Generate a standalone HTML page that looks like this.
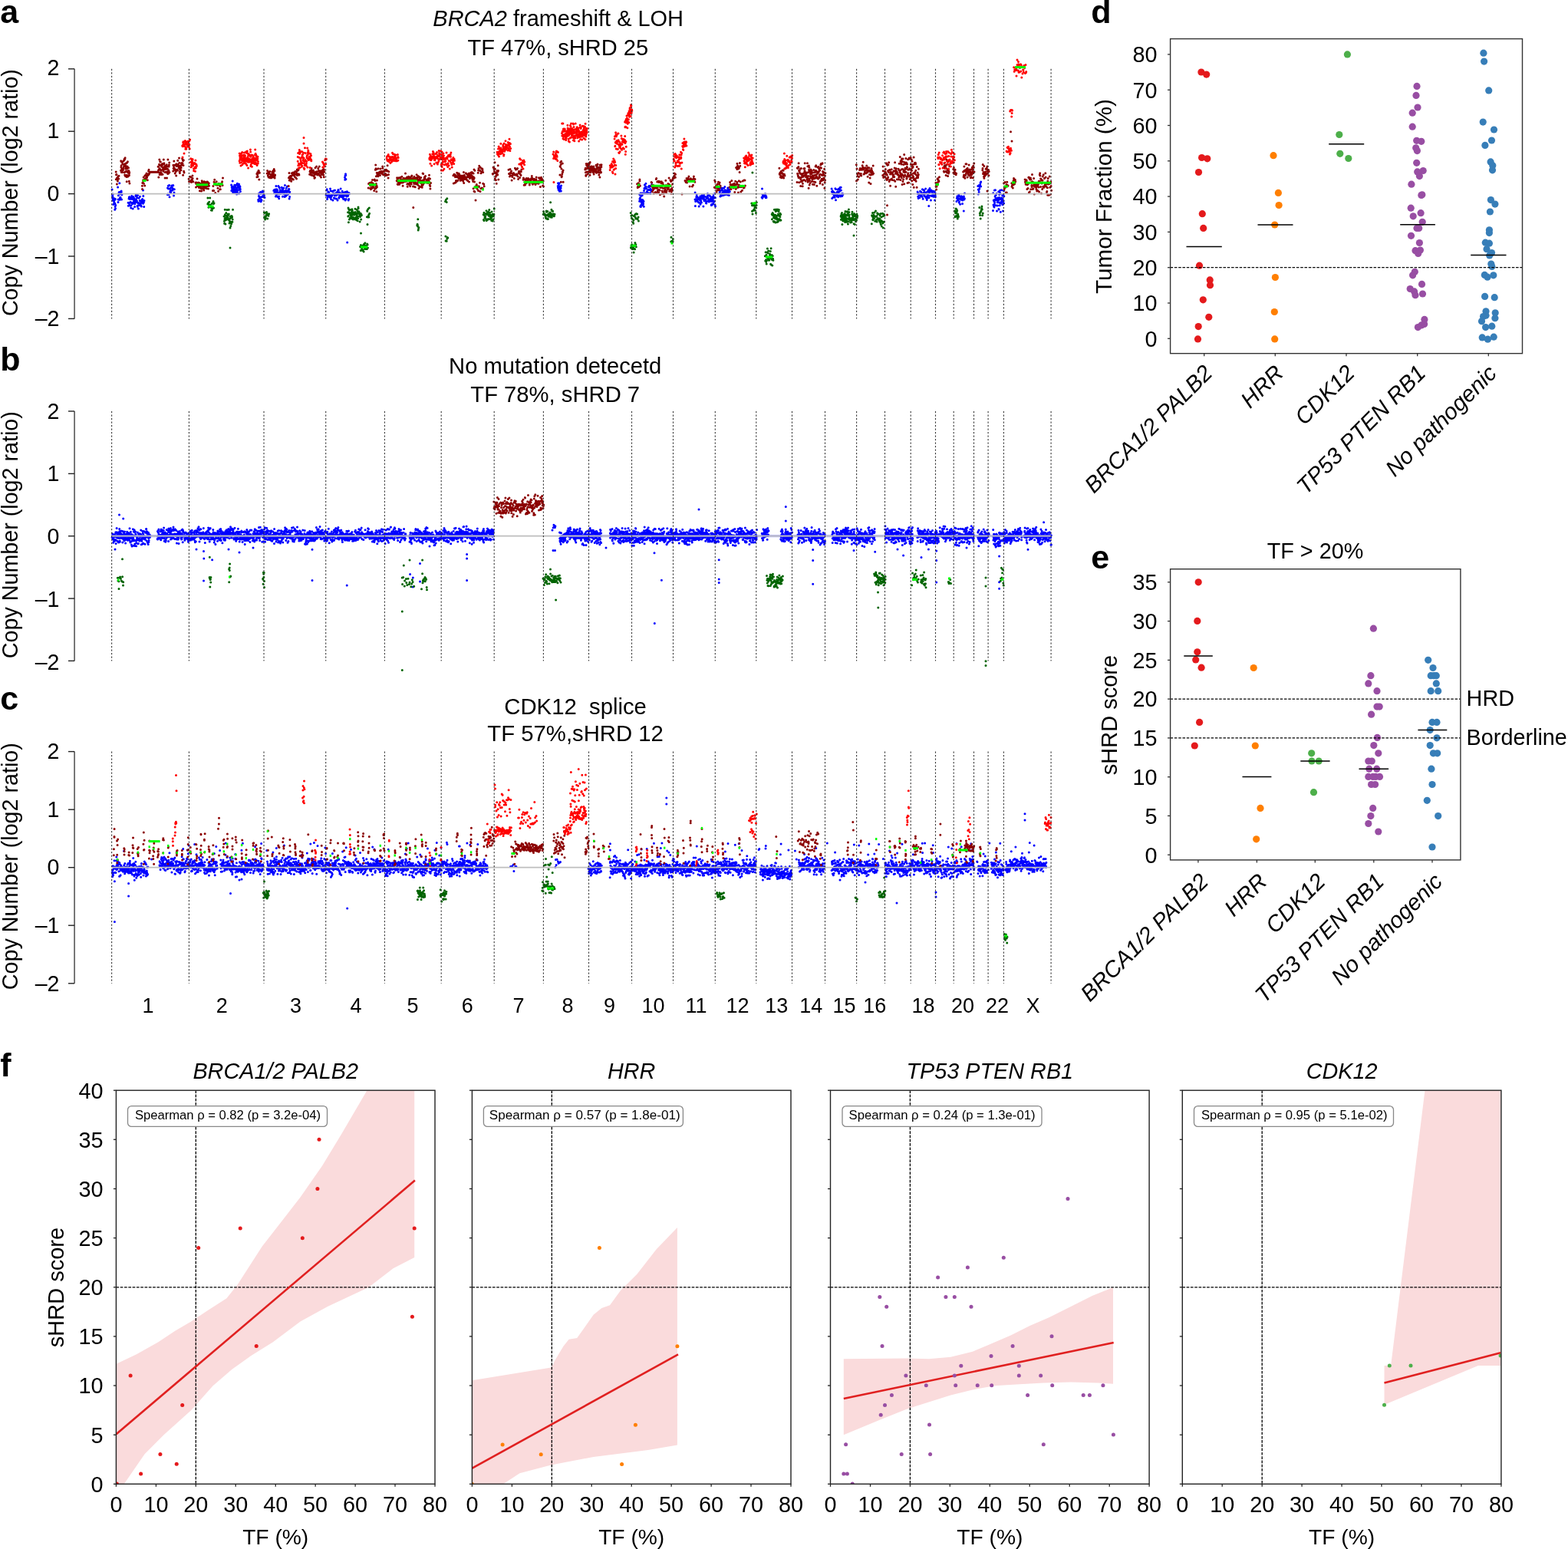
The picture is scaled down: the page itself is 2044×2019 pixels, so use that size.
<!DOCTYPE html>
<html><head><meta charset="utf-8"><title>Figure</title>
<style>html,body{margin:0;padding:0;background:#fff;overflow:hidden;}svg{display:block;}text{font-family:'Liberation Sans', Arial, Helvetica, sans-serif;}</style>
</head><body>
<svg width="2044" height="2019" viewBox="0 0 2044 2019">
<line x1="97.1" y1="89.8" x2="97.1" y2="415.4" stroke="#6a6a6a" stroke-width="1.8"/>
<line x1="89" y1="89.8" x2="97.1" y2="89.8" stroke="#222" stroke-width="1.4"/>
<text x="77.5" y="98.1" font-size="28.6" text-anchor="end">2</text>
<line x1="89" y1="171.2" x2="97.1" y2="171.2" stroke="#222" stroke-width="1.4"/>
<text x="77.5" y="179.9" font-size="28.6" text-anchor="end">1</text>
<line x1="89" y1="252.6" x2="97.1" y2="252.6" stroke="#222" stroke-width="1.4"/>
<text x="77.5" y="261.7" font-size="28.6" text-anchor="end">0</text>
<line x1="89" y1="334" x2="97.1" y2="334" stroke="#222" stroke-width="1.4"/>
<text x="77.5" y="343.5" font-size="28.6" text-anchor="end">–1</text>
<line x1="89" y1="415.4" x2="97.1" y2="415.4" stroke="#222" stroke-width="1.4"/>
<text x="77.5" y="425.3" font-size="28.6" text-anchor="end">–2</text>
<text x="0" y="0" font-size="29.5" text-anchor="middle" textLength="322" lengthAdjust="spacingAndGlyphs" transform="translate(22.6 251.1) rotate(-90)">Copy Number (log2 ratio)</text>
<text x="727.7" y="34.4" font-size="28.8" text-anchor="middle" textLength="326.7" lengthAdjust="spacingAndGlyphs"><tspan font-style="italic">BRCA2</tspan> frameshift &amp; LOH</text>
<text x="727.3" y="71.8" font-size="28.8" text-anchor="middle" textLength="235.7" lengthAdjust="spacingAndGlyphs">TF 47%, sHRD 25</text>
<text x="0.3" y="30.3" font-size="43" font-weight="bold">a</text>
<line x1="97.1" y1="536" x2="97.1" y2="861.4" stroke="#6a6a6a" stroke-width="1.8"/>
<line x1="89" y1="536" x2="97.1" y2="536" stroke="#222" stroke-width="1.4"/>
<text x="77.5" y="545.6" font-size="28.6" text-anchor="end">2</text>
<line x1="89" y1="617.4" x2="97.1" y2="617.4" stroke="#222" stroke-width="1.4"/>
<text x="77.5" y="627.4" font-size="28.6" text-anchor="end">1</text>
<line x1="89" y1="698.7" x2="97.1" y2="698.7" stroke="#222" stroke-width="1.4"/>
<text x="77.5" y="709.1" font-size="28.6" text-anchor="end">0</text>
<line x1="89" y1="780.1" x2="97.1" y2="780.1" stroke="#222" stroke-width="1.4"/>
<text x="77.5" y="790.9" font-size="28.6" text-anchor="end">–1</text>
<line x1="89" y1="861.4" x2="97.1" y2="861.4" stroke="#222" stroke-width="1.4"/>
<text x="77.5" y="872.6" font-size="28.6" text-anchor="end">–2</text>
<text x="0" y="0" font-size="29.5" text-anchor="middle" textLength="322" lengthAdjust="spacingAndGlyphs" transform="translate(22.6 697.2) rotate(-90)">Copy Number (log2 ratio)</text>
<text x="723.7" y="487.3" font-size="28.8" text-anchor="middle" textLength="277.2" lengthAdjust="spacingAndGlyphs">No mutation detecetd</text>
<text x="723.7" y="523.9" font-size="28.8" text-anchor="middle" textLength="220.8" lengthAdjust="spacingAndGlyphs">TF 78%, sHRD 7</text>
<text x="0.3" y="483" font-size="43" font-weight="bold">b</text>
<line x1="97.1" y1="979.6" x2="97.1" y2="1281.8" stroke="#6a6a6a" stroke-width="1.8"/>
<line x1="89" y1="979.6" x2="97.1" y2="979.6" stroke="#222" stroke-width="1.4"/>
<text x="77.5" y="988.8" font-size="28.6" text-anchor="end">2</text>
<line x1="89" y1="1055.2" x2="97.1" y2="1055.2" stroke="#222" stroke-width="1.4"/>
<text x="77.5" y="1064.5" font-size="28.6" text-anchor="end">1</text>
<line x1="89" y1="1130.7" x2="97.1" y2="1130.7" stroke="#222" stroke-width="1.4"/>
<text x="77.5" y="1140.2" font-size="28.6" text-anchor="end">0</text>
<line x1="89" y1="1206.2" x2="97.1" y2="1206.2" stroke="#222" stroke-width="1.4"/>
<text x="77.5" y="1215.9" font-size="28.6" text-anchor="end">–1</text>
<line x1="89" y1="1281.8" x2="97.1" y2="1281.8" stroke="#222" stroke-width="1.4"/>
<text x="77.5" y="1291.6" font-size="28.6" text-anchor="end">–2</text>
<text x="0" y="0" font-size="29.5" text-anchor="middle" textLength="322" lengthAdjust="spacingAndGlyphs" transform="translate(22.6 1129.2) rotate(-90)">Copy Number (log2 ratio)</text>
<text x="750.1" y="930.8" font-size="28.8" text-anchor="middle" textLength="185.6" lengthAdjust="spacingAndGlyphs">CDK12&#160;&#160;splice</text>
<text x="750.1" y="966" font-size="28.8" text-anchor="middle" textLength="229.6" lengthAdjust="spacingAndGlyphs">TF 57%,sHRD 12</text>
<text x="0.3" y="925.3" font-size="43" font-weight="bold">c</text>
<path d="M146.1 246.9h0M146.3 253h0M146.5 254.8h0M146.7 256.2h0M146.9 258.7h0M147 256.6h0M147.2 261.3h0M147.4 253h0M147.7 266.4h0M147.8 259h0M148 266.1h0M148.1 261.6h0M148.3 261.7h0M148.6 263.3h0M148.8 265.6h0M149 258.8h0M149.2 261.1h0M149.3 259.8h0M149.7 273.2h0M149.8 264.9h0M149.9 265.8h0M150.1 269.3h0M150.4 259.6h0M150.5 271.8h0M150.8 267.6h0M150.8 267.5h0M153.6 244.1h0M154 263.5h0M154.1 259.9h0M154.4 254.7h0M154.8 252.2h0M154.9 260.2h0M155.2 250.4h0M155.6 252.4h0M155.8 238.8h0M156.1 260.2h0M156.4 258h0M156.6 251.7h0M157 257.2h0M157.1 250.1h0M157.6 259.3h0M157.9 253.3h0M158.1 249.1h0M158.2 250.5h0M158.5 260.1h0M158.9 253.8h0M167.1 264.2h0M167.3 268.3h0M167.7 264.6h0M168 259h0M168.3 257.1h0M168.5 264.4h0M168.7 267.3h0M168.9 256.8h0M169.2 264.1h0M169.5 259.5h0M169.8 268h0M170.1 263.2h0M170.4 259h0M170.7 270.9h0M171 267.8h0M171.1 257.7h0M171.6 264.6h0M171.7 255.6h0M172.1 259.6h0M172.4 257.4h0M172.4 264.3h0M172.8 265.4h0M173.1 257.8h0M173.2 272h0M173.7 256.5h0M173.9 263.9h0M174.2 259.6h0M174.5 262h0M174.7 264.3h0M175 263.5h0M175.1 258.5h0M175.6 269.5h0M175.7 265.8h0M176 263.5h0M176.2 260.9h0M176.6 261.7h0M176.9 255.5h0M177.2 253.9h0M177.3 263.5h0M177.6 259.8h0M178 262.5h0M178.2 255.4h0M178.5 261.9h0M178.7 257.4h0M179.1 268.2h0M179.2 269.2h0M179.5 254.6h0M179.8 264.5h0M180.1 267.7h0M180.4 272.1h0M180.6 264.8h0M180.8 264.6h0M181.1 258.2h0M181.5 267.5h0M181.6 265h0M182.1 265.8h0M182.2 261.5h0M182.4 256.3h0M182.9 265.9h0M183 261.9h0M183.3 265.4h0M183.7 267.7h0M183.7 268h0M184 263.9h0M184.3 269h0M184.6 261.6h0M185 261.7h0M185.1 260h0M185.4 262.8h0M185.7 259.5h0M186 264.5h0M186.3 264.4h0M186.6 265.3h0M186.8 255.4h0M187.1 261.6h0M187.4 263.7h0M187.7 269.5h0M188 261.6h0M218.4 253.8h0M218.5 244.9h0M218.8 253h0M219.3 242.2h0M219.6 246.1h0M220 253.6h0M220.4 242.1h0M220.6 241.5h0M221 256.7h0M221.6 245.8h0M221.7 250.2h0M222.2 248.3h0M222.6 251.4h0M222.8 250.3h0M223.1 244.5h0M223.7 242h0M224 244h0M224.3 247.4h0M224.8 247.9h0M225 245.5h0M225.6 241.6h0M225.8 241.7h0M226.2 246.6h0M226.5 255h0M227 250.9h0M227.3 246.7h0M301.6 241.1h0M301.8 248.4h0M302.1 242.4h0M302.2 244.4h0M302.6 248.3h0M302.7 246.9h0M303 248.9h0M303.2 235.9h0M303.5 250.5h0M303.8 247.2h0M303.8 250.1h0M304.2 243.7h0M304.3 248.7h0M304.6 245.7h0M305 250.4h0M305.2 245.5h0M305.3 250.1h0M305.7 241.2h0M305.9 251.8h0M306.1 249.8h0M306.2 246.5h0M306.4 248.9h0M306.8 243.4h0M307 250.1h0M307.1 247.5h0M307.3 249.5h0M307.6 250.8h0M307.9 241.1h0M308 248.5h0M308.4 245.5h0M308.6 253.1h0M308.7 247h0M309.1 249.4h0M309.3 239.3h0M309.5 251.8h0M309.7 244.3h0M309.9 248.5h0M310.1 242.1h0M310.5 241.8h0M310.8 244h0M311 252.3h0M311.1 243.6h0M311.5 239.9h0M311.7 246.6h0M311.8 252.2h0M312.1 244.8h0M312.3 247h0M312.5 242.4h0M312.7 246.1h0M313 243.4h0M313.3 246.4h0M313.4 249.4h0M336.6 260.5h0M336.9 262.3h0M337.2 252.5h0M337.4 255.4h0M337.8 256.3h0M338 252h0M338.2 258.5h0M338.5 257.6h0M338.8 261.7h0M339 261.8h0M339.3 258h0M339.6 250.2h0M339.7 252.4h0M340.1 262.8h0M340.3 256.7h0M340.7 260.6h0M341 256.8h0M341 261.1h0M341.3 256.7h0M341.8 252.1h0M342 250.3h0M342.3 248.9h0M342.4 256.2h0M342.8 256.4h0M343.1 254.4h0M343.3 250.1h0M343.5 255.4h0M343.7 256.1h0M344.1 255.9h0M344.4 254.4h0M344.7 257.2h0M345 257.6h0M356.8 248.5h0M357.2 247.7h0M357.3 248.5h0M357.6 251.6h0M358 252.1h0M358.2 251.2h0M358.5 249.8h0M358.8 247h0M359.1 250.3h0M359.3 248h0M359.4 256.1h0M359.9 242.6h0M360 247.1h0M360.4 253.9h0M360.6 250.8h0M360.9 246.7h0M361.1 248.1h0M361.4 249.1h0M361.8 248.1h0M362 256.6h0M362.3 252.6h0M362.6 250.9h0M362.9 242.5h0M363 251.9h0M363.5 255.9h0M363.7 258.7h0M363.9 244h0M364.3 244.9h0M364.5 252.3h0M364.8 250.2h0M365.1 249.5h0M365.3 247.8h0M365.4 252.6h0M366 252.1h0M366.2 250.7h0M366.4 249h0M366.6 249.9h0M367.1 251.9h0M367.2 244.2h0M367.6 250.4h0M367.9 245.7h0M368.1 248.1h0M368.3 248h0M368.5 256.2h0M368.8 245.9h0M369.1 251.9h0M369.4 248.8h0M369.8 250.4h0M369.8 245.1h0M370.2 249.1h0M370.4 253.1h0M370.7 252.2h0M371 250.8h0M371.3 256.5h0M371.4 241.4h0M371.7 255.7h0M372.2 253.7h0M372.4 249.1h0M372.6 248.3h0M373 255.2h0M373.2 245.2h0M373.6 250.1h0M373.6 252.5h0M374 251.7h0M374.4 243h0M374.6 253.5h0M374.8 249.3h0M375.3 248.5h0M375.5 248.4h0M375.8 253.1h0M376 249.2h0M376.3 248.9h0M376.4 246.4h0M376.9 246.5h0M377.1 259.1h0M377.4 251.3h0M377.6 256.5h0M377.8 250.2h0M425 254.1h0M425.3 252.5h0M425.6 254.4h0M426 248.1h0M426.2 246.8h0M426.6 259.4h0M426.9 257.2h0M427.4 254.8h0M427.8 251.4h0M428 250h0M428.5 256h0M428.7 251.1h0M429.1 254.3h0M429.3 252.7h0M429.6 255.9h0M430.1 257.2h0M430.5 245.9h0M430.7 255.6h0M431.1 248.7h0M431.5 256.9h0M431.6 259.8h0M431.9 254.7h0M432.4 253.6h0M432.6 255.3h0M433.2 249.3h0M433.5 253.2h0M433.8 253h0M433.9 261.1h0M434.3 253.2h0M434.6 252h0M435.2 248.4h0M435.4 258h0M435.6 258h0M436.2 254.7h0M436.5 247.9h0M436.8 258.7h0M437.1 252.3h0M437.4 253.5h0M437.6 254.6h0M438.2 254.7h0M438.5 259.1h0M438.8 250.9h0M439 253.7h0M439.3 250.8h0M439.9 249.7h0M440 261h0M440.4 250.6h0M440.9 247.4h0M441.2 247.8h0M441.4 253.2h0M441.8 258.2h0M442 256.8h0M442.4 250.7h0M442.9 254h0M443.2 256.3h0M443.4 253.4h0M443.6 255.2h0M444.1 245.9h0M444.5 252.6h0M444.8 251.9h0M445.1 255.4h0M445.6 256.7h0M445.9 256.6h0M446.2 249.3h0M446.6 252.3h0M447 254h0M447.3 258.4h0M447.5 256.2h0M447.7 259.6h0M448.1 251.3h0M448.6 253.1h0M448.9 251.5h0M449.2 259.4h0M449.6 250.4h0M449.7 255h0M450.2 261.1h0M450.4 251.9h0M450.7 253.3h0M451.2 259.4h0M451.4 249.9h0M452 256.1h0M452.2 250.9h0M452.6 249.7h0M452.7 253.5h0M453.1 252.2h0M453.5 255.4h0M453.9 254.1h0M454.2 260.9h0M454.7 259.4h0M454.9 251.4h0M455.4 252.4h0M449.5 231.2h0M449.8 234.3h0M450 229h0M450.2 233.9h0M450.3 233.4h0M450.5 226.7h0M450.7 228.4h0M450.9 233.5h0M727.2 242.4h0M727.4 244.8h0M727.5 238.7h0M727.9 243.2h0M728 247.2h0M728.3 245.5h0M728.5 240.4h0M728.7 247.7h0M729.1 238.8h0M729.3 249.3h0M729.5 247.4h0M729.7 247.3h0M729.8 243.3h0M730.2 247h0M730.4 246.3h0M730.7 244.4h0M730.9 245.6h0M731.1 245h0M731.3 248.9h0M731.6 242.1h0M833.5 253.1h0M833.6 262.3h0M833.9 259.2h0M834.1 254.1h0M834.4 262.3h0M834.6 257.5h0M834.8 269.2h0M835.1 268.1h0M835.4 262.7h0M835.4 269.6h0M835.8 260.3h0M836 266.9h0M836.2 255.2h0M836.5 265h0M836.6 263h0M836.9 265.1h0M837.2 254.5h0M837.5 261.8h0M837.6 260.5h0M837.8 267.1h0M838.1 267.7h0M838.4 263.4h0M838.6 265.8h0M838.7 261.8h0M839 262.4h0M839.3 269.2h0M839.5 248.6h0M839.9 245.6h0M840.4 240.9h0M840.7 245.7h0M841.4 243.4h0M841.7 243h0M841.9 239.2h0M842.3 243.7h0M842.8 246h0M843.4 249.5h0M843.7 250.6h0M844.2 251.1h0M844.3 251.7h0M845.1 247.6h0M845.3 243.4h0M845.7 246.9h0M846.3 242.2h0M846.5 243.6h0M847.1 247.5h0M847.3 242.8h0M847.7 252h0M848 246.3h0M848.6 242.7h0M848.9 249.1h0M849.6 240.4h0M849.7 247.7h0M906 260.1h0M906.1 251.1h0M906.4 268.4h0M906.7 262.4h0M906.9 259.7h0M907.3 260.6h0M907.4 261.3h0M907.8 256.9h0M908 256h0M908.2 253.5h0M908.4 257.3h0M908.7 256.5h0M909.1 256.5h0M909.2 260.4h0M909.6 260h0M909.8 263.1h0M910.1 259.5h0M910.3 259.2h0M910.6 258.6h0M910.9 263.9h0M911.1 269.1h0M911.3 259h0M911.7 257.9h0M912 258.4h0M912 258.3h0M912.5 261h0M912.8 256.1h0M913 266.2h0M913 264.7h0M913.4 259.8h0M913.7 261.9h0M913.8 262h0M914.3 258.4h0M914.4 263.9h0M914.7 256.2h0M915 254.5h0M915.2 257.2h0M915.6 255.6h0M915.9 255.5h0M916 258.9h0M916.2 256.4h0M916.6 258.2h0M916.9 269.1h0M917.1 258.3h0M917.4 255.6h0M917.7 253.5h0M917.9 260.4h0M918 261.7h0M918.4 259.8h0M918.6 261.1h0M918.8 256.3h0M919.1 260.8h0M919.4 261.9h0M919.7 261.1h0M919.9 260.7h0M920.2 261.9h0M920.4 264.8h0M920.8 264.9h0M920.8 257.2h0M921.2 258.5h0M921.3 262.5h0M921.8 257h0M921.9 256.1h0M922.4 252.6h0M922.4 256.8h0M922.9 258h0M922.9 253.9h0M923.2 262h0M923.6 259.5h0M923.7 260.1h0M924.2 262.9h0M924.2 254.3h0M924.4 261.7h0M924.8 262.5h0M925 260.6h0M925.5 255.6h0M925.5 260.4h0M925.8 261h0M926.2 262.3h0M926.3 259.2h0M926.7 260.2h0M926.8 257.9h0M927.3 267.5h0M927.4 266.6h0M927.7 262.5h0M927.8 257h0M928.2 267.1h0M928.3 262h0M928.6 258.7h0M929 265.9h0M929.1 258.4h0M929.3 260.4h0M929.8 265.3h0M929.9 255.8h0M930.1 253.3h0M930.6 257.3h0M930.8 262.9h0M931 257.9h0M931.3 257.9h0M931.4 262.4h0M931.8 252.2h0M932.1 267.2h0M932.4 257.8h0M932.5 269.1h0M937.6 248h0M937.7 245.6h0M938.2 251.8h0M938.3 250.2h0M938.5 248.9h0M938.9 255.9h0M939.3 253.4h0M939.4 248.6h0M939.8 245.1h0M940 245.1h0M940.2 255.3h0M940.6 247.7h0M940.9 252.7h0M941.1 252.1h0M941.5 254.7h0M941.6 245.2h0M941.9 248.2h0M942.1 248.4h0M942.5 251.5h0M942.6 250.2h0M943 249h0M943.1 254.4h0M943.5 245.2h0M943.7 250.6h0M944.2 252.3h0M944.4 250.5h0M944.6 250.1h0M944.8 243.6h0M945.2 247.8h0M945.3 253.8h0M945.7 249.2h0M945.8 250.2h0M946.2 252.3h0M946.5 249.9h0M946.6 252.8h0M946.9 253.2h0M947.3 248h0M947.5 250.6h0M947.9 249.9h0M948 249h0M948.4 253.9h0M948.7 245h0M948.8 247.7h0M949.1 249.4h0M949.4 254h0M949.6 250.9h0M949.9 250.9h0M950.3 254.6h0M950.5 248.9h0M950.9 247.1h0M951.2 250.1h0M951.3 249.6h0M993.1 257.2h0M993.5 246.1h0M993.8 258.2h0M994.1 253.4h0M994.3 255.8h0M994.6 253.8h0M995.2 256.3h0M995.4 254.4h0M995.6 253.4h0M996 254.5h0M996.2 253.6h0M996.7 255.6h0M996.8 253.1h0M997.3 253.7h0M997.5 255.9h0M997.8 252.7h0M998.3 257.8h0M998.5 255.5h0M998.8 256h0M999 257.6h0M1084.1 245.9h0M1084.4 249.9h0M1084.7 258.5h0M1085.3 252.4h0M1085.3 248.7h0M1085.9 257.3h0M1086.1 252.7h0M1086.4 250.3h0M1086.9 250.6h0M1087.2 254.5h0M1087.5 251.8h0M1087.7 255.9h0M1088.2 257.3h0M1088.6 251.8h0M1088.6 253.2h0M1088.9 245.7h0M1089.5 260.8h0M1089.6 246.6h0M1089.9 254.4h0M1090.2 252.3h0M1090.5 254.5h0M1091.2 255.9h0M1091.3 250.2h0M1091.7 253.3h0M1092.1 247.1h0M1092.5 250h0M1092.8 256.7h0M1092.9 256.2h0M1093.3 250.7h0M1093.5 245.9h0M1093.8 254.9h0M1094.4 246.5h0M1094.7 254.4h0M1094.9 248.9h0M1095.3 244.2h0M1095.5 247.9h0M1095.9 255.9h0M1096.2 244.2h0M1096.4 248h0M1096.8 254.7h0M1097.1 254.8h0M1097.7 252.3h0M1097.9 255.6h0M1098.1 253.8h0M1098.6 252.5h0M1098.8 253.4h0M1196.1 249.9h0M1196.3 252.5h0M1196.7 256.3h0M1197 251.9h0M1197.2 258.5h0M1197.7 252.6h0M1198.1 252.4h0M1198.3 253h0M1198.4 254.2h0M1199 257.6h0M1199.2 254.3h0M1199.5 249.3h0M1199.8 254.2h0M1200.2 255.2h0M1200.4 254.6h0M1200.7 250.3h0M1201.1 250.7h0M1201.2 253.6h0M1201.7 252.7h0M1201.8 252.1h0M1202.3 256.6h0M1202.4 246.8h0M1202.8 252.6h0M1203.2 259.3h0M1203.3 253h0M1203.7 247.4h0M1204.2 251.2h0M1204.4 253.9h0M1204.7 248.3h0M1205 253.7h0M1205.1 250.9h0M1205.5 256h0M1205.9 252.3h0M1206.1 251.1h0M1206.6 246.1h0M1206.8 251.2h0M1207.1 251.8h0M1207.3 257.9h0M1207.7 258h0M1207.9 255.9h0M1208.3 260.4h0M1208.7 249.9h0M1208.9 255.6h0M1209 257.7h0M1209.4 253.6h0M1209.9 253.4h0M1210.1 247.8h0M1210.3 248.5h0M1210.6 250.4h0M1211 257.8h0M1211.3 255.2h0M1211.5 251.4h0M1211.8 246.9h0M1212 245.5h0M1212.4 248.6h0M1212.9 248.7h0M1212.9 249.6h0M1213.4 261.1h0M1213.8 255.3h0M1214.1 248h0M1214.2 249.6h0M1214.8 250.2h0M1214.8 255.4h0M1215.1 255.1h0M1215.5 252h0M1215.9 252.5h0M1216.2 249.2h0M1216.5 254h0M1216.7 256.3h0M1217.1 252.2h0M1217.3 252.6h0M1217.6 256.2h0M1217.9 249.4h0M1218.3 250.4h0M1218.6 261.1h0M1219 251.6h0M1219.2 254.2h0M1219.4 256.6h0M1246.9 262.5h0M1247.3 258.2h0M1247.8 256.1h0M1248 258.6h0M1248.5 260.7h0M1248.5 256h0M1249.2 258.5h0M1249.4 260.5h0M1249.8 254.1h0M1250.2 264.1h0M1250.5 262.9h0M1250.6 255.4h0M1251.2 258.8h0M1251.6 266.2h0M1251.8 258.6h0M1252.2 257.8h0M1252.5 260.3h0M1252.7 258.3h0M1253.2 255.7h0M1253.7 256.2h0M1253.7 260.3h0M1254.1 257.6h0M1254.6 265.4h0M1254.8 261.1h0M1255.3 256.5h0M1255.7 257.2h0M1256.1 259.4h0M1256.2 257.3h0M1256.4 255.9h0M1257 260h0M1257.4 258.8h0M1257.5 252h0M1274.8 242.5h0M1275.2 252.9h0M1275.3 247.1h0M1275.8 247.7h0M1276.2 250.3h0M1276.3 241.6h0M1276.8 246h0M1277.1 243.3h0M1277.4 241.8h0M1277.7 241.1h0M1278 238.5h0M1278.6 243.1h0M1278.7 237h0M1294.5 274.5h0M1294.7 251.7h0M1295 266.9h0M1295.3 261h0M1295.6 269h0M1295.7 262.2h0M1296 270.1h0M1296.1 266.4h0M1296.4 248.1h0M1296.7 264.2h0M1296.9 260.1h0M1297.1 256.3h0M1297.3 261.2h0M1297.5 247.8h0M1297.7 254.8h0M1298 259.6h0M1298.1 254.4h0M1298.4 267.7h0M1298.6 258.4h0M1298.8 259.4h0M1299.1 252.2h0M1299.3 260.1h0M1299.5 275h0M1299.7 258.5h0M1300 260.9h0M1300.3 263.7h0M1300.4 268h0M1300.5 259.3h0M1300.8 260.5h0M1301.1 257.8h0M1301.2 261.5h0M1301.6 261.2h0M1301.7 249.7h0M1301.9 272.6h0M1302.1 273.1h0M1302.4 259.8h0M1302.6 253.4h0M1302.9 264.2h0M1303 257.5h0M1303.2 267.7h0M1303.4 251.1h0M1303.8 248.1h0M1303.9 252.5h0M1304.3 276.2h0M1304.4 264.9h0M1304.7 263.6h0M1304.8 260h0M1305.1 258.9h0M1305.3 264.5h0M1305.5 264.1h0M1305.7 247.8h0M1305.9 258.3h0M1306.1 257.7h0M1306.3 261.2h0M1306.7 254.4h0M1306.9 266.7h0M1307 259.5h0M1307.2 263h0M1307.6 274.9h0M1307.8 253.5h0M1308 254.5h0M1308.2 261.8h0M1308.5 248.7h0M1308.6 265.1h0M1308.8 255.8h0M452.7 315.9h0M1210.8 268.4h0M1256.3 275h0M186.5 248h0" stroke="#0000ff" stroke-width="3.0" stroke-linecap="round" fill="none"/>
<path d="M270.8 266h0M270.9 257.9h0M271.2 264.7h0M271.6 265.9h0M271.9 270.3h0M272.5 268.6h0M272.7 263.3h0M273.1 268h0M273.5 267.3h0M273.7 257.9h0M274.2 267.1h0M274.4 267.9h0M274.9 270.2h0M275.2 269.5h0M275.4 274.1h0M275.7 270.8h0M276.3 274.2h0M276.3 265.3h0M276.9 265.1h0M276.9 272h0M277.4 270.9h0M277.9 271.3h0M278 262.4h0M278.5 271h0M278.6 265.4h0M279 264.8h0M292 282.1h0M292.4 288.3h0M292.6 291.3h0M292.9 285.6h0M293.2 273.3h0M293.3 279.7h0M293.6 284.3h0M293.9 292.1h0M294.2 285.8h0M294.4 286.7h0M294.5 281.2h0M294.8 277.4h0M295.1 284.2h0M295.3 284.7h0M295.7 281.7h0M295.9 273.5h0M296.1 281.1h0M296.3 283.3h0M296.6 285.7h0M296.9 279.2h0M297.1 283.2h0M297.3 285.6h0M297.6 280.6h0M297.8 279.8h0M298.2 273.2h0M298.3 279h0M298.6 287.1h0M299 290.9h0M299.2 285.9h0M299.5 288.2h0M299.7 289.4h0M299.8 284.8h0M300 296.9h0M300.3 282.1h0M300.5 290.2h0M300.8 294.5h0M301.2 283.7h0M301.3 283.8h0M301.6 291.8h0M301.9 289.3h0M302.1 281.6h0M302.5 282.7h0M302.6 282.9h0M302.9 289.3h0M303.2 286h0M303.5 273.2h0M344.3 277.1h0M344.6 282.7h0M344.7 283.4h0M345 277.5h0M345.6 286.1h0M345.7 282.3h0M346.3 283.8h0M346.5 282h0M347 280.3h0M347 276.7h0M347.5 276.4h0M347.7 279.4h0M348 278.2h0M348.4 279.3h0M348.7 285h0M349.1 280.3h0M349.3 279.2h0M349.8 279.4h0M350 281.3h0M350.6 278.8h0M453.5 276.8h0M453.8 282h0M454 271.1h0M454.2 281.5h0M454.4 289.7h0M454.7 272.8h0M454.9 276.6h0M455.1 273.6h0M455.4 286.1h0M455.6 278h0M455.8 278.2h0M456.1 277.4h0M456.3 284h0M456.6 279.5h0M456.7 273.5h0M456.9 283.8h0M457.3 280.8h0M457.6 284.4h0M457.6 281.3h0M457.9 279.2h0M458.2 282.3h0M458.4 276.3h0M458.7 280.5h0M458.9 272.7h0M459 278.4h0M459.3 274.6h0M459.7 285h0M459.7 285.8h0M460.1 283.4h0M460.3 278.9h0M460.5 277.3h0M460.7 280.1h0M461 278.1h0M461.2 276.9h0M461.4 283.7h0M461.6 284.7h0M461.9 285.7h0M462.2 279.7h0M462.3 280.1h0M462.5 278.3h0M462.8 277h0M463 272.3h0M463.2 276.6h0M463.4 284.2h0M463.7 278.6h0M463.9 277.9h0M464.3 283h0M464.3 278.6h0M464.6 286.7h0M464.9 284h0M465.1 273.2h0M465.2 280.5h0M465.7 281.9h0M465.9 277.7h0M466.1 275.3h0M466.2 287.7h0M466.5 278.1h0M466.8 284.4h0M467 270h0M467.1 271.8h0M467.4 278.2h0M467.8 278.3h0M467.9 275.7h0M468.2 281.7h0M468.5 278.8h0M468.6 277.6h0M468.9 281.9h0M469.1 288.9h0M469.2 277.9h0M469.6 282.4h0M469.7 279.5h0M470.1 278.5h0M470.2 278.3h0M470.4 279h0M470.7 285.9h0M471 279.4h0M471.1 280.7h0M471.4 280.5h0M469.6 321.4h0M470.2 326.5h0M470.4 319.5h0M470.9 322.5h0M471.2 320.5h0M471.6 323.8h0M471.9 324.6h0M472.4 322.3h0M472.7 326.5h0M473.2 325.9h0M473.6 319.6h0M474.1 328h0M474.4 319.5h0M474.7 318h0M475.1 319.2h0M475.5 324.3h0M475.9 316.7h0M476.5 320.9h0M476.6 324.6h0M476.9 322.4h0M477.6 320.2h0M477.7 320.3h0M478.4 324.4h0M478.7 318h0M479.1 319h0M479.4 322.9h0M478.4 282.8h0M478.7 274.6h0M478.8 275.2h0M479.4 283.1h0M479.8 272.4h0M480.2 281.5h0M480.8 283.1h0M480.8 280.1h0M481.3 271.1h0M481.6 278.2h0M543.8 293.7h0M544.1 292.3h0M544.4 293.6h0M544.5 294.9h0M544.8 285.8h0M545.2 300.1h0M545.6 298h0M545.9 296.4h0M580.5 262.6h0M581.3 260.5h0M582.2 263.4h0M582.8 258.8h0M580.9 308h0M581.1 314h0M582.2 314.2h0M582.8 311.2h0M583.2 309.5h0M583.8 309.9h0M630.2 279.7h0M630.4 286.5h0M630.9 277.2h0M631 287.6h0M631.3 280.3h0M631.7 281.2h0M631.9 284h0M632.3 282.1h0M632.7 284h0M632.8 282.1h0M633.2 278.5h0M633.7 286h0M634 274.7h0M634.2 287.6h0M634.5 279.6h0M634.7 277.9h0M635 285.9h0M635.4 286.6h0M635.6 276.7h0M635.9 278.9h0M636.4 285.5h0M636.7 276h0M637 281.3h0M637.3 276.8h0M637.5 280h0M637.8 273.5h0M638.3 285.4h0M638.4 277.3h0M638.8 279.6h0M639 282.5h0M639.3 280.2h0M639.7 282.8h0M639.9 284.8h0M640.3 285h0M640.7 287.6h0M641 276h0M641.2 282.7h0M641.6 280.8h0M642 279.2h0M642.2 288h0M642.5 281h0M642.9 281h0M643.1 286.1h0M643.5 281.5h0M643.9 279.2h0M644.2 271.9h0M708.2 279.3h0M708.6 275.8h0M708.7 279.7h0M709.1 278.2h0M709.5 278.7h0M709.7 279.6h0M710.1 279h0M710.4 279.8h0M710.7 280.8h0M711.2 283h0M711.6 284.5h0M711.8 280.4h0M712.2 275h0M712.4 276.3h0M712.6 284.6h0M713 280.4h0M713.5 285.4h0M713.8 275.6h0M713.9 280.8h0M714.4 285.4h0M714.7 278.9h0M715 279.1h0M715.2 282.2h0M715.8 280h0M716 280.9h0M716.4 279.7h0M716.8 279.2h0M716.9 277.1h0M717.2 280.8h0M717.5 281.8h0M717.8 283h0M718.3 279.7h0M718.7 278.7h0M718.9 273.2h0M719.3 283.2h0M719.6 280.9h0M719.8 275.2h0M720.1 280.3h0M720.6 275.2h0M720.8 280.9h0M721.3 278.8h0M721.6 280.1h0M721.8 279.9h0M722.3 281.8h0M722.5 281.6h0M723 279.3h0M822.2 277.6h0M822.9 281.2h0M823.4 284.3h0M823.8 280.5h0M824.5 285.6h0M825.2 289.7h0M825.7 291.2h0M825.9 287.1h0M826.3 281.6h0M826.9 281.8h0M827.7 279.7h0M828.2 283h0M828.7 285h0M829.3 278.5h0M829.9 279.1h0M830.1 284.9h0M830.6 278.9h0M831.2 285.6h0M832.1 283h0M832.4 288h0M822.4 322.5h0M822.6 323.2h0M822.9 320h0M823.4 322.6h0M823.6 318.7h0M824.2 319.7h0M824.2 320.6h0M824.7 319.8h0M825 324.6h0M825.6 319.9h0M825.7 321.9h0M826.1 329.1h0M826.4 320.8h0M826.9 324.3h0M827.2 319.7h0M827.6 324.8h0M827.9 316.4h0M828.4 320.5h0M828.8 318.7h0M829.3 321.7h0M874.7 314.9h0M875 309.2h0M875.6 314.2h0M876.3 315.3h0M877.1 314.5h0M877.3 311.4h0M979.8 264.9h0M980.5 275.3h0M980.5 267.8h0M981 279.1h0M981.4 274.8h0M981.6 267h0M982.1 267.3h0M982.5 266.7h0M982.7 267.7h0M982.9 272.9h0M983.4 265.2h0M983.8 268.3h0M983.9 270.8h0M984.2 274.3h0M984.7 264.5h0M985.1 267.9h0M985.4 277.6h0M985.7 270.9h0M986.1 267.4h0M986.3 263.8h0M997.3 333.8h0M997.7 340h0M998.1 328.8h0M998.4 338.7h0M998.7 341.2h0M999 332.2h0M999.2 343.9h0M999.5 339.6h0M999.7 334.7h0M1000.3 328.8h0M1000.4 324h0M1000.8 337h0M1001.1 329.7h0M1001.4 336.9h0M1001.7 327.1h0M1001.9 337.1h0M1002.2 336h0M1002.4 339.2h0M1002.9 338.7h0M1003 335.6h0M1003.5 332.8h0M1003.6 331h0M1004 334.8h0M1004.3 327.4h0M1004.6 344.2h0M1005 336.7h0M1005.1 323.8h0M1005.6 345.2h0M1005.9 336.7h0M1006.2 332.4h0M1006.5 338.6h0M1006.8 346.1h0M1007.1 336.9h0M1007.2 333.6h0M1007.6 337.3h0M1007.9 339.3h0M1006.2 279.3h0M1006.4 285.7h0M1006.8 280.2h0M1006.8 280.1h0M1007.1 277.6h0M1007.4 278.5h0M1007.8 278.5h0M1008 279.5h0M1008.2 288.4h0M1008.5 283.5h0M1008.8 289.3h0M1008.9 281.9h0M1009.4 273.3h0M1009.6 288.8h0M1009.7 284.3h0M1010.1 283.4h0M1010.3 280.2h0M1010.6 280.3h0M1010.7 284.9h0M1011 289.9h0M1011.2 275.6h0M1011.7 272.9h0M1012 282.9h0M1012 282.5h0M1012.4 274.8h0M1012.5 281.3h0M1012.9 289.6h0M1013.1 286.2h0M1013.4 284.8h0M1013.8 272.9h0M1014 281.1h0M1014.2 289h0M1014.5 279.1h0M1014.7 280.3h0M1015.1 275.8h0M1015.4 273.5h0M1015.6 287h0M1015.8 286.3h0M1016.1 285.5h0M1016.2 281.4h0M1016.7 287h0M1016.9 282.4h0M1017.1 278.3h0M1017.4 287.2h0M1017.7 279.6h0M1017.9 286.9h0M1096.1 282.1h0M1096.3 281.1h0M1096.4 286.2h0M1096.7 283h0M1097 278.8h0M1097.2 280.3h0M1097.3 286.2h0M1097.5 277.6h0M1097.8 283.9h0M1097.9 292.4h0M1098.2 284.8h0M1098.4 285.6h0M1098.5 280.5h0M1098.9 281.3h0M1098.9 287.9h0M1099.3 280.2h0M1099.4 284.1h0M1099.7 286.1h0M1099.8 280.7h0M1100 280.6h0M1100.4 286.6h0M1100.4 279.4h0M1100.7 287.2h0M1100.9 282.2h0M1101 278.4h0M1101.4 284.8h0M1101.6 289.6h0M1101.7 283.3h0M1101.9 275.4h0M1102.2 286.4h0M1102.5 287.1h0M1102.6 286.2h0M1102.8 279.9h0M1103 281.2h0M1103.2 276.1h0M1103.5 284.5h0M1103.7 289.2h0M1103.9 285.4h0M1103.9 288h0M1104.3 281h0M1104.5 280.3h0M1104.6 275.8h0M1104.9 280.3h0M1105.2 280h0M1105.3 278.4h0M1105.4 292h0M1105.8 284.9h0M1106 285.3h0M1106.1 288.7h0M1106.3 285.6h0M1106.4 273.1h0M1106.8 281.3h0M1106.9 276.4h0M1107.1 282.9h0M1107.3 280h0M1107.6 284.7h0M1107.7 286h0M1107.9 286.6h0M1108.2 285.7h0M1108.3 285h0M1108.5 287h0M1108.8 289.9h0M1109 285h0M1109.2 287.4h0M1109.6 288h0M1109.7 285.5h0M1109.8 284.5h0M1110.2 289.5h0M1110.3 286.7h0M1110.6 278.9h0M1110.7 285.1h0M1111 276.2h0M1111.1 283.7h0M1111.4 280.2h0M1111.5 281h0M1111.7 284.2h0M1111.9 282.3h0M1112.2 281.4h0M1112.4 281.7h0M1112.5 282.3h0M1112.7 286.8h0M1113.1 291.8h0M1113.3 286.6h0M1113.5 278.4h0M1113.6 280h0M1113.9 281.7h0M1114.1 285.4h0M1114.3 292.5h0M1114.5 281.6h0M1114.6 280.6h0M1115 282.1h0M1115.1 280.2h0M1115.4 285.7h0M1115.5 288.8h0M1115.7 286.1h0M1115.8 284.9h0M1116.1 280.6h0M1116.3 283h0M1116.5 287h0M1116.9 279.1h0M1117 280.5h0M1117.3 283.9h0M1117.5 282.5h0M1117.7 281.3h0M1136.3 291.7h0M1136.6 280.7h0M1137 282h0M1137.5 277.5h0M1137.7 286.2h0M1137.9 286.7h0M1138.4 283.9h0M1138.9 280.3h0M1139 282.7h0M1139.5 284.9h0M1139.9 277h0M1140.4 282.1h0M1140.7 288.2h0M1141.1 282.2h0M1141.5 275h0M1141.6 282.4h0M1142.2 282h0M1142.6 286.2h0M1142.8 281.8h0M1143.1 288.9h0M1143.6 277.7h0M1144 284.5h0M1144.2 279.2h0M1144.9 285.9h0M1145.1 278.9h0M1145.3 285.2h0M1145.9 286.7h0M1146.3 284.7h0M1146.5 288.5h0M1146.8 285.2h0M1147.2 281h0M1147.6 290.3h0M1147.9 278.6h0M1148.2 292.4h0M1148.8 287.5h0M1149 282.9h0M1149.3 295.1h0M1149.9 288.6h0M1150.2 278.2h0M1150.7 291h0M1151 281.8h0M1151.4 297.1h0M1151.8 278.9h0M1152.1 289.3h0M1152.4 289.3h0M1152.9 281.1h0M1244.7 275.1h0M1245.1 282.8h0M1245.2 282h0M1245.5 277.6h0M1246 271.9h0M1246.4 278h0M1246.6 281.4h0M1246.9 272.7h0M1247.2 276.1h0M1247.7 274.4h0M1248 282.9h0M1248.3 284.9h0M1248.6 279.1h0M1248.8 280.2h0M1249.2 281.7h0M1249.5 282.6h0M1276.8 270.5h0M1277.3 277.9h0M1277.6 280.4h0M1278.1 276.6h0M1278.2 285.1h0M1278.6 275.8h0M1278.9 275.6h0M1279.3 273.6h0M1279.7 271.4h0M1279.9 268.9h0M1280.3 273.1h0M1280.6 280.8h0M1281.2 277.9h0M300 323h0M479 292.6h0M470.5 304h0M717.6 263.7h0M980.9 224.9h0M1113 307h0" stroke="#006400" stroke-width="3.0" stroke-linecap="round" fill="none"/>
<path d="M151.2 223.9h0M151.3 233.8h0M151.5 227.8h0M151.8 227.6h0M152 227.5h0M152.4 239.9h0M152.5 232h0M152.8 233.6h0M153.2 234h0M153.4 236h0M153.5 231.8h0M153.9 230.1h0M154 229.9h0M154.3 233.2h0M154.7 233h0M155 229.2h0M157.5 222.3h0M157.7 209.7h0M157.9 217.8h0M158.1 215.8h0M158.3 224.4h0M158.4 210.9h0M158.7 219.2h0M158.8 220.1h0M159 223.1h0M159.2 220.8h0M159.4 223.8h0M159.6 224.4h0M159.8 213.6h0M159.9 210.7h0M160 221h0M160.3 220.3h0M160.5 221.5h0M160.6 219.8h0M160.8 219.5h0M161 214.3h0M161.1 209.4h0M161.4 217.4h0M161.5 217.2h0M161.7 209h0M161.8 215h0M162.1 207.3h0M162.2 224.8h0M162.4 207.8h0M162.6 214.6h0M162.7 227.9h0M162.8 207.4h0M163.1 205.7h0M163.3 213.3h0M163.4 229.5h0M163.6 223.8h0M163.8 219.9h0M163.9 216h0M164.1 217.8h0M164.3 213h0M164.6 223.1h0M164.6 228.9h0M164.9 223.6h0M165 230.6h0M165.2 236.8h0M165.4 228.3h0M165.6 219.7h0M165.7 212.1h0M166 229.3h0M166.1 217.1h0M166.2 230.3h0M166.4 210.8h0M166.7 224.7h0M166.8 229.9h0M166.9 222.8h0M167.1 223.9h0M167.3 229.6h0M167.5 218.8h0M167.7 225.4h0M167.9 222.6h0M167.9 226.1h0M168.3 236.2h0M168.4 228.4h0M168.5 226h0M168.7 224.4h0M168.9 239h0M185.4 242.2h0M185.5 246.6h0M185.8 238.6h0M186.2 237.6h0M186.6 234.8h0M187.2 230.9h0M187.4 239.2h0M187.8 235.2h0M188.2 234.3h0M188.7 241.9h0M188.9 228.9h0M189.4 233.1h0M189.9 228h0M190.1 233.4h0M190.4 232.1h0M191 225.9h0M191.2 229.6h0M191.6 231.3h0M192.3 234.8h0M192.7 228.8h0M193.1 227.8h0M193.3 227.1h0M193.6 223.1h0M194 221.2h0M194.2 227.3h0M194.9 225.4h0M206.1 217.2h0M206.4 217.1h0M206.5 221.9h0M206.8 231.1h0M207.1 221.1h0M207.3 224.8h0M207.5 214.3h0M207.8 207.9h0M208 219.6h0M208.1 227.4h0M208.5 215.4h0M208.7 210.7h0M209 226.3h0M209.2 221h0M209.3 211.1h0M209.6 224.4h0M209.8 222.1h0M209.9 215.4h0M210.3 225.9h0M210.4 227.4h0M210.7 217.3h0M211 214.1h0M211.2 217.2h0M211.5 214.9h0M211.7 213.6h0M212 227.2h0M212.2 221h0M212.3 218.6h0M212.5 221h0M212.8 223.3h0M213.1 222.3h0M213.3 207.9h0M213.5 219.3h0M213.8 213.8h0M213.9 212.7h0M214.2 220.1h0M214.5 218.4h0M214.6 216.8h0M214.9 220.6h0M215.1 231.9h0M215.3 224.6h0M215.6 215.9h0M215.8 217.1h0M216.1 216h0M216.3 218.4h0M216.5 223.9h0M216.6 220.3h0M216.9 220.2h0M217.3 214.8h0M217.5 232.1h0M217.8 224.9h0M217.8 224.6h0M218.1 216.9h0M218.5 220.3h0M218.7 226.4h0M218.9 207.9h0M219.1 222.9h0M219.3 225.5h0M219.5 224.9h0M219.7 226.1h0M219.9 222.1h0M220.2 217.1h0M220.4 214.9h0M220.7 212h0M220.9 224.4h0M225.7 222.9h0M225.9 215.3h0M226.1 219.5h0M226.4 216.5h0M226.8 210h0M227 218.8h0M227.4 221.2h0M227.6 219.7h0M227.8 215.2h0M228.2 226h0M228.4 221.1h0M228.8 221.9h0M228.9 224.1h0M229.3 223.6h0M229.7 228.9h0M229.8 213.7h0M230.2 216.4h0M230.4 222.3h0M230.8 221.1h0M230.9 215.5h0M231.2 214.5h0M231.5 222h0M231.7 209.3h0M232.1 214.3h0M232.4 215h0M232.7 216.7h0M233 217.8h0M233.2 219.1h0M233.5 205.9h0M233.8 212.3h0M234.1 224.1h0M234.4 220.6h0M234.4 225.5h0M235 222.2h0M235 216h0M235.5 215.8h0M235.7 218.1h0M236 221.7h0M236.2 218.5h0M236.5 212.7h0M236.9 215.1h0M237.1 212.6h0M237.4 215h0M237.6 206.7h0M238 212.8h0M238.3 209h0M238.6 228.2h0M238.8 209.4h0M239 215.6h0M239.3 208.8h0M239.6 223.3h0M240 224.9h0M246.1 233.2h0M246.5 236.6h0M247 236.5h0M247.8 230.2h0M248.1 235.9h0M248.7 235.5h0M248.9 230.9h0M249.4 237.5h0M250 234.3h0M250.6 235.3h0M250.9 229h0M251.1 232.4h0M251.8 236.8h0M255 238h0M255.5 243.9h0M255.8 239.4h0M256 239.7h0M256.3 237.9h0M256.5 240h0M256.7 238.6h0M257 232.9h0M257.4 242.2h0M257.7 239h0M257.9 241.5h0M258 242.4h0M258.4 240h0M258.8 238h0M258.9 239.2h0M259.3 241.4h0M259.4 244.6h0M259.8 238.5h0M260 240.3h0M260.4 248.7h0M260.6 239.6h0M260.9 239.9h0M261 243.1h0M261.4 239.4h0M261.7 242.7h0M261.8 245.1h0M262 245.4h0M262.6 249.1h0M262.8 239.1h0M263.1 245.9h0M263.2 235.7h0M263.4 237.5h0M263.7 239.1h0M264 241.4h0M264.4 243h0M264.5 244.8h0M264.9 238.5h0M265 245.4h0M265.5 246.5h0M265.7 248h0M266 236.8h0M266.3 243.6h0M266.6 241h0M266.9 236.9h0M267.1 243.2h0M267.3 238.1h0M267.6 244.6h0M267.9 238.6h0M268.1 243.6h0M268.3 239.2h0M268.7 245.6h0M269 237.6h0M269.3 239.4h0M269.4 245.4h0M269.7 237.1h0M270 242.4h0M270.2 239.5h0M270.5 237h0M270.8 239h0M271 242.6h0M271.5 246.1h0M271.8 239.9h0M271.9 241.8h0M272.3 238.7h0M272.5 242.3h0M277.4 248.5h0M277.9 242.6h0M278.7 248.5h0M279 237.2h0M279.7 234.2h0M280 238.8h0M280.7 251.5h0M281.1 240.8h0M281.9 240.5h0M282.2 236.7h0M282.5 241h0M283.3 241.3h0M283.9 245.3h0M284 240.4h0M284.6 249.2h0M285.2 239.3h0M286 241.2h0M286.6 246.8h0M287 243h0M287.3 246.7h0M287.7 239.8h0M288.4 239.5h0M289 238.7h0M289.6 236.8h0M290.1 241.5h0M290.5 231.9h0M334.8 226.4h0M334.9 230.8h0M335.7 227.8h0M335.8 224.5h0M336.2 230.3h0M336.6 225.2h0M337 222.2h0M337.4 223h0M337.8 234.1h0M338.4 225.3h0M348.1 225.9h0M348.5 225.9h0M348.6 222.6h0M348.9 226.3h0M349.3 229.1h0M349.5 229.5h0M349.8 224.7h0M350.1 231h0M350.4 226.8h0M350.5 225.5h0M351 226.6h0M351.1 231.2h0M351.4 223.8h0M351.8 223.6h0M352 231.8h0M352.2 231.4h0M352.5 229.4h0M352.8 230.8h0M353.1 227.2h0M353.4 228.1h0M353.5 231.6h0M354 228h0M354.1 231.7h0M354.5 230.8h0M354.7 224.2h0M354.9 229.2h0M355.2 227.1h0M355.5 227.1h0M355.8 222.8h0M356.2 228.7h0M356.4 227.8h0M356.6 225.5h0M356.9 231h0M357.2 220.6h0M357.6 222.3h0M357.9 222.8h0M358.1 232h0M358.3 229.3h0M358.6 228h0M376.2 242.6h0M376.4 231.8h0M377 225.6h0M377.2 235h0M377.6 230.1h0M377.9 232.8h0M378.4 233.6h0M378.8 232.3h0M379.1 229.2h0M379.3 230.5h0M379.7 236.3h0M380.3 228.9h0M380.4 225.8h0M381 232.9h0M381.1 233.6h0M381.4 226.4h0M381.9 224.9h0M382.4 233.9h0M382.6 227.6h0M383.1 224.9h0M383.2 228.7h0M383.7 225.9h0M384 226.9h0M384.4 230.4h0M384.8 223.6h0M385.2 227.2h0M385.6 223.8h0M385.9 231.9h0M386.4 223.9h0M386.5 233h0M386.9 226.1h0M387.2 220.9h0M387.5 228.4h0M388.1 222.3h0M388.4 221.8h0M388.9 221.8h0M389.2 220.5h0M389.4 226.8h0M389.9 228.1h0M403.6 227.2h0M404 223.7h0M404.3 227.3h0M404.5 222.3h0M405 224.6h0M405.1 225.3h0M405.4 228h0M405.8 222.1h0M406.1 219.5h0M406.2 225.2h0M406.6 222.4h0M406.9 228.4h0M407.2 224.8h0M407.7 228.5h0M407.7 224.8h0M408.2 225.6h0M408.5 221.9h0M408.7 223.9h0M409.1 229.6h0M409.3 225.2h0M409.6 224.5h0M409.9 232.2h0M410.1 228.1h0M410.5 231.5h0M411 218.8h0M411.1 226.8h0M411.5 224.2h0M411.9 225.7h0M412.1 226.8h0M412.5 223.7h0M412.6 216.9h0M412.9 227h0M413.4 226.9h0M413.4 226.3h0M413.7 228h0M414.1 225.7h0M414.5 226.6h0M414.8 219.6h0M415.1 222.5h0M415.5 227.2h0M415.5 226.2h0M415.9 225.5h0M416.3 217h0M416.4 222.8h0M416.8 229h0M417.2 228.8h0M417.5 224.3h0M417.9 222.8h0M418.2 225.5h0M418.5 230.9h0M418.6 225.9h0M418.8 226.1h0M419.3 226.9h0M419.5 227.5h0M419.9 225.3h0M420.1 222.7h0M420.4 221.8h0M420.6 224.7h0M421 226h0M421.4 222.3h0M421.7 227.9h0M421.9 220.5h0M422.3 230.7h0M422.5 221.2h0M422.8 224h0M480.2 244.9h0M480.6 239.4h0M480.9 238.9h0M481.3 239.8h0M481.8 239.7h0M482 238.5h0M482.4 238.3h0M482.8 245.4h0M482.9 242.1h0M483.4 246.7h0M483.7 241.3h0M484.4 237.4h0M484.6 245.5h0M484.8 244.4h0M485.4 239.9h0M485.5 234.4h0M485.9 241.6h0M486.3 238.9h0M486.6 243.3h0M487.3 244.8h0M487.4 240.6h0M487.7 248.4h0M488.3 234.1h0M488.4 234.9h0M489 235.5h0M489.2 246h0M489.8 242.8h0M490.2 245.3h0M490.3 239.4h0M490.8 249.7h0M491 242.1h0M491.4 243.7h0M489.3 221.2h0M489.7 214.9h0M490 219.8h0M490.4 229.7h0M490.6 220.7h0M491.2 225.2h0M491.4 235.1h0M491.9 227.2h0M492.3 228.5h0M492.9 229.7h0M493 219.8h0M493.6 225h0M493.9 225.2h0M494.4 227.8h0M494.5 225.8h0M494.9 224.1h0M495.4 228.4h0M495.9 219.9h0M496.3 224.8h0M496.8 223.6h0M496.9 225.6h0M497.2 226h0M498 223.6h0M498 226.3h0M498.7 217.1h0M498.8 219.2h0M499.2 224.3h0M499.6 227.8h0M500 223.3h0M500.4 222.9h0M500.9 223.2h0M501.4 226.8h0M501.7 221.2h0M501.9 228.2h0M502.5 226.4h0M502.7 228.7h0M503.4 221.3h0M503.7 222.7h0M504.2 227.9h0M504.5 228.2h0M504.8 222.4h0M505.1 215.7h0M505.5 223.1h0M506.1 232.1h0M506.5 227.5h0M506.8 223.7h0M517.2 235.4h0M517.4 236.1h0M517.6 231.8h0M518 232.9h0M518.2 240.1h0M518.6 240.4h0M519 237h0M519.1 232.5h0M519.4 237.5h0M519.8 231.8h0M520 232h0M520.3 239h0M520.7 240.3h0M520.7 237.3h0M521.2 237.5h0M521.4 238h0M521.8 236.4h0M522 231.2h0M522.3 238.3h0M522.4 234h0M523 233.7h0M523.1 236.3h0M523.6 236h0M523.8 234.4h0M523.9 230.3h0M524.2 238h0M524.7 234.7h0M525 238.1h0M525.1 242.2h0M525.4 237.5h0M525.9 236.8h0M525.9 233.1h0M526.3 232.3h0M526.7 236.7h0M526.8 234.9h0M527.3 234.7h0M527.6 233.1h0M527.8 233.4h0M528.1 236.4h0M528.3 234.8h0M528.5 225.9h0M529 232.9h0M529.1 232.4h0M529.4 234.8h0M529.8 236.2h0M530 232h0M530.4 235.3h0M530.5 231.1h0M530.8 240h0M531.2 243.2h0M531.5 233.2h0M531.7 239.2h0M532.2 234.2h0M532.4 234.6h0M532.6 230.3h0M532.9 231.1h0M533.3 240.4h0M533.5 235.1h0M533.7 232.4h0M534.1 238.2h0M534.3 230.9h0M534.7 242.8h0M535 238.4h0M535.2 232.4h0M535.4 235.2h0M535.9 237.9h0M536.2 234.6h0M536.2 240.1h0M536.5 230h0M536.8 228.9h0M537.1 236.2h0M537.6 232.9h0M537.7 233.1h0M538 236.5h0M538.3 234.7h0M538.5 243h0M539 237.3h0M539.1 232.3h0M539.4 242.9h0M539.8 239.6h0M539.9 230.3h0M540.3 237.7h0M540.5 232.4h0M541.1 238h0M541.2 243.8h0M541.5 231.9h0M541.7 236.7h0M542.1 234.2h0M542.2 239.8h0M542.5 238.5h0M543.1 227.7h0M543.3 231.6h0M543.6 233h0M543.9 232.1h0M544.1 239h0M544.3 240.5h0M544.7 234.5h0M545 229.5h0M545.3 236.9h0M545.4 234.3h0M545.7 241.9h0M546 245.4h0M546.4 230.5h0M546.6 237.2h0M547 231.8h0M547.3 243.4h0M547.4 234.1h0M547.9 235.4h0M548 235.2h0M548.4 243.5h0M548.7 231.4h0M548.9 238.8h0M549.2 235.7h0M549.4 242.6h0M549.7 237.8h0M550.1 241.1h0M550.2 244.3h0M550.6 235.3h0M550.9 241.5h0M551.1 225.9h0M551.6 240.3h0M551.7 226.6h0M552 237.6h0M552.5 238.7h0M552.8 233.7h0M552.9 236.4h0M553.2 231.8h0M553.6 230.4h0M553.8 231.2h0M554.1 237.3h0M554.4 233.3h0M554.6 229.6h0M555 236.8h0M555.2 237.1h0M555.5 237.8h0M555.8 236.4h0M556.2 236.6h0M556.3 235.1h0M556.6 235.1h0M557 238.2h0M557.4 234h0M557.4 237.9h0M557.7 236.3h0M558.2 232.8h0M558.5 238.5h0M558.6 237.4h0M559.1 235.7h0M559.3 232.3h0M559.5 228.3h0M559.8 237.4h0M560.2 241.2h0M560.5 233.1h0M560.8 242.5h0M560.9 246.1h0M561.4 238.7h0M561.5 238.6h0M590.9 228.7h0M591.1 228.7h0M591.3 239.1h0M591.6 228.5h0M591.9 227.3h0M592.3 227.3h0M592.7 227.8h0M593.1 238.3h0M593.4 229.5h0M593.5 230.8h0M593.9 228.5h0M594.1 237.8h0M594.4 235.6h0M594.9 229.8h0M595.2 230h0M595.3 235.5h0M595.7 225.2h0M596 236.1h0M596.2 231.1h0M596.7 235.3h0M596.9 227.3h0M597.4 228.9h0M597.7 226.6h0M598 225.9h0M598.2 232.5h0M598.5 232.8h0M599 227.6h0M599.1 230.1h0M599.6 230.2h0M599.9 235.2h0M600 229.4h0M600.3 235.2h0M600.8 231.7h0M601.2 229.2h0M601.3 232.8h0M601.6 234.5h0M602 230.8h0M602.3 233.3h0M602.7 229h0M602.9 230.8h0M603.3 230.6h0M603.7 235.9h0M603.8 231.9h0M604.2 233.2h0M604.4 224.5h0M604.7 238.6h0M605.2 228.2h0M605.4 233.6h0M605.9 231.2h0M605.9 229.7h0M606.5 231.1h0M606.6 233.2h0M606.9 231.8h0M607.3 225.7h0M607.5 226.1h0M607.9 234h0M608.3 231.5h0M608.5 231.3h0M608.8 227.3h0M609.3 235h0M609.5 230.1h0M609.9 235.8h0M610 228h0M610.3 226.8h0M610.7 230.4h0M610.9 228.6h0M611.2 226.1h0M611.5 237.1h0M612.1 226.9h0M612.3 232.4h0M612.7 229.8h0M613.1 230.1h0M613.1 230.4h0M613.4 231.8h0M613.8 224.9h0M614 228.7h0M614.4 228.3h0M614.8 225.6h0M615.2 224.4h0M615.3 229.3h0M615.7 232.1h0M615.9 234h0M616.4 225.6h0M616.7 236.4h0M617.1 226.1h0M617.4 230.8h0M617.5 233.6h0M618 220.9h0M618.2 231.9h0M618.5 237h0M618.9 222.2h0M623.2 225.2h0M623.6 221.9h0M623.9 219.6h0M624.7 216.2h0M625 222h0M625.8 222.5h0M626.1 218.1h0M627 225.8h0M627.7 219.8h0M627.8 223.9h0M628.8 220.1h0M629 221.7h0M629.7 224.4h0M617.1 245.7h0M618 249.3h0M618.9 250h0M619.8 243h0M620.1 244.3h0M621.3 240.6h0M621.9 242.4h0M622.2 246.2h0M623.5 248.6h0M624.3 242.7h0M624.4 243.5h0M625.5 238.2h0M626 249.4h0M626.7 245.8h0M627.9 245.1h0M628.7 245.4h0M629.2 245.5h0M629.7 239.2h0M630.8 239.9h0M631.2 242.7h0M642.2 226.6h0M642.4 227h0M642.8 226.6h0M643.1 218h0M643.4 218.8h0M643.8 219.1h0M644 220.7h0M644.4 223.5h0M644.7 225h0M645 211.8h0M645.2 233.1h0M645.4 220.2h0M645.7 225.6h0M646.3 230.3h0M646.4 234.7h0M646.8 228.7h0M647.2 225.9h0M647.2 239.3h0M647.7 224.1h0M648 222.4h0M648.3 226.9h0M648.6 228.1h0M648.9 223.8h0M649.2 215.7h0M649.6 222.4h0M649.8 234h0M663 221.3h0M663.5 226.5h0M664.2 225.9h0M664.4 230h0M665 220.6h0M665.4 228.5h0M666 224.2h0M666.3 225.4h0M666.6 223.1h0M667.1 235.1h0M667.7 229.1h0M667.8 230.6h0M668.3 226.6h0M669.1 226.6h0M669.5 225.6h0M669.9 226.5h0M670.3 232.5h0M670.4 227.9h0M670.9 227.2h0M671.4 219.3h0M671.9 227.7h0M672.4 220.9h0M672.7 228.3h0M673.3 227.1h0M673.7 220.5h0M674.1 227.4h0M674.6 219.6h0M675 230h0M675.6 233.4h0M676 225.3h0M676.4 223.2h0M676.6 225h0M677.2 226.1h0M677.6 231.5h0M678.1 223.4h0M678.4 227.3h0M679 228.6h0M679.3 223.7h0M679.8 220.9h0M682.1 234.3h0M682.4 231.9h0M682.9 233.7h0M683.2 241.2h0M683.6 233.8h0M684 237.3h0M684.3 238.6h0M684.6 241.1h0M684.8 234.5h0M685.4 233.7h0M685.7 236.5h0M686 238.7h0M686.2 232.5h0M686.6 232.8h0M687 236.7h0M687.2 236h0M687.5 237.8h0M688 235.7h0M688.5 232.4h0M688.7 234.4h0M689.2 233.6h0M689.3 237.5h0M689.9 233.8h0M690.1 238.5h0M690.3 241.1h0M690.7 233.7h0M691.1 238.2h0M691.3 234.7h0M691.9 236.9h0M692.1 235.1h0M692.6 232.4h0M693 234.1h0M693.3 229.5h0M693.7 232h0M693.7 238.5h0M694.2 233.7h0M694.4 240.3h0M695 239.3h0M695.2 237.7h0M695.7 234.7h0M696 234.5h0M696.2 233.3h0M696.8 233.6h0M696.9 235.6h0M697.4 239h0M697.6 236.2h0M698 240.4h0M698.5 238.8h0M698.7 237.5h0M699 234.1h0M699.2 231.1h0M699.5 237.3h0M699.9 238.7h0M700.3 236.6h0M700.7 236.5h0M701.2 236.8h0M701.5 237.3h0M701.6 238.6h0M702 239.2h0M702.5 231.7h0M702.7 235.8h0M703 237.5h0M703.6 232.8h0M703.7 232h0M704 237.8h0M704.4 243.6h0M705 232.7h0M705.2 235.5h0M705.5 231.3h0M705.8 233.6h0M706.3 233h0M706.4 235.5h0M707 237.7h0M707.2 234.6h0M707.6 242h0M707.9 235.8h0M708.1 236.1h0M708.5 243h0M729.9 227.9h0M730.1 216.7h0M730.5 217.6h0M730.6 211.5h0M731.1 214.6h0M731.3 237.2h0M731.7 210.2h0M731.9 220h0M732.1 230.8h0M732.4 229.5h0M732.8 226.7h0M733.2 224h0M733.3 212.9h0M733.6 224.2h0M734.1 222.1h0M734.2 237.2h0M762.8 221h0M763.2 219.2h0M763.4 224.8h0M763.8 228.2h0M763.8 229.2h0M764.2 213.5h0M764.6 219.9h0M764.7 215.4h0M765 224.1h0M765.4 214h0M765.5 214.8h0M765.8 218.1h0M766 227h0M766.5 216.2h0M766.7 213.5h0M766.9 224h0M767.3 219.7h0M767.6 216.3h0M767.8 223.2h0M768 219.1h0M768.3 213.6h0M768.8 221.1h0M769 228.2h0M769.2 211.4h0M769.5 224.8h0M769.7 223.4h0M769.9 224.5h0M770.2 218.5h0M770.4 217.1h0M771 220.1h0M771.1 218.7h0M771.3 222.1h0M771.7 217.1h0M771.9 217.7h0M772.2 222.2h0M772.4 220.2h0M772.8 219.4h0M773 224.6h0M773.3 221.1h0M773.6 219h0M773.9 217.1h0M774.1 226.9h0M774.4 224.1h0M774.7 223.3h0M775 219.8h0M775.3 221.3h0M775.6 220.6h0M775.8 224h0M776 222.4h0M776.4 222h0M776.7 221.8h0M777 215.2h0M777.3 220.5h0M777.6 225.3h0M777.8 217.1h0M778 216.2h0M778.2 219.5h0M778.6 223.8h0M778.9 214.4h0M779 214h0M779.3 224.4h0M779.8 223.5h0M779.9 221.9h0M780.2 218.3h0M780.6 219.1h0M780.8 227.9h0M781.1 225.1h0M781.4 221.8h0M781.5 218h0M781.9 231.1h0M782.2 214.9h0M782.4 221.6h0M782.6 220.2h0M783 224.1h0M783.1 224.9h0M783.6 224.5h0M783.9 217.5h0M784 214.7h0M830.6 239.8h0M831.2 244.4h0M831.5 242.9h0M832.1 238.7h0M832.5 243.6h0M832.7 243.7h0M833.3 240.1h0M833.9 234.1h0M833.9 236h0M834.4 242.3h0M849.1 237.6h0M849.2 242.1h0M849.7 238h0M849.8 241.5h0M850.2 243.3h0M850.4 249.7h0M850.7 243.2h0M851.2 244.9h0M851.3 247.8h0M851.7 241.4h0M852.1 241.8h0M852.3 252.2h0M852.8 245.7h0M853.1 244.5h0M853.4 243.4h0M853.6 251.5h0M853.9 243h0M854.3 250.5h0M854.6 243.7h0M854.9 250.9h0M855.3 233.5h0M855.6 245.3h0M855.7 232.4h0M856.1 251.8h0M856.4 245.2h0M856.7 236.9h0M857.1 243.6h0M857.2 249.1h0M857.7 247.9h0M858.1 236.3h0M858.3 247.6h0M858.7 246.9h0M858.7 250.8h0M859.1 237.5h0M859.4 243.1h0M859.7 236.4h0M860.1 247.9h0M860.4 253.7h0M860.6 243.4h0M861.2 244.5h0M861.5 243.9h0M861.8 243.6h0M861.9 238.8h0M862.3 236.7h0M862.5 244.2h0M862.8 252.6h0M863.2 248.9h0M863.4 241.8h0M863.9 238.5h0M864.1 251.6h0M864.6 245.5h0M864.8 241.1h0M865.1 252.4h0M865.3 252.1h0M865.7 256h0M866.1 248.8h0M866.4 249.3h0M866.6 249.7h0M866.9 244.6h0M867.3 247h0M867.6 243.8h0M867.8 235.3h0M868.2 241.5h0M868.5 251.3h0M868.9 242.7h0M869 249h0M869.3 244.2h0M869.7 244.9h0M870 245.2h0M870.5 242.9h0M870.5 246.4h0M870.9 239.6h0M871.3 243.4h0M871.5 244.8h0M871.9 240.8h0M872.1 231.9h0M872.6 240.5h0M872.7 249.3h0M873.1 247.5h0M873.4 241.9h0M873.9 234.8h0M874.1 246.9h0M874.3 242.6h0M874.6 236.5h0M875.1 252.6h0M875.4 249.6h0M875.7 235.3h0M875.8 245.4h0M876.3 247.6h0M876.6 240h0M876.9 234.9h0M877.1 233.1h0M877.5 231.5h0M878.3 232.3h0M878.9 229.2h0M879.3 226h0M879.9 230.8h0M880.4 231.3h0M880.5 227.3h0M893 235.4h0M893.6 236.3h0M894.1 237.6h0M895 232.4h0M895.5 238.1h0M895.7 234h0M896.3 235h0M897.1 232.3h0M897.4 233.8h0M897.9 230h0M898.5 235.1h0M899.1 243.1h0M899.6 233.7h0M900.1 235.7h0M900.3 232.8h0M901.2 234.3h0M901.6 235.3h0M901.8 233.9h0M902.4 242.9h0M903.2 234.3h0M903.5 241.2h0M904.1 232.7h0M904.4 229.9h0M905.2 236.3h0M905.8 237.3h0M906 233.5h0M931.3 244.2h0M931.7 234.9h0M932.3 236.8h0M932.6 245.1h0M933.1 243.3h0M933.5 242.1h0M934.1 250.2h0M934.5 244.8h0M934.6 248.1h0M935.1 239.9h0M935.7 243h0M935.8 244.9h0M936.4 237.3h0M936.6 247.6h0M937.4 247.4h0M937.5 240h0M938.1 237.9h0M938.2 243.4h0M938.9 244.2h0M939.1 242.3h0M950.9 244h0M951.6 237.4h0M951.8 243.7h0M952.1 240.4h0M952.5 246.3h0M953 246.4h0M953.3 243.5h0M953.8 235.4h0M954.4 241.5h0M954.8 240.2h0M955.2 244h0M955.3 242.1h0M955.9 243.9h0M956.3 245h0M956.8 242h0M957.1 239.3h0M957.6 241.9h0M957.8 250.6h0M958.2 240.3h0M958.7 236.2h0M959.2 246.2h0M959.4 240.9h0M959.9 245.3h0M960.3 239.9h0M960.7 240.1h0M960.9 237.6h0M961.5 243.7h0M962 244.2h0M962.4 250.9h0M962.7 244h0M962.9 240.9h0M963.3 235.7h0M963.8 241.4h0M964.4 243.5h0M964.5 242.1h0M965.3 236.9h0M965.6 243h0M965.8 250h0M966.4 243.7h0M966.6 242.7h0M967.3 242.5h0M967.5 248.3h0M967.8 242.3h0M968.2 236h0M968.7 242.4h0M969.1 243.4h0M969.4 245h0M969.8 234.9h0M970.2 244.5h0M970.6 242.5h0M971 234.9h0M971.4 241.9h0M959.6 218.6h0M960.2 218.1h0M960.8 220.6h0M961 213.3h0M961.6 216h0M962.1 219.7h0M962.4 217.7h0M962.5 220h0M963 219.8h0M963.4 218.7h0M964.1 224.4h0M964.4 212.4h0M964.8 216.2h0M1015.9 219.2h0M1016.3 226.2h0M1016.3 227.2h0M1016.9 225.3h0M1017.4 231.1h0M1017.8 229.2h0M1018 223.6h0M1018.4 226.1h0M1018.8 231.7h0M1019.3 225.2h0M1019.8 230.1h0M1020.1 221.9h0M1020.5 226.4h0M1021.1 228.2h0M1021.1 222.2h0M1021.6 232h0M1022.3 229h0M1022.5 227.3h0M1023 229h0M1023.4 219.8h0M1039 237.4h0M1039.3 219.1h0M1039.6 226.3h0M1039.9 227.2h0M1040 219.6h0M1040.3 228.9h0M1040.5 229.7h0M1040.9 217.4h0M1041 231.5h0M1041.1 212.8h0M1041.5 222.6h0M1041.7 237.7h0M1042.1 223.1h0M1042.3 222.2h0M1042.4 225h0M1042.6 231.2h0M1043 226.1h0M1043.1 220h0M1043.3 232.6h0M1043.7 242.4h0M1043.8 233.8h0M1044.2 236.8h0M1044.4 219.4h0M1044.5 226.7h0M1044.9 228h0M1045.1 230.9h0M1045.2 236.4h0M1045.6 228.2h0M1045.8 226.7h0M1046.1 235.7h0M1046.2 242.8h0M1046.4 239.2h0M1046.6 234.9h0M1047 226.3h0M1047.3 230.2h0M1047.4 229.4h0M1047.6 229.5h0M1047.9 219.7h0M1048 229.2h0M1048.3 234.6h0M1048.7 224.2h0M1048.9 219.4h0M1049 222.5h0M1049.2 212.8h0M1049.7 227.3h0M1049.7 225.1h0M1050 224.7h0M1050.2 235.9h0M1050.5 228.8h0M1050.6 230.7h0M1051.1 226.6h0M1051.2 229.2h0M1051.4 231.1h0M1051.8 224.9h0M1052 233.8h0M1052.1 229.8h0M1052.5 212.8h0M1052.5 231.4h0M1052.9 216.8h0M1053.1 237.3h0M1053.4 235.6h0M1053.6 229.5h0M1053.8 224.6h0M1054.1 245.2h0M1054.4 216h0M1054.5 221.4h0M1054.8 233h0M1054.9 218.2h0M1055.2 241.1h0M1055.6 235.6h0M1055.8 223.7h0M1056.1 238.4h0M1056.3 229.6h0M1056.4 226.4h0M1056.8 232.1h0M1056.9 221.1h0M1057.2 223.8h0M1057.4 221.7h0M1057.6 226.6h0M1058 224h0M1058 222.5h0M1058.4 236.6h0M1058.5 231.2h0M1058.8 229.9h0M1059 233.9h0M1059.2 228.9h0M1059.4 240.2h0M1059.8 224.9h0M1060.1 231.6h0M1060.2 228.8h0M1060.4 229.2h0M1060.8 221.5h0M1061 229.3h0M1061.1 237.1h0M1061.4 240.4h0M1061.6 232.8h0M1061.9 224.6h0M1062.2 232.4h0M1062.5 224.4h0M1062.5 228.1h0M1062.9 237.4h0M1063.1 217h0M1063.3 231.5h0M1063.5 222.3h0M1063.7 215.8h0M1064 223.5h0M1064.3 230h0M1064.6 230.4h0M1064.8 242.2h0M1065 226.9h0M1065.2 231.8h0M1065.5 225h0M1065.8 232.7h0M1065.8 217.9h0M1066.2 224.3h0M1066.3 223.8h0M1066.7 225.3h0M1066.9 232.9h0M1067 217.5h0M1067.3 224.1h0M1067.7 220.3h0M1067.8 231.6h0M1067.9 230h0M1068.3 228.1h0M1068.6 230.7h0M1068.7 222h0M1069 238.9h0M1069.2 236.5h0M1069.6 227.2h0M1069.7 218.4h0M1069.8 215h0M1070.2 213.5h0M1070.5 219.1h0M1070.6 234.8h0M1070.8 235.8h0M1071.1 233.3h0M1071.3 227.9h0M1071.7 213.6h0M1071.8 228.6h0M1072.1 212.8h0M1072.4 240.6h0M1072.5 223.5h0M1072.8 234.8h0M1073.1 227.5h0M1073.3 225.3h0M1073.6 224.3h0M1073.7 232h0M1074 232.5h0M1074.2 232.3h0M1074.5 228.6h0M1074.6 220.2h0M1074.9 245.2h0M1075.2 237.8h0M1075.5 229.1h0M1075.6 234.7h0M1075.9 225.5h0M1116.3 214.7h0M1116.5 235.7h0M1117 220.1h0M1117.6 226.8h0M1118 229.5h0M1118.3 234.1h0M1118.9 225.5h0M1119.5 230.6h0M1119.6 226h0M1120.4 226.3h0M1120.6 221.4h0M1121.2 219.5h0M1121.5 219.8h0M1121.8 228.6h0M1122.4 226.5h0M1122.7 229.1h0M1123.1 221.3h0M1123.8 219.4h0M1124.2 215.7h0M1124.8 218.1h0M1125.2 211.2h0M1125.4 220.9h0M1126 226.9h0M1126.3 218.9h0M1126.7 226.5h0M1127.3 224.1h0M1127.6 219h0M1128.2 219h0M1128.8 219.2h0M1129.2 225.7h0M1129.7 216.1h0M1130 220.5h0M1130.3 224.5h0M1130.8 224.5h0M1131.1 230.3h0M1131.5 218.4h0M1132.3 222.6h0M1132.7 238.1h0M1132.9 218.8h0M1133.5 227.5h0M1133.8 223.8h0M1134.1 231.9h0M1135 239.4h0M1135.1 228.1h0M1135.8 225.1h0M1136 219.4h0M1136.5 222.4h0M1137.1 227.2h0M1137.4 224.1h0M1138 227.1h0M1138.2 216h0M1138.6 226.1h0M1150.7 228.5h0M1151.1 217.1h0M1151.3 222.8h0M1151.6 231.2h0M1151.9 230.9h0M1152.2 231.2h0M1152.6 227h0M1152.7 230.5h0M1153.3 225.8h0M1153.4 226h0M1153.8 230.5h0M1153.9 223.7h0M1154.3 220.4h0M1154.7 227.3h0M1155.1 225.5h0M1155.4 232.8h0M1155.5 212.8h0M1155.8 213.7h0M1156.2 234.6h0M1156.4 228.1h0M1156.8 215.2h0M1157.1 233.1h0M1157.5 222.7h0M1157.7 231h0M1157.9 214.7h0M1158.2 222.4h0M1158.5 224.6h0M1158.7 211.8h0M1159.2 236.6h0M1159.4 221.4h0M1159.6 234.8h0M1160 221.4h0M1160.5 227h0M1160.6 242.3h0M1161.1 234h0M1161.3 224.3h0M1161.5 225.2h0M1161.9 224.8h0M1162.2 220.8h0M1162.4 232.9h0M1162.8 226.3h0M1163.2 234.4h0M1163.4 225.8h0M1163.8 224.5h0M1163.9 228.3h0M1164.3 230.5h0M1164.7 228h0M1165 230.8h0M1165.2 222.7h0M1165.6 235.1h0M1165.8 230.4h0M1166.2 219.1h0M1166.6 211.8h0M1166.8 236.3h0M1166.9 223.3h0M1167.3 226.2h0M1167.7 243.3h0M1167.8 222h0M1168.3 219.8h0M1168.4 225.1h0M1168.8 226.3h0M1169.1 223.6h0M1169.4 233.7h0M1169.6 225.3h0M1170.1 227.5h0M1170.2 227.4h0M1170.7 228.1h0M1171.1 227.8h0M1171.2 220.2h0M1171.6 233.8h0M1171.8 231.1h0M1172 221.7h0M1172.3 229.7h0M1172.8 224.6h0M1173.1 229.4h0M1173.3 222.4h0M1173.7 225.4h0M1174 234.4h0M1174.3 228.1h0M1174.5 229.8h0M1175 214.1h0M1175.2 220.8h0M1175.3 231.6h0M1175.7 227.1h0M1176.1 240.6h0M1176.4 228.6h0M1176.7 220.6h0M1176.9 236.5h0M1177.4 228.8h0M1177.6 233.7h0M1177.8 224h0M1178.1 222.5h0M1178.4 230.6h0M1178.7 239.7h0M1179 224.4h0M1179.3 221.7h0M1179.7 228.1h0M1179.9 219.3h0M1180.2 219.7h0M1180.5 219.6h0M1181 224.2h0M1181.3 220h0M1181.6 230h0M1181.8 233h0M1182 232.7h0M1182.4 229.9h0M1182.6 218.2h0M1183 238.6h0M1183.4 229.2h0M1183.5 227.5h0M1183.8 225.8h0M1184.3 230.1h0M1184.6 238h0M1184.9 220.8h0M1185.1 230h0M1185.3 229.9h0M1185.8 219.7h0M1186 228.5h0M1186.2 233.4h0M1186.7 221.1h0M1187 228h0M1187.2 224.9h0M1187.4 231.9h0M1187.7 220.7h0M1188.1 227.5h0M1188.5 222.3h0M1188.7 235.8h0M1189.1 214.6h0M1189.3 218.8h0M1189.5 231.4h0M1189.8 240.6h0M1190.2 229.5h0M1190.6 225.9h0M1190.8 230.9h0M1191.2 244.2h0M1191.3 234h0M1191.6 234.6h0M1192.2 225.1h0M1192.2 233.4h0M1192.6 224.6h0M1193 226.6h0M1193.2 234.8h0M1193.6 213.7h0M1193.8 222.3h0M1194.1 236.2h0M1194.4 228.1h0M1194.6 232h0M1195.1 244.2h0M1195.3 217.5h0M1195.6 230.8h0M1196 229.7h0M1196.2 224.9h0M1196.6 231.4h0M1196.8 229.5h0M1197.3 227.6h0M1197.4 220.2h0M1172.2 213.2h0M1173.3 204.4h0M1174 210.2h0M1174.5 212.4h0M1175 208.7h0M1175.6 206.9h0M1176.7 210.7h0M1177 206.9h0M1177.7 214.5h0M1178.7 201.6h0M1179.1 211.4h0M1180.1 213.7h0M1180.9 206.4h0M1181.6 212.1h0M1182.2 217.6h0M1182.5 214h0M1183.6 207.7h0M1183.9 221.2h0M1184.6 207.3h0M1185.1 206h0M1186 206.4h0M1187.1 205.4h0M1187.3 214.2h0M1188.3 208.1h0M1189.1 210.3h0M1189.4 216.5h0M1190.2 217.4h0M1191.1 205h0M1191.7 214h0M1192.5 212.3h0M1193 213.2h0M1193.4 212.3h0M1219.9 238.2h0M1220.1 242.9h0M1220.3 242h0M1220.6 247.1h0M1220.9 243.3h0M1221.4 241.4h0M1221.8 241h0M1222.1 233.4h0M1222.2 232.8h0M1222.6 237.5h0M1222.9 234.2h0M1223.2 234.9h0M1223.7 235.5h0M1223.9 236.4h0M1224.3 230.9h0M1224.5 230.8h0M1230.1 218h0M1230.3 223.3h0M1230.7 224.3h0M1231 212.4h0M1231.3 215.7h0M1231.7 219.6h0M1232.1 217h0M1232.4 223.6h0M1232.7 218.3h0M1233.1 215.5h0M1233.1 228.4h0M1233.4 219.4h0M1233.7 223.5h0M1234 208.2h0M1234.5 224.9h0M1234.9 213.9h0M1235.2 221h0M1235.5 222h0M1235.6 229.4h0M1236 210.7h0M1236.4 221.6h0M1236.5 226.1h0M1237 223.5h0M1237.1 224.3h0M1237.7 216.4h0M1237.8 216.8h0M1242.7 220.5h0M1242.9 225.3h0M1243.4 218.4h0M1243.8 226.4h0M1244.2 222.6h0M1244.6 224.4h0M1245.1 221.3h0M1245.6 225.5h0M1246.2 227.8h0M1246.6 225.9h0M1255.6 223.9h0M1256.1 230.7h0M1256.3 229.2h0M1256.6 228.1h0M1256.6 222.8h0M1256.9 216.9h0M1257.1 223.3h0M1257.5 229.4h0M1257.6 229.2h0M1257.9 232.3h0M1258.3 221.7h0M1258.5 228.4h0M1258.7 228.2h0M1259 213.7h0M1259.3 226.4h0M1259.5 222.9h0M1259.6 225.4h0M1259.9 213.8h0M1260.2 220.3h0M1260.4 220.5h0M1260.7 221.2h0M1261.1 231.1h0M1261.2 219.3h0M1261.5 223.5h0M1261.7 222.5h0M1262.1 225.8h0M1262.2 227.7h0M1262.4 222.2h0M1262.7 223.6h0M1263.1 215h0M1263.3 221.8h0M1263.5 221.2h0M1263.7 228.9h0M1264 221h0M1264.2 221.5h0M1264.7 224.7h0M1264.7 223.7h0M1265 226.7h0M1265.3 231.8h0M1265.6 228.1h0M1265.9 220.9h0M1266 231.3h0M1266.3 228.3h0M1266.6 224.7h0M1266.9 225h0M1267.1 226.7h0M1267.3 218.2h0M1267.5 219.3h0M1267.9 224.1h0M1268 221.2h0M1268.3 231.7h0M1268.6 216.6h0M1268.8 216.2h0M1268.9 225.3h0M1269.4 218.2h0M1269.7 224.3h0M1269.7 212.9h0M1270 224h0M1280.8 221.7h0M1281 219.4h0M1281.2 214.6h0M1281.5 226.4h0M1282 224.6h0M1282.5 230.2h0M1282.8 216.5h0M1282.9 232.2h0M1283.3 227.8h0M1283.7 229.4h0M1284.1 225.3h0M1284.5 223.9h0M1284.8 227.9h0M1285.1 220.3h0M1285.4 226.2h0M1285.7 219.9h0M1286.2 219.1h0M1286.3 227h0M1286.9 217h0M1287 223h0M1287.4 221h0M1287.7 225.7h0M1288.1 221.7h0M1288.6 221.4h0M1288.9 228.8h0M1289.2 223.4h0M1308.6 238.8h0M1309 247.3h0M1309.4 245.5h0M1310.1 237.5h0M1310.3 244.4h0M1311.1 243.6h0M1311.2 251.1h0M1311.9 240.5h0M1312.3 250.9h0M1312.8 237.3h0M1313.1 241.3h0M1313.6 242.4h0M1314 241.9h0M1318.8 238.7h0M1319 243.3h0M1319.5 241.4h0M1319.9 241.1h0M1320.3 245.1h0M1320.4 239h0M1320.7 241.1h0M1321.1 235.6h0M1321.5 232.5h0M1321.8 240.2h0M1321.9 233.4h0M1322.3 238.1h0M1322.6 239.7h0M1323.1 237.8h0M1323.3 234.2h0M1323.7 236.5h0M1336.1 234h0M1336.5 237.1h0M1336.9 238.4h0M1337.2 240.3h0M1337.8 235h0M1338 234.8h0M1338.2 235h0M1338.6 237.4h0M1338.9 246.5h0M1339.2 240.8h0M1339.7 240h0M1340 245.6h0M1340.4 239.6h0M1340.8 231.3h0M1341.2 230.9h0M1341.4 251h0M1341.7 232.2h0M1342.3 250.1h0M1342.7 233.9h0M1342.9 233h0M1343.4 231.9h0M1343.7 246.8h0M1343.9 234h0M1344.5 237.6h0M1344.8 241.5h0M1345 243.5h0M1345.5 227.6h0M1345.8 236.7h0M1346.1 246.5h0M1346.6 237.4h0M1346.9 246.1h0M1347 241.8h0M1347.6 232.4h0M1348 240.5h0M1348.3 252.9h0M1348.6 243.3h0M1348.8 242.6h0M1349.2 241h0M1349.5 241.2h0M1349.9 240.6h0M1350.3 242.7h0M1350.6 244.5h0M1351 246.8h0M1351.5 241.1h0M1351.7 248.9h0M1352.1 239.9h0M1352.7 242.7h0M1352.8 248.5h0M1353.1 240.1h0M1353.4 240.6h0M1353.9 244.1h0M1354.2 236.2h0M1354.6 250h0M1355.1 236.2h0M1355.3 227.8h0M1355.7 225.8h0M1355.9 229.1h0M1356.5 243.5h0M1356.6 233h0M1357.3 233.5h0M1357.5 252.3h0M1357.7 235h0M1358.1 238.9h0M1358.7 246.5h0M1359 235.3h0M1359.3 230h0M1359.7 243.3h0M1360.1 244.2h0M1360.2 227.8h0M1360.7 243h0M1360.9 244.3h0M1361.5 232.4h0M1361.9 242.2h0M1362.2 241.1h0M1362.3 238.8h0M1362.8 225.8h0M1363.1 230.9h0M1363.4 240.1h0M1364 243.2h0M1364.2 240h0M1364.5 250.4h0M1364.8 249.6h0M1365.4 244.7h0M1365.7 254.2h0M1365.8 236h0M1366.2 232.6h0M1366.7 239.9h0M1367 238.4h0M1367.4 254.2h0M1367.8 239.4h0M1368.2 230h0M1368.6 238.3h0M1368.8 244.3h0M1369.3 238.5h0M1369.4 253.3h0M1369.8 237.1h0M1370.1 242.5h0M1370.6 248.3h0M538.8 270.4h0M620 261h0M1156.5 267.7h0M1156.5 280h0M1287 249h0M1317.5 171.7h0M1319 184h0M889 253h0" stroke="#8b0000" stroke-width="3.0" stroke-linecap="round" fill="none"/>
<path d="M237.7 190h0M238 190.8h0M238.2 190.1h0M238.5 188.8h0M238.7 185.8h0M238.9 184.7h0M239.2 185.1h0M239.6 190h0M239.7 190.5h0M240 190.2h0M240.3 188.2h0M240.5 184.9h0M240.8 188.6h0M241.2 190.9h0M241.3 183.6h0M241.6 187.3h0M241.8 194.2h0M242.1 184.6h0M242.4 192.4h0M242.6 188.1h0M242.8 194.2h0M243.1 187.2h0M243.4 186.5h0M243.8 188.8h0M244 189h0M244.2 189.5h0M244.4 190.4h0M244.7 184.3h0M244.9 190.5h0M245.2 191.3h0M245.6 184.6h0M245.9 188.6h0M246 187.3h0M246.3 188.6h0M246.4 191.6h0M246.9 183.6h0M246.9 188.4h0M247.2 193.9h0M247.6 181.9h0M248.4 211.5h0M248.8 206.7h0M248.9 217.7h0M249.3 217.7h0M249.4 215.1h0M249.7 207.8h0M250 210.5h0M250.2 210.3h0M250.4 213.1h0M250.7 210.7h0M251 207.5h0M251.1 207.9h0M251.6 216h0M251.8 212.5h0M251.9 212.4h0M252.3 213.9h0M252.5 219.8h0M252.6 222.4h0M252.9 213.7h0M253.3 213.3h0M253.5 219.3h0M253.7 212.5h0M254 219.5h0M254.2 218h0M254.5 223.3h0M254.9 209.1h0M255 213.4h0M255.3 219.1h0M255.4 218.4h0M255.8 216.6h0M256 214.6h0M256.4 216.2h0M312.1 209.7h0M312.2 199.9h0M312.5 202.9h0M312.7 212.2h0M312.8 207.8h0M313 205.5h0M313.2 208h0M313.4 202.4h0M313.6 207.9h0M313.7 200.6h0M314 216.1h0M314.1 205.3h0M314.3 204.1h0M314.6 211.8h0M314.7 205.6h0M315 208h0M315.1 199.6h0M315.3 203.3h0M315.5 209.1h0M315.7 198.5h0M315.8 214.8h0M316 202.5h0M316.2 206.8h0M316.5 209h0M316.6 209.8h0M316.8 207h0M317 207.2h0M317.2 207.4h0M317.4 213.1h0M317.6 202.2h0M317.8 202.2h0M318 204.6h0M318.2 211.2h0M318.3 205.3h0M318.5 199h0M318.8 208.4h0M318.9 204.2h0M319.1 202.3h0M319.2 205h0M319.5 203.2h0M319.6 206.2h0M319.8 209.8h0M319.9 212.7h0M320.1 209.2h0M320.4 208h0M320.5 198.3h0M320.8 209.7h0M320.9 214.1h0M321.1 199.1h0M321.3 197.6h0M321.5 206.6h0M321.7 206.9h0M321.9 215.4h0M322.1 207.6h0M322.3 196.9h0M322.5 199.7h0M322.7 211h0M322.9 207.9h0M323 204.4h0M323.2 207.4h0M323.3 210.3h0M323.6 219.1h0M323.7 201.9h0M324 200.5h0M324.1 210.6h0M324.4 208.7h0M324.6 206.9h0M324.6 211.2h0M325 208.1h0M325.2 210.4h0M325.2 210.2h0M325.5 201.9h0M325.6 207.5h0M325.9 209.3h0M326 203.3h0M326.3 208.4h0M326.4 194.9h0M326.6 197.9h0M326.7 204.3h0M326.9 216.6h0M327.1 214.7h0M327.4 210.4h0M327.5 210.2h0M327.7 211.6h0M327.9 212.8h0M328.1 202h0M328.3 207.6h0M328.4 217.3h0M328.6 211.4h0M328.8 209.5h0M329.1 212.5h0M329.2 211.1h0M329.4 202.5h0M329.7 205.6h0M329.8 208.1h0M330 204h0M330.3 204h0M330.4 212.7h0M330.6 206.8h0M330.8 207.6h0M330.9 208.1h0M331.1 211.4h0M331.4 209.3h0M331.5 206.2h0M331.6 206.9h0M332 213.4h0M332.1 207.4h0M332.3 206.5h0M332.5 201.7h0M332.7 208.7h0M332.7 194.9h0M333.1 200.3h0M333.2 211.8h0M333.5 213.8h0M333.5 208h0M333.7 201.7h0M334 212.7h0M334.1 203.8h0M334.3 203.2h0M334.6 206h0M334.7 209.1h0M334.9 209.1h0M335.1 215.5h0M335.3 208.1h0M335.4 209.2h0M335.6 206.3h0M335.8 207.3h0M336 204.2h0M336.3 212.9h0M336.4 210.4h0M388.2 210.2h0M388.2 204.5h0M388.6 199.4h0M388.8 215.8h0M389.1 219.3h0M389.3 215.8h0M389.4 213.2h0M389.7 198.8h0M389.9 205.2h0M390.3 195.5h0M390.5 200.5h0M390.7 197.1h0M390.9 218.4h0M391.1 213.2h0M391.3 199.3h0M391.5 214.6h0M391.8 208h0M392 206.9h0M392.3 210.3h0M392.4 205.9h0M392.7 211.8h0M393 213.5h0M393.3 217.3h0M393.4 197.4h0M393.7 204.3h0M393.9 216.3h0M394.1 201.8h0M394.2 212.4h0M394.6 204.7h0M394.7 201.3h0M395.1 208.7h0M395.4 199h0M395.5 206.7h0M395.7 209.8h0M396.1 206.1h0M396.2 218.9h0M396.3 212.8h0M396.7 220.5h0M396.8 219.6h0M397.2 215.5h0M397.2 210.4h0M397.5 192.8h0M397.9 199.4h0M398.1 208.6h0M398.2 199.7h0M398.5 210h0M398.7 213.9h0M399 210.1h0M399.2 216.1h0M399.4 213.3h0M399.7 210.4h0M400 203.9h0M400.1 205.8h0M400.3 202.7h0M400.7 193.1h0M400.9 217.9h0M401.1 201.5h0M401.2 198.8h0M401.5 207.5h0M401.8 196.1h0M401.9 197.6h0M402.2 208.5h0M402.3 206.6h0M402.7 208.3h0M402.8 206.6h0M403.2 204.2h0M403.4 200.1h0M403.6 207.1h0M403.7 206.8h0M404.1 218.5h0M404.2 205.2h0M404.5 206.4h0M404.8 207.9h0M404.9 200.5h0M405.2 203.1h0M405.5 202.7h0M405.7 208.3h0M405.8 209.8h0M420.4 210.9h0M420.8 218.1h0M421.3 212.2h0M421.8 213.6h0M421.9 212.7h0M422.3 215h0M422.9 214.7h0M423.2 217.1h0M423.6 208.8h0M424.3 207h0M424.7 213.7h0M425.1 208h0M425.4 207.2h0M504.1 206.2h0M504.4 204.3h0M504.6 208.2h0M504.9 203.5h0M505.3 209.7h0M505.6 203.2h0M505.9 208.7h0M506.2 201.6h0M506.2 202.3h0M506.5 208.6h0M507 210.6h0M507.2 207.9h0M507.5 204.2h0M507.8 204.6h0M508.2 208.7h0M508.4 205.8h0M508.8 208.5h0M508.9 212.4h0M509.3 205.9h0M509.5 206.1h0M509.8 204.7h0M510.4 208.5h0M510.5 211.1h0M510.7 208.2h0M511.1 204.8h0M511.5 199.2h0M511.7 204.5h0M511.9 209.2h0M512.4 200.8h0M512.5 207.2h0M513 208.3h0M513.2 205.5h0M513.4 209.5h0M513.7 206.8h0M514.2 201.3h0M514.5 203.7h0M514.5 206.8h0M515 206.6h0M515.4 204.2h0M515.7 201.9h0M515.8 209.8h0M516 209.3h0M516.4 208.1h0M516.6 206.4h0M517.1 209.3h0M517.5 209.5h0M517.6 209.8h0M518 209.6h0M518.4 201.6h0M518.7 204.4h0M518.9 208.9h0M519.2 205.5h0M559.8 206.2h0M560 207.7h0M560.4 201.3h0M560.7 204.6h0M560.9 213.2h0M561.2 206.8h0M561.5 203.2h0M561.7 208.7h0M562 205.3h0M562.2 208.3h0M562.6 215.9h0M562.9 207.2h0M563.2 204.9h0M563.3 205.8h0M563.8 200.7h0M564 204h0M564.4 197.4h0M564.7 205.8h0M565 204.9h0M565.1 198.8h0M565.4 200.8h0M565.8 203.2h0M566.1 213.7h0M566.3 208.6h0M566.5 207.3h0M566.8 205.2h0M567 208.8h0M567.4 205.1h0M567.5 206.1h0M568 200.4h0M568.1 206.4h0M568.4 205.6h0M568.8 212.1h0M569 200.2h0M569.2 204h0M569.5 198.4h0M570 204.8h0M570.1 205.8h0M570.4 214h0M570.8 212.1h0M570.9 202.4h0M571.3 207.3h0M571.4 203.5h0M571.8 210.3h0M572.1 196.5h0M572.5 199.5h0M572.8 207.7h0M572.9 202.9h0M573.2 201.9h0M573.4 200.8h0M573.9 205.6h0M573.9 206.9h0M574.2 204.9h0M574.5 196.8h0M574.8 206.4h0M575.3 214.5h0M575.4 216.1h0M575.8 213.6h0M576.1 198.1h0M576.3 207.4h0M576.5 205.2h0M576.9 211.9h0M577.1 204.3h0M577.5 203.9h0M577.6 207.8h0M575.3 222.1h0M575.7 215.6h0M576 201.4h0M576.2 217.6h0M576.6 213.9h0M577 211.8h0M577.3 210.5h0M577.5 222.1h0M577.9 200h0M578.3 205.9h0M578.5 203h0M578.9 220.3h0M579.3 214.7h0M579.7 206.5h0M579.9 210.8h0M580.3 207.6h0M580.4 209.2h0M580.9 210.1h0M581.2 213.8h0M581.6 206.1h0M582 199h0M582.1 214.9h0M582.7 204.7h0M583 207.1h0M583.1 213.8h0M583.7 217.5h0M584.1 212.7h0M584.4 202.5h0M584.8 204.1h0M585.1 215.8h0M585.2 209.6h0M585.7 203.2h0M586 202h0M586.3 219.9h0M586.7 210.3h0M587.2 201.4h0M587.4 204.3h0M587.9 199.1h0M588 212.6h0M588.2 207.7h0M588.9 214.4h0M589 208.7h0M589.2 218h0M589.7 207.8h0M590.1 211.7h0M590.4 211.5h0M590.9 205.4h0M591 206.3h0M591.3 209.3h0M591.7 213.5h0M592.1 207.3h0M592.4 209.3h0M648.1 198.3h0M648.4 200.7h0M648.7 198.6h0M649 198.9h0M649.2 201.9h0M649.5 193.9h0M649.7 201.8h0M650.1 191.1h0M650.4 199.9h0M650.5 204.1h0M650.8 197.6h0M651.1 197.2h0M651.5 193.5h0M651.6 200.2h0M652.1 195.1h0M652.2 192.9h0M652.5 200.8h0M652.8 187.3h0M653.1 193.1h0M653.2 197.8h0M653.5 196.9h0M654 196.5h0M654.1 197.6h0M654.4 196.9h0M654.6 195.6h0M654.8 199.8h0M655.3 197.2h0M655.7 190.5h0M655.8 188.7h0M656.2 193.9h0M656.3 192.4h0M656.6 202.9h0M656.9 201.4h0M657.1 186.9h0M657.4 195.1h0M657.7 197.3h0M657.9 196.2h0M658.3 193h0M658.6 191.1h0M658.8 194h0M659 183.7h0M659.5 188.5h0M659.6 195h0M659.8 192.1h0M660.1 191.6h0M660.3 190.3h0M660.7 192.1h0M661.1 190.3h0M661.3 193.3h0M661.7 188.9h0M661.8 188.9h0M662.2 196.1h0M662.3 185.4h0M662.7 193.6h0M662.9 193h0M663.1 188.2h0M663.6 189.9h0M663.7 195.4h0M664 181.3h0M664.4 186.4h0M664.5 191h0M664.9 196.4h0M665.1 187.2h0M665.4 187.5h0M665.7 193.5h0M676.8 214.1h0M677.2 214.1h0M677.6 206.7h0M677.8 207.2h0M678.1 213.7h0M678.7 208.1h0M678.9 214.2h0M679.3 214.8h0M679.7 212.2h0M680.2 217h0M680.6 217.8h0M680.9 211.9h0M681.3 212.7h0M681.4 209.5h0M682 219.9h0M682.4 213.1h0M682.7 210.1h0M682.9 209h0M683.6 214.8h0M683.7 211h0M721 200.9h0M721.6 206.4h0M721.7 197.9h0M722.3 205.4h0M722.4 203.2h0M723 205.3h0M723.3 203.5h0M723.6 202.8h0M724 204.6h0M724.3 207.3h0M724.4 200.2h0M724.9 198.6h0M725.3 197h0M725.5 207.4h0M725.8 202.4h0M726.2 204.3h0M726.7 197.9h0M726.8 209.5h0M727.1 198.1h0M727.4 198.6h0M732.5 173.8h0M732.7 160.9h0M732.8 177h0M733 172.3h0M733.2 172.1h0M733.3 172.1h0M733.4 171.1h0M733.6 176h0M733.9 160.9h0M734 180.7h0M734.2 178h0M734.4 168.5h0M734.5 167.9h0M734.6 177.9h0M734.8 175.8h0M735.1 181.5h0M735.1 175.7h0M735.3 176.3h0M735.5 171.3h0M735.7 169h0M735.8 175.9h0M736.1 168h0M736.3 178.2h0M736.3 168.6h0M736.6 175.3h0M736.7 174.9h0M736.8 178.5h0M737.1 175.6h0M737.2 174.2h0M737.4 174.6h0M737.5 179.8h0M737.8 182.6h0M737.9 176.3h0M738 171.1h0M738.2 180.2h0M738.5 174h0M738.5 178.3h0M738.7 176.3h0M738.9 172.2h0M739.1 171.1h0M739.2 170.7h0M739.4 173.1h0M739.6 174.2h0M739.8 176.6h0M739.9 163.3h0M740.1 167.1h0M740.3 168.7h0M740.4 173.4h0M740.5 176.9h0M740.7 171h0M741 171.9h0M741.2 181.3h0M741.3 183.9h0M741.4 169.3h0M741.6 176.3h0M741.7 173h0M742 174h0M742.1 174.4h0M742.4 184.9h0M742.5 174.6h0M742.7 168.3h0M742.9 167.8h0M743 179.9h0M743.1 170.7h0M743.4 174.3h0M743.4 163.4h0M743.7 173.1h0M743.9 171.8h0M744 165h0M744.2 179.2h0M744.4 169.5h0M744.5 160.9h0M744.6 170.3h0M744.8 168.4h0M745 173h0M745.2 176.6h0M745.4 173h0M745.5 170.5h0M745.6 167.6h0M745.9 175.3h0M746 172.6h0M746.2 168.2h0M746.4 168.9h0M746.6 176.9h0M746.8 168.9h0M746.9 179.3h0M747 160.9h0M747.2 174.1h0M747.4 182.7h0M747.5 162h0M747.8 174h0M747.9 182.4h0M748 165.6h0M748.3 171.1h0M748.4 180h0M748.5 169h0M748.8 183.8h0M749 179.2h0M749.1 177.1h0M749.3 172.3h0M749.3 168.8h0M749.5 172.6h0M749.7 179.9h0M749.9 179.9h0M750.1 177.2h0M750.2 160.9h0M750.4 171.7h0M750.6 173.4h0M750.8 171.9h0M751 172.6h0M751.1 168.2h0M751.3 175h0M751.5 173.8h0M751.7 175h0M751.8 175.7h0M752 165.9h0M752 170h0M752.2 165.7h0M752.4 168.7h0M752.6 170.8h0M752.8 178h0M752.9 179.8h0M753.2 176.4h0M753.3 175.4h0M753.5 171.7h0M753.6 177.1h0M753.8 167.2h0M754 175.8h0M754.1 172.2h0M754.2 169.5h0M754.5 171.6h0M754.6 184h0M754.8 173.5h0M755 171.2h0M755.2 172.8h0M755.4 178.4h0M755.4 177.9h0M755.7 176.6h0M755.8 175.4h0M756 166.1h0M756.1 163.1h0M756.3 175.2h0M756.5 181.4h0M756.6 175h0M756.9 178.2h0M757 175.3h0M757.2 167.5h0M757.3 165.9h0M757.5 177.6h0M757.7 172.9h0M757.8 177.4h0M758 171.7h0M758.2 172.3h0M758.3 177.2h0M758.6 182.1h0M758.8 175.3h0M758.9 175.5h0M759.1 178h0M759.3 164.3h0M759.3 177.7h0M759.5 173.8h0M759.6 171.4h0M760 175.2h0M760 171.6h0M760.3 176h0M760.3 169.5h0M760.5 174.4h0M760.8 171.1h0M760.9 164.6h0M761.2 180.3h0M761.2 171.4h0M761.3 167.1h0M761.7 171.3h0M761.8 174.6h0M762 169.4h0M762.1 176.5h0M762.3 173.9h0M762.5 172.5h0M762.5 165.2h0M762.9 170.3h0M763 181.7h0M763.1 161.3h0M763.3 171.1h0M763.4 175h0M763.6 170.4h0M763.8 178.1h0M763.9 174.6h0M764.2 175.5h0M764.2 167.5h0M764.4 173.6h0M764.6 168.6h0M764.8 170.6h0M765 171.7h0M765.2 172.8h0M765.4 167.6h0M795.2 221.4h0M795.3 215.7h0M795.7 218.5h0M796.1 218.3h0M796.3 217.4h0M796.8 216.3h0M797.1 217.5h0M797.2 213.5h0M797.7 218h0M798 215.3h0M798.4 224.1h0M798.5 210.4h0M798.9 225.4h0M799.3 210.6h0M799.5 216.9h0M799.7 207h0M800.1 221.2h0M800.2 212.1h0M800.7 220.7h0M801 209h0M801.4 215.1h0M801.7 211.2h0M802 227.1h0M802.2 215.5h0M802.6 219.6h0M802.8 215.4h0M801.1 181h0M801.4 177.8h0M801.8 190.8h0M801.9 190.3h0M802.3 185.6h0M802.6 172.8h0M802.7 186.3h0M803 175.6h0M803.3 194h0M803.4 177.7h0M803.7 184h0M804 176.1h0M804.4 187.2h0M804.5 183.3h0M804.9 184.4h0M805.3 184.5h0M805.3 194.4h0M805.6 174.1h0M806 174h0M806.2 182.8h0M806.5 188.3h0M806.7 198.9h0M807.1 199.6h0M807.2 189.8h0M807.6 192.2h0M807.8 185.3h0M808.1 197.8h0M808.3 191.7h0M808.7 190.6h0M808.8 187.8h0M809.2 188.3h0M809.4 187.2h0M809.7 193.9h0M809.9 177h0M810.3 180.4h0M810.5 195.2h0M810.6 180.7h0M811 188.2h0M811.3 184.7h0M811.6 181.2h0M811.9 185.3h0M812 183.3h0M812.3 192.8h0M812.7 185.2h0M813 185.1h0M813.2 181.4h0M813.4 193.9h0M813.7 184.9h0M814 184.4h0M814.2 184.2h0M814.5 182.5h0M814.7 177.4h0M815 186.4h0M815.3 201.2h0M815.6 197.5h0M815.9 184.6h0M816.1 191.2h0M816.3 191.2h0M814.6 159h0M814.9 165.7h0M815 165.2h0M815.3 165.8h0M815.5 157.2h0M815.7 165.2h0M815.9 159.8h0M816.1 159.8h0M816.3 155.2h0M816.6 156.5h0M816.9 158.4h0M817 151.1h0M817.1 157.7h0M817.4 153.9h0M817.6 155.7h0M817.9 166.7h0M818.2 161.2h0M818.2 156h0M818.5 150.2h0M818.8 148h0M818.9 147.4h0M819.2 159.1h0M819.3 155.7h0M819.5 150.1h0M819.8 159.8h0M820.1 144.8h0M820.2 145.5h0M820.4 149.3h0M820.6 152.2h0M821 142.1h0M821.1 140.7h0M821.3 145.2h0M821.6 147.9h0M821.8 142.9h0M822 139.7h0M822.1 151.6h0M822.4 136.7h0M822.7 143.2h0M822.9 137.7h0M823.1 143.1h0M823.3 147.1h0M823.4 145.1h0M823.7 143h0M823.8 144.3h0M878.2 207.2h0M878.4 208.3h0M878.6 209.9h0M878.8 201.2h0M879 209.4h0M879.3 210.1h0M879.5 204.2h0M879.7 217.9h0M880 204h0M880.2 200.6h0M880.6 216.1h0M880.9 212.9h0M880.9 201.7h0M881.3 212.3h0M881.4 215.5h0M881.6 205.8h0M882 204.6h0M882.1 205.2h0M882.3 203.1h0M882.6 204.7h0M883 216.5h0M883.2 209.8h0M883.4 211.1h0M883.6 210.4h0M883.7 216.5h0M884.1 211.1h0M884.3 211.4h0M884.6 216h0M884.8 204.8h0M885.2 207.9h0M885.3 211.4h0M885.6 207h0M885.8 201.8h0M886 216.2h0M886.3 205.2h0M886.5 213.2h0M886.8 205.1h0M887 212.4h0M887.2 206.6h0M887.5 198.3h0M887.8 204.9h0M887.8 206.2h0M888.1 201.8h0M888.3 220.1h0M888.7 199.5h0M888.9 212h0M889.7 190.5h0M889.9 186.6h0M890.3 191.4h0M890.4 194.8h0M890.8 195.4h0M891 185.8h0M891.4 190h0M891.5 188.7h0M891.9 180.9h0M892.3 190.7h0M892.4 185h0M892.8 188.1h0M893 190h0M893.3 188.5h0M893.6 188.1h0M893.7 186.8h0M894 188.7h0M894.3 184.8h0M894.7 185.3h0M894.9 189.9h0M969.7 206.1h0M970 209.7h0M970.4 210.3h0M970.5 212.7h0M970.8 207.5h0M971 213.1h0M971.3 217.8h0M971.5 211.8h0M971.8 204.1h0M971.8 213.1h0M972.1 206.7h0M972.4 205.8h0M972.7 202.9h0M972.9 206.6h0M973 213.3h0M973.2 208.6h0M973.5 206.4h0M973.8 210.5h0M973.9 214h0M974.2 207.1h0M974.5 205.3h0M974.8 206.6h0M974.9 215.6h0M975.2 205.5h0M975.3 205.5h0M975.7 198.9h0M975.8 208.9h0M976.1 209.3h0M976.4 206.5h0M976.6 203h0M976.9 201.5h0M976.9 206.7h0M977.3 207.9h0M977.5 207.8h0M977.8 215.1h0M978 212.7h0M978.3 215.1h0M978.4 207.7h0M978.7 203.4h0M978.9 211.2h0M979.2 204.5h0M979.4 207.6h0M979.6 213.2h0M979.9 202.1h0M980 211.2h0M980.2 209h0M980.5 213.4h0M980.8 211.3h0M981 211.9h0M981.2 206h0M981.4 212.9h0M981.6 213.2h0M1020.9 211.4h0M1021.3 209.9h0M1021.5 212.9h0M1022 210.4h0M1022.4 199.9h0M1022.6 220.1h0M1022.7 207.6h0M1023.1 208.2h0M1023.5 211.1h0M1023.6 214h0M1024 209.3h0M1024.3 212h0M1024.7 219h0M1024.9 215.1h0M1025.3 217.4h0M1025.6 213.1h0M1025.8 203.3h0M1026.4 217h0M1026.6 208.5h0M1027 209.2h0M1027.3 210.2h0M1027.4 218.4h0M1027.8 208.7h0M1028.1 215.5h0M1028.5 210h0M1028.7 210.8h0M1029.2 205h0M1029.5 211.7h0M1029.6 211.7h0M1030.1 214.2h0M1030.4 204.2h0M1030.6 211.5h0M1031.1 204.9h0M1031.2 203.9h0M1031.6 208.7h0M1032 204.7h0M1032.1 210.8h0M1032.5 206.2h0M1032.7 202.5h0M1222.8 204.9h0M1222.9 206.6h0M1223.2 201.6h0M1223.7 214.6h0M1223.9 214.7h0M1224.2 199.1h0M1224.7 205h0M1225.1 219.7h0M1225.5 211.2h0M1225.8 212.1h0M1226 207.2h0M1226.5 206.2h0M1226.6 213.1h0M1227.1 212h0M1227.5 211.7h0M1227.7 208.1h0M1228 214.3h0M1228.5 208.8h0M1228.6 202.8h0M1229.1 218.9h0M1229.6 207.8h0M1229.8 198.9h0M1230.1 205.8h0M1230.5 198h0M1230.7 199.1h0M1231 205.2h0M1231.4 207.7h0M1231.8 212h0M1232.3 200.5h0M1232.6 219.7h0M1232.8 205.8h0M1233.1 203.7h0M1233.5 197.4h0M1233.9 200h0M1234 198h0M1234.6 210.3h0M1235 203.9h0M1235.1 213.8h0M1235.6 197.5h0M1235.7 209.6h0M1236.1 214.3h0M1236.5 220.1h0M1236.8 203.6h0M1237.1 208.4h0M1237.4 199.1h0M1238.1 208.1h0M1238.4 209.4h0M1238.7 213.5h0M1239.1 211.8h0M1239.4 216.9h0M1239.7 200.6h0M1239.9 204h0M1240.4 195.3h0M1240.6 212.5h0M1241.1 198.2h0M1241.4 209.8h0M1241.6 204.2h0M1242 212h0M1242.4 207.1h0M1242.8 199.6h0M1242.8 207.4h0M1243.3 211.8h0M1243.7 204.8h0M1244.1 200.7h0M1244.4 208.8h0M1312.1 196.9h0M1312.4 197.8h0M1313.1 192.2h0M1313.7 198.1h0M1313.9 192.9h0M1314.5 191.3h0M1314.7 197.8h0M1315.1 193.9h0M1315.5 195.9h0M1315.9 194h0M1316.4 200.9h0M1316.6 196.5h0M1317.1 199.6h0M1317.5 193.3h0M1318 195.6h0M1318.4 196.3h0M1316.7 145.1h0M1317.2 143.9h0M1317.5 143.6h0M1318.1 143.6h0M1318.7 152.1h0M1319.1 147.6h0M1319.3 143.6h0M1319.6 144h0M1321.6 87.8h0M1322.2 93.3h0M1322.7 90.7h0M1323.2 91.7h0M1324.1 88h0M1324.7 91h0M1324.8 90.3h0M1325.7 91.6h0M1326 84.5h0M1326.7 87h0M1327.3 92.1h0M1327.7 83.8h0M1328 94.2h0M1328.4 85.2h0M1329.1 94.1h0M1329.5 88.6h0M1330.5 83.8h0M1330.7 93h0M1331.1 84.6h0M1331.8 101h0M1332.4 87h0M1333 87.4h0M1333.6 91.1h0M1334 91.3h0M1334.2 94.1h0M1334.9 85.5h0M1335.3 85.7h0M1335.7 88.4h0M1336.5 95.5h0M1337 84.4h0M1337.7 93.5h0M240 200h0M238 205h0M396 179.5h0M396 187h0M721.9 237.4h0M1326 78h0M1327.5 80.5h0M1333 96h0M1337.5 94.5h0M1325 99h0" stroke="#ff0000" stroke-width="3.0" stroke-linecap="round" fill="none"/>
<line x1="185.8" y1="235.4" x2="190.5" y2="235.4" stroke="#00ff00" stroke-width="3.0"/>
<line x1="194" y1="224.3" x2="207" y2="224.3" stroke="#8b0000" stroke-width="3.0"/>
<line x1="255.7" y1="240.8" x2="271.2" y2="240.8" stroke="#00ff00" stroke-width="3.0"/>
<line x1="271.2" y1="269" x2="278.6" y2="269" stroke="#00ff00" stroke-width="3.0"/>
<line x1="278" y1="240" x2="290.7" y2="240" stroke="#00ff00" stroke-width="3.0"/>
<line x1="470" y1="322" x2="479" y2="322" stroke="#00ff00" stroke-width="3.0"/>
<line x1="481" y1="240.8" x2="490.4" y2="240.8" stroke="#00ff00" stroke-width="3.0"/>
<line x1="518" y1="235.6" x2="543.5" y2="235.6" stroke="#00ff00" stroke-width="3.0"/>
<line x1="545" y1="237.8" x2="561" y2="237.8" stroke="#00ff00" stroke-width="3.0"/>
<line x1="617.5" y1="244" x2="623.6" y2="244" stroke="#00ff00" stroke-width="3.0"/>
<line x1="628" y1="247" x2="631" y2="247" stroke="#00ff00" stroke-width="3.0"/>
<line x1="682.6" y1="237.4" x2="708.4" y2="237.4" stroke="#00ff00" stroke-width="3.0"/>
<line x1="822" y1="320.3" x2="829" y2="320.3" stroke="#00ff00" stroke-width="3.0"/>
<line x1="831" y1="241" x2="834" y2="241" stroke="#00ff00" stroke-width="3.0"/>
<line x1="834" y1="252" x2="849" y2="252" stroke="#0000ff" stroke-width="3.0"/>
<line x1="848.8" y1="242.2" x2="875" y2="242.2" stroke="#00ff00" stroke-width="3.0"/>
<line x1="874.5" y1="317" x2="877.5" y2="317" stroke="#00ff00" stroke-width="3.0"/>
<line x1="896.3" y1="236.4" x2="905.8" y2="236.4" stroke="#00ff00" stroke-width="3.0"/>
<line x1="932.7" y1="243.4" x2="938.7" y2="243.4" stroke="#00ff00" stroke-width="3.0"/>
<line x1="951.5" y1="244" x2="961" y2="244" stroke="#00ff00" stroke-width="3.0"/>
<line x1="963.6" y1="242.4" x2="971" y2="242.4" stroke="#00ff00" stroke-width="3.0"/>
<line x1="980.5" y1="265" x2="985.8" y2="265" stroke="#00ff00" stroke-width="3.0"/>
<line x1="998" y1="335" x2="1007" y2="335" stroke="#00ff00" stroke-width="3.0"/>
<line x1="1126.4" y1="222" x2="1137.4" y2="222" stroke="#8b0000" stroke-width="3.0"/>
<line x1="1219.6" y1="240.5" x2="1224" y2="240.5" stroke="#00ff00" stroke-width="3.0"/>
<line x1="1308.4" y1="243" x2="1314" y2="243" stroke="#00ff00" stroke-width="3.0"/>
<line x1="1323" y1="87.6" x2="1337" y2="87.6" stroke="#00ff00" stroke-width="3.0"/>
<line x1="1319" y1="237.9" x2="1323.5" y2="237.9" stroke="#00ff00" stroke-width="3.0"/>
<line x1="1337" y1="238.3" x2="1370" y2="238.3" stroke="#00ff00" stroke-width="3.0"/>
<path d="M146.1 700.6h0M146.2 700h0M146.5 695.7h0M146.8 698.2h0M146.9 700.4h0M147.1 703h0M147.3 698.3h0M147.6 696.4h0M147.7 707.3h0M147.9 699.6h0M148.2 702.5h0M148.5 705.8h0M148.5 697.6h0M148.8 703.7h0M149 704.9h0M149.3 697.1h0M149.4 698.9h0M149.7 697.8h0M149.9 703.3h0M150.1 699.5h0M150.3 699.6h0M150.5 704.5h0M150.7 694.9h0M150.8 693.7h0M151.1 708.4h0M151.4 699.1h0M151.6 704.4h0M151.8 698.6h0M151.9 699.1h0M152.1 688.6h0M152.3 693.8h0M152.7 701.2h0M152.9 697.3h0M153 699.7h0M153.2 700.5h0M153.5 695.7h0M153.6 705.5h0M153.7 697h0M154 694.3h0M154.2 706.8h0M154.3 699.7h0M154.7 707h0M154.9 696.6h0M155.2 701.5h0M155.3 698.5h0M155.4 694h0M155.7 689.4h0M155.8 692.7h0M156.2 704.9h0M156.3 706.2h0M156.6 697.8h0M156.6 692.6h0M157 696.9h0M157.2 701.2h0M157.3 694.9h0M157.6 700.9h0M157.7 699.5h0M157.9 700.1h0M158.2 692h0M158.4 697.8h0M158.5 700.8h0M158.8 696.5h0M159.1 699.7h0M159.2 701.5h0M159.5 697h0M159.7 698.1h0M159.8 707.1h0M160.1 692.4h0M160.3 699.7h0M160.5 693h0M160.8 703.1h0M160.9 693.3h0M161 699.4h0M161.3 698.2h0M161.6 703.1h0M161.7 695.4h0M162 704.7h0M162.2 701.5h0M162.3 701.6h0M162.5 693h0M162.8 704.1h0M162.9 698.6h0M163.2 696.5h0M163.3 700.1h0M163.6 707.9h0M163.8 701.3h0M164 698.2h0M164.3 703.1h0M164.4 703.3h0M164.6 699.1h0M164.9 703.2h0M165 696h0M165.3 698h0M165.6 693.3h0M165.7 694h0M165.8 702.1h0M166 697.9h0M166.4 704.2h0M166.5 702.7h0M166.6 697.5h0M167 700.2h0M167.2 694.5h0M167.3 702.4h0M167.6 702.8h0M167.8 698.8h0M167.9 700.8h0M168.2 698.6h0M168.4 696.1h0M168.5 698.4h0M168.8 704.1h0M169 688.8h0M169.2 698.3h0M169.5 701.3h0M169.7 705.7h0M169.9 706.9h0M170.1 694.1h0M170.2 693.7h0M170.4 693.2h0M170.7 697.3h0M170.8 701.6h0M171.1 705.8h0M171.4 710h0M171.6 696.4h0M171.8 700h0M172 698.2h0M172.2 700.8h0M172.4 701.8h0M172.5 703.9h0M172.7 701.2h0M172.9 702h0M173.3 704.8h0M173.3 689.7h0M173.7 701.8h0M173.7 697.7h0M173.9 699.3h0M174.3 711.2h0M174.3 693h0M174.5 698.6h0M174.8 704.8h0M175.1 690.7h0M175.2 704h0M175.5 711h0M175.8 708.9h0M175.8 694.1h0M176.1 711.4h0M176.3 697.7h0M176.6 698.5h0M176.6 692.9h0M176.8 697.3h0M177.1 696.6h0M177.4 705.1h0M177.6 711.8h0M177.7 707.8h0M178 703.7h0M178.2 703.4h0M178.4 703h0M178.5 700.7h0M178.7 699.4h0M179 702.9h0M179.2 703.3h0M179.4 693.9h0M179.6 701.4h0M179.8 708.7h0M180.1 704h0M180.3 703.7h0M180.4 708.5h0M180.7 696.1h0M180.8 698.2h0M181.1 704h0M181.3 702h0M181.4 702.2h0M181.7 702.3h0M181.9 705.1h0M182.1 695.4h0M182.3 697.5h0M182.6 697.1h0M182.8 699.4h0M183 703.3h0M183.1 704h0M183.4 703.2h0M183.6 696.6h0M183.7 690.9h0M184.1 702.6h0M184.2 709.7h0M184.4 698h0M184.7 699.1h0M184.8 705.2h0M185 703.4h0M185.3 709.3h0M185.5 701.6h0M185.7 692.2h0M186 700.9h0M186.2 695.1h0M186.3 700.5h0M186.6 707.9h0M186.7 695.9h0M187 698.1h0M187.1 708.4h0M187.3 698.2h0M187.6 692.6h0M187.9 700.4h0M187.9 702.5h0M188.2 698.8h0M188.4 699.2h0M188.5 700.3h0M188.7 701.6h0M189 709.2h0M189.2 700.8h0M189.4 703.3h0M189.6 694.3h0M190 700.3h0M190 700.5h0M190.3 699.4h0M190.5 689.4h0M190.6 692.7h0M190.8 689.5h0M191.2 705.1h0M191.3 699h0M191.5 695.2h0M191.7 692.7h0M191.9 694.5h0M192.2 699.7h0M192.4 707.2h0M192.6 695.4h0M192.7 697.9h0M193 695.9h0M193.2 709.5h0M193.5 694.2h0M193.7 701.6h0M193.9 706.5h0M194.1 704.4h0M194.2 697.4h0M194.5 700.3h0M194.6 696.5h0M194.9 700.7h0M195 700.7h0M195.3 697.3h0M195.4 699.9h0M195.6 698.9h0M195.8 698.3h0M205.1 702.5h0M205.4 692.5h0M205.5 702.9h0M205.7 699.3h0M205.9 702.4h0M206.2 698.5h0M206.3 694.2h0M206.6 691.1h0M206.9 690h0M206.9 699.3h0M207.1 696.7h0M207.4 698h0M207.5 701.5h0M207.8 696.7h0M208.1 702.1h0M208.1 699.1h0M208.4 698.5h0M208.7 698.8h0M209 692.7h0M209 699.3h0M209.3 697.4h0M209.5 692.1h0M209.7 703.8h0M209.9 697.8h0M210.1 689.9h0M210.3 698.6h0M210.6 700.1h0M210.8 701.1h0M210.8 692h0M211.1 701.2h0M211.4 696h0M211.6 691.1h0M211.8 694.3h0M212 700.2h0M212.2 695.4h0M212.5 696h0M212.5 698.6h0M212.7 697.2h0M212.9 701.3h0M213.3 691.6h0M213.5 694.4h0M213.6 687.9h0M213.9 701.8h0M214.1 695.2h0M214.2 705.3h0M214.4 695.8h0M214.6 696.7h0M215 695.8h0M215.2 698.8h0M215.2 699.3h0M215.5 693.9h0M215.8 698.3h0M215.8 706.3h0M216 703.2h0M216.3 704.8h0M216.5 696.5h0M216.8 697.8h0M216.9 701.3h0M217.2 690.6h0M217.4 700.5h0M217.7 695.6h0M217.8 699.1h0M218.1 697.9h0M218.3 698.9h0M218.5 697h0M218.7 698.9h0M218.9 699.7h0M219.1 692.1h0M219.3 699.2h0M219.5 693.4h0M219.6 705.4h0M219.8 689h0M220 699h0M220.4 697.3h0M220.5 691.5h0M220.8 697.3h0M220.8 690.6h0M221.1 694h0M221.4 699.7h0M221.5 699.4h0M221.8 694.4h0M222 696.2h0M222.1 688.7h0M222.4 688.6h0M222.5 703h0M222.7 696h0M222.9 696h0M223.2 691.7h0M223.3 692.7h0M223.5 700.6h0M223.8 696.3h0M224 691h0M224.2 702.1h0M224.4 696.6h0M224.7 691h0M225 698.9h0M225 697.2h0M225.2 699.3h0M225.5 696.8h0M225.8 701h0M225.8 689.7h0M226 687.1h0M226.2 690.5h0M226.5 691.6h0M226.8 701.7h0M227 696.9h0M227.2 696.1h0M227.4 696.5h0M227.6 698.1h0M227.9 702.4h0M227.9 697.9h0M228.2 689.8h0M228.5 698.2h0M228.5 695.9h0M228.7 696.5h0M229.1 690.8h0M229.3 702.5h0M229.5 696.2h0M229.6 698.8h0M229.8 691.4h0M230 698.1h0M230.4 708h0M230.4 699h0M230.6 703h0M230.9 697h0M231.2 700h0M231.4 699h0M231.4 695.4h0M231.8 697.5h0M232 694.8h0M232.1 693.1h0M232.3 703h0M232.6 700.9h0M232.7 696.7h0M233 708.4h0M233.3 698.6h0M233.3 696.6h0M233.7 698.1h0M233.8 696h0M234.1 695.3h0M234.2 692.5h0M234.5 695.4h0M234.7 695h0M234.9 697.6h0M235 698.6h0M235.4 694.8h0M235.4 698.3h0M235.6 695.1h0M235.9 701.4h0M236 699.3h0M236.2 702.2h0M236.5 703h0M236.8 691.1h0M236.9 702.8h0M237.2 695.4h0M237.3 700.2h0M237.5 698.9h0M237.8 690.1h0M238 697.4h0M238.2 706.7h0M238.4 698.9h0M238.5 691.2h0M238.7 692.8h0M239.1 698.1h0M239.2 698.1h0M239.4 693.7h0M239.6 699h0M239.9 698.7h0M240 697.6h0M240.2 694.5h0M240.5 697.8h0M240.7 702.1h0M240.8 704.2h0M241.1 699.3h0M241.2 694.8h0M241.5 702.4h0M241.6 702.1h0M241.9 700.9h0M242.1 694h0M242.4 701.2h0M242.5 701h0M242.8 698.2h0M242.9 699.7h0M243.1 702.1h0M243.5 701.9h0M243.6 695.4h0M243.8 696.6h0M244.1 700.1h0M244.2 701.2h0M244.4 698.6h0M244.6 702h0M244.9 695.6h0M245 703.5h0M245.2 701.7h0M245.4 706.2h0M245.6 702.7h0M245.8 702.7h0M246.1 694.7h0M246.3 702.3h0M246.6 701.3h0M246.8 704.3h0M246.8 697.8h0M247.1 703.5h0M247.4 702.8h0M247.5 702.3h0M247.8 696.9h0M248 692.4h0M248.2 703.2h0M248.5 697.1h0M248.5 692h0M248.7 704.1h0M249 698.5h0M249.1 694h0M249.4 701.6h0M249.6 695.4h0M249.8 699.5h0M250.1 698.1h0M250.2 691.3h0M250.5 700.2h0M250.7 700.3h0M251 701.2h0M251.1 698.1h0M251.3 703.2h0M251.6 699.1h0M251.8 694.1h0M252 698.1h0M252.1 701.2h0M252.3 697.8h0M252.5 694.3h0M252.8 698.3h0M253 700h0M253.1 702.7h0M253.3 694.8h0M253.7 697.1h0M253.9 701.3h0M253.9 691.9h0M254.2 705.3h0M254.4 706.8h0M254.7 700.3h0M254.9 698.5h0M255 698.1h0M255.3 705.7h0M255.6 699.7h0M255.7 691.6h0M255.9 699.8h0M256 694.2h0M256.4 696.8h0M256.5 699.2h0M256.7 691.8h0M256.9 698.8h0M257.1 692.4h0M257.3 698.9h0M257.5 697.5h0M257.9 688.7h0M257.9 697.4h0M258.1 697.3h0M258.5 690h0M258.6 697.5h0M258.8 693.9h0M259 686.7h0M259.3 698.7h0M259.5 699.2h0M259.6 694.6h0M260 691h0M260 705.9h0M260.2 690.2h0M260.4 689.8h0M260.6 699h0M260.9 696.8h0M261 701.2h0M261.2 700.8h0M261.6 702.5h0M261.8 689.8h0M262 699.3h0M262 694.5h0M262.3 701h0M262.5 697.2h0M262.8 695.8h0M263 698.3h0M263.2 696.6h0M263.4 696.8h0M263.7 699.3h0M263.9 701.1h0M264.1 697.2h0M264.2 699.2h0M264.5 697.6h0M264.6 695.3h0M264.8 693.8h0M265 698h0M265.3 688.6h0M265.4 695.1h0M265.8 695.3h0M266 699.3h0M266 698.9h0M266.3 702.2h0M266.6 702.7h0M266.6 698.6h0M266.8 698.1h0M267.1 699.5h0M267.3 707.4h0M267.5 697.3h0M267.7 695.3h0M268 699.1h0M268.2 694.1h0M268.3 694.3h0M268.5 699.6h0M268.8 700.9h0M268.9 694.5h0M269.3 698.7h0M269.5 695.8h0M269.7 697.8h0M269.9 692.4h0M270.1 699.9h0M270.2 692.5h0M270.4 702.5h0M270.7 698.8h0M271 700.3h0M271.2 691.2h0M271.3 700.8h0M271.6 688.1h0M271.8 693.6h0M272 697.6h0M272.2 700.1h0M272.3 696.7h0M272.5 703h0M272.9 694.7h0M273 689.9h0M273.2 705.9h0M273.5 698.5h0M273.6 696.5h0M273.8 695.7h0M274 699.3h0M274.2 688.6h0M274.5 697.5h0M274.7 696.7h0M274.8 703.1h0M275 699.9h0M275.4 700.3h0M275.4 702.2h0M275.7 696.3h0M276 699.4h0M276.2 701.5h0M276.3 702.5h0M276.5 696.2h0M276.8 701.6h0M277 698.1h0M277.2 699.2h0M277.4 697h0M277.6 700.3h0M277.8 690.5h0M278 693.8h0M278.2 702.6h0M278.4 701.5h0M278.6 697.8h0M278.9 697.4h0M279.1 695.4h0M279.2 707h0M279.4 703.8h0M279.7 704.3h0M279.8 697h0M280 694.7h0M280.3 695.5h0M280.4 694.5h0M280.7 695.4h0M280.9 709.6h0M281.2 701.7h0M281.3 695h0M281.5 699.8h0M281.9 701.8h0M282 698.4h0M282.3 697.7h0M282.4 697.4h0M282.7 697.3h0M282.7 695.6h0M283.1 701.6h0M283.2 694.8h0M283.5 697.5h0M283.5 705.3h0M283.8 691.9h0M284 693.1h0M284.3 697.8h0M284.5 696.7h0M284.8 700.7h0M284.8 698.3h0M285 692.9h0M285.2 701.6h0M285.5 702.4h0M285.6 695.9h0M286 697.2h0M286.2 698.3h0M286.3 704h0M286.5 690.2h0M286.8 690.1h0M287.1 692h0M287.1 692.9h0M287.3 702.2h0M287.7 703.2h0M287.7 689.5h0M288 700.3h0M288.2 704.6h0M288.3 695h0M288.6 692h0M288.9 697h0M289.1 698.1h0M289.3 695.8h0M289.5 698.2h0M289.6 694.9h0M289.9 707.7h0M290.1 697.7h0M290.3 695.3h0M290.6 699.5h0M290.7 698.3h0M290.8 693.7h0M291.1 697.3h0M291.3 702.2h0M291.5 698.9h0M291.7 697.2h0M292 696.2h0M292.2 704.1h0M292.4 696.9h0M292.6 694.7h0M292.9 702.3h0M293 701.4h0M293.3 698.9h0M293.4 704.2h0M293.7 703.6h0M293.9 692.4h0M294 699.8h0M294.2 693.8h0M294.4 699.5h0M294.8 696.1h0M294.9 698.2h0M295.2 691.3h0M295.2 690.7h0M295.5 696.7h0M295.8 700.4h0M295.9 700.1h0M296.2 697.7h0M296.4 694.3h0M296.5 700.4h0M296.8 692.6h0M296.9 693h0M297.3 698.7h0M297.3 696.5h0M297.7 689.6h0M297.9 695.2h0M298.1 695.5h0M298.3 693.9h0M298.3 692.6h0M298.7 698.4h0M298.8 694.5h0M299 701.7h0M299.4 689.8h0M299.5 690.8h0M299.7 692.7h0M299.9 697.1h0M300.2 693.8h0M300.3 697.3h0M300.5 686.8h0M300.6 695.8h0M301 694.9h0M301.1 690.4h0M301.4 699.2h0M301.6 688.9h0M301.8 700.9h0M302 695.2h0M302.3 695.3h0M302.4 688.9h0M302.7 694.6h0M302.8 690.7h0M303 695.5h0M303.1 697.8h0M303.4 694h0M303.5 696.5h0M303.9 691.9h0M304.1 693.7h0M304.2 689.9h0M304.4 696.8h0M304.6 701.5h0M305 695.1h0M305 703h0M305.3 697.1h0M305.4 696.8h0M305.7 698h0M305.9 695.7h0M306 688.3h0M306.3 696.2h0M306.6 696.7h0M306.7 699.2h0M307 694.6h0M307.1 702.7h0M307.4 701.8h0M307.7 705.2h0M307.9 698.2h0M308.1 701h0M308.3 693.4h0M308.5 703.2h0M308.7 698.5h0M308.8 697.7h0M309 702.8h0M309.2 693h0M309.5 700.1h0M309.7 695.3h0M309.8 698.1h0M310.2 698.9h0M310.4 689.2h0M310.5 702.4h0M310.8 696.3h0M311 695.2h0M311.2 698.8h0M311.3 695.5h0M311.6 693.2h0M311.8 697.9h0M312 698.3h0M312.2 706h0M312.5 693.4h0M312.6 701.6h0M312.7 697.8h0M313 702.9h0M313.2 697.2h0M313.3 699.1h0M313.6 696.9h0M313.8 697.3h0M314 696.6h0M314.4 698.7h0M314.4 699.1h0M314.8 692h0M314.9 693.4h0M315.1 699.9h0M315.4 703.1h0M315.5 701.3h0M315.8 693.5h0M316 700.4h0M316.1 706.5h0M316.3 698.5h0M316.6 699.2h0M316.9 701.7h0M317.1 699.5h0M317.3 702.1h0M317.4 693.4h0M317.6 700.6h0M317.8 702.8h0M318 698.5h0M318.3 696.9h0M318.5 693.3h0M318.7 704.4h0M318.8 692.8h0M319 703.3h0M319.2 709.6h0M319.6 699.9h0M319.7 702.9h0M319.8 701.4h0M320.1 694.1h0M320.3 693.7h0M320.6 693.2h0M320.8 704.6h0M321 704h0M321.2 699.6h0M321.3 702h0M321.7 696.2h0M321.8 690.4h0M321.9 694.2h0M322.2 697.7h0M322.5 700.2h0M322.7 704.3h0M322.8 693.8h0M323 703.1h0M323.3 693h0M323.5 694.2h0M323.6 704.5h0M323.8 697.9h0M324.1 701.1h0M324.2 697.9h0M324.5 696.6h0M324.6 693.1h0M325 702.4h0M325.2 697.1h0M325.3 696.6h0M325.6 702.1h0M325.8 702.1h0M325.9 706.4h0M326.2 691h0M326.4 696.4h0M326.7 699.9h0M326.9 697.4h0M327 701h0M327.1 698.4h0M327.3 697.6h0M327.6 698.7h0M327.8 691.1h0M328.1 699.1h0M328.3 700.9h0M328.6 698.9h0M328.6 701h0M328.9 699.4h0M329.1 699.8h0M329.3 704.7h0M329.5 700.9h0M329.8 702.2h0M330 695.4h0M330.2 698.1h0M330.4 697.1h0M330.5 702.4h0M330.7 700.8h0M331 692.8h0M331.1 703.7h0M331.4 697.6h0M331.7 692.8h0M331.7 705.9h0M332 696.6h0M332.2 689.8h0M332.4 695.1h0M332.7 694.7h0M332.9 695.4h0M333 698.8h0M333.3 697.7h0M333.4 704.1h0M333.7 691h0M333.8 697.4h0M334 698.5h0M334.2 701.5h0M334.6 703.9h0M334.8 695.7h0M334.8 695.4h0M335.1 696.4h0M335.3 701.2h0M335.5 693.2h0M335.8 694.7h0M336.1 692h0M336.3 699.1h0M336.5 696.7h0M336.7 697.9h0M336.9 697.2h0M337 699.2h0M337.2 696.2h0M337.4 687.5h0M337.6 699.4h0M337.8 701.5h0M338 692h0M338.3 701.4h0M338.6 704.5h0M338.7 695.7h0M339 699.2h0M339.2 694.4h0M339.3 687.3h0M339.4 697.5h0M339.7 691.6h0M340 691.6h0M340.2 696.1h0M340.3 696.4h0M340.5 695.2h0M340.7 693.6h0M341 693.1h0M341.1 697.9h0M341.4 690.6h0M341.6 691.1h0M341.7 706.3h0M342.1 694.6h0M342.3 699.2h0M342.4 699.7h0M342.6 699.2h0M342.8 693.1h0M343 700.4h0M343.2 705.9h0M343.5 693h0M343.6 695.8h0M343.9 698h0M344 693.5h0M344.3 696.5h0M344.5 690.1h0M344.8 698.4h0M344.8 701.2h0M345.2 687.7h0M345.4 698.9h0M345.6 706.3h0M345.8 697.9h0M345.9 702.8h0M346.3 702h0M346.4 693.3h0M346.7 695.7h0M346.9 695.1h0M347 699.1h0M347.3 694.5h0M347.5 698.1h0M347.6 688.2h0M347.9 702.8h0M348.1 691.4h0M348.3 699.6h0M348.6 693.6h0M348.7 698.9h0M348.8 691h0M349 703.5h0M349.3 694.9h0M349.6 692.1h0M349.7 698.9h0M350 699.8h0M350.2 697.1h0M350.4 702.5h0M350.6 700.2h0M350.8 701.4h0M350.9 703.3h0M351.1 698.9h0M351.4 699.4h0M351.7 699.3h0M351.9 692.2h0M352.1 696.3h0M352.3 703.8h0M352.4 696.9h0M352.6 695h0M352.8 703.2h0M353.1 698.1h0M353.3 698.3h0M353.6 701.2h0M353.6 691.7h0M353.9 705h0M354.2 693h0M354.2 697.8h0M354.6 698h0M354.8 705.3h0M354.9 699h0M355.1 697.3h0M355.4 700.8h0M355.5 692.7h0M355.9 699h0M356.1 703.1h0M356.2 698.8h0M356.4 702h0M356.7 698.1h0M356.7 699.6h0M357.1 694.3h0M357.2 695.8h0M357.5 708.4h0M357.6 689.6h0M357.9 695.2h0M358 702.3h0M358.2 699.8h0M358.4 695.8h0M358.6 698.7h0M358.9 701.1h0M359.1 694.5h0M359.4 702.6h0M359.5 697.2h0M359.8 702.9h0M360 706.1h0M360.1 701.5h0M360.5 695.8h0M360.6 700.9h0M360.8 694.7h0M361 700.3h0M361.2 699.8h0M361.5 695.4h0M361.7 695.6h0M361.9 703.6h0M362 701.6h0M362.2 692h0M362.4 699.9h0M362.7 706.9h0M362.9 698.7h0M363.1 695.5h0M363.3 706.1h0M363.6 691.6h0M363.7 697.7h0M364 698.6h0M364.2 705.4h0M364.3 700.2h0M364.5 699.2h0M364.8 700.8h0M364.9 696.4h0M365.1 695.6h0M365.5 708h0M365.5 695h0M365.8 700.6h0M365.9 699h0M366.3 705.6h0M366.4 691.7h0M366.6 691.8h0M366.8 694.5h0M367 700.8h0M367.3 699.4h0M367.4 703.8h0M367.6 692.6h0M367.9 698.4h0M368.2 699h0M368.3 696.5h0M368.4 702.2h0M368.8 706.9h0M368.8 696.6h0M369.2 701.9h0M369.4 701h0M369.6 699.7h0M369.8 699.9h0M370 694.6h0M370.1 697.2h0M370.4 692.7h0M370.6 696h0M370.8 697.4h0M371 693.9h0M371.2 691.5h0M371.4 699.2h0M371.6 687.7h0M371.8 698h0M372 699.4h0M372.2 690.1h0M372.5 697.1h0M372.7 696.5h0M372.8 704.5h0M373.1 689.3h0M373.3 692.2h0M373.4 692.9h0M373.8 690h0M374 701.5h0M374.1 700.6h0M374.3 693.8h0M374.5 698.4h0M374.8 698.9h0M375 707.3h0M375.2 697.6h0M375.3 693.3h0M375.5 698h0M375.9 705.5h0M376.1 697.2h0M376.3 698.6h0M376.3 698.7h0M376.7 700.4h0M376.8 691.5h0M377 701.1h0M377.3 698.7h0M377.4 701.1h0M377.7 700.2h0M377.8 694.3h0M378 698.7h0M378.2 696h0M378.5 694.6h0M378.8 698.6h0M378.9 701.7h0M379.2 700.1h0M379.3 693.6h0M379.6 691.4h0M379.8 691.7h0M380 701.2h0M380.1 699.1h0M380.4 699.2h0M380.5 688h0M380.8 691.8h0M381.1 693.1h0M381.2 703.1h0M381.4 704h0M381.7 705.4h0M381.8 698.8h0M382.1 703.2h0M382.2 700.3h0M382.4 687.6h0M382.7 705h0M382.8 704.1h0M383.1 699.5h0M383.3 706h0M383.6 691.3h0M383.6 691.2h0M384 703.7h0M384.1 703.4h0M384.4 689.5h0M384.6 697.9h0M384.9 696.8h0M385 692.3h0M385.2 702h0M385.4 692.9h0M385.7 699h0M385.7 691.8h0M386.1 697.7h0M386.3 697.7h0M386.4 692h0M386.6 698.8h0M386.9 696.1h0M387 696.8h0M387.4 700h0M387.5 687h0M387.6 695.8h0M387.9 692.4h0M388.1 694.8h0M388.3 698.2h0M388.6 698.2h0M388.8 700.3h0M389 701.6h0M389.2 698.7h0M389.3 702h0M389.7 702.3h0M389.8 705.1h0M389.9 694.9h0M390.1 695.8h0M390.4 704h0M390.7 702h0M390.7 691.8h0M391 704.2h0M391.3 704.8h0M391.5 700.9h0M391.6 699.8h0M391.9 696h0M392 693h0M392.3 699h0M392.6 697.4h0M392.7 700.8h0M392.9 695.8h0M393 704.2h0M393.2 702.6h0M393.5 696.1h0M393.8 702h0M393.9 700.6h0M394.1 699.9h0M394.4 702.1h0M394.5 698.8h0M394.8 690.9h0M394.9 697.9h0M395.2 700.5h0M395.4 702.4h0M395.7 701h0M395.8 701h0M396 700.1h0M396.2 700.1h0M396.4 697.2h0M396.7 700.2h0M396.9 695.3h0M397.2 698.1h0M397.2 691.4h0M397.5 708.9h0M397.8 700.1h0M397.9 697.9h0M398.2 697.1h0M398.4 709.4h0M398.5 699.3h0M398.7 706.5h0M398.9 699.6h0M399.1 704.3h0M399.3 702.2h0M399.5 697.7h0M399.8 700.9h0M399.9 699.9h0M400.1 697.8h0M400.4 708.9h0M400.5 695.3h0M400.8 698.3h0M401 694h0M401.3 704.9h0M401.4 700.8h0M401.7 706.5h0M401.9 695.5h0M402 694.1h0M402.3 699.2h0M402.5 700.3h0M402.7 696.8h0M402.9 695.2h0M403.1 701.3h0M403.3 705.1h0M403.5 697.9h0M403.8 692.3h0M403.9 694.5h0M404.1 694.2h0M404.3 701.9h0M404.7 701.4h0M404.8 704.8h0M405.1 701.4h0M405.3 695.7h0M405.4 700h0M405.7 700.6h0M405.8 696.7h0M406.1 699h0M406.3 703.8h0M406.4 703.8h0M406.6 692.7h0M407 704.8h0M407 702h0M407.3 702.6h0M407.4 696.9h0M407.7 702.3h0M407.9 697.4h0M408 703.3h0M408.3 701.2h0M408.5 702.4h0M408.8 694.4h0M409 700.3h0M409.1 702.7h0M409.4 705.1h0M409.6 698.8h0M409.8 696.9h0M409.9 694.8h0M410.2 703.7h0M410.5 704.2h0M410.6 700h0M410.8 696.3h0M411.1 696h0M411.3 699.6h0M411.4 698.4h0M411.7 702.6h0M411.9 694h0M412.1 695.1h0M412.4 687.6h0M412.4 695.2h0M412.8 699.3h0M413 700.2h0M413.2 701.7h0M413.4 701.9h0M413.6 690.3h0M413.8 693.9h0M413.9 691.3h0M414.1 697.6h0M414.3 692.7h0M414.6 698.1h0M414.7 692.6h0M415 693h0M415.2 689.8h0M415.3 700h0M415.7 699.3h0M415.9 693.4h0M416.1 694.9h0M416.3 697.3h0M416.5 696.3h0M416.8 696.5h0M416.8 692.7h0M417 686.4h0M417.3 699.7h0M417.5 698.2h0M417.7 697.9h0M417.9 694.4h0M418.1 702.6h0M418.3 692h0M418.5 701.4h0M418.7 702.4h0M418.9 696.6h0M419.1 702.8h0M419.3 697.2h0M419.7 695.3h0M419.8 694.1h0M420 691.1h0M420.1 698.3h0M420.4 690.9h0M420.7 694.8h0M420.8 697.2h0M421 696h0M421.2 694.8h0M421.4 702h0M421.6 694.7h0M422 695.2h0M422.2 700.3h0M422.3 695.8h0M422.5 696.7h0M422.7 700.9h0M422.8 705h0M423.1 697.9h0M423.4 693h0M423.6 699.9h0M423.8 704.3h0M423.9 702.6h0M424.1 691.9h0M424.4 700.9h0M424.6 703.9h0M424.7 701.7h0M424.9 701.4h0M425.3 694h0M425.3 703h0M425.5 705.2h0M425.8 694.6h0M426.1 695.1h0M426.3 699.4h0M426.5 694.5h0M426.6 704.6h0M426.8 693.2h0M427 702.3h0M427.2 701.1h0M427.5 697h0M427.6 699.7h0M427.9 696.7h0M428.1 697.4h0M428.3 689.3h0M428.6 697.7h0M428.8 700.3h0M429 698.4h0M429.2 707.8h0M429.4 699.6h0M429.7 698.8h0M429.8 701h0M429.9 695.6h0M430.1 697h0M430.4 700.4h0M430.5 697.1h0M430.8 699.6h0M431.1 703.4h0M431.3 697h0M431.4 695.5h0M431.7 697.2h0M431.9 703.4h0M432.2 699.3h0M432.4 692.9h0M432.6 697h0M432.8 706h0M433 699.2h0M433.2 697.3h0M433.4 700.4h0M433.6 703.9h0M433.8 703.4h0M434 695.7h0M434.2 704.8h0M434.4 695.9h0M434.6 697.3h0M434.7 699.8h0M435 698.2h0M435.3 691.1h0M435.4 693.6h0M435.6 704.3h0M435.9 698.2h0M436.1 693.3h0M436.3 690.4h0M436.4 693.1h0M436.8 701.8h0M436.9 697.7h0M437.1 696.4h0M437.2 701.6h0M437.5 696.2h0M437.7 688.6h0M438 692h0M438.1 693.9h0M438.4 694.1h0M438.6 694.8h0M438.8 692.9h0M439 691.8h0M439.2 694.6h0M439.3 692.3h0M439.7 702.1h0M439.8 694h0M439.9 697.2h0M440.2 689.1h0M440.4 700.8h0M440.7 698h0M440.9 687.5h0M441.1 697.8h0M441.2 690.9h0M441.5 701.5h0M441.6 698.6h0M441.9 703h0M442 697.7h0M442.4 699.5h0M442.6 699.9h0M442.6 691.7h0M442.8 696.4h0M443.2 692.5h0M443.4 693.2h0M443.6 700.8h0M443.7 694.7h0M444 695.1h0M444.2 696.8h0M444.4 700h0M444.7 691h0M444.9 699.9h0M445 701.5h0M445.2 696.4h0M445.4 697h0M445.5 699.8h0M445.9 700.5h0M446 704.1h0M446.2 693.8h0M446.4 706.4h0M446.6 701.8h0M446.9 699.7h0M447.1 701.8h0M447.3 698.4h0M447.6 695.8h0M447.7 699.7h0M448 701.5h0M448.2 695.9h0M448.4 697.5h0M448.6 702.5h0M448.7 702.6h0M449 701h0M449.1 697.7h0M449.4 698.6h0M449.6 704h0M449.7 701.7h0M450 699h0M450.2 698.6h0M450.4 704h0M450.7 698.6h0M450.9 702.4h0M451 695.5h0M451.2 700.3h0M451.4 699.8h0M451.7 697.1h0M451.8 692.3h0M452 703.5h0M452.2 699.8h0M452.5 699h0M452.7 695.4h0M452.9 704.3h0M453.2 692.5h0M453.4 698.5h0M453.6 698.2h0M453.6 701.9h0M453.9 699.4h0M454.2 698.3h0M454.5 696.5h0M454.5 691.9h0M454.7 698h0M455 698.6h0M455.1 704.4h0M455.5 695.9h0M455.5 697.4h0M455.7 696.8h0M456 702.4h0M456.2 696.5h0M456.5 700.8h0M456.6 702.2h0M456.8 700.3h0M457.1 696.8h0M457.3 701h0M457.5 695.2h0M457.8 701.7h0M457.8 700.3h0M458.1 702.4h0M458.4 695.1h0M458.5 696.5h0M458.8 697.7h0M458.9 693.6h0M459.1 699.9h0M459.4 698h0M459.6 705.2h0M459.8 700h0M460 702.7h0M460.1 699h0M460.5 704.1h0M460.5 699.8h0M460.8 701.1h0M461.1 704.9h0M461.2 696.9h0M461.5 698.9h0M461.6 699.5h0M461.9 704.3h0M462.1 703.8h0M462.3 700h0M462.4 701h0M462.7 692.9h0M462.8 702.5h0M463.1 702.4h0M463.4 691.2h0M463.6 703.1h0M463.7 704.4h0M463.9 702.5h0M464.3 694.8h0M464.3 694.1h0M464.5 701.6h0M464.7 701.3h0M464.9 700.6h0M465.2 694.4h0M465.5 697.1h0M465.6 693.9h0M465.8 696.5h0M465.9 698.8h0M466.2 693.6h0M466.4 703.5h0M466.7 697.4h0M466.9 697.8h0M467 698h0M467.2 702.3h0M467.4 698.1h0M467.8 689.8h0M467.8 693.4h0M468.1 699.6h0M468.3 694.8h0M468.5 696.7h0M468.7 700.6h0M468.8 696.4h0M469.2 690.7h0M469.4 690.9h0M469.5 695.4h0M469.8 699.7h0M470 690.5h0M470.2 700.3h0M470.4 698.2h0M470.6 699.2h0M470.8 697.3h0M471 698.2h0M471.2 687.9h0M471.5 694h0M471.6 693.7h0M471.8 702.5h0M472 695.2h0M472.3 695.8h0M472.5 697.5h0M472.7 697.8h0M472.8 697h0M473 696.3h0M473.4 703.2h0M473.4 696h0M473.7 695.7h0M473.9 703.5h0M474.2 696.6h0M474.3 697.3h0M474.5 698.3h0M474.8 696.5h0M474.9 699.5h0M475.1 696.6h0M475.4 699h0M475.7 699.6h0M475.9 700.4h0M476.1 690.8h0M476.2 700h0M476.5 695.9h0M476.7 701.1h0M476.9 695.8h0M477.1 696h0M477.3 699.5h0M477.5 696.3h0M477.6 695.8h0M478 696.6h0M478.2 695.4h0M478.4 699.5h0M478.6 697.6h0M478.8 699.7h0M478.9 695.3h0M479.2 696.3h0M479.3 693.2h0M479.5 692.4h0M479.7 688.7h0M480 699.9h0M480.1 696.5h0M480.3 697.9h0M480.5 689.6h0M480.7 695.5h0M481 693.9h0M481.3 699.5h0M481.5 696.8h0M481.6 694.2h0M481.8 695.7h0M482 702.3h0M482.3 698h0M482.4 696.5h0M482.7 696h0M483 694h0M483 695.5h0M483.3 700h0M483.6 694.5h0M483.7 700.4h0M484 697.8h0M484.2 697.5h0M484.4 694.8h0M484.6 702.1h0M484.7 693h0M484.9 695.2h0M485.2 698.4h0M485.4 705.9h0M485.7 695.8h0M485.8 699.3h0M486.1 700h0M486.2 695.6h0M486.5 700.5h0M486.7 704.9h0M486.9 697.8h0M487 699.4h0M487.3 701.5h0M487.5 704.5h0M487.7 698.7h0M487.9 706.4h0M488.1 697.4h0M488.2 704.7h0M488.6 700.7h0M488.8 699.1h0M488.8 701.5h0M489.2 702.9h0M489.3 694.6h0M489.6 699.1h0M489.8 694.8h0M490.1 701.3h0M490.2 696.8h0M490.5 691.6h0M490.5 697.2h0M490.8 702h0M491 701h0M491.3 702.4h0M491.5 701.7h0M491.6 693.9h0M491.8 708.7h0M492 703.1h0M492.3 693.8h0M492.5 697.5h0M492.6 703.1h0M493 704.8h0M493.1 702.6h0M493.4 701.5h0M493.4 705.8h0M493.8 700.1h0M493.9 691.5h0M494.2 697.4h0M494.3 698.8h0M494.6 701.8h0M494.8 700.7h0M495.1 694.7h0M495.2 691.9h0M495.3 695.9h0M495.5 697.8h0M495.9 692.3h0M496.1 701.9h0M496.2 704.4h0M496.4 701h0M496.6 701.7h0M496.7 699.4h0M497 700.7h0M497.2 698.8h0M497.4 689.7h0M497.7 693.1h0M497.8 705.5h0M498.1 698.9h0M498.2 697.7h0M498.6 698.7h0M498.7 693.6h0M499 701h0M499.2 701.5h0M499.4 690.3h0M499.6 696.8h0M499.8 699.3h0M500 704.5h0M500.2 701.3h0M500.5 696.6h0M500.6 696.3h0M500.8 703.2h0M501 701.2h0M501.2 699.8h0M501.4 696.3h0M501.6 698.4h0M501.9 699.9h0M502.1 708.4h0M502.3 695.4h0M502.4 702.3h0M502.6 700.7h0M502.9 691.1h0M503.1 697.5h0M503.3 691h0M503.6 699.4h0M503.7 697.4h0M503.9 697.5h0M504.2 697.7h0M504.4 695.8h0M504.5 703.8h0M504.8 700.4h0M505 701.3h0M505.1 698.5h0M505.3 689.5h0M505.6 705h0M505.7 699.6h0M506.1 689.8h0M506.1 697.5h0M506.4 690.1h0M506.5 707.2h0M506.7 700.9h0M507 695.1h0M507.2 696.9h0M507.4 689.9h0M507.6 697.3h0M507.8 701.2h0M508.1 697h0M508.2 697.1h0M508.5 696.5h0M508.6 701.7h0M509 701.3h0M509.2 687.3h0M509.3 696.1h0M509.5 687.1h0M509.7 699.4h0M509.9 696.1h0M510.2 694.6h0M510.5 700h0M510.6 694.6h0M510.8 693h0M510.9 696.8h0M511.1 698.9h0M511.4 700.7h0M511.5 696.5h0M511.7 701.7h0M512 692.4h0M512.2 696.6h0M512.3 695.7h0M512.6 692.6h0M512.9 696.6h0M513.1 695.3h0M513.2 690.1h0M513.5 693h0M513.7 703.4h0M513.9 702h0M514.1 694.6h0M514.3 701.4h0M514.4 687.7h0M514.7 698.7h0M514.9 689.1h0M515.2 696.7h0M515.3 698.1h0M515.5 698.5h0M515.7 697.2h0M515.9 692.3h0M516.3 694.6h0M516.5 697.1h0M516.7 698.1h0M516.8 695.3h0M516.9 696.9h0M517.2 693.1h0M517.3 695.1h0M517.6 700.9h0M517.9 695.2h0M518 701.2h0M518.2 696.8h0M518.6 704.6h0M518.7 696.2h0M518.9 692.7h0M519.2 697.2h0M519.3 696.4h0M519.6 696.4h0M519.8 700.4h0M520 689.6h0M520.2 692.8h0M520.4 696.9h0M520.6 691h0M520.7 695.6h0M521 693.3h0M521.1 694.7h0M521.5 699.6h0M521.5 706.4h0M521.8 706.1h0M522 700h0M522.3 696.2h0M522.5 690.8h0M522.7 696.6h0M522.9 697.6h0M523 703.5h0M523.3 697.7h0M523.5 694.3h0M523.7 695.2h0M523.9 700.3h0M524.2 700.1h0M524.3 697.5h0M524.5 699.2h0M524.8 701h0M525 700.1h0M525 698.2h0M525.4 699.7h0M525.5 698.2h0M525.8 700.2h0M525.9 701.7h0M526.1 694.3h0M526.3 701.1h0M526.6 689.6h0M526.8 700h0M527.1 699.5h0M527.3 698.3h0M527.4 698.6h0M527.7 703.9h0M527.8 699.2h0M528 697.7h0M528.3 696.8h0M528.5 702h0M528.7 695.7h0M528.8 697.5h0M533.7 698.7h0M534 706.2h0M534.2 700.7h0M534.4 701.6h0M534.5 697.4h0M534.9 705.5h0M535 694.6h0M535.2 694.2h0M535.4 703.8h0M535.6 703.8h0M535.9 698h0M536.1 707.1h0M536.4 698.1h0M536.5 708.4h0M536.7 700.8h0M537 699.1h0M537 699.5h0M537.3 697.7h0M537.5 701.9h0M537.8 695.1h0M538 699.8h0M538.1 695.6h0M538.5 696.9h0M538.6 701.3h0M538.9 700.9h0M539.1 701.1h0M539.2 701.6h0M539.4 698.9h0M539.6 697h0M539.9 697.8h0M540 698.7h0M540.2 696.7h0M540.5 704.1h0M540.8 693.9h0M540.8 698.5h0M541.2 697h0M541.4 697.7h0M541.6 698.4h0M541.8 690.7h0M541.9 689.5h0M542.1 699.2h0M542.3 695.2h0M542.6 694.4h0M542.8 698h0M543 700.7h0M543.1 705.6h0M543.3 696h0M543.6 695.1h0M543.8 694.8h0M544 694.8h0M544.3 695.4h0M544.5 691.2h0M544.6 690.1h0M544.8 698.1h0M545.1 698.5h0M545.3 699.4h0M545.6 704.2h0M545.6 694.9h0M546 696.7h0M546 703.6h0M546.4 700.5h0M546.5 704.4h0M546.6 693.6h0M547 692h0M547.2 697.4h0M547.4 694h0M547.5 698.9h0M547.7 706.2h0M547.9 700.1h0M548.2 693.4h0M548.4 694.6h0M548.6 697h0M548.9 698.1h0M548.9 700.4h0M549.2 698.6h0M549.5 700.5h0M549.7 694.4h0M549.9 706.5h0M550.1 698.6h0M550.4 701.7h0M550.4 705.5h0M550.7 701.3h0M550.9 707.9h0M551.1 696h0M551.3 697.4h0M551.6 701.7h0M551.7 698.1h0M552 703.5h0M552.1 696.1h0M552.4 703.4h0M552.6 692.7h0M552.9 695.2h0M552.9 697.1h0M553.3 699.5h0M553.3 694.7h0M553.6 692.3h0M553.8 693.9h0M554.1 695.8h0M554.2 702.7h0M554.5 701.4h0M554.7 688.9h0M554.8 691.4h0M555.2 697.5h0M555.3 696.3h0M555.5 699h0M555.7 705.8h0M555.9 687.5h0M556.1 695.7h0M556.3 694h0M556.4 697.6h0M556.7 703.1h0M557 695.4h0M557.1 688.2h0M557.3 693.8h0M557.6 697.7h0M557.8 700.5h0M558 697h0M558.2 696.4h0M558.4 703.2h0M558.7 699.4h0M558.9 702.7h0M559 700.8h0M559.3 694.3h0M559.4 698.3h0M559.6 701.1h0M560 699.5h0M560.1 701.8h0M560.2 698.7h0M560.5 703.4h0M560.6 701.7h0M560.8 702.4h0M561.2 696.9h0M561.4 695.4h0M561.6 701.2h0M561.7 701.4h0M562 705.7h0M562.1 701.7h0M562.4 703.5h0M562.6 698.3h0M562.8 701.6h0M562.9 703.7h0M563.2 704h0M563.5 698.4h0M563.5 694.1h0M563.8 697.3h0M564 706h0M564.2 699.1h0M564.5 699.6h0M564.6 697.6h0M565 697.1h0M565.2 705.8h0M565.4 698.7h0M565.5 698.5h0M565.6 707h0M566 710.8h0M566.1 703.7h0M566.3 705.1h0M566.5 704.1h0M566.8 704.1h0M566.9 710.5h0M567.1 701.6h0M567.3 700.8h0M567.6 704.3h0M567.9 692h0M568 699.1h0M568.2 707.9h0M568.5 703.7h0M568.7 703.3h0M568.7 693.7h0M568.9 697.5h0M569.3 699.3h0M569.4 696.3h0M569.7 702.4h0M569.9 698.7h0M570 696.9h0M570.4 696h0M570.6 698.2h0M570.8 702.9h0M570.9 696.2h0M571.1 702.4h0M571.3 694.6h0M571.6 697.2h0M571.8 696.1h0M572 701.7h0M572.2 704.2h0M572.3 698.6h0M572.6 702.5h0M572.7 698.7h0M572.9 696.7h0M573.1 698.2h0M573.4 692.9h0M573.7 697.8h0M573.9 702.9h0M574 696.6h0M574.2 695.9h0M574.6 700.3h0M574.7 695.3h0M574.9 701.7h0M575 696.2h0M575.3 695.6h0M575.5 698h0M575.7 696.8h0M575.9 694.5h0M576.1 695.1h0M576.4 701.4h0M576.5 696.2h0M576.7 695.7h0M577 701.8h0M577.2 698.8h0M577.4 697.7h0M577.5 701.1h0M577.8 691.4h0M578.1 701.8h0M578.3 703.1h0M578.4 702.1h0M578.7 704.6h0M578.9 699h0M579 688.4h0M579.3 693.8h0M579.5 696.8h0M579.7 694.3h0M580 690.7h0M580.1 701.6h0M580.3 699.3h0M580.5 700.7h0M580.8 700.7h0M580.9 692.1h0M581.1 693h0M581.3 705.2h0M581.6 700.7h0M581.8 705.6h0M581.9 704.7h0M582.3 694h0M582.4 700h0M582.7 695.5h0M582.8 704.3h0M583 706h0M583.3 698.3h0M583.3 700.9h0M583.7 700.6h0M583.8 699.1h0M584.1 700.4h0M584.2 699.2h0M584.5 706.7h0M584.6 693.2h0M585 693.6h0M585.1 705.5h0M585.4 699.6h0M585.5 695.9h0M585.8 697.6h0M585.9 698.8h0M586.1 696.1h0M586.3 701.8h0M586.6 700.4h0M586.7 699.1h0M587 695.7h0M587.3 702.4h0M587.3 700.3h0M587.6 701.3h0M587.7 708.7h0M588.1 701.2h0M588.2 701.5h0M588.4 703.3h0M588.6 697.5h0M588.8 693.9h0M589.1 699h0M589.3 699.2h0M589.4 696.1h0M589.8 704.2h0M590 696.6h0M590 696.2h0M590.3 701.2h0M590.5 698.2h0M590.8 702h0M590.9 701.2h0M591.2 692.3h0M591.4 700.2h0M591.5 703.9h0M591.7 698.8h0M592 699.9h0M592.3 700.7h0M592.5 697.1h0M592.5 688.8h0M592.8 688.9h0M593.1 700.9h0M593.2 701.7h0M593.4 697.7h0M593.7 694.8h0M593.8 699.8h0M594.1 688.2h0M594.2 695.5h0M594.5 701.1h0M594.8 697.7h0M594.9 697.5h0M595.1 693.3h0M595.4 702.4h0M595.5 694.5h0M595.7 693.4h0M595.9 698h0M596.2 697.4h0M596.3 693.2h0M596.5 696.8h0M596.8 706.1h0M597 700.8h0M597.3 696.3h0M597.3 701.7h0M597.7 697.2h0M597.9 695.4h0M598.1 693.9h0M598.3 696.1h0M598.5 689.1h0M598.8 699.8h0M598.9 693.6h0M599.2 692.2h0M599.3 693.3h0M599.5 695.7h0M599.7 694.4h0M600 699.5h0M600.1 693.7h0M600.4 697.1h0M600.5 701.3h0M600.7 690.6h0M601 701h0M601.1 700.3h0M601.3 703.7h0M601.5 691.5h0M601.8 696.1h0M602.1 700.8h0M602.2 697.4h0M602.4 693.9h0M602.6 701.6h0M602.8 695.4h0M603.1 705.8h0M603.3 697.5h0M603.5 696.2h0M603.7 692.4h0M604 697.8h0M604 686.8h0M604.2 699h0M604.6 686.6h0M604.8 697.5h0M605 695.2h0M605.1 697.5h0M605.3 693.5h0M605.6 694h0M605.8 699.4h0M606 697.1h0M606.1 695.4h0M606.5 705.2h0M606.5 694.6h0M606.8 699.6h0M607 695.6h0M607.3 698.7h0M607.4 694.2h0M607.5 692.9h0M607.8 689.8h0M608.1 685.9h0M608.3 698.1h0M608.4 694.7h0M608.7 697.2h0M608.8 699.6h0M609.1 701.3h0M609.3 699.4h0M609.5 693.4h0M609.7 697.5h0M610 694.7h0M610 695.7h0M610.4 699.4h0M610.5 689.8h0M610.9 697h0M610.9 690.5h0M611.2 697.5h0M611.5 695.7h0M611.5 691.1h0M611.8 699.1h0M612 698.3h0M612.3 707.7h0M612.3 695.3h0M612.7 701.4h0M612.8 698h0M613 698.3h0M613.2 701.3h0M613.5 691h0M613.8 700h0M613.9 695.2h0M614 698.1h0M614.2 702.3h0M614.4 699.1h0M614.6 699.4h0M615 692.4h0M615.1 709.3h0M615.3 692h0M615.5 704h0M615.8 698.9h0M615.9 700.6h0M616.1 693.7h0M616.3 698.9h0M616.7 695.6h0M616.7 701.8h0M617 697.2h0M617.3 695.8h0M617.5 707.3h0M617.7 701.3h0M617.8 704h0M618 696.8h0M618.3 693.9h0M618.5 698.8h0M618.6 698.9h0M618.9 696.7h0M619.1 700h0M619.3 696.1h0M619.4 692.6h0M619.7 696.1h0M620 701.4h0M620.2 698.6h0M620.4 694.1h0M620.5 696h0M620.7 698.3h0M620.9 697.9h0M621.1 703.3h0M621.5 695.9h0M621.7 696.8h0M621.7 694h0M622.1 692.3h0M622.3 688.9h0M622.3 692.9h0M622.6 697.4h0M622.9 702h0M623.1 700h0M623.3 697.7h0M623.6 696.5h0M623.7 698.9h0M623.8 702.3h0M624 698.9h0M624.3 703h0M624.5 694.6h0M624.8 694.6h0M625 696.7h0M625.1 699.6h0M625.4 704.1h0M625.5 700.5h0M625.8 695.4h0M625.9 695.7h0M626.1 700.5h0M626.4 696.5h0M626.7 696.4h0M626.8 700.5h0M627.1 702.5h0M627.2 702.5h0M627.4 697.7h0M627.6 694.4h0M627.8 695.2h0M628.1 698.5h0M628.2 697.4h0M628.6 701.5h0M628.8 699.5h0M628.8 694.3h0M629.2 694.6h0M629.4 697.8h0M629.6 691.8h0M629.7 703.8h0M629.9 695.1h0M630 705.7h0M630.4 689.6h0M630.6 707.1h0M630.8 692.1h0M631.1 694.5h0M631.3 698.3h0M631.5 703h0M631.7 698h0M631.9 699.1h0M632 696h0M632.3 696h0M632.5 698h0M632.6 702.4h0M632.8 699h0M633.2 695.1h0M633.4 702.9h0M633.4 701.1h0M633.8 703.5h0M633.9 702.9h0M634.1 694.8h0M634.2 697.6h0M634.5 692.5h0M634.7 697.5h0M634.9 701.7h0M635.1 697.9h0M635.4 689h0M635.6 694.4h0M635.8 694.5h0M636.1 691.7h0M636.1 693.3h0M636.3 690.3h0M636.6 703.6h0M636.9 699h0M637 694.6h0M637.3 692.4h0M637.4 691.4h0M637.6 690.9h0M637.9 693.9h0M638 693.2h0M638.3 696.5h0M638.5 695.2h0M638.6 698.3h0M638.8 702.5h0M639.1 694h0M639.4 703.9h0M639.5 704.1h0M639.8 691.4h0M639.9 694.1h0M640.2 703.2h0M640.4 695.7h0M640.7 696.5h0M640.7 697.8h0M641 690.1h0M641.2 691.4h0M641.5 693.3h0M641.6 692.7h0M641.8 698.2h0M642 699.3h0M642.2 691.4h0M642.4 697.9h0M642.7 696h0M642.8 697.3h0M643 691h0M643.2 693.2h0M643.5 702.9h0M729.5 693.9h0M729.7 701.7h0M729.9 705h0M730 704.7h0M730.3 694.6h0M730.4 706.5h0M730.7 700.7h0M730.9 703.3h0M731.1 709.3h0M731.2 701.9h0M731.5 694.7h0M731.7 699.5h0M731.9 704.7h0M732.1 698.8h0M732.3 702.7h0M732.5 702.8h0M732.8 702.3h0M732.9 699.1h0M733.2 701.6h0M733.3 705.6h0M733.6 701.9h0M733.8 697.9h0M734.1 702.2h0M734.3 706.8h0M734.5 706.3h0M734.7 697h0M734.9 699.4h0M735.1 700.3h0M735.2 703.2h0M735.4 704.1h0M735.7 699.1h0M735.9 696.1h0M736.1 700.9h0M736.3 698h0M736.4 704.7h0M736.6 702h0M736.9 699.9h0M737.1 704.2h0M737.4 698.5h0M737.5 695.6h0M737.8 699.4h0M738 699h0M738.2 695.7h0M738.3 694.8h0M738.6 695.6h0M738.8 695.8h0M739.1 707.1h0M739.3 696.8h0M739.4 693.8h0M739.6 697.3h0M739.9 691.5h0M740.1 705.5h0M740.3 697.3h0M740.6 697.5h0M740.7 692.1h0M740.8 688.8h0M741.1 698.9h0M741.3 699.3h0M741.4 696h0M741.6 693.5h0M742 691.4h0M742.2 697.5h0M742.3 696.5h0M742.6 692.4h0M742.7 702.8h0M742.9 698.6h0M743.1 699.7h0M743.3 687.8h0M743.7 689.8h0M743.9 700.8h0M744 697.6h0M744.3 699h0M744.5 696.9h0M744.6 695.5h0M744.8 693.5h0M745 700.1h0M745.4 697.1h0M745.6 695.3h0M745.8 698h0M745.9 698.1h0M746.1 699.9h0M746.4 699.4h0M746.6 696.3h0M746.7 698.4h0M747 694.8h0M747.1 698.4h0M747.3 699.8h0M747.7 695.5h0M747.8 692.4h0M748.1 690.1h0M748.1 701.9h0M748.4 692.7h0M748.5 702.5h0M748.7 697.4h0M749 696.5h0M749.3 699.7h0M749.4 690.8h0M749.8 696.3h0M749.9 704.8h0M750 696.1h0M750.4 702.5h0M750.5 694h0M750.8 707.1h0M750.8 701.5h0M751.1 692.1h0M751.3 695.8h0M751.5 700.3h0M751.6 700.1h0M751.9 698.3h0M752.2 699.4h0M752.3 700.7h0M752.5 690.1h0M752.7 698.3h0M753 695.5h0M753.1 701.2h0M753.3 694.3h0M753.7 699.7h0M753.8 698.1h0M754.1 694.3h0M754.2 700.6h0M754.4 701.2h0M754.7 696.6h0M754.9 693.5h0M755.2 698.3h0M755.3 696.4h0M755.5 701.6h0M755.6 691.3h0M756 688.9h0M756.2 695.4h0M756.3 699.2h0M756.6 698.7h0M756.7 697.9h0M756.9 700.3h0M757.2 699.3h0M757.4 704.3h0M757.5 698.1h0M757.8 702.5h0M758 692.8h0M758.2 696.7h0M758.4 694.1h0M758.5 699.8h0M758.9 694.7h0M759.1 709.4h0M759.2 709.4h0M759.5 699.1h0M759.6 708.6h0M759.9 700h0M760.1 700.8h0M760.2 699.5h0M760.4 700.3h0M760.8 697.7h0M760.9 700.1h0M761.1 710.4h0M761.3 698h0M761.6 696.7h0M761.7 698.2h0M761.9 701.2h0M762.1 702.5h0M762.3 698h0M762.6 695.6h0M762.9 704.9h0M763 695.5h0M763.2 699.7h0M763.4 704.5h0M763.7 701.4h0M763.8 693.6h0M764 710.4h0M764.2 699.4h0M764.4 700.1h0M764.7 698.2h0M764.9 696.9h0M765 704.4h0M765.4 702.4h0M765.5 699h0M765.8 692h0M765.9 701.3h0M766.2 699.7h0M766.4 696.6h0M766.6 700.7h0M766.7 702.4h0M766.9 706.6h0M767.2 702.2h0M767.4 695.2h0M767.6 692.8h0M767.7 700.1h0M768.1 699.7h0M768.3 698.2h0M768.5 703.8h0M768.7 696.7h0M768.8 697.8h0M769 692.1h0M769.2 688.6h0M769.6 699.8h0M769.8 690.9h0M770 697.1h0M770 700.3h0M770.3 698.3h0M770.5 700.1h0M770.7 700h0M771 706.2h0M771.1 692.6h0M771.3 695.2h0M771.6 697h0M771.8 705.1h0M772.1 691.2h0M772.2 697.7h0M772.4 701.1h0M772.5 699.5h0M772.8 697.8h0M773 692.3h0M773.2 691.7h0M773.4 691.2h0M773.7 694.8h0M773.8 694.3h0M774 702.6h0M774.2 693.2h0M774.6 693.7h0M774.7 695.8h0M775 698.9h0M775.2 707.5h0M775.3 701.8h0M775.5 696.1h0M775.8 699.6h0M776 696.7h0M776.1 694.4h0M776.4 692.7h0M776.6 698.9h0M776.8 705.4h0M777.1 696.1h0M777.2 697.2h0M777.5 701h0M777.7 692.6h0M777.8 695h0M778.2 708.2h0M778.3 704.8h0M778.4 698.6h0M778.7 693.9h0M778.8 702.7h0M779.1 703.8h0M779.3 704.3h0M779.5 698.5h0M779.7 696.3h0M780 707.3h0M780.1 702.9h0M780.3 703.4h0M780.5 695.6h0M780.8 700.4h0M781 701.7h0M781.3 700.7h0M781.5 696.6h0M781.6 694.9h0M781.8 709.8h0M782 702.1h0M782.3 694.6h0M782.5 690.4h0M782.6 703.1h0M782.8 706.5h0M783 691.4h0M783.3 698.8h0M783.6 707.4h0M783.6 695h0M795.3 695h0M795.5 701h0M795.6 690.2h0M795.9 697.7h0M796.1 696.6h0M796.3 692.1h0M796.6 699.6h0M796.8 696h0M797 697.6h0M797.2 696.1h0M797.5 699.1h0M797.6 696.2h0M797.7 695.9h0M798 689.6h0M798.1 703.7h0M798.4 705.1h0M798.6 699.7h0M798.9 701.8h0M799.1 696.7h0M799.3 698.8h0M799.4 694.6h0M799.8 708.3h0M799.8 694.4h0M800.1 693.8h0M800.3 699.3h0M800.4 700.6h0M800.7 696.3h0M800.8 698.5h0M801.2 691.4h0M801.3 700h0M801.5 691.2h0M801.7 694.5h0M801.9 703h0M802.2 700.8h0M802.4 692h0M802.6 695.5h0M802.8 697.1h0M803.1 694h0M803.2 694.3h0M803.4 688.6h0M803.7 701.5h0M803.9 692.4h0M804.1 697h0M804.2 693.7h0M804.4 696.4h0M804.7 696.8h0M804.9 697.6h0M805 697.1h0M805.4 690.3h0M805.6 690.2h0M805.8 697.1h0M805.9 705.3h0M806.2 698.6h0M806.4 702.1h0M806.6 697h0M806.7 697.7h0M807 691.3h0M807.1 707.1h0M807.4 695h0M807.5 693h0M807.8 703.9h0M807.9 693.4h0M808.3 703.6h0M808.5 701.6h0M808.5 693.5h0M808.9 708.1h0M809 697.4h0M809.2 693h0M809.5 699.1h0M809.8 701.2h0M809.8 694.4h0M810.2 705.6h0M810.3 699.9h0M810.6 698.3h0M810.7 692.7h0M811 699.5h0M811.1 688.5h0M811.4 695.4h0M811.6 700.3h0M811.6 700.6h0M811.9 694.9h0M812.3 696.7h0M812.4 703.9h0M812.5 693.2h0M812.8 706.4h0M813 697.1h0M813.3 706.1h0M813.4 694.5h0M813.6 701.6h0M813.8 693.9h0M813.9 699.9h0M814.3 700.3h0M814.4 697.4h0M814.7 699.3h0M815 705h0M815.1 689.1h0M815.2 697h0M815.6 701h0M815.6 693.1h0M816 696.1h0M816.1 702.4h0M816.4 697.4h0M816.6 705.4h0M816.7 698.3h0M816.9 695.4h0M817.3 702.4h0M817.4 701.9h0M817.6 698.4h0M817.7 692.6h0M818 697.8h0M818.1 695.2h0M818.4 705.1h0M818.7 700.1h0M818.9 696.4h0M819 688.5h0M819.3 700.6h0M819.4 699.5h0M819.7 696.1h0M819.9 704.8h0M820.2 702.1h0M820.2 700.5h0M820.5 696.2h0M820.7 691.6h0M821 700.7h0M821.1 701.7h0M821.4 697h0M821.5 706.9h0M821.6 703.4h0M821.9 703.4h0M822.2 703.1h0M822.3 701.9h0M822.6 695h0M822.7 703.8h0M822.9 704.2h0M823.2 702.5h0M823.4 703.8h0M823.6 697.5h0M823.9 711.3h0M823.9 702.8h0M824.2 701.3h0M824.4 697.5h0M824.6 695.6h0M824.9 702.5h0M825 699.3h0M825.2 707.3h0M825.5 691.9h0M825.7 694.1h0M826 696.7h0M826.1 700.8h0M826.3 711.2h0M826.5 707.2h0M826.6 700.7h0M826.8 692.2h0M827.2 704.8h0M827.4 696.5h0M827.5 695.9h0M827.7 695h0M828 698.1h0M828.3 701.1h0M828.5 688.5h0M828.6 706.6h0M828.8 688.9h0M828.9 693.1h0M829.3 703.7h0M829.5 696.8h0M829.6 698h0M829.8 705.3h0M830 705.2h0M830.3 702.1h0M830.5 697.7h0M830.7 696.6h0M830.9 703.5h0M831.1 706.2h0M831.4 698.4h0M831.5 705.9h0M831.7 694.1h0M831.9 697.7h0M832.2 703.5h0M832.4 703.1h0M832.6 703.4h0M832.7 701.9h0M832.9 701.6h0M833.2 702.7h0M833.3 706.6h0M833.5 702.8h0M833.8 696.7h0M834.1 707.4h0M834.2 695.2h0M834.5 702.7h0M834.7 701.3h0M834.9 703.6h0M835.1 698.8h0M835.3 696.9h0M835.5 698.5h0M835.8 695.2h0M835.9 699.7h0M836.2 700.8h0M836.3 701.2h0M836.6 699.7h0M836.7 702.4h0M836.9 696.4h0M837.2 706.4h0M837.4 694h0M837.5 699.2h0M837.7 700.8h0M838 698.4h0M838.1 700.8h0M838.4 704.1h0M838.7 695h0M838.8 701h0M838.9 696h0M839.2 695.3h0M839.5 691.7h0M839.5 704h0M839.9 693.3h0M840.1 708.8h0M840.2 686.9h0M840.6 699.4h0M840.6 698.7h0M840.8 699.3h0M841 696.1h0M841.3 695.6h0M841.5 703h0M841.7 694.2h0M841.9 703.7h0M842.1 691.3h0M842.3 696.8h0M842.6 696.7h0M842.8 691.6h0M842.9 702.3h0M843.2 696.1h0M843.5 694.3h0M843.6 703.1h0M843.9 690.1h0M843.9 701.4h0M844.3 698.2h0M844.4 690.9h0M844.6 696.6h0M844.9 691.3h0M845.1 693h0M845.2 687.8h0M845.4 696.3h0M845.6 701h0M845.9 694.6h0M846.1 696.5h0M846.2 691.7h0M846.6 692.7h0M846.6 700.9h0M847 701.5h0M847.2 696.5h0M847.3 694.2h0M847.5 704.3h0M847.7 697.1h0M847.9 693.3h0M848.1 693.1h0M848.4 693.7h0M848.6 696.8h0M848.9 695.6h0M849 701.5h0M849.2 701.5h0M849.5 696.1h0M849.7 705h0M849.7 694.8h0M850 696.6h0M850.1 696.3h0M850.4 700h0M850.7 695.1h0M850.8 696.2h0M851 702.6h0M851.3 694.3h0M851.4 707.1h0M851.7 691.1h0M851.9 695.1h0M852 696.8h0M852.3 699.8h0M852.6 700h0M852.8 701.7h0M853 705.4h0M853.2 689.3h0M853.3 695.9h0M853.5 696.3h0M853.7 697.6h0M854 698.5h0M854.2 695.5h0M854.3 689.4h0M854.7 702.8h0M854.7 696.3h0M854.9 697.9h0M855.3 700.1h0M855.5 697.8h0M855.7 704.6h0M855.8 698.9h0M856 695.4h0M856.3 700.3h0M856.5 708.4h0M856.7 703.8h0M856.8 697.8h0M857.2 700.5h0M857.3 702h0M857.5 695.8h0M857.7 702h0M858 701.2h0M858.1 699.4h0M858.3 696.2h0M858.6 698.6h0M858.7 697h0M858.9 700.4h0M859.1 689.3h0M859.4 697.4h0M859.5 700.9h0M859.8 702h0M859.9 699.1h0M860.3 695.6h0M860.4 704.7h0M860.7 704.8h0M860.8 704.6h0M861 697h0M861.3 691.3h0M861.5 700h0M861.6 701.8h0M861.8 699.1h0M862.2 703.1h0M862.3 699.8h0M862.4 702.2h0M862.8 690.1h0M863 694.6h0M863.1 696.7h0M863.2 700.5h0M863.6 695.3h0M863.7 704.1h0M863.9 698.4h0M864.2 701.6h0M864.4 704.3h0M864.6 697.5h0M864.8 688.8h0M865 700.2h0M865.2 694.8h0M865.4 703.5h0M865.7 693.1h0M865.9 706.5h0M866 702.3h0M866.3 705.9h0M866.4 699.8h0M866.6 705.6h0M866.9 701.7h0M867.1 699.3h0M867.3 705.2h0M867.5 702.9h0M867.7 703.6h0M868 699h0M868.1 699.8h0M868.4 699.7h0M868.6 699.6h0M868.7 701.2h0M869 709.7h0M869.2 695.6h0M869.3 699.4h0M869.5 695.6h0M869.8 688.7h0M870 708.1h0M870.2 697.5h0M870.4 700.8h0M870.7 706.8h0M870.8 695.3h0M871 698.1h0M871.2 700.1h0M871.5 693.8h0M871.6 699.3h0M871.9 701.4h0M872.1 697.9h0M872.3 698.4h0M872.5 696.8h0M872.6 705.5h0M872.9 701.3h0M873.1 700.8h0M873.3 702.8h0M873.6 700.8h0M873.7 704.2h0M874 691.4h0M874.2 693.5h0M874.4 699.6h0M874.5 697.2h0M874.7 698.2h0M874.9 689.5h0M875.2 694.8h0M875.5 691.1h0M875.7 701.2h0M875.8 694h0M876 691.8h0M876.2 695.4h0M876.5 703.8h0M876.6 701.7h0M876.8 706.9h0M877.1 697.5h0M877.2 701.3h0M877.4 697.1h0M877.7 700.9h0M877.8 699.2h0M878.1 698.2h0M878.4 695.3h0M878.5 695.5h0M878.8 701.5h0M879 694.5h0M879.2 697.5h0M879.3 703.4h0M879.6 700.8h0M879.8 702h0M880 694.2h0M880.2 695.2h0M880.3 697.7h0M880.7 704.1h0M880.8 698.6h0M881.1 698.2h0M881.2 695.1h0M881.5 689.7h0M881.6 692.2h0M881.8 695.1h0M882.1 699.3h0M882.4 696.1h0M882.5 697.8h0M882.7 695.5h0M882.9 697.8h0M883.1 698.2h0M883.3 695.7h0M883.4 704h0M883.7 698.6h0M884 702.1h0M884.2 696.7h0M884.3 699.2h0M884.5 702.2h0M884.9 703.5h0M885 699.5h0M885.3 707.9h0M885.5 697.4h0M885.5 700.1h0M885.8 702.1h0M886.1 691.9h0M886.2 696h0M886.5 696.6h0M886.6 699.4h0M886.9 697.7h0M887.1 702.1h0M887.3 697.9h0M887.4 700.1h0M887.8 696.8h0M887.8 697.6h0M888 693.7h0M888.4 694.5h0M888.5 695.1h0M888.6 695.3h0M889 700.3h0M889.2 696.5h0M889.4 705.3h0M889.5 700h0M889.7 690.3h0M890 695h0M890.3 700.9h0M890.3 705.4h0M890.7 701.3h0M890.9 696.8h0M891 699.6h0M891.3 699h0M891.3 694.1h0M891.6 697.6h0M891.9 697.4h0M892 707.2h0M892.3 705.2h0M892.4 694.4h0M892.7 703.4h0M892.8 708.7h0M893 694.8h0M893.3 700.6h0M893.5 706.9h0M893.7 700.9h0M893.9 702.1h0M894.1 697h0M894.3 706.5h0M894.4 701.6h0M894.7 700.9h0M894.9 693.7h0M895.1 709.1h0M895.4 699h0M895.6 704.6h0M895.8 698.1h0M896.1 693.9h0M896.2 710h0M896.4 697.8h0M896.7 698.3h0M896.8 701.9h0M897 698.3h0M897.3 698.8h0M897.4 695.1h0M897.6 701.2h0M897.9 704.8h0M898 702.6h0M898.4 709.8h0M898.4 697.5h0M898.8 692.3h0M898.9 705.2h0M899.1 702h0M899.3 698.9h0M899.5 695.6h0M899.8 697.9h0M899.9 691.4h0M900.1 690.2h0M900.4 702.1h0M900.5 701.1h0M900.7 696.7h0M900.9 695.7h0M901.2 701.7h0M901.5 697.3h0M901.7 695.5h0M901.9 705.3h0M902 700.3h0M902.2 706.9h0M902.4 691.3h0M902.7 702.2h0M902.8 697.9h0M903 696h0M903.2 696h0M903.5 691.1h0M903.6 700.3h0M903.9 703h0M904.1 691.2h0M904.3 703.6h0M904.5 693.2h0M904.7 700.7h0M905 703.7h0M905.1 700.8h0M905.3 697.6h0M905.6 700.7h0M905.8 703.2h0M906 695.3h0M906.3 695.3h0M906.5 696.8h0M906.7 695.3h0M906.8 703.6h0M907.1 693.9h0M907.1 694.8h0M907.4 700.1h0M907.6 698.1h0M907.9 702.7h0M908.1 700.4h0M908.2 694.7h0M908.5 695.2h0M908.7 690.3h0M908.9 699.9h0M909 695.5h0M909.2 690.2h0M909.6 697.7h0M909.7 696.1h0M910 700.2h0M910.2 702.5h0M910.4 701.2h0M910.5 693.1h0M910.7 691.2h0M911 703.8h0M911.1 700.9h0M911.3 698.5h0M911.7 697.8h0M911.9 701.9h0M912 699.3h0M912.2 694.5h0M912.4 693.8h0M912.7 699.6h0M912.9 693.7h0M913 702.7h0M913.2 692.4h0M913.6 695.5h0M913.7 694.8h0M913.8 697.3h0M914.1 689.8h0M914.3 688.8h0M914.6 700.1h0M914.7 703h0M915 696.3h0M915.1 694.3h0M915.3 696.5h0M915.6 691.4h0M915.8 692.6h0M916 701.2h0M916.1 691.6h0M916.5 694.1h0M916.6 689.3h0M916.7 701.1h0M916.9 698.8h0M917.3 696.2h0M917.5 697.4h0M917.5 695.1h0M917.9 700.1h0M918 697.7h0M918.3 698.1h0M918.6 696.2h0M918.6 695.8h0M918.9 700.2h0M919.1 697h0M919.2 700.6h0M919.6 693.9h0M919.7 705.3h0M919.8 695.8h0M920.2 695.5h0M920.4 691.1h0M920.5 699.6h0M920.8 692.8h0M920.9 697.9h0M921.3 702.9h0M921.3 690.8h0M921.7 696.8h0M921.7 694.6h0M921.9 703.2h0M922.1 701.4h0M922.5 700.7h0M922.7 696.8h0M922.9 699.9h0M923 705.9h0M923.2 698.4h0M923.4 704.2h0M923.6 705.5h0M923.9 699.5h0M924 696.3h0M924.2 691.7h0M924.4 702.8h0M924.8 702.4h0M924.9 704h0M925.1 702.2h0M925.4 706h0M925.5 701h0M925.7 704.8h0M926 700.3h0M926.1 698.6h0M926.4 699.5h0M926.6 700.8h0M926.8 699h0M926.9 695h0M927.2 695.7h0M927.4 696.5h0M927.5 697.7h0M927.9 700.7h0M928.1 698.6h0M928.2 706h0M928.5 695.1h0M928.7 704.9h0M928.8 703.1h0M929.2 697h0M929.3 704.7h0M929.4 701.3h0M929.8 698.1h0M929.8 704h0M930.1 700.2h0M930.3 700.5h0M930.6 698h0M930.7 696.2h0M930.9 699.4h0M931.2 701.2h0M931.3 697.2h0M931.6 707.1h0M931.9 697.3h0M932 704.8h0M932.2 693.3h0M932.5 699.1h0M932.6 692.3h0M932.8 697.1h0M933.1 696.2h0M933.1 696.7h0M933.5 707h0M933.6 696.8h0M934 698.7h0M934 706h0M934.2 701.9h0M934.4 694.7h0M934.6 698.3h0M934.8 693.2h0M935.1 691.4h0M935.4 692h0M935.5 701.2h0M935.7 701.7h0M936 699.6h0M936.1 705.3h0M936.4 691.5h0M936.7 706.3h0M936.8 688.3h0M936.9 695.3h0M937.2 694.5h0M937.4 698.8h0M937.6 701.8h0M937.9 688h0M938 694.3h0M938.3 698.9h0M938.4 697.1h0M938.6 696.1h0M938.8 695h0M939.1 693.8h0M939.2 699h0M939.4 697.2h0M939.7 694.6h0M939.9 701.8h0M940.1 696.8h0M940.4 702.7h0M940.5 702.3h0M940.6 703h0M941 695.5h0M941.2 701.2h0M941.3 700.6h0M941.6 700.5h0M941.9 697.9h0M942 702h0M942.1 691.3h0M942.5 698.6h0M942.5 702.7h0M942.9 699.1h0M942.9 693.6h0M943.2 708.4h0M943.4 699.4h0M943.6 691.3h0M943.9 700.4h0M944.1 696.9h0M944.2 696.1h0M944.5 704.6h0M944.7 706.8h0M944.9 696.2h0M945.1 698h0M945.2 695.1h0M945.5 690h0M945.7 703.6h0M945.9 707.3h0M946.1 691h0M946.4 705.5h0M946.5 705.2h0M946.8 702.9h0M947 695.7h0M947.1 700.9h0M947.4 705.2h0M947.6 701h0M947.7 704.4h0M948 701h0M948.2 700.7h0M948.5 689.2h0M948.5 708.8h0M948.8 710.9h0M949 698.2h0M949.2 695.3h0M949.5 696h0M949.7 700.8h0M949.9 693.9h0M950 692.9h0M950.2 694h0M950.4 699.5h0M950.8 697.8h0M950.9 700h0M951.2 703.7h0M951.4 701.3h0M951.5 695.1h0M951.7 698.4h0M951.9 705.7h0M952.2 702h0M952.3 707.6h0M952.5 696.9h0M952.9 697.5h0M953 701.6h0M953.3 692h0M953.4 702.1h0M953.6 705.1h0M953.8 697.3h0M954.1 692.1h0M954.3 691.7h0M954.5 701.3h0M954.6 700h0M954.9 697.9h0M955.1 692h0M955.4 710.5h0M955.6 700.9h0M955.6 704.5h0M955.9 690.6h0M956.1 692h0M956.4 699.3h0M956.5 697.8h0M956.8 704.1h0M956.9 705.9h0M957 705.1h0M957.4 700h0M957.6 699.7h0M957.9 689.5h0M958 711.3h0M958.2 707h0M958.5 699.3h0M958.5 693.4h0M958.8 699.3h0M959.1 711h0M959.1 706.3h0M959.3 704.2h0M959.7 704.9h0M959.9 702.7h0M960 705.6h0M960.2 696.4h0M960.6 697.5h0M960.7 692.8h0M960.8 701.5h0M961 702.3h0M961.4 704.1h0M961.5 692.3h0M961.7 705.3h0M962 700.4h0M962.2 689.5h0M962.4 702.1h0M962.5 693.2h0M962.8 708h0M963 696.6h0M963.1 694.2h0M963.4 689.3h0M963.6 700.6h0M963.8 699.2h0M964 698.4h0M964.2 699.3h0M964.4 698.5h0M964.6 688.2h0M964.8 693.2h0M965 695.5h0M965.3 699h0M965.4 696h0M965.7 696.2h0M965.9 694.5h0M966.2 690.4h0M966.3 698.1h0M966.5 700h0M966.7 692h0M966.9 689h0M967.1 691.5h0M967.3 699.2h0M967.6 697.2h0M967.8 698.2h0M968.1 692.5h0M968.2 703.4h0M968.3 695.9h0M968.5 703h0M968.8 703.3h0M968.9 692.4h0M969.2 697.7h0M969.4 700h0M969.6 693.8h0M969.9 694.7h0M970.1 700.3h0M970.2 699.8h0M970.4 700.7h0M970.7 695.9h0M970.9 695.1h0M971.1 705.3h0M971.4 706.5h0M971.4 687.9h0M971.8 696.2h0M971.8 701.3h0M972.1 698.4h0M972.3 707.1h0M972.5 701.8h0M972.8 705.7h0M973 695.7h0M973.2 706.6h0M973.4 690.9h0M973.6 695.6h0M973.7 702h0M974.1 700.9h0M974.3 699h0M974.4 695.2h0M974.6 698.5h0M974.8 702h0M975 693.5h0M975.2 700.4h0M975.5 692.7h0M975.7 699.3h0M975.8 700.5h0M976.2 695.6h0M976.2 701.2h0M976.5 699.6h0M976.7 695.7h0M976.9 709.4h0M977.2 694.6h0M977.4 693.7h0M977.5 705.1h0M977.8 705h0M978 700.5h0M978.1 701.9h0M978.4 693.5h0M978.7 698.3h0M978.7 698.7h0M979 691.9h0M979.2 697.3h0M979.3 693.7h0M979.6 707h0M979.7 696.2h0M980.1 700h0M980.3 699.6h0M980.5 690.9h0M980.6 694.7h0M980.8 700.5h0M981 703.5h0M981.2 700.1h0M981.6 704.5h0M981.7 704.3h0M982 707.1h0M982.2 693.6h0M982.4 700.7h0M982.5 699.9h0M982.8 698.3h0M983 698.3h0M983.2 694.2h0M983.4 694h0M983.6 699.2h0M983.9 702.3h0M984 699.7h0M984.3 706.7h0M984.3 699.7h0M984.7 701.9h0M984.8 701.7h0M985 700h0M985.3 701.6h0M985.4 696.9h0M985.6 703.7h0M985.8 698.4h0M986.1 699.4h0M986.2 702.6h0M986.6 690.6h0M986.7 699h0M986.9 699.1h0M993.2 695.3h0M993.5 701.5h0M993.7 696.2h0M993.9 697.1h0M994.2 698h0M994.3 701.9h0M994.5 704.2h0M994.7 704h0M995 689.8h0M995.3 695.1h0M995.4 699.1h0M995.6 698.8h0M995.8 700.6h0M996 691.5h0M996.3 694h0M996.5 694.2h0M996.6 697.2h0M996.8 692.2h0M997.1 695.7h0M997.2 691.2h0M997.6 690.5h0M997.8 699.2h0M998 697.6h0M998.2 694.2h0M998.3 694.2h0M998.5 690.1h0M998.8 692.6h0M998.9 693.5h0M999.1 691.9h0M999.4 698.4h0M999.6 697.6h0M999.7 693.1h0M1000 696.8h0M1000.2 703.3h0M1000.4 693.5h0M1000.6 696.9h0M1000.8 688.5h0M1001 698.5h0M1001.2 691.5h0M1001.5 697h0M1001.6 691.4h0M1002 692h0M1017.8 702.7h0M1018.2 699.7h0M1018.2 692.5h0M1018.5 703.9h0M1018.6 697.6h0M1019 691.1h0M1019.1 696.4h0M1019.4 689.9h0M1019.6 705.3h0M1019.8 695.1h0M1020 696.4h0M1020.1 692.2h0M1020.4 695.8h0M1020.6 701.4h0M1020.8 701.3h0M1021.1 700.8h0M1021.2 703.9h0M1021.4 702h0M1021.7 698.7h0M1021.9 697.3h0M1022 698.8h0M1022.3 705.7h0M1022.6 698.9h0M1022.6 700.3h0M1023 701.5h0M1023.2 702.1h0M1023.2 705.6h0M1023.6 694.5h0M1023.8 700.7h0M1023.9 699.4h0M1024.2 689.9h0M1024.4 692.8h0M1024.6 696.2h0M1024.7 697.5h0M1025 699.6h0M1025.1 698.4h0M1025.5 703.3h0M1025.7 693.8h0M1025.9 699.7h0M1026 695.9h0M1026.1 701.8h0M1026.4 699.6h0M1026.7 695.1h0M1026.9 693.1h0M1027 698.2h0M1027.2 699.3h0M1027.5 694.8h0M1027.6 702.9h0M1027.8 696.3h0M1028.1 704.8h0M1028.2 701.7h0M1028.5 699.7h0M1028.8 699.8h0M1029 699.9h0M1029.2 702.9h0M1029.4 699.1h0M1029.6 695h0M1029.8 695.2h0M1030 699.4h0M1030.3 701h0M1030.4 697.3h0M1030.7 702.1h0M1030.8 706.8h0M1031.1 701.1h0M1031.2 688.6h0M1031.4 694.7h0M1031.6 698.7h0M1031.9 690.6h0M1032 701.3h0M1032.3 700.5h0M1032.6 693.9h0M1040 697.1h0M1040.2 698.1h0M1040.3 697.1h0M1040.4 702.7h0M1040.8 707.9h0M1040.9 691.2h0M1041.2 700.3h0M1041.4 694h0M1041.6 706.4h0M1041.7 698.3h0M1042.1 696.5h0M1042.1 698.6h0M1042.3 704.7h0M1042.6 700h0M1042.9 699.2h0M1043.1 700.4h0M1043.2 700.9h0M1043.5 696.9h0M1043.7 701.3h0M1043.9 698.3h0M1044.1 691.5h0M1044.3 698.2h0M1044.4 696.6h0M1044.7 700.3h0M1044.8 696h0M1045.1 698h0M1045.3 700.3h0M1045.5 707.2h0M1045.8 702h0M1045.9 699.3h0M1046.1 699.4h0M1046.3 700.7h0M1046.6 701.4h0M1046.8 698.5h0M1046.9 693.1h0M1047.2 701.5h0M1047.4 694.2h0M1047.6 698.3h0M1047.8 696.1h0M1048.1 703.8h0M1048.2 706h0M1048.5 695.1h0M1048.6 695.4h0M1048.8 688.1h0M1049.1 693.4h0M1049.2 697.2h0M1049.5 693.6h0M1049.7 699.8h0M1050 695.8h0M1050.2 698.5h0M1050.3 691.1h0M1050.4 700.1h0M1050.7 696.4h0M1051 704.5h0M1051.2 692.9h0M1051.3 691.2h0M1051.5 699.7h0M1051.7 689.2h0M1051.9 699.1h0M1052.3 693.9h0M1052.4 691.9h0M1052.6 693.8h0M1052.9 698.8h0M1053 700.1h0M1053.3 695.9h0M1053.5 692.1h0M1053.6 692.9h0M1053.8 699.9h0M1054.2 696.5h0M1054.3 700.5h0M1054.4 703.5h0M1054.6 697.9h0M1054.8 695.4h0M1055.1 702.5h0M1055.4 697.6h0M1055.4 698.1h0M1055.6 698.1h0M1055.8 704.9h0M1056.1 704.6h0M1056.2 702.7h0M1056.6 698.1h0M1056.8 697.1h0M1057 694.5h0M1057.2 704.1h0M1057.4 707.4h0M1057.7 705.3h0M1057.7 692.3h0M1057.9 699.9h0M1058.1 687.5h0M1058.5 697.2h0M1058.7 702.6h0M1058.9 696.3h0M1059.1 697.6h0M1059.3 696.9h0M1059.5 697.7h0M1059.6 698.1h0M1059.8 696.6h0M1060.1 700.8h0M1060.2 695.1h0M1060.5 696h0M1060.7 693.1h0M1061 696.4h0M1061.1 701.3h0M1061.3 700.3h0M1061.6 700.4h0M1061.7 698.3h0M1062.1 691.2h0M1062.3 697h0M1062.4 698.9h0M1062.6 703.5h0M1062.8 693.6h0M1063.1 702.4h0M1063.2 702h0M1063.4 700.4h0M1063.5 695.8h0M1063.8 701h0M1064 700.8h0M1064.3 695.2h0M1064.5 704.8h0M1064.6 696.7h0M1064.8 696.9h0M1065.1 694.2h0M1065.3 701.2h0M1065.6 701.5h0M1065.6 694.8h0M1065.9 700.4h0M1066.2 699.5h0M1066.4 694.5h0M1066.5 705.1h0M1066.7 700.7h0M1067 693.5h0M1067.1 707.3h0M1067.4 701.3h0M1067.6 700.4h0M1067.7 689.7h0M1067.9 695.8h0M1068.3 699.4h0M1068.5 692.1h0M1068.6 700.3h0M1068.9 698.7h0M1069.1 710h0M1069.2 701h0M1069.6 698.3h0M1069.7 700.5h0M1069.8 695.8h0M1070.2 701.9h0M1070.3 708.1h0M1070.6 698.1h0M1070.7 701.1h0M1070.9 708h0M1071.1 699.1h0M1071.3 701.2h0M1071.5 701.8h0M1071.8 703.1h0M1071.9 702.9h0M1072.2 705.9h0M1072.4 706h0M1072.6 697.2h0M1072.7 701.5h0M1073 704.5h0M1073.3 694.6h0M1073.5 697.7h0M1073.5 696.5h0M1073.9 699.8h0M1074.1 697.5h0M1074.3 707.2h0M1074.4 699.8h0M1074.6 709.5h0M1074.9 707.2h0M1075.2 707.7h0M1075.2 696.4h0M1075.5 705.3h0M1084.8 696.8h0M1085.2 707.4h0M1085.3 701.8h0M1085.5 694.2h0M1085.7 693h0M1086 701.3h0M1086.1 694.7h0M1086.3 701.2h0M1086.5 699.4h0M1086.9 703.8h0M1087.1 702.6h0M1087.3 695.1h0M1087.4 703.6h0M1087.7 699.6h0M1087.9 699.2h0M1088.1 703.2h0M1088.2 703.7h0M1088.4 699.4h0M1088.7 703.3h0M1088.9 700.3h0M1089 702.8h0M1089.2 707.4h0M1089.5 689.8h0M1089.7 701.3h0M1090 692.7h0M1090 703.4h0M1090.4 702.7h0M1090.6 695.4h0M1090.7 698.7h0M1091 688.4h0M1091.1 696.5h0M1091.3 708.1h0M1091.7 698.3h0M1091.8 700.3h0M1091.9 694.1h0M1092.2 704.2h0M1092.5 703.1h0M1092.7 693.6h0M1092.9 702h0M1093 699.4h0M1093.2 697.4h0M1093.5 704.8h0M1093.7 697.8h0M1093.9 700.4h0M1094.1 704.4h0M1094.2 703.1h0M1094.5 695.1h0M1094.7 696.6h0M1095 694.7h0M1095.1 694.9h0M1095.3 698.8h0M1095.6 708.8h0M1095.8 697.2h0M1096 697.3h0M1096.2 691.9h0M1096.3 705.3h0M1096.6 699.6h0M1096.8 695.1h0M1097 695.9h0M1097.2 702.4h0M1097.4 697.5h0M1097.7 696.9h0M1097.8 694.1h0M1098.1 700.5h0M1098.3 692.1h0M1098.4 700.4h0M1098.7 705.5h0M1098.8 692.8h0M1099.1 698.4h0M1099.2 690.4h0M1099.5 701.3h0M1099.7 690.9h0M1099.9 707.3h0M1100.2 692.4h0M1100.3 694.1h0M1100.6 705.9h0M1100.7 695.4h0M1101 700.6h0M1101.2 699.5h0M1101.4 690.3h0M1101.7 701.2h0M1101.8 697.7h0M1101.9 690.9h0M1102.2 695h0M1102.5 688h0M1102.7 693.4h0M1102.9 699.7h0M1103.1 690.9h0M1103.3 697.7h0M1103.5 697.2h0M1103.6 689.3h0M1104 698.6h0M1104.1 694.3h0M1104.4 692.9h0M1104.5 705.9h0M1104.7 693.4h0M1105 695.1h0M1105.1 691.6h0M1105.3 697.5h0M1105.5 688.1h0M1105.8 699.4h0M1106 695.3h0M1106.2 691.8h0M1106.5 697.6h0M1106.5 700.6h0M1106.9 697.1h0M1107.1 696.4h0M1107.3 695.1h0M1107.3 698h0M1107.7 695.6h0M1107.8 697.2h0M1108 699.5h0M1108.3 698.9h0M1108.4 701.6h0M1108.8 694.2h0M1108.8 695.2h0M1109.1 691.8h0M1109.3 697.1h0M1109.6 698.2h0M1109.7 693.5h0M1109.9 701.3h0M1110.2 697.9h0M1110.3 709.3h0M1110.6 704h0M1110.7 700.3h0M1111 698h0M1111.2 690.5h0M1111.3 690.3h0M1111.7 695.9h0M1111.9 696.9h0M1112 699.9h0M1112.2 698.6h0M1112.4 700.8h0M1112.6 701.7h0M1112.9 707.4h0M1113.2 695.4h0M1113.2 693.3h0M1113.5 701.2h0M1113.7 690h0M1113.8 707.6h0M1114.2 700h0M1114.2 699.5h0M1114.5 708.3h0M1114.7 697.4h0M1115 704h0M1115.1 700.1h0M1115.4 704.6h0M1115.6 703.1h0M1115.7 701.4h0M1116 699.5h0M1116.3 702.4h0M1116.3 702h0M1116.5 697.9h0M1116.8 709.9h0M1117 701.3h0M1117.2 688.7h0M1117.5 702.3h0M1117.6 703h0M1117.9 690.7h0M1118 700.1h0M1118.3 696.7h0M1118.5 692.5h0M1118.8 703.9h0M1118.8 700.8h0M1119 697.5h0M1119.3 708.3h0M1119.6 695.2h0M1119.6 699.9h0M1120 701.1h0M1120.1 701.9h0M1120.3 704.1h0M1120.6 705.7h0M1120.7 695h0M1121 693.1h0M1121.2 694.8h0M1121.5 706.3h0M1121.6 699.7h0M1121.7 695.8h0M1121.9 702h0M1122.3 699.7h0M1122.5 690.2h0M1122.6 701.8h0M1122.9 698.2h0M1123.1 702.8h0M1123.2 702.6h0M1123.5 694.8h0M1123.8 699.1h0M1123.8 698.9h0M1124 711.6h0M1124.3 697h0M1124.5 703.3h0M1124.7 700.8h0M1125.1 702h0M1125.2 705.4h0M1125.4 695.5h0M1125.6 702.8h0M1125.9 697h0M1126 697.9h0M1126.2 703.7h0M1126.3 698.2h0M1126.7 704.8h0M1126.8 712.5h0M1127.1 695.2h0M1127.2 698.7h0M1127.4 706.3h0M1127.7 693.6h0M1127.9 695.7h0M1128 692.8h0M1128.4 701h0M1128.6 704h0M1128.7 706.8h0M1129 703.6h0M1129.1 701.9h0M1129.3 707.2h0M1129.6 696.2h0M1129.7 695.8h0M1129.9 695h0M1130.1 696.4h0M1130.4 707.6h0M1130.6 699.2h0M1130.8 703.8h0M1131 704.4h0M1131.3 703.5h0M1131.5 700h0M1131.5 702.2h0M1131.8 688.2h0M1132 703.9h0M1132.3 703.5h0M1132.6 691h0M1132.6 697.6h0M1132.8 687.6h0M1133.2 697.4h0M1133.3 694h0M1133.5 692.5h0M1133.7 702.1h0M1133.8 696.6h0M1134.1 699.6h0M1134.4 705.7h0M1134.6 698.2h0M1134.7 697h0M1134.9 697.5h0M1135.1 698.4h0M1135.4 697.9h0M1135.6 695.2h0M1135.8 691.2h0M1136 695.7h0M1136.2 699.4h0M1136.4 708.7h0M1136.7 690.7h0M1136.8 698.9h0M1137 697.6h0M1137.2 694.5h0M1137.6 705.8h0M1137.7 700.7h0M1138 694.7h0M1138.1 692.2h0M1138.2 699.7h0M1138.5 702.2h0M1138.7 693h0M1138.9 699.7h0M1139.2 699.3h0M1139.4 701.9h0M1139.6 700.7h0M1139.8 694.6h0M1140 692.9h0M1140.1 689.4h0M1140.3 703.7h0M1153.7 690h0M1153.9 685.7h0M1154.1 702.1h0M1154.4 698.8h0M1154.6 697.6h0M1154.7 695.8h0M1155 700.4h0M1155.1 690.7h0M1155.4 693.3h0M1155.6 707.1h0M1155.8 697.2h0M1155.9 694.1h0M1156.1 698.2h0M1156.5 698.6h0M1156.6 695.9h0M1156.7 697.7h0M1157 689h0M1157.2 696.7h0M1157.5 701.4h0M1157.6 697.5h0M1157.9 694.8h0M1158.1 696h0M1158.3 702.1h0M1158.4 698.4h0M1158.8 691.5h0M1158.8 693.3h0M1159 703.2h0M1159.4 699.7h0M1159.6 692.7h0M1159.6 696.7h0M1160 692h0M1160.1 692.4h0M1160.4 703.6h0M1160.6 696.5h0M1160.8 698.9h0M1161 697.5h0M1161.2 697.1h0M1161.5 694.6h0M1161.5 699.1h0M1161.8 690.8h0M1162 697.3h0M1162.1 706.2h0M1162.5 690.8h0M1162.6 692h0M1162.9 701.9h0M1163 700.6h0M1163.2 703.5h0M1163.5 696.2h0M1163.6 694.6h0M1163.9 695.8h0M1164.2 696.9h0M1164.4 690.2h0M1164.6 703.6h0M1164.8 696.9h0M1164.9 707.8h0M1165.1 699.8h0M1165.3 699.4h0M1165.5 700.7h0M1165.8 694.9h0M1166 699.4h0M1166.3 707.8h0M1166.4 702.2h0M1166.5 690.5h0M1166.7 694.5h0M1167 695.2h0M1167.2 695.6h0M1167.5 705.8h0M1167.7 701.2h0M1167.8 694.9h0M1168.1 693.8h0M1168.2 706.7h0M1168.4 697.8h0M1168.8 692.7h0M1168.8 694.4h0M1169.2 698.4h0M1169.3 700.2h0M1169.6 699.8h0M1169.7 695.9h0M1169.9 702.3h0M1170.1 700.2h0M1170.4 699.7h0M1170.5 694h0M1170.8 703.2h0M1171.1 693.3h0M1171.2 695.3h0M1171.4 698.6h0M1171.6 697.7h0M1171.8 689.3h0M1171.9 705.4h0M1172.3 701.4h0M1172.4 698.8h0M1172.6 689.5h0M1172.9 699.2h0M1173 699.5h0M1173.3 701.4h0M1173.4 699.6h0M1173.7 694.8h0M1173.9 701.8h0M1174 695.7h0M1174.2 696.8h0M1174.5 695.8h0M1174.8 691.3h0M1175 700.6h0M1175.2 694.6h0M1175.4 702.3h0M1175.5 690.4h0M1175.8 703.9h0M1175.9 704.9h0M1176.2 704.3h0M1176.3 710.6h0M1176.7 705h0M1176.8 697.8h0M1176.9 700.7h0M1177.3 691.7h0M1177.4 702.4h0M1177.6 696.8h0M1177.9 691.1h0M1178.1 691.1h0M1178.3 701.4h0M1178.4 702.7h0M1178.7 705.1h0M1178.8 698.8h0M1179.1 698.2h0M1179.3 703.5h0M1179.4 708.7h0M1179.8 700.3h0M1180 702.7h0M1180.2 704.5h0M1180.2 699.4h0M1180.5 694.4h0M1180.7 695.5h0M1181 707.5h0M1181.2 696.2h0M1181.3 697.8h0M1181.5 692.8h0M1181.7 693.7h0M1181.9 695.5h0M1182.2 693.1h0M1182.4 694.6h0M1182.6 697.8h0M1182.9 699.7h0M1183.1 702.2h0M1183.3 696.4h0M1183.4 691.3h0M1183.6 691h0M1183.9 693.4h0M1184 702.4h0M1184.2 695.2h0M1184.5 693.2h0M1184.7 688.1h0M1184.9 695.9h0M1185.1 692.7h0M1185.4 687.5h0M1185.4 691.5h0M1185.7 705.4h0M1186 708.2h0M1186.1 706.2h0M1186.4 697h0M1186.6 701.7h0M1186.8 698.7h0M1187 709.3h0M1187.2 693.5h0M1187.4 693.3h0M1187.6 706.5h0M1187.8 701.9h0M1188 697.3h0M1188.2 695.9h0M1188.4 689.1h0M1188.6 691.9h0M1188.9 708h0M1189.1 701.3h0M1189.3 696.3h0M1189.5 687.4h0M1189.6 704.3h0M1189.8 701.8h0M1195.8 700.5h0M1196.2 705.5h0M1196.3 691.7h0M1196.5 700.2h0M1196.7 688.8h0M1196.9 700h0M1197.2 699.9h0M1197.3 694.5h0M1197.6 699.8h0M1197.9 695.7h0M1197.9 693.3h0M1198.2 695h0M1198.3 698.1h0M1198.6 691.7h0M1198.8 691.5h0M1199 695.4h0M1199.1 694h0M1199.3 698.4h0M1199.6 696.7h0M1200 692h0M1200 703.7h0M1200.2 706.6h0M1200.5 696.4h0M1200.7 699.9h0M1201 693h0M1201 696.6h0M1201.4 696.2h0M1201.5 699.7h0M1201.7 695.9h0M1201.9 692.4h0M1202.2 695.4h0M1202.4 697.2h0M1202.5 694.3h0M1202.8 706.1h0M1202.9 700.3h0M1203.2 701.2h0M1203.4 705.1h0M1203.5 695.9h0M1203.8 695.6h0M1204.1 694.9h0M1204.3 701h0M1204.4 692.3h0M1204.5 698.3h0M1204.8 696.5h0M1205.1 697.9h0M1205.3 690.5h0M1205.5 702.3h0M1205.7 702.4h0M1205.9 698.9h0M1206.1 692.1h0M1206.4 699.9h0M1206.5 701.6h0M1206.8 700.6h0M1207 695.6h0M1207.2 697.2h0M1207.5 701.1h0M1207.5 708h0M1207.7 709.6h0M1208 695.8h0M1208.1 702.8h0M1208.3 703.9h0M1208.6 696.1h0M1208.9 692.9h0M1209 703.6h0M1209.1 704.2h0M1209.4 697.3h0M1209.7 702.9h0M1209.9 695.4h0M1210 690.6h0M1210.3 705.9h0M1210.6 707.6h0M1210.6 701.2h0M1210.8 707.5h0M1211 699.7h0M1211.3 700.5h0M1211.6 702.5h0M1211.8 704.1h0M1211.9 700.7h0M1212.2 701.6h0M1212.3 692.9h0M1212.6 696h0M1212.9 700.1h0M1212.9 707.4h0M1213.1 696.5h0M1213.3 704.5h0M1213.6 693.5h0M1213.8 701.2h0M1214.1 698.2h0M1214.2 705h0M1214.4 698.5h0M1214.7 695.9h0M1214.8 699.5h0M1215 707h0M1215.3 696.7h0M1215.5 691.6h0M1215.6 696.3h0M1215.8 696h0M1216 700.8h0M1216.3 704.6h0M1216.6 698.3h0M1216.6 699h0M1216.8 697.5h0M1217.2 708h0M1217.4 697.2h0M1217.6 700.6h0M1217.8 697.3h0M1217.9 705.5h0M1218.2 702.2h0M1218.3 700.7h0M1218.6 696.2h0M1218.9 696.7h0M1218.9 707.7h0M1219.2 694.1h0M1219.5 700.9h0M1219.6 701.2h0M1219.9 692.6h0M1220.1 705.3h0M1220.4 696.5h0M1220.5 701.1h0M1220.6 691.9h0M1221 703.4h0M1221.2 704.7h0M1221.2 694.2h0M1221.5 699.4h0M1221.7 708.1h0M1222 702.1h0M1222.2 697h0M1222.4 697.4h0M1222.6 702.7h0M1222.7 697.3h0M1222.9 697.7h0M1223.2 701.7h0M1223.3 704.4h0M1223.6 706.3h0M1223.8 697.3h0M1224.1 698.2h0M1224.1 696.2h0M1224.3 697.8h0M1224.5 696h0M1224.9 696.6h0M1225.2 687.7h0M1225.3 692.5h0M1225.5 697.3h0M1225.6 698.5h0M1225.9 698.1h0M1226.2 693.2h0M1226.3 698.2h0M1226.4 696.3h0M1226.8 698.6h0M1226.9 698.8h0M1227.1 695.2h0M1227.3 698.7h0M1227.7 695.7h0M1227.8 699.5h0M1228 694.3h0M1228.2 695.4h0M1228.4 689.2h0M1228.5 694.1h0M1228.7 691.2h0M1229.1 700.7h0M1229.3 698.8h0M1229.5 695h0M1229.7 694.1h0M1229.8 695.5h0M1230.1 685.9h0M1230.2 697.6h0M1230.5 697.7h0M1230.6 701.9h0M1230.8 689.2h0M1231.1 699.7h0M1231.3 697.8h0M1231.5 697h0M1231.7 701.3h0M1231.9 686.2h0M1232.2 697.9h0M1232.4 705.7h0M1232.6 700.2h0M1232.8 700.1h0M1232.9 695.3h0M1233.3 703.4h0M1233.3 700.9h0M1233.6 694.7h0M1233.7 698.8h0M1233.9 695h0M1234.1 699.1h0M1234.5 689.7h0M1234.6 697.8h0M1234.8 700.7h0M1235.1 693.6h0M1235.2 695.5h0M1235.4 699.1h0M1235.7 701.3h0M1235.9 697.1h0M1236 695.2h0M1236.3 699.3h0M1236.5 693.9h0M1236.8 695.8h0M1236.9 695.6h0M1237.2 701h0M1237.3 698.6h0M1237.6 695.3h0M1237.8 700.8h0M1238 692.9h0M1238.3 704.2h0M1238.3 690.9h0M1238.6 696.8h0M1238.7 690.8h0M1239 702.1h0M1239.1 696.3h0M1239.4 693.8h0M1239.6 702.4h0M1239.8 697.2h0M1240 689.4h0M1240.2 702.6h0M1240.4 693.7h0M1240.8 699.2h0M1240.9 691h0M1241.1 692.8h0M1241.4 693.3h0M1241.6 694.5h0M1241.7 699.3h0M1242 694.5h0M1242.1 695.4h0M1242.3 695.6h0M1242.5 698.7h0M1242.7 703.6h0M1242.9 693.7h0M1243.3 698.8h0M1243.3 693.1h0M1243.5 696.9h0M1243.8 693.9h0M1244 701.5h0M1244.3 692.4h0M1244.5 692.8h0M1244.7 687.9h0M1244.9 709.9h0M1245 694.6h0M1245.3 697.7h0M1245.4 700.7h0M1245.6 710h0M1245.8 698.6h0M1246.2 688.8h0M1246.2 702.9h0M1246.4 707.2h0M1246.7 703.2h0M1247 694.8h0M1247.1 704.1h0M1247.3 710.8h0M1247.5 702.4h0M1247.7 698.5h0M1248 702h0M1248.2 710.5h0M1248.3 694.3h0M1248.5 702.6h0M1248.8 698h0M1249 698.9h0M1249.2 698.1h0M1249.3 689.5h0M1249.7 701.3h0M1249.8 702.1h0M1250.1 711.2h0M1250.2 696.5h0M1250.5 697.9h0M1250.6 707.7h0M1250.9 703.1h0M1251.1 695.3h0M1251.3 698.1h0M1251.6 700.6h0M1251.6 700.2h0M1251.9 698.8h0M1252.1 689.3h0M1252.3 699.6h0M1252.5 700.9h0M1252.7 700.5h0M1253 706.2h0M1253.2 699.5h0M1253.4 696.4h0M1253.5 705.5h0M1253.8 696.7h0M1254 699.9h0M1254.2 698h0M1254.5 689.5h0M1254.6 701.9h0M1254.8 701.4h0M1255 696.7h0M1255.2 706.9h0M1255.5 689.8h0M1255.7 690.1h0M1255.8 698.4h0M1256.1 700.6h0M1256.2 697.8h0M1256.4 699.1h0M1256.8 692.9h0M1257 706.5h0M1257.1 698.5h0M1257.4 690.8h0M1257.6 692.9h0M1257.7 698.5h0M1257.9 702.5h0M1258.1 696.5h0M1258.4 700.9h0M1258.5 703.1h0M1258.8 698.7h0M1258.9 688.4h0M1259.2 695.2h0M1259.4 696.5h0M1259.6 693.2h0M1259.8 689.1h0M1259.9 699.5h0M1260.2 691.6h0M1260.5 703.1h0M1260.6 707.2h0M1260.9 696.5h0M1261 687.7h0M1261.4 699.1h0M1261.5 701.5h0M1261.7 695.7h0M1261.9 696.4h0M1262.1 705.5h0M1262.4 698.3h0M1262.5 694.6h0M1262.8 700.3h0M1262.9 701.4h0M1263.1 697.3h0M1263.4 709.1h0M1263.6 693.3h0M1263.9 695.1h0M1263.9 697.1h0M1264.2 706.5h0M1264.3 696.3h0M1264.5 697.3h0M1264.9 690.1h0M1265 700.8h0M1265.2 695.3h0M1265.5 694h0M1265.6 699.6h0M1265.9 695.8h0M1266.1 696.9h0M1266.3 685.7h0M1266.5 699.9h0M1266.6 689.9h0M1266.9 700.3h0M1267.1 690.4h0M1267.3 697.1h0M1267.5 692.7h0M1267.7 701.6h0M1267.9 696.2h0M1268.2 688h0M1268.4 700h0M1268.7 700h0M1268.7 703.8h0M1268.9 705.6h0M1269.3 701.6h0M1269.3 697.5h0M1274.7 700.6h0M1274.8 693.9h0M1275.1 692.8h0M1275.3 701h0M1275.4 702.5h0M1275.6 701.4h0M1275.8 711.7h0M1276.1 691h0M1276.4 699.2h0M1276.5 704.8h0M1276.6 700.7h0M1276.9 704.3h0M1277.1 696.4h0M1277.3 704.6h0M1277.6 703h0M1277.7 705.9h0M1277.9 702.2h0M1278 701.4h0M1278.2 696.3h0M1278.6 694.8h0M1278.8 701.4h0M1278.9 698.7h0M1279.2 707.4h0M1279.5 698.6h0M1279.6 699h0M1279.9 693.1h0M1280 696.4h0M1280.1 706.3h0M1280.4 696.3h0M1280.5 699.5h0M1280.7 701.8h0M1281 702h0M1281.2 705.1h0M1281.5 697.3h0M1281.7 703.4h0M1281.9 700.6h0M1282.1 698h0M1282.2 690h0M1282.5 701.9h0M1282.7 705.4h0M1282.9 701.5h0M1283.1 702.1h0M1283.3 693.5h0M1283.5 699.2h0M1283.7 703h0M1283.8 692.7h0M1284.2 697.3h0M1284.3 698.2h0M1284.6 697.5h0M1284.7 695.5h0M1284.9 701.4h0M1285.2 703.2h0M1285.4 695.1h0M1285.6 705.8h0M1285.7 698.3h0M1286.1 697.9h0M1286.2 700.1h0M1286.4 700h0M1286.5 700.8h0M1286.8 695.8h0M1287 691h0M1287.2 698.3h0M1287.5 706.7h0M1287.6 696.5h0M1287.8 696.8h0M1288.1 697.8h0M1288.3 699.2h0M1288.4 695.9h0M1288.7 695.1h0M1288.9 704.4h0M1289 695.2h0M1289.2 696.7h0M1294.6 698.9h0M1294.7 690.6h0M1294.9 703.9h0M1295.1 703.8h0M1295.4 701.6h0M1295.5 696.3h0M1295.7 708.9h0M1296 697.3h0M1296.1 703.3h0M1296.3 696.4h0M1296.6 703h0M1296.8 700.4h0M1297 705.4h0M1297.3 710.8h0M1297.4 702.6h0M1297.7 708.9h0M1297.9 703.7h0M1298.1 712.9h0M1298.4 699h0M1298.4 699.5h0M1298.7 712h0M1298.9 695.9h0M1299.1 702h0M1299.4 700.9h0M1299.5 702.5h0M1299.8 708.3h0M1299.9 700.9h0M1300.1 697.6h0M1300.3 699.1h0M1300.5 700.2h0M1300.7 708.9h0M1301 698.7h0M1301.2 710.5h0M1301.3 706.2h0M1301.7 699.9h0M1301.8 711.7h0M1302 701.2h0M1302.3 700.5h0M1302.4 694.4h0M1302.7 702.9h0M1302.9 694.2h0M1303 711.3h0M1303.2 708h0M1303.4 706.5h0M1303.6 696.7h0M1303.9 711.2h0M1304 705.6h0M1304.3 697.6h0M1304.5 695.3h0M1304.7 695.7h0M1304.8 704.9h0M1305.2 695.3h0M1305.4 695.4h0M1305.6 698.4h0M1305.8 704.2h0M1306 696.7h0M1306.3 695.2h0M1306.3 697.9h0M1306.7 698.6h0M1306.8 696.5h0M1307 698.6h0M1307.3 696.1h0M1307.5 705h0M1307.6 704.3h0M1307.9 695.8h0M1308 704.9h0M1308.3 702.5h0M1308.5 698.2h0M1308.8 693.6h0M1309 697.6h0M1309.1 704.4h0M1309.3 707.9h0M1309.6 696.6h0M1309.8 702h0M1310 699.4h0M1310.3 702.3h0M1310.5 690.4h0M1310.5 705.8h0M1310.9 701.8h0M1311 694.9h0M1311.2 702.6h0M1311.5 700.7h0M1311.7 705.5h0M1311.8 704.6h0M1312.1 692.2h0M1312.3 694.4h0M1312.5 706.9h0M1312.6 702.2h0M1312.8 698.7h0M1313.2 699.2h0M1313.3 702.9h0M1313.5 701.5h0M1313.7 702.8h0M1313.8 700.5h0M1314.2 704.5h0M1314.4 701.7h0M1314.5 699.8h0M1314.8 696.5h0M1314.9 702.4h0M1315.1 698.3h0M1315.4 701.3h0M1315.6 704.3h0M1315.9 698.4h0M1316 703.9h0M1316.3 694.7h0M1316.5 701.8h0M1316.5 696.4h0M1316.9 697.8h0M1317.2 708.4h0M1317.4 699.1h0M1317.5 696h0M1317.8 706.5h0M1318 698.8h0M1318.1 706.4h0M1318.2 697.4h0M1318.6 703.6h0M1318.6 700.8h0M1319 704.1h0M1319.2 704.6h0M1319.3 699.8h0M1319.6 697.4h0M1319.7 700.2h0M1320.1 693.3h0M1320.2 698.5h0M1320.4 701.2h0M1320.6 695.8h0M1320.9 701.4h0M1321.1 701.1h0M1321.2 699.9h0M1321.4 697.9h0M1321.6 701.8h0M1321.9 699.4h0M1322.1 693.3h0M1322.3 699.7h0M1322.4 704h0M1322.6 693.7h0M1322.9 694.4h0M1323.1 693.7h0M1323.3 690.6h0M1323.5 694.5h0M1323.7 697h0M1324 694.9h0M1324.1 698.5h0M1324.5 696h0M1324.6 705.1h0M1324.8 693.3h0M1325.1 695.6h0M1325.2 694.3h0M1325.3 695.2h0M1325.7 698.4h0M1325.8 698.5h0M1326.1 700.5h0M1326.4 697.8h0M1326.5 698.9h0M1326.7 691.7h0M1326.9 694h0M1327.1 704.8h0M1327.3 689.5h0M1327.6 696h0M1327.7 698.2h0M1327.9 690h0M1328.2 695.4h0M1328.4 697.8h0M1328.6 702.4h0M1328.8 695.4h0M1328.9 694.3h0M1329.1 696.9h0M1329.3 696.4h0M1329.7 688.3h0M1329.8 697.6h0M1330.1 691.6h0M1330.2 696.8h0M1330.5 694.8h0M1330.6 696.9h0M1330.9 694.1h0M1331 695.7h0M1331.3 695.3h0M1331.6 693.6h0M1331.6 703.8h0M1331.8 700.2h0M1335.1 699.4h0M1335.3 697.9h0M1335.6 693.2h0M1335.8 692.2h0M1336 697.9h0M1336.1 688h0M1336.4 700.5h0M1336.6 699.9h0M1336.8 699.4h0M1336.9 695.5h0M1337.3 697.2h0M1337.5 699.8h0M1337.6 700.5h0M1337.9 699.6h0M1338.1 704h0M1338.3 700.7h0M1338.5 707h0M1338.6 694.6h0M1338.8 689.1h0M1339 707.9h0M1339.2 696.3h0M1339.5 693h0M1339.8 692.6h0M1339.9 688.5h0M1340 699.6h0M1340.3 698.5h0M1340.5 694.9h0M1340.8 699h0M1341 696.3h0M1341.2 699.4h0M1341.2 692.3h0M1341.6 695.1h0M1341.7 698.4h0M1341.9 691.9h0M1342.2 703.6h0M1342.4 699h0M1342.5 692.8h0M1342.8 690.6h0M1343 696.3h0M1343.3 701h0M1343.4 692.9h0M1343.7 696.4h0M1343.8 698.2h0M1344 696.9h0M1344.3 697.4h0M1344.5 702.5h0M1344.8 697.2h0M1344.8 698h0M1345.1 697.4h0M1345.4 698.4h0M1345.4 701.6h0M1345.8 692.6h0M1345.9 693.5h0M1346.2 697.3h0M1346.3 699.7h0M1346.6 689.1h0M1346.7 693.4h0M1347 695h0M1347.2 695.6h0M1347.4 699.7h0M1347.6 696h0M1347.9 691.5h0M1348.1 693.3h0M1348.1 699.8h0M1348.4 698h0M1348.6 703.8h0M1348.8 691.1h0M1349.1 698.4h0M1349.3 696h0M1349.6 691.1h0M1349.6 688.9h0M1350 698.6h0M1350 697.7h0M1350.2 691.4h0M1350.5 693.4h0M1350.8 687.3h0M1350.9 700.5h0M1351.1 695h0M1351.4 696.3h0M1351.6 701.2h0M1351.8 698.1h0M1351.9 697.5h0M1352.2 700.5h0M1352.5 698.3h0M1352.5 697.9h0M1352.8 694.9h0M1353 706.6h0M1353.2 703.5h0M1353.3 703.9h0M1353.7 699.2h0M1353.9 700.7h0M1354 704.6h0M1354.4 705.4h0M1354.5 697.5h0M1354.6 701.8h0M1354.8 699.7h0M1355.1 708.6h0M1355.2 705h0M1355.5 709.4h0M1355.7 700.1h0M1356 699h0M1356.1 698.7h0M1356.4 703.1h0M1356.6 698.7h0M1356.8 700.4h0M1356.9 690.1h0M1357.1 695.4h0M1357.4 709h0M1357.6 694.8h0M1357.7 697.4h0M1358 699.7h0M1358.1 692.2h0M1358.4 699h0M1358.6 707.3h0M1358.9 694.9h0M1359.1 697.7h0M1359.3 703.5h0M1359.5 697.2h0M1359.7 702.7h0M1359.8 702.8h0M1360 699.6h0M1360.3 694.8h0M1360.4 701.1h0M1360.7 694.1h0M1360.9 700.6h0M1361 697.8h0M1361.4 701.6h0M1361.5 694.2h0M1361.8 699.4h0M1362 705.7h0M1362.2 694.9h0M1362.4 701.6h0M1362.7 700.6h0M1362.7 702.9h0M1363 694.5h0M1363.3 698.3h0M1363.5 690.6h0M1363.6 695.6h0M1363.9 702.5h0M1364.1 702.2h0M1364.2 700.8h0M1364.4 696h0M1364.6 698.9h0M1364.9 704h0M1365 698.1h0M1365.2 698.9h0M1365.5 703.8h0M1365.6 704.1h0M1366 697.7h0M1366.1 705.2h0M1366.3 694.6h0M1366.5 704.3h0M1366.7 702.9h0M1367 697.6h0M1367.1 698.1h0M1367.3 699.8h0M1367.6 700.5h0M1367.8 700.9h0M1368.1 697.6h0M1368.2 693.7h0M1368.4 700.8h0M1368.5 700.9h0M1368.8 694.4h0M1369 704.7h0M1369.2 700h0M1369.5 699.9h0M1369.6 697.7h0M1369.8 700.4h0M1370 710.2h0M1370.3 697.7h0M1370.4 710.1h0M720 691h0M721.2 687.8h0M721.9 684.3h0M722.6 686.8h0M723.5 687.6h0M723.9 685.8h0M155.5 671h0M160.7 676h0M265.5 718.6h0M265.8 728h0M276.6 729.7h0M265.5 757h0M298 716h0M312 720h0M407 756.6h0M407 716.3h0M452.2 763h0M534.6 748.5h0M538.3 753h0M538.3 765h0M547.5 734.5h0M547.5 758h0M608.6 722.6h0M608.6 728h0M608.6 756.5h0M853 720.7h0M862.4 756.3h0M853.3 812.4h0M911 663.9h0M937.2 729.7h0M937.2 754.9h0M937.2 759.6h0M1024.3 660.4h0M1024.3 679h0M1059.7 716.5h0M1059.7 730.4h0M1059.7 761.2h0M1113 717.6h0M1140.7 719.3h0M1177.6 723.9h0M1201 726.4h0M1210.4 716h0M1220.7 718h0M1220.7 730.4h0M1220.7 759h0M1302.6 725h0M1302.6 758.7h0M1302.6 767.3h0M1360.6 680.8h0M1340 716.3h0M721 717.4h0M723.5 717.4h0M150 716h0M172 712h0M256 716h0M330 714h0M560 712h0M790 714h0M1170 716h0M1260 714h0" stroke="#0000ff" stroke-width="3.0" stroke-linecap="round" fill="none"/>
<path d="M708 754h0M708.7 754.7h0M709.3 762.5h0M709.5 756h0M710.1 754.7h0M710.5 759.5h0M710.8 751.9h0M711.3 752h0M711.7 748.8h0M712.1 757.2h0M712.6 758.3h0M713.3 761h0M713.7 753.4h0M714 751.1h0M714.5 754.7h0M715.1 755h0M715.5 752.3h0M715.9 753.8h0M716 760.7h0M716.6 754.3h0M717.1 756.4h0M717.6 747.9h0M718 754.9h0M718.4 757.1h0M719 751.1h0M719.3 755.9h0M719.7 758.8h0M720.2 750.2h0M720.6 757.2h0M721.1 756.5h0M721.6 753.3h0M721.9 758.6h0M722.3 754.9h0M723 751.3h0M723.2 756.4h0M723.9 758.4h0M724 753.5h0M724.4 751.2h0M725.2 756.7h0M725.4 757.8h0M726 754.1h0M726.4 755.1h0M726.9 759.7h0M727.4 750.8h0M727.5 754.5h0M728.2 755.1h0M728.7 753.5h0M728.9 755.6h0M729.4 749.9h0M729.8 757h0M730.4 753.7h0M731 759.1h0M153.3 753.2h0M153.9 757h0M154.9 757.7h0M155.5 752.9h0M156.6 751.9h0M157.4 754.3h0M158.3 756.9h0M159.3 758.1h0M159.6 751.8h0M160.7 758.7h0M273.1 752.5h0M273.4 753.8h0M273.6 753.1h0M273.8 765.1h0M274.1 755.5h0M274.4 755.3h0M274.7 759h0M274.9 752.6h0M298.6 741.8h0M298.7 758.8h0M299.2 739.9h0M299.3 743.5h0M299.6 734.9h0M300 752.1h0M300.2 751.7h0M300.7 751.1h0M342.6 754.6h0M342.9 755.2h0M343.1 761.3h0M343.4 746.3h0M343.6 748h0M343.9 752.3h0M344.2 746.4h0M344.5 757.5h0M344.5 765.4h0M524.2 753h0M524.6 761.5h0M525.7 752.4h0M527.3 764h0M527.6 756.9h0M529.4 754.4h0M529.8 759.5h0M530.8 762.6h0M532 754.2h0M533.4 761.6h0M534 758.9h0M535.8 764.7h0M536.6 760.9h0M537.3 755.7h0M538.1 758.5h0M539.7 764.2h0M549.5 767.7h0M550.6 747.7h0M551 759.7h0M551.3 757.1h0M551.9 755.5h0M552.5 757.3h0M553 754.4h0M554 752.6h0M554.3 757.7h0M554.8 753.5h0M555.6 755.2h0M556.2 765.5h0M556.5 768.7h0M999.5 750.4h0M999.9 756.3h0M1000.3 759.9h0M1000.5 754.3h0M1001 763.5h0M1001.1 754.8h0M1001.6 758.1h0M1001.8 763.8h0M1002.2 754.2h0M1002.4 755.5h0M1002.7 754.9h0M1003.3 754.4h0M1003.5 756h0M1003.7 751.6h0M1004.2 748.9h0M1004.3 763.5h0M1004.6 754.2h0M1005.1 756.8h0M1005.3 761.5h0M1005.8 759h0M1006 752.9h0M1006.5 749.3h0M1006.7 750.8h0M1006.9 754.2h0M1007.3 759.8h0M1007.5 748.2h0M1007.9 758.7h0M1008.4 751.8h0M1008.7 757.9h0M1009.1 765.1h0M1009.2 764h0M1009.5 756.6h0M1010 758.3h0M1010.4 764.6h0M1010.6 758.1h0M1010.9 762h0M1011.2 758h0M1011.5 759h0M1011.7 761.2h0M1012.3 764.1h0M1012.7 758.1h0M1012.7 755.4h0M1013.2 752.1h0M1013.5 766.1h0M1013.8 758.1h0M1014.3 760.1h0M1014.3 758.9h0M1015 756.1h0M1015.2 753.6h0M1015.5 760.3h0M1015.9 749.9h0M1016 755.3h0M1016.4 759.7h0M1016.7 754.5h0M1017 758.7h0M1017.5 761h0M1017.6 755.9h0M1018.2 752.6h0M1018.4 754.6h0M1018.7 760.8h0M1018.9 757.4h0M1019.3 755.1h0M1019.6 756h0M1020.1 755.9h0M1020.4 751h0M1139.6 748h0M1140 748.9h0M1140.2 750.3h0M1140.6 750.2h0M1140.7 748.5h0M1141 759.2h0M1141.5 750.2h0M1141.8 745.9h0M1141.9 748h0M1142.2 761.8h0M1142.4 758.5h0M1142.9 759.2h0M1143.2 751.7h0M1143.4 750.1h0M1143.8 752.5h0M1143.9 750.6h0M1144.2 756.7h0M1144.6 757.6h0M1144.9 755.1h0M1145.1 753h0M1145.2 762.8h0M1145.7 759.5h0M1145.8 760h0M1146.2 747.2h0M1146.5 752.6h0M1146.8 759.7h0M1147.2 747h0M1147.4 756.3h0M1147.7 754.6h0M1148 754.7h0M1148.4 760.8h0M1148.4 757.6h0M1148.9 754.2h0M1149.2 753.3h0M1149.4 754.5h0M1149.6 749.1h0M1150.1 759h0M1150.3 759.2h0M1150.6 758.2h0M1151 753.8h0M1151.1 750.2h0M1151.3 759.1h0M1151.6 756.4h0M1152 762.8h0M1152.4 752.7h0M1152.5 758h0M1152.7 754.2h0M1153 755.5h0M1153.5 755.6h0M1153.8 759.6h0M1154.1 755.3h0M1154.1 751.6h0M1188.6 762.7h0M1189.6 747.1h0M1190.4 755.8h0M1190.6 753.4h0M1191.9 752.3h0M1191.9 749.4h0M1193.3 747.9h0M1193.9 753.8h0M1194.2 743.1h0M1195.2 751.3h0M1195.5 757h0M1196.4 759.1h0M1197.2 755h0M1200.2 750h0M1200.5 758.4h0M1200.9 755.7h0M1201.2 759.3h0M1201.6 758.6h0M1201.9 760.1h0M1202.2 755.5h0M1202.9 749.5h0M1203.2 757.4h0M1203.4 754.4h0M1204.1 752.9h0M1204.4 761.4h0M1204.6 745.9h0M1205.1 760.9h0M1205.4 763.1h0M1205.7 755.5h0M1206.2 756h0M1206.5 760.7h0M1206.8 754.4h0M1207 765.8h0M1236.3 758.5h0M1237 760.6h0M1237.3 759.1h0M1238.7 755.4h0M1239.5 760.5h0M1304.3 757.3h0M1304.7 754h0M1305.4 740.3h0M1305.9 752.9h0M1306.2 754.8h0M1306.6 746.8h0M1306.8 742h0M1307.4 742.5h0M1307.8 759.9h0M1308.3 763h0M159.5 728.7h0M155 767.5h0M160.5 763h0M273.3 726.3h0M524.3 797h0M524.3 873.5h0M534 730h0M550.6 730h0M526.3 737h0M724.6 782h0M717.5 742h0M1144.5 772h0M1144.8 792h0M1285 753h0M1285 764h0M1285 861.7h0M1285 867.5h0" stroke="#006400" stroke-width="3.0" stroke-linecap="round" fill="none"/>
<path d="M643.8 654h0M644 662.6h0M644.5 660.7h0M644.5 661.9h0M645 663.8h0M645.2 662h0M645.6 660.2h0M645.9 654.9h0M646.2 656.2h0M646.4 657h0M646.7 658.1h0M647 669.2h0M647.3 660.5h0M647.5 656.3h0M647.8 655h0M648.1 659.6h0M648.4 648.5h0M648.7 661.7h0M649 664.1h0M649.4 658.8h0M649.7 668.2h0M650 650.6h0M650.2 664.3h0M650.5 659.8h0M650.9 656.8h0M651 667.2h0M651.6 667.9h0M651.6 668.4h0M652.1 666.2h0M652.3 666.8h0M652.6 655h0M652.9 673.1h0M653.1 669.3h0M653.5 661.4h0M653.9 655.7h0M654 658.5h0M654.4 656.9h0M654.8 674.3h0M655.1 664.5h0M655.2 667.6h0M655.6 655h0M655.7 669h0M656 667.3h0M656.4 656.6h0M656.6 661.6h0M657 665.9h0M657.4 667.3h0M657.5 668.3h0M658 652.9h0M658.3 665.1h0M658.5 659.4h0M658.9 649h0M659.2 656.2h0M659.4 669.1h0M659.7 668h0M659.9 663.5h0M660.3 660.6h0M660.5 656.7h0M660.9 654.5h0M661.1 665.8h0M661.5 656.2h0M661.7 655.5h0M662 661.2h0M662.3 650.5h0M662.6 655.9h0M663.1 668.2h0M663.1 661.3h0M663.6 656.7h0M663.9 649h0M664 663.1h0M664.4 663.2h0M664.7 665.5h0M665 659.2h0M665.2 657.7h0M665.5 660.9h0M665.9 664.8h0M666.2 655.5h0M666.5 651.9h0M666.8 668.8h0M667 665.7h0M667.2 662.9h0M667.6 661.4h0M668.1 673.3h0M668.2 657.3h0M668.4 662.5h0M668.8 663.3h0M669.1 658.9h0M669.4 670.6h0M669.8 665.1h0M670 654.9h0M670.4 655.1h0M670.5 662.4h0M670.9 652.8h0M671.2 655.3h0M671.4 661.9h0M671.6 653.3h0M672.1 660.2h0M672.3 653.2h0M672.6 666.1h0M673 656.9h0M673.4 658h0M673.6 663h0M673.9 659.7h0M674.2 672.8h0M674.3 658h0M674.6 657.9h0M675 661.2h0M675.2 657.8h0M675.7 664h0M676 663.7h0M676.1 657.2h0M676.4 659.3h0M676.7 658h0M677 664.8h0M677.5 657.6h0M677.7 657.7h0M677.9 666.3h0M678.3 667.9h0M678.4 663.2h0M678.7 658.6h0M679.2 661.8h0M679.4 665h0M679.8 657.6h0M680.1 665.6h0M680.4 658.5h0M680.6 653.2h0M681 657.8h0M681.3 654.9h0M681.4 663.7h0M681.7 661.9h0M682 651.2h0M682.3 659.9h0M682.6 657.8h0M683.1 661.4h0M683.3 663.2h0M683.5 663.4h0M683.8 657.2h0M684.3 648.4h0M684.5 649h0M684.8 659.5h0M685.2 658h0M685.4 669.9h0M685.7 658.3h0M685.8 658.3h0M686.3 657.1h0M686.4 668.2h0M686.9 664.4h0M687.2 662.5h0M687.5 669.5h0M687.7 653.8h0M688.1 660.8h0M688.4 666.4h0M688.5 645.5h0M689 658h0M689.2 667.9h0M689.6 655.1h0M689.9 668.3h0M690 655.1h0M690.5 657.4h0M690.6 661.3h0M690.9 653.4h0M691.1 658.2h0M691.5 655.2h0M692 651h0M692.1 654.8h0M692.5 659.1h0M692.8 660.5h0M693 651.7h0M693.2 662.1h0M693.5 666.3h0M694 660.1h0M694.2 663.3h0M694.5 663.9h0M694.9 659h0M695 658h0M695.3 662.6h0M695.7 671.2h0M695.8 668.8h0M696.3 650.1h0M696.6 662h0M696.8 646.8h0M697.3 671h0M697.5 656.3h0M697.8 644.7h0M697.9 659.7h0M698.5 654.3h0M698.5 652.6h0M699 657.4h0M699.3 658.8h0M699.5 655.5h0M699.9 660.5h0M700.1 654h0M700.3 655.9h0M700.7 658.6h0M701 646.2h0M701.3 653.5h0M701.5 657.1h0M702 653.3h0M702 658.2h0M702.4 665.1h0M702.7 656.8h0M703.1 654.9h0M703.2 654.8h0M703.7 656.9h0M703.9 653.6h0M704.3 664.6h0M704.6 648.4h0M704.9 662.1h0M705.2 653.1h0M705.5 664.1h0M705.6 662.5h0M706.1 649.9h0M706.2 651.2h0M706.7 646.4h0M706.7 655.6h0M707.2 658.7h0M707.5 655.9h0M707.8 653.5h0M708 662.6h0M708.4 659.5h0M708.7 658h0" stroke="#8b0000" stroke-width="3.0" stroke-linecap="round" fill="none"/>
<line x1="153" y1="756" x2="155.5" y2="756" stroke="#00ff00" stroke-width="3.0"/>
<line x1="298" y1="752" x2="300" y2="752" stroke="#00ff00" stroke-width="3.0"/>
<line x1="1189" y1="755.4" x2="1195.8" y2="755.4" stroke="#00ff00" stroke-width="3.0"/>
<line x1="1236" y1="754" x2="1239" y2="754" stroke="#00ff00" stroke-width="3.0"/>
<line x1="1305" y1="755.3" x2="1308.4" y2="755.3" stroke="#00ff00" stroke-width="3.0"/>
<line x1="146" y1="698.7" x2="643.6" y2="698.7" stroke="#6060ff" stroke-width="3.2" stroke-opacity="0.45"/>
<line x1="729.3" y1="698.7" x2="1370.6" y2="698.7" stroke="#6060ff" stroke-width="3.2" stroke-opacity="0.45"/>
<path d="M146.2 1137.3h0M146.5 1134.5h0M146.7 1142.4h0M147 1139.9h0M147.2 1128.8h0M147.3 1134h0M147.6 1140.5h0M147.8 1133h0M148.1 1129.9h0M148.5 1131.7h0M148.6 1137.6h0M148.8 1130h0M149.1 1130.5h0M149.4 1131.4h0M149.7 1130h0M149.8 1131.1h0M150.2 1137.3h0M150.5 1131.9h0M150.6 1130.4h0M150.9 1137.5h0M151.1 1132.6h0M151.3 1129.8h0M151.6 1121.7h0M151.8 1133.4h0M152.2 1127.4h0M152.4 1133.2h0M152.7 1128.9h0M153 1128h0M153.2 1132.2h0M153.4 1126.5h0M153.5 1128.2h0M153.9 1123.8h0M154.1 1123.4h0M154.3 1124.3h0M154.7 1126.5h0M154.9 1135.8h0M155.2 1126.4h0M155.3 1130.5h0M155.6 1142.2h0M155.8 1124.6h0M156.2 1141.9h0M156.3 1126.5h0M156.7 1132.5h0M156.8 1130.6h0M157.1 1140.8h0M157.4 1134.4h0M157.7 1129h0M157.8 1127.9h0M158 1129.9h0M158.3 1132.2h0M158.7 1130.2h0M158.9 1134.5h0M159.1 1134h0M159.3 1130.5h0M159.6 1130.4h0M159.9 1135.3h0M160.2 1134.6h0M160.5 1131.6h0M160.5 1136.3h0M160.8 1130.7h0M161.1 1132.6h0M161.3 1132.6h0M161.7 1127.7h0M161.9 1133.1h0M162.2 1134.2h0M162.4 1135.2h0M162.6 1138.7h0M162.8 1125.5h0M163.2 1136.9h0M163.3 1131.2h0M163.6 1129.9h0M163.9 1130h0M164.2 1135.1h0M164.3 1136h0M164.5 1131.7h0M165 1133.5h0M165.1 1134.5h0M165.4 1129.8h0M165.6 1132.6h0M165.9 1133.4h0M166.1 1126.8h0M166.3 1130.7h0M166.7 1137.1h0M166.9 1134.3h0M167.1 1131.8h0M167.3 1125.2h0M167.6 1138h0M168 1125.7h0M168.2 1132.6h0M168.3 1130.1h0M168.5 1135.3h0M168.9 1128.7h0M169.2 1124.6h0M169.4 1122.2h0M169.5 1136.4h0M169.9 1137.7h0M170.2 1126.8h0M170.4 1136.1h0M170.7 1132.5h0M171 1135h0M171.1 1136h0M171.3 1137.9h0M171.6 1131.3h0M171.8 1127.8h0M172.1 1134.4h0M172.5 1140h0M172.6 1139.8h0M172.9 1128.2h0M173.1 1131.8h0M173.5 1126.1h0M173.6 1127.6h0M173.9 1135.2h0M174 1128.8h0M174.5 1133.1h0M174.7 1125.6h0M175 1142h0M175 1140.6h0M175.3 1147.2h0M175.6 1132.2h0M176 1139.9h0M176 1127.3h0M176.4 1127.7h0M176.6 1135.3h0M176.8 1123.3h0M177.2 1138.4h0M177.4 1134h0M177.7 1144.3h0M178 1140.2h0M178.1 1130.2h0M178.4 1140h0M178.7 1130h0M178.9 1141.8h0M179.1 1134.1h0M179.4 1133.5h0M179.6 1132.7h0M180 1131.3h0M180.2 1139.4h0M180.3 1136.2h0M180.5 1137.2h0M180.9 1135h0M181.2 1140.2h0M181.4 1129.4h0M181.7 1136.1h0M181.9 1132.5h0M182 1131.1h0M182.4 1132.2h0M182.7 1134.5h0M182.9 1131.7h0M183.2 1130.9h0M183.4 1138.4h0M183.7 1143.2h0M183.8 1134.4h0M184.1 1128.8h0M184.4 1125.6h0M184.6 1131.5h0M185 1136.3h0M185.1 1135.3h0M185.4 1131h0M185.5 1134.3h0M185.8 1134.9h0M186.2 1130.2h0M186.3 1134.4h0M186.6 1135.3h0M187 1140.9h0M187.1 1135.3h0M187.4 1137.5h0M187.7 1130.9h0M187.9 1136h0M188.2 1133.3h0M188.3 1122.9h0M188.7 1137.2h0M188.8 1135.7h0M189.1 1124.9h0M189.3 1137.2h0M189.7 1125h0M189.8 1138.8h0M190.1 1126.5h0M190.4 1142.1h0M190.6 1126.7h0M191 1136.7h0M191.2 1136.5h0M191.3 1135h0M191.6 1137.3h0M191.8 1130.3h0M192 1140.8h0M192.3 1140h0M192.7 1139.4h0M192.9 1130.1h0M208 1127.7h0M208.3 1129.7h0M208.7 1124.3h0M208.8 1124.4h0M209.1 1133.4h0M209.3 1129.5h0M209.6 1128.2h0M209.8 1129.1h0M210.2 1119.8h0M210.4 1129.2h0M210.6 1125.7h0M210.7 1117.4h0M211.2 1122h0M211.4 1129h0M211.7 1125.6h0M211.9 1122.4h0M212 1118.8h0M212.4 1124.1h0M212.6 1127.3h0M212.8 1131.7h0M213 1126.1h0M213.3 1121.2h0M213.7 1125.9h0M213.9 1116.9h0M214.1 1130.1h0M214.4 1130.8h0M214.6 1118.2h0M214.8 1134.1h0M215 1127.7h0M215.4 1127.3h0M215.5 1119.1h0M215.8 1134.4h0M216.1 1120.3h0M216.4 1125.6h0M216.7 1128.2h0M216.7 1128.8h0M217 1124.4h0M217.4 1128.3h0M217.6 1121.7h0M217.8 1123.7h0M218.1 1123h0M218.4 1132.7h0M218.6 1127.9h0M218.9 1131.1h0M219.2 1131.9h0M219.5 1129.9h0M219.5 1123.3h0M219.9 1121.3h0M220 1127.8h0M220.4 1125.5h0M220.6 1126.8h0M220.9 1123.9h0M221.1 1126.1h0M221.5 1127.4h0M221.5 1124.4h0M221.8 1124.8h0M222.1 1131.5h0M222.4 1129.5h0M222.5 1126.5h0M222.9 1125.7h0M223.1 1119.6h0M223.4 1128h0M223.6 1123h0M223.9 1137h0M224.2 1127.2h0M224.3 1119.3h0M224.7 1126.5h0M224.7 1127.6h0M225 1129.9h0M225.3 1127.6h0M225.5 1125.3h0M225.7 1128.9h0M226.1 1121.2h0M226.2 1127.8h0M226.7 1129.6h0M226.8 1132.7h0M227.1 1119.2h0M227.4 1128.4h0M227.6 1130.1h0M227.9 1118.1h0M228 1139h0M228.4 1130.6h0M228.5 1139.3h0M228.8 1122.9h0M229.1 1127.7h0M229.2 1128.8h0M229.6 1124.6h0M229.7 1127.5h0M230 1133.9h0M230.3 1135h0M230.5 1122.6h0M230.8 1133.5h0M231 1122.8h0M231.4 1127.9h0M231.5 1134h0M231.9 1128.4h0M232.1 1127.4h0M232.4 1132h0M232.6 1132.4h0M232.7 1136.7h0M233.1 1131.7h0M233.4 1123.4h0M233.7 1126.7h0M233.8 1133.5h0M234 1123.8h0M234.4 1126.7h0M234.6 1138.3h0M234.7 1125.6h0M235.2 1126.2h0M235.2 1137.2h0M235.5 1124.3h0M235.8 1134.6h0M236.1 1132.7h0M236.3 1130.6h0M236.5 1126h0M236.8 1129.2h0M237.2 1128.8h0M237.4 1124.7h0M237.7 1128.6h0M237.7 1133.5h0M238.2 1128.1h0M238.4 1128.8h0M238.7 1120h0M238.9 1126.8h0M239 1124.8h0M239.3 1119.8h0M239.5 1131.9h0M239.8 1126.8h0M239.9 1131h0M240.2 1130.6h0M240.4 1131.3h0M240.9 1136.7h0M241.1 1129h0M241.3 1135.5h0M241.6 1130.4h0M241.9 1123.7h0M242 1125.3h0M242.4 1131.1h0M242.5 1132h0M242.7 1121.9h0M243.1 1129.4h0M243.3 1130.1h0M243.6 1119h0M243.9 1131.1h0M244 1129h0M244.3 1119.9h0M244.6 1126.1h0M244.8 1127.2h0M245.1 1131.5h0M245.3 1129.6h0M245.5 1129.6h0M245.7 1124h0M246.1 1127.6h0M246.3 1126.2h0M246.5 1128.1h0M246.9 1124.6h0M247.1 1129.3h0M247.2 1124.5h0M247.6 1123.7h0M247.9 1121.7h0M248.1 1127.8h0M248.3 1127.9h0M248.6 1130.8h0M248.8 1129.8h0M249.1 1120.3h0M249.2 1119.9h0M249.5 1135.7h0M249.8 1135.1h0M250.1 1127.8h0M250.4 1135.3h0M250.6 1125.4h0M250.9 1123.4h0M251 1129.8h0M251.3 1131.7h0M251.4 1122.7h0M251.9 1124.4h0M251.9 1131.9h0M252.2 1131.1h0M252.4 1132.7h0M252.7 1129h0M253 1127.9h0M253.3 1122.3h0M253.4 1123.1h0M253.8 1133.6h0M253.9 1121.4h0M254.3 1121.8h0M254.5 1138.8h0M254.8 1125.6h0M255.1 1132.4h0M255.2 1127.5h0M255.5 1127.8h0M255.7 1131.3h0M256.1 1137h0M256.2 1128.3h0M256.4 1130.2h0M256.9 1126.4h0M257.1 1134.3h0M257.1 1126.9h0M257.4 1127.6h0M257.7 1134.9h0M258.1 1130.5h0M258.2 1136.5h0M258.5 1134.1h0M258.7 1129.1h0M259 1131.8h0M259.2 1125.8h0M259.4 1125.3h0M259.8 1129.3h0M260.1 1126.4h0M260.3 1120.3h0M260.5 1128.9h0M260.6 1129.9h0M261 1130.2h0M261.2 1126.4h0M261.4 1134.7h0M261.6 1124.1h0M261.9 1129h0M262.2 1120.6h0M262.5 1130.5h0M262.7 1121.2h0M262.9 1129.7h0M263.3 1125h0M263.6 1126.3h0M263.7 1124.1h0M264.1 1129.1h0M264.3 1127.8h0M264.6 1129.5h0M264.8 1131h0M264.9 1129h0M265.1 1126.7h0M265.4 1128.1h0M265.8 1128.4h0M265.9 1132.1h0M266.3 1134.1h0M266.5 1137.5h0M266.7 1127.8h0M266.9 1123.7h0M267.2 1132.9h0M267.3 1138.8h0M267.6 1134.6h0M267.9 1133.6h0M268.2 1133.1h0M268.4 1134.3h0M268.8 1131.8h0M269 1132.5h0M269.3 1134.7h0M269.3 1138.3h0M269.7 1133.8h0M270 1134.8h0M270.2 1135.8h0M270.5 1136.4h0M270.8 1136.3h0M271 1132.9h0M271.2 1134.7h0M271.6 1130.1h0M271.8 1135.7h0M272 1124.7h0M272.3 1128.1h0M272.4 1141.1h0M272.7 1130.5h0M272.8 1133.1h0M273.1 1126.1h0M273.5 1128.7h0M273.7 1130h0M274 1135.1h0M274.3 1135.8h0M274.3 1126.6h0M274.7 1127.2h0M275 1128h0M275.2 1132.2h0M275.4 1122.5h0M275.6 1133.2h0M276.1 1130.8h0M276.1 1120.1h0M276.6 1127h0M276.6 1132.9h0M277 1130.2h0M277.2 1132.6h0M277.5 1135.1h0M277.7 1126.2h0M278 1133h0M278.2 1125.5h0M278.5 1119.8h0M278.7 1122.7h0M278.9 1132.9h0M279.2 1136.7h0M279.5 1132.4h0M279.7 1123.2h0M279.9 1134.6h0M280.2 1140.7h0M280.6 1132.9h0M280.7 1125.9h0M281 1133h0M281.2 1123.2h0M281.5 1124.2h0M281.7 1128.7h0M281.8 1124h0M282.2 1124.5h0M282.3 1123.8h0M282.6 1129.9h0M282.8 1127.9h0M283.2 1131.9h0M287.6 1126.4h0M287.8 1120.9h0M288 1131.7h0M288.2 1136.2h0M288.4 1130.6h0M288.7 1126.1h0M289 1127.4h0M289.4 1127.1h0M289.6 1136.1h0M289.8 1124h0M290 1126h0M290.2 1129.7h0M290.6 1128.2h0M290.7 1123.2h0M291 1121h0M291.2 1127.5h0M291.4 1131.1h0M291.8 1128.7h0M291.9 1128.3h0M292.2 1124.6h0M292.5 1135h0M292.9 1130.5h0M293.2 1133.6h0M293.2 1124.3h0M293.5 1132.3h0M293.8 1128h0M294 1129.8h0M294.4 1133.3h0M294.6 1132.2h0M294.9 1130h0M295 1123.7h0M295.3 1128.1h0M295.5 1129.3h0M295.9 1117.6h0M296.1 1133.2h0M296.3 1126.8h0M296.6 1131.5h0M296.7 1131.6h0M296.9 1125.5h0M297.2 1128.8h0M297.6 1122.4h0M297.7 1126.3h0M298.1 1128.4h0M298.2 1131.2h0M298.4 1127h0M298.7 1129.8h0M299.1 1128.4h0M299.2 1125.8h0M299.5 1133.4h0M299.8 1118.1h0M300.1 1129.7h0M300.3 1128.2h0M300.6 1121.1h0M300.8 1133h0M301.1 1135.8h0M301.4 1135.5h0M301.7 1130.5h0M301.8 1132h0M302.1 1135.5h0M302.3 1129.2h0M302.5 1132.4h0M302.8 1139.7h0M302.9 1137.7h0M303.2 1124.5h0M303.5 1131.7h0M303.8 1126.4h0M304 1130.2h0M304.2 1130.3h0M304.6 1133.1h0M304.7 1128.8h0M305 1131.2h0M305.2 1131.6h0M305.4 1131.6h0M305.9 1128.8h0M306.1 1132h0M306.2 1132.5h0M306.7 1129.1h0M306.8 1128.9h0M307.1 1136.9h0M307.3 1143.1h0M307.5 1133.3h0M307.9 1134h0M308.1 1129.2h0M308.4 1124.8h0M308.6 1142.8h0M308.7 1132.2h0M309.1 1131h0M309.4 1135.4h0M309.7 1133.3h0M309.8 1131.4h0M310 1136.3h0M310.3 1134.3h0M310.6 1135.7h0M310.8 1131.8h0M311.1 1129.6h0M311.3 1130.9h0M311.6 1131.1h0M311.9 1134.5h0M312.2 1129h0M312.4 1123.8h0M312.7 1134.8h0M312.8 1132.8h0M313 1131.9h0M313.3 1129.9h0M313.7 1135.3h0M313.9 1125.3h0M314 1131.6h0M314.3 1130.1h0M314.6 1136.7h0M314.9 1135.3h0M315.1 1131.2h0M315.3 1127.3h0M315.5 1133.2h0M315.9 1123.5h0M316 1131.7h0M316.4 1131h0M316.7 1132.5h0M316.9 1134.2h0M317.1 1136.6h0M317.2 1125.8h0M317.6 1132.4h0M317.9 1123.5h0M318.1 1137.7h0M318.3 1132.2h0M318.6 1131.8h0M318.8 1139.7h0M319 1134.7h0M319.3 1126.5h0M319.6 1131.8h0M319.7 1128.1h0M320 1130.3h0M320.4 1129.8h0M320.5 1134.8h0M320.9 1128.4h0M321.2 1129.9h0M321.2 1133.8h0M321.5 1127.2h0M321.8 1136.7h0M322.1 1125.3h0M322.2 1125.4h0M322.5 1133.1h0M322.8 1135.6h0M323.2 1130.7h0M323.3 1134.1h0M323.6 1127.4h0M323.8 1128.4h0M324.2 1126.6h0M324.3 1121.8h0M324.5 1121h0M325 1131h0M325 1128.3h0M325.4 1129.9h0M325.6 1133.6h0M326 1129.1h0M326.2 1128h0M326.4 1121.7h0M326.5 1137.4h0M326.9 1124.8h0M327.1 1129.2h0M327.4 1125.8h0M327.6 1124.2h0M327.8 1133.6h0M328.2 1131h0M328.3 1128.4h0M328.7 1129.2h0M328.8 1124.7h0M329.1 1126.6h0M329.4 1126.8h0M329.6 1125.6h0M329.8 1129.3h0M330.2 1137.9h0M330.3 1127.1h0M330.6 1135.6h0M330.9 1120.6h0M331.1 1131h0M331.3 1130.5h0M331.7 1135h0M331.9 1129.4h0M332.1 1131.9h0M332.4 1124.5h0M332.5 1123.5h0M333 1120h0M333 1128.1h0M333.4 1123.5h0M333.7 1124.2h0M333.9 1130.9h0M334 1121.3h0M334.4 1121.6h0M334.7 1129.6h0M334.9 1128.3h0M335 1134.3h0M335.4 1127.1h0M335.5 1131.3h0M336 1132h0M336.1 1128.7h0M336.5 1130.5h0M336.7 1131.7h0M336.9 1122.2h0M337.2 1129.5h0M337.4 1136h0M337.5 1134.3h0M337.8 1125.3h0M338.1 1126.8h0M338.5 1128h0M338.7 1133.5h0M338.9 1129.7h0M339 1124.9h0M339.2 1139.4h0M339.6 1129.5h0M340 1134.1h0M340.1 1128.1h0M340.5 1128.2h0M340.6 1130.3h0M340.8 1135.7h0M341.1 1119.5h0M341.3 1133.9h0M341.6 1130.4h0M341.8 1127.1h0M342 1134.2h0M342.4 1132.3h0M342.7 1126.9h0M342.9 1129.2h0M348.2 1132h0M348.3 1132.7h0M348.6 1134h0M349 1125.7h0M349.1 1139.2h0M349.3 1127.7h0M349.6 1128.4h0M349.9 1130.2h0M350.1 1134.6h0M350.4 1132h0M350.6 1130.2h0M351 1134.8h0M351.2 1134.7h0M351.4 1138.8h0M351.6 1133.3h0M351.9 1129h0M352.1 1127.2h0M352.3 1134.7h0M352.6 1125.5h0M352.9 1121.8h0M353 1135.1h0M353.4 1136.5h0M353.6 1124.4h0M353.8 1130.7h0M354.2 1129.4h0M354.4 1132.5h0M354.7 1134.4h0M354.9 1128.2h0M355.2 1137.1h0M355.5 1136h0M355.6 1138.2h0M355.8 1122.4h0M356.2 1129.1h0M356.4 1139.9h0M356.6 1137.6h0M356.9 1132.7h0M357.1 1124.5h0M357.3 1137.8h0M357.7 1118.8h0M357.8 1121.1h0M358.1 1129.1h0M358.3 1127.4h0M358.5 1128.2h0M358.8 1135.2h0M359 1123.3h0M359.3 1129h0M359.7 1123.5h0M359.9 1124.6h0M360.1 1123.5h0M360.4 1120.3h0M360.6 1127h0M360.8 1130h0M361.1 1131.8h0M361.4 1126.7h0M361.6 1123.9h0M361.9 1139.2h0M362 1124.7h0M362.5 1130.5h0M362.7 1132h0M362.8 1131h0M363 1123.1h0M363.4 1135h0M363.6 1122h0M363.9 1134.2h0M364 1123.4h0M364.4 1130.2h0M364.6 1134.7h0M364.8 1128h0M365.1 1132.4h0M365.3 1129.4h0M365.6 1131.6h0M365.8 1128.9h0M366 1139.5h0M366.3 1122.9h0M366.6 1120.9h0M366.8 1130.6h0M367.1 1135.9h0M367.2 1123.4h0M367.7 1135.1h0M367.9 1130.5h0M368.1 1118.3h0M368.4 1132.2h0M368.6 1127.9h0M368.9 1128h0M369.2 1135.4h0M369.4 1131.8h0M369.6 1132.1h0M369.8 1132.8h0M370 1130.3h0M370.5 1121.3h0M370.5 1127.5h0M370.8 1127.9h0M371 1124.9h0M371.4 1128.8h0M371.6 1133.6h0M371.8 1120.3h0M372.1 1128.1h0M372.2 1123h0M372.6 1118.9h0M372.8 1135.3h0M373.2 1127.6h0M373.3 1129h0M373.7 1133.9h0M374 1118.9h0M374.1 1126h0M374.4 1129.7h0M374.7 1124.3h0M374.8 1124h0M375 1125.9h0M375.3 1137.7h0M375.7 1116.8h0M375.9 1117.6h0M376.2 1124.3h0M376.4 1127h0M376.5 1121.7h0M376.7 1124.4h0M377.1 1127.4h0M377.4 1132.3h0M377.5 1137.5h0M377.9 1135.2h0M378 1126.4h0M378.3 1124.8h0M378.6 1128.9h0M379 1130.9h0M379.1 1120.1h0M379.3 1139h0M379.6 1125.7h0M379.8 1125.3h0M380.2 1133.8h0M380.4 1129.6h0M380.5 1118.8h0M380.7 1127.8h0M381.2 1127.4h0M381.2 1131.6h0M381.7 1127.4h0M381.8 1128.1h0M382.1 1133.7h0M382.4 1123.5h0M382.6 1131.6h0M382.9 1129.8h0M383.2 1119.5h0M383.3 1139.6h0M383.7 1123.7h0M383.8 1133.9h0M384.2 1130h0M384.3 1126.3h0M384.7 1131.8h0M384.9 1131h0M385.1 1134.4h0M385.3 1126.6h0M385.7 1123.3h0M385.8 1119.2h0M386.1 1126.9h0M386.3 1129.1h0M386.7 1135.9h0M386.8 1126.8h0M387.2 1125.6h0M387.3 1127.3h0M387.7 1131.3h0M387.9 1131.3h0M388.2 1126.8h0M388.4 1132.7h0M388.7 1127.7h0M388.9 1123.6h0M389.2 1122.1h0M389.3 1129.3h0M389.6 1136.4h0M390 1130.4h0M390.2 1127.2h0M390.5 1136.8h0M390.5 1133h0M390.8 1128h0M391.1 1125.6h0M391.2 1135.9h0M391.7 1136.1h0M391.9 1138.7h0M392.1 1132.5h0M392.2 1127.3h0M392.6 1135.1h0M392.7 1135.8h0M393.1 1134.3h0M393.4 1129.4h0M393.5 1125.8h0M394 1131.3h0M394.2 1127.8h0M394.2 1132.8h0M394.6 1128.5h0M394.8 1129.7h0M395.2 1135.3h0M395.4 1132.5h0M395.7 1133.9h0M395.9 1131.1h0M396 1132.4h0M396.3 1134h0M396.7 1135.2h0M396.9 1131.5h0M397.2 1131.2h0M397.4 1125h0M397.7 1137.7h0M397.8 1131h0M398.1 1124.7h0M398.3 1125h0M398.6 1128.5h0M398.8 1129.8h0M399.1 1127.8h0M399.2 1133.6h0M399.6 1125.2h0M399.7 1129.8h0M400.1 1122.2h0M400.4 1126.6h0M400.6 1121.5h0M400.8 1128.1h0M401 1129.7h0M401.4 1136.5h0M401.7 1119.3h0M401.8 1121.8h0M402.1 1131h0M402.4 1126.8h0M402.7 1121.4h0M402.9 1129.2h0M403 1119.6h0M403.4 1119.8h0M403.6 1130.8h0M403.7 1129.7h0M404.1 1130.4h0M404.3 1127.5h0M404.5 1134.6h0M404.9 1134.4h0M405.1 1126.9h0M405.5 1127h0M405.5 1128.1h0M405.9 1126h0M406.2 1127.8h0M406.3 1124.5h0M406.7 1127.2h0M406.8 1124.5h0M407.2 1124.2h0M407.2 1138.4h0M407.6 1122.4h0M407.9 1125.6h0M408.1 1130h0M408.4 1131.7h0M408.6 1119.8h0M408.8 1131.8h0M409 1131.1h0M409.4 1123.2h0M409.5 1130.3h0M409.8 1128.2h0M410.1 1131.7h0M410.4 1125.9h0M410.7 1133.8h0M410.8 1127.2h0M411.1 1123.1h0M411.4 1130.6h0M411.5 1125.8h0M411.7 1130h0M412.1 1132.1h0M412.4 1125.5h0M412.7 1139.2h0M412.8 1128.5h0M413.1 1131.1h0M413.4 1129.6h0M413.6 1131.5h0M413.7 1129.5h0M414.2 1129.7h0M414.3 1128.2h0M414.5 1129.1h0M415 1122.8h0M415 1123.9h0M415.2 1131.6h0M415.5 1128.8h0M415.8 1131.4h0M416 1125.4h0M416.2 1129.9h0M416.6 1122.6h0M416.8 1128.8h0M417 1130.7h0M417.5 1124.8h0M417.7 1123.3h0M417.7 1125.1h0M418.1 1121.8h0M418.2 1123.8h0M418.7 1130.8h0M418.8 1118.7h0M419.1 1133.2h0M419.3 1126.3h0M419.5 1133.5h0M419.9 1122.2h0M420 1133.5h0M420.4 1135.2h0M420.5 1130h0M420.9 1127.5h0M421.1 1124.7h0M421.4 1134.7h0M421.5 1133.4h0M421.8 1135.2h0M422 1128.7h0M422.2 1133h0M422.7 1133.5h0M422.8 1119.5h0M423.1 1130.7h0M423.4 1134.3h0M423.6 1133.3h0M423.8 1133.3h0M424.1 1127h0M424.2 1133.3h0M424.5 1130h0M424.7 1121h0M425 1124.5h0M425.2 1130.7h0M425.5 1137.7h0M425.8 1132.9h0M426 1120h0M426.4 1127h0M426.7 1132.8h0M426.8 1124.8h0M427 1131.7h0M427.3 1133.4h0M427.5 1127.6h0M427.8 1131.1h0M428 1127.4h0M428.2 1132.2h0M428.6 1134.3h0M428.8 1124.4h0M429.1 1135.9h0M429.3 1130.6h0M429.5 1132.7h0M429.9 1126.2h0M430.1 1127.5h0M430.4 1136h0M430.6 1136.4h0M430.8 1121.6h0M431.1 1131.6h0M431.4 1143.3h0M431.5 1131.3h0M431.8 1121.4h0M432.2 1137.5h0M432.4 1141.4h0M432.7 1132.5h0M432.7 1138h0M433.1 1125h0M433.3 1139.5h0M433.4 1127.9h0M433.9 1130.6h0M434.1 1131.6h0M434.3 1131h0M434.6 1133.9h0M434.8 1127.1h0M435.2 1132.8h0M435.2 1128.2h0M435.6 1124.7h0M435.9 1127h0M436 1124.6h0M436.2 1126.7h0M436.6 1132.4h0M436.8 1129.5h0M437.1 1121.9h0M437.3 1125h0M437.6 1127.7h0M437.8 1124.6h0M438 1131.1h0M438.4 1132.4h0M438.6 1131.4h0M438.8 1132.4h0M439.1 1133h0M439.2 1121.3h0M439.5 1121.7h0M439.8 1133.2h0M440 1130h0M440.2 1132.2h0M440.5 1130.8h0M440.8 1132.1h0M441 1133.8h0M441.4 1126.1h0M441.5 1119.6h0M441.8 1120.2h0M441.9 1134.6h0M442.4 1135.9h0M442.6 1135.4h0M442.9 1139h0M443 1126.6h0M443.3 1138.1h0M443.6 1129.9h0M443.7 1129.4h0M443.9 1129.1h0M444.3 1131.1h0M444.6 1127.3h0M444.8 1140.4h0M445.2 1130.4h0M445.3 1132.3h0M445.5 1127.1h0M445.8 1133.3h0M446.1 1131.2h0M446.3 1132.1h0M446.5 1126.3h0M446.9 1130.7h0M447.1 1131.5h0M447.4 1132.4h0M447.4 1121.4h0M447.7 1127.9h0M448.2 1126.7h0M448.2 1133.3h0M448.6 1132.1h0M448.8 1122.5h0M449 1117.5h0M449.4 1130.7h0M449.5 1117.3h0M449.9 1124.4h0M450 1117h0M450.2 1136.5h0M450.6 1130.5h0M450.8 1123.4h0M451 1130.3h0M451.2 1123.9h0M451.5 1126.2h0M451.8 1130.2h0M452.2 1128.6h0M452.3 1129.8h0M452.5 1125.4h0M452.9 1125.4h0M453.1 1129.3h0M453.2 1127.2h0M453.5 1127.5h0M453.8 1128.6h0M454 1125.4h0M454.4 1129.4h0M454.6 1129.9h0M454.9 1134.7h0M455.2 1127h0M455.4 1136.8h0M455.6 1124.5h0M455.8 1124.7h0M456 1130.6h0M456.3 1136.7h0M456.6 1134.7h0M456.7 1129.7h0M457.1 1128h0M457.2 1125.3h0M457.6 1128.7h0M457.7 1125.6h0M458 1128.7h0M458.3 1127.4h0M458.5 1131.4h0M458.9 1131.3h0M459.1 1129h0M459.3 1136.2h0M459.6 1137.2h0M459.9 1128h0M460.2 1130.6h0M460.4 1131.8h0M460.7 1123.8h0M460.8 1129.4h0M461.1 1130.9h0M461.3 1131.1h0M461.6 1128.9h0M461.7 1126.4h0M462.1 1133h0M462.3 1127.1h0M462.5 1128h0M462.7 1131.2h0M463 1128.3h0M463.3 1120.9h0M463.5 1134.4h0M463.7 1131.4h0M464 1129.7h0M464.4 1119.2h0M464.6 1129.4h0M464.7 1134h0M465 1129.8h0M465.4 1123.2h0M465.5 1133.9h0M465.7 1131.1h0M466.1 1130.3h0M466.3 1130.8h0M466.6 1132.4h0M466.8 1138h0M467 1124.6h0M467.3 1129.4h0M467.6 1133.1h0M467.7 1131.7h0M468.1 1133.6h0M468.3 1134.2h0M468.6 1131.1h0M468.8 1132.3h0M469 1130.4h0M469.4 1127.4h0M469.4 1126.4h0M469.9 1129.1h0M470 1133.3h0M470.3 1130.9h0M470.4 1137.1h0M470.8 1131.3h0M471.1 1133.1h0M471.4 1131.5h0M471.5 1135.2h0M471.7 1128.5h0M472.1 1129.8h0M472.4 1132.5h0M472.5 1133.8h0M472.9 1132.7h0M473.1 1125.7h0M473.3 1129.2h0M473.4 1139.3h0M473.8 1131.8h0M474 1132.6h0M474.4 1121.4h0M474.6 1130h0M474.9 1138h0M475.1 1130.3h0M475.2 1132.9h0M475.5 1136.5h0M475.9 1129.1h0M476 1136.6h0M476.4 1130.6h0M476.7 1125h0M476.8 1132.5h0M477 1134.1h0M477.3 1132.4h0M477.6 1129.5h0M477.8 1119.7h0M478.1 1125.2h0M478.3 1132.2h0M478.6 1130.5h0M478.9 1140.8h0M479 1130.8h0M479.2 1131.8h0M479.5 1124.1h0M479.8 1129.2h0M480.1 1125.5h0M480.3 1126.6h0M480.4 1126.3h0M480.8 1126.5h0M481.1 1126.2h0M481.3 1127.7h0M481.6 1129.7h0M481.7 1128.2h0M482 1129.9h0M482.2 1132.7h0M482.5 1134.4h0M482.8 1131.9h0M483 1128.7h0M483.2 1125.6h0M483.6 1134.6h0M483.7 1135.5h0M484 1119.5h0M484.2 1127.1h0M484.6 1132.5h0M484.8 1129.5h0M485 1130.8h0M485.4 1140.1h0M485.6 1127.8h0M485.9 1120.2h0M486.1 1128.7h0M486.2 1128.5h0M486.6 1124.9h0M486.7 1130.4h0M487.1 1132h0M487.3 1121.3h0M487.6 1127.5h0M487.8 1125.4h0M488.1 1127.4h0M488.3 1131.4h0M488.5 1128h0M488.9 1136.5h0M489.1 1137.2h0M489.4 1129.9h0M489.5 1135.1h0M489.8 1129.7h0M489.9 1123.1h0M490.3 1125.9h0M490.6 1120.7h0M490.9 1129.1h0M491.1 1123h0M491.4 1126.8h0M491.4 1131.6h0M491.8 1125.6h0M491.9 1119.6h0M492.3 1128h0M492.6 1124.9h0M492.7 1122.5h0M493.1 1129.4h0M493.3 1132.1h0M493.5 1132.9h0M493.9 1122.2h0M494 1130.3h0M494.4 1133.5h0M494.5 1126.1h0M494.8 1129.1h0M495 1125.6h0M495.3 1136.4h0M495.6 1136.4h0M495.8 1132.8h0M496 1130.9h0M496.3 1129.2h0M496.6 1127.7h0M496.9 1129.9h0M497.1 1125.4h0M497.2 1128.3h0M497.5 1129.1h0M497.9 1118.1h0M498 1126.4h0M498.2 1130.6h0M498.6 1125.4h0M498.8 1135.2h0M499 1133.7h0M499.2 1128.4h0M499.6 1130.5h0M499.9 1130.3h0M500.1 1122.1h0M500.2 1126.3h0M500.6 1131.3h0M500.8 1121.5h0M501 1130.3h0M501.3 1130h0M501.5 1132.8h0M501.7 1135.2h0M501.9 1130.2h0M502.4 1132.5h0M502.4 1141.6h0M502.7 1141.5h0M503 1139.5h0M503.4 1135.4h0M503.4 1123.7h0M503.8 1133.8h0M503.9 1139.1h0M504.3 1125.5h0M504.6 1133.6h0M504.9 1137.4h0M504.9 1129.5h0M505.2 1141.8h0M505.6 1127.9h0M505.9 1124.7h0M506.1 1129.8h0M506.3 1135.5h0M506.5 1123.6h0M506.7 1131.2h0M507.1 1127.8h0M507.2 1131.2h0M507.5 1135h0M507.7 1129.9h0M507.9 1139h0M508.2 1133.7h0M508.7 1124.7h0M508.8 1128.3h0M509.1 1125.4h0M509.3 1137.1h0M509.4 1133.6h0M509.8 1131.9h0M510 1132.3h0M510.2 1130.5h0M510.4 1129.3h0M510.8 1129.8h0M511 1129.7h0M511.4 1124.7h0M511.5 1125.9h0M511.8 1133.3h0M512 1128.7h0M512.3 1127.7h0M512.5 1129h0M512.8 1137.8h0M513.1 1127.6h0M513.3 1132.6h0M513.5 1137h0M513.8 1123.9h0M513.9 1124.8h0M514.4 1130.8h0M514.6 1127.8h0M514.9 1124.7h0M515.1 1122.4h0M515.4 1123.8h0M515.4 1134.3h0M515.8 1132.8h0M516 1133.7h0M516.4 1133.5h0M516.5 1132.8h0M516.8 1125.1h0M517.1 1130.6h0M517.3 1129.6h0M517.6 1126.5h0M517.7 1129.2h0M518.1 1131.3h0M518.2 1134.1h0M518.6 1133.4h0M518.8 1128.1h0M519 1132.7h0M519.3 1123.8h0M519.4 1136.6h0M519.8 1123.8h0M520.1 1125h0M520.3 1124h0M520.5 1124h0M520.7 1127h0M520.9 1124.6h0M521.2 1130.4h0M521.4 1128.7h0M521.7 1124.8h0M522 1134.1h0M522.3 1133.3h0M522.4 1124.1h0M522.7 1129.4h0M523 1125h0M523.4 1121.7h0M523.6 1137.8h0M523.8 1129.5h0M524.1 1132.3h0M524.3 1134.2h0M524.6 1124.1h0M524.7 1126.8h0M525 1122.8h0M525.3 1121.2h0M525.5 1135.8h0M525.7 1140h0M526.1 1128.5h0M526.2 1131.5h0M526.6 1129.8h0M526.8 1133.8h0M527 1131.2h0M527.2 1134.1h0M527.5 1132h0M527.9 1124.6h0M528 1133.9h0M528.3 1123.8h0M528.6 1126.5h0M528.9 1120.1h0M529 1140h0M529.2 1129.2h0M529.5 1121.7h0M529.7 1130h0M530.2 1130.5h0M530.3 1134.4h0M530.4 1131.9h0M530.8 1130.1h0M531.1 1124.5h0M531.4 1131.2h0M531.6 1128.3h0M531.9 1133.2h0M531.9 1126.9h0M532.3 1127.4h0M532.4 1130.6h0M532.8 1128.5h0M533.2 1128.8h0M533.3 1129.3h0M533.5 1123.2h0M533.8 1140.6h0M534.1 1128.5h0M534.2 1130.4h0M534.5 1127.2h0M534.8 1126.1h0M535.1 1136.8h0M535.3 1125.2h0M535.4 1128.5h0M535.8 1128.8h0M536.1 1131.7h0M536.3 1136.8h0M536.5 1125.6h0M536.7 1126.7h0M537.1 1131.1h0M537.2 1141h0M537.5 1126.9h0M537.8 1128.4h0M538.1 1143.1h0M538.2 1137.4h0M538.4 1125.2h0M538.8 1128.6h0M539.1 1135.8h0M539.2 1132.1h0M539.6 1143.5h0M539.8 1132.7h0M540.1 1129.6h0M540.4 1131.2h0M540.6 1133.5h0M540.7 1132.6h0M541.1 1133.1h0M541.2 1133.5h0M541.6 1127.2h0M541.9 1138.4h0M542.1 1126.7h0M542.4 1139.3h0M542.6 1132.6h0M542.7 1127.5h0M543 1127.8h0M543.3 1133.5h0M543.5 1132.8h0M543.9 1129.3h0M544.1 1129.1h0M544.4 1129.2h0M544.5 1136.9h0M544.7 1129.2h0M545 1131.4h0M545.2 1123.5h0M545.5 1123.9h0M545.9 1129.4h0M546 1135.7h0M546.4 1128.5h0M546.7 1125.3h0M546.7 1128.7h0M547.1 1129.2h0M547.4 1135.6h0M547.6 1126.4h0M547.7 1133h0M548.1 1136.3h0M548.4 1132.4h0M548.5 1137h0M548.8 1126.8h0M549.2 1138.3h0M549.2 1130.2h0M549.6 1138.7h0M549.8 1130.1h0M550 1132.3h0M550.3 1128.3h0M550.4 1136.1h0M550.8 1136.6h0M551 1141h0M551.4 1132.2h0M551.5 1133.2h0M551.9 1132.1h0M552 1129.4h0M552.3 1124.7h0M552.5 1140.7h0M552.8 1137.1h0M552.9 1123.2h0M553.4 1129h0M553.5 1132.2h0M553.9 1134.3h0M554 1127.8h0M554.4 1130.5h0M554.6 1125h0M554.7 1138.3h0M555 1119.7h0M555.2 1121.2h0M555.6 1132.3h0M555.7 1131.8h0M555.9 1128h0M556.3 1132.1h0M556.5 1135.3h0M556.8 1129.7h0M557.1 1127.8h0M557.2 1127h0M557.5 1126.2h0M557.8 1126h0M558.1 1127.2h0M558.3 1129.9h0M558.7 1128.2h0M558.9 1127.4h0M559.1 1129.2h0M559.3 1126.1h0M559.6 1129.9h0M559.8 1136.6h0M559.9 1120.6h0M560.3 1137.3h0M560.5 1121.3h0M560.8 1132.2h0M561.2 1138.3h0M561.3 1136.6h0M561.6 1124.2h0M561.9 1128.6h0M562 1121.2h0M562.3 1132.3h0M562.5 1125.8h0M562.8 1127.3h0M563.1 1134.2h0M563.2 1117.9h0M563.7 1125.8h0M563.8 1127.8h0M564 1120.7h0M564.2 1130.8h0M564.7 1130.2h0M564.8 1125.6h0M565.1 1127.7h0M565.3 1133.5h0M565.6 1128.9h0M565.9 1133.4h0M566 1132.3h0M566.4 1118.9h0M566.7 1133.6h0M566.8 1140.5h0M567 1137.8h0M567.4 1127.2h0M567.7 1134.2h0M567.9 1133h0M568.1 1137.4h0M568.4 1141.6h0M568.4 1128.3h0M568.7 1134.6h0M569.1 1132h0M569.4 1125.3h0M569.5 1139.6h0M569.7 1131.2h0M570 1139.5h0M570.4 1125.7h0M570.5 1130.5h0M570.9 1124.8h0M571.1 1139.5h0M571.4 1130.5h0M571.5 1129.6h0M571.7 1135.2h0M572.1 1137h0M572.4 1134.6h0M572.7 1125.6h0M572.7 1136.6h0M573 1134h0M573.4 1131.9h0M573.6 1130.5h0M573.7 1128.8h0M574.2 1126.9h0M574.4 1140h0M574.5 1128.1h0M574.8 1128.2h0M575.1 1133.6h0M575.3 1134.4h0M575.5 1134.4h0M575.8 1126.4h0M576.2 1127.5h0M576.2 1122.8h0M576.5 1127h0M576.9 1124.6h0M577.1 1128.6h0M577.3 1128h0M577.6 1130.3h0M577.7 1131.1h0M578.1 1125.4h0M578.4 1130.7h0M578.6 1137.7h0M578.9 1131h0M579 1122.9h0M579.5 1124.6h0M579.7 1124.1h0M579.8 1136.5h0M580 1124.6h0M580.3 1125.8h0M580.5 1126h0M580.8 1126.1h0M581.1 1127.5h0M581.5 1127.6h0M581.5 1132.8h0M581.9 1124.1h0M582.2 1136.5h0M582.2 1128.5h0M582.6 1129.5h0M582.9 1129.5h0M583 1121.3h0M583.4 1130.7h0M583.6 1126.4h0M583.8 1130.3h0M584.1 1134h0M584.3 1131.9h0M584.6 1134.9h0M584.9 1126.9h0M585.2 1139.4h0M585.3 1131.4h0M585.6 1137.5h0M585.9 1131.1h0M586 1130.2h0M586.3 1142.2h0M586.6 1131.5h0M586.9 1133.5h0M587.1 1130.8h0M587.4 1128.5h0M587.5 1125.8h0M587.7 1139.2h0M588 1133h0M588.4 1140h0M588.6 1134.9h0M588.7 1142h0M589 1137h0M589.3 1139.1h0M589.6 1136.9h0M589.7 1128.5h0M590.1 1122.1h0M590.3 1132.1h0M590.7 1130.9h0M590.8 1129.3h0M591.1 1133.4h0M591.4 1139.5h0M591.5 1125.6h0M591.8 1128.2h0M592.1 1138.7h0M592.4 1135.7h0M592.7 1137.6h0M592.9 1129.3h0M593.1 1124.4h0M593.3 1130.6h0M593.7 1129.5h0M593.9 1136.9h0M594.2 1125.6h0M594.2 1127.8h0M594.6 1126.7h0M594.7 1136h0M595 1137.1h0M595.4 1137.2h0M595.6 1123.1h0M595.8 1140.8h0M596.1 1128.5h0M596.3 1134.3h0M596.5 1135.1h0M596.8 1127.1h0M597.1 1129.3h0M597.3 1129.4h0M597.7 1130.5h0M597.8 1132.9h0M598.2 1129.3h0M598.3 1125.3h0M598.7 1136.9h0M598.9 1123.6h0M599.2 1142h0M599.3 1134.3h0M599.7 1127.2h0M599.9 1131.8h0M600 1123.6h0M600.4 1130.6h0M600.6 1119.7h0M600.9 1133.7h0M601 1126.3h0M601.3 1119.2h0M601.7 1125.3h0M601.8 1129.6h0M602.2 1128.5h0M602.3 1130.7h0M602.6 1119.3h0M602.9 1125.8h0M603.1 1120.4h0M603.4 1128.7h0M603.6 1123.1h0M603.9 1131h0M604.1 1122.4h0M604.3 1124.4h0M604.5 1122.8h0M604.8 1126.2h0M605 1136.3h0M605.4 1121.6h0M605.7 1124.2h0M605.9 1118.1h0M606.1 1137.6h0M606.2 1132.3h0M606.5 1127.7h0M606.7 1130.2h0M607.1 1135.2h0M607.3 1132.7h0M607.5 1135.9h0M607.8 1138.2h0M608.2 1122.2h0M608.4 1127.5h0M608.6 1127.8h0M608.8 1133.8h0M609 1128.9h0M609.3 1122.7h0M609.6 1127.8h0M609.8 1121.8h0M610.2 1131.9h0M610.3 1123.3h0M610.5 1128.6h0M610.9 1123.9h0M611 1134.7h0M611.2 1131.5h0M611.5 1131h0M611.8 1129.8h0M612.2 1132.8h0M612.4 1122h0M612.5 1128.3h0M612.9 1135.3h0M613 1132.7h0M613.3 1124.4h0M613.7 1133.9h0M613.7 1133h0M614.1 1127.4h0M614.4 1134.4h0M614.7 1127.3h0M614.8 1138.3h0M615.2 1126.8h0M615.3 1129.3h0M615.5 1125.8h0M615.9 1124.3h0M616.1 1134.6h0M616.3 1132.6h0M616.7 1126.2h0M616.9 1124.2h0M617.2 1136h0M617.3 1124.1h0M617.5 1123.9h0M617.9 1123.5h0M618 1135h0M618.4 1135.6h0M618.7 1126.5h0M618.9 1123.8h0M619 1126.1h0M619.4 1122.7h0M619.6 1134.5h0M619.8 1134h0M620 1131h0M620.3 1133.7h0M620.6 1125.2h0M620.9 1127.8h0M621.2 1120.1h0M621.4 1128.7h0M621.7 1131h0M621.8 1133.7h0M622.2 1121.2h0M622.5 1131.9h0M622.5 1130.4h0M622.9 1130.5h0M623.1 1130.2h0M623.3 1133.3h0M623.7 1130.2h0M623.9 1129h0M624.2 1129.6h0M624.4 1133h0M624.7 1127.7h0M624.9 1136h0M625.2 1136.5h0M625.4 1127.3h0M625.6 1129.2h0M625.9 1140.9h0M626.2 1124.7h0M626.4 1128.6h0M626.7 1131.9h0M627 1129.2h0M627.1 1125.9h0M627.3 1135.2h0M627.7 1135.3h0M627.9 1129h0M628.2 1137.5h0M628.3 1137.6h0M628.6 1133.2h0M628.8 1137.9h0M629.1 1134.6h0M629.3 1128.5h0M629.7 1131.4h0M630 1128.6h0M630 1123.8h0M630.4 1125.4h0M630.7 1131.6h0M630.9 1123.4h0M631.2 1134.7h0M631.4 1130h0M631.5 1120.3h0M631.9 1129.3h0M632.2 1136.2h0M632.5 1131.2h0M632.7 1126.2h0M632.9 1129.5h0M633.2 1129.5h0M633.4 1130.5h0M633.6 1127.5h0M634 1131.2h0M634.2 1132.7h0M634.3 1129.3h0M634.5 1129.5h0M634.9 1127.9h0M635.1 1136.3h0M635.4 1131.3h0M635.7 1130.5h0M635.8 1136.8h0M767 1132.2h0M767.4 1130.6h0M767.6 1138.6h0M767.9 1135.9h0M768.2 1132h0M768.5 1137.8h0M768.6 1125.4h0M768.9 1133.6h0M769.1 1131.9h0M769.5 1131.8h0M769.7 1134.2h0M769.9 1127.4h0M770.1 1137.4h0M770.3 1140.9h0M770.6 1132.7h0M770.8 1138.6h0M771.1 1135.2h0M771.5 1133.9h0M771.5 1138.8h0M771.9 1129.3h0M772.2 1133.3h0M772.5 1129.7h0M772.6 1130.3h0M772.9 1129.7h0M773.1 1132.8h0M773.3 1122.7h0M773.7 1130.1h0M774 1130.8h0M774.1 1136.9h0M774.4 1132h0M774.7 1128.1h0M774.9 1133h0M775.2 1132h0M775.5 1127.7h0M775.6 1136.4h0M775.9 1135.1h0M776.2 1137.9h0M776.4 1126.1h0M776.5 1136.9h0M776.9 1130.8h0M777.1 1131.2h0M777.5 1125.4h0M777.7 1129.9h0M777.8 1138.4h0M778.2 1129.4h0M778.4 1132.1h0M778.7 1125.5h0M778.9 1135.3h0M779.1 1124.4h0M779.4 1136.8h0M779.7 1132.7h0M779.8 1128.7h0M780.1 1128h0M780.4 1132.9h0M780.6 1125.5h0M781 1128.1h0M781.1 1131.8h0M781.3 1130.4h0M781.6 1137.1h0M781.8 1126h0M782.1 1131.2h0M782.5 1131.9h0M782.7 1126.3h0M783 1128.5h0M783.3 1135.6h0M783.5 1136h0M783.6 1135.5h0M783.9 1128.2h0M784.3 1128.3h0M795.1 1143.8h0M795.3 1124.6h0M795.6 1123h0M795.9 1128.3h0M796.1 1135.7h0M796.4 1131.2h0M796.7 1138.6h0M796.9 1130.3h0M797.1 1135.9h0M797.3 1136.4h0M797.7 1130.3h0M797.8 1124h0M798 1132.5h0M798.4 1132.2h0M798.6 1139.3h0M798.8 1122.8h0M799 1133.3h0M799.3 1134h0M799.6 1134.4h0M799.8 1121h0M800.2 1137.3h0M800.4 1137.4h0M800.5 1116.6h0M800.8 1128.3h0M801.1 1123h0M801.3 1131.2h0M801.5 1132.7h0M801.8 1123.4h0M802.2 1136.3h0M802.4 1128.5h0M802.5 1122.9h0M802.9 1133.4h0M803.1 1137.5h0M803.3 1132.1h0M803.7 1126h0M803.8 1132.1h0M804 1121.8h0M804.4 1137.2h0M804.6 1132.7h0M805 1131.2h0M805.1 1123.2h0M805.4 1133.4h0M805.6 1122.6h0M805.8 1130.1h0M806.2 1135.5h0M806.3 1133.1h0M806.7 1134h0M806.9 1132.3h0M807.1 1125.2h0M807.4 1127.2h0M807.7 1136.2h0M807.9 1129.5h0M808.1 1134.9h0M808.4 1121.4h0M808.7 1125.8h0M808.8 1129.4h0M809.2 1132.5h0M809.3 1134.5h0M809.7 1129.7h0M809.8 1132.4h0M810 1134.8h0M810.5 1134.6h0M810.7 1135.7h0M811 1126.5h0M811.1 1129.9h0M811.3 1135.9h0M811.7 1136.5h0M811.9 1131.7h0M812.1 1137.7h0M812.4 1126.1h0M812.5 1141.3h0M812.9 1130.5h0M813 1138.9h0M813.4 1128.4h0M813.6 1129h0M813.9 1132.5h0M814.1 1140.5h0M814.5 1143.1h0M814.6 1126.5h0M814.9 1128.6h0M815 1145.1h0M815.3 1124.3h0M815.7 1137.5h0M815.8 1131.2h0M816.2 1135.9h0M816.5 1135.3h0M816.5 1125.7h0M816.9 1133.2h0M817.2 1130.1h0M817.4 1134.6h0M817.5 1127.6h0M817.8 1131.6h0M818.1 1132.8h0M818.3 1134.6h0M818.6 1130.7h0M818.9 1126.6h0M819.1 1135.2h0M819.3 1139.5h0M819.7 1132.2h0M819.9 1130.9h0M820.2 1139.9h0M820.3 1138.2h0M820.7 1124.5h0M820.8 1135.1h0M821 1131.7h0M821.3 1130.3h0M821.6 1138.4h0M822 1129.8h0M822 1137h0M822.4 1123.2h0M822.7 1145h0M822.8 1132h0M823.1 1133.3h0M823.4 1135.1h0M823.7 1132.6h0M824 1127h0M824.2 1129.2h0M824.3 1120.9h0M824.6 1134.8h0M824.9 1126.3h0M825 1126.4h0M825.2 1134.5h0M825.5 1131.9h0M826 1133.1h0M826.2 1134.3h0M826.4 1132.9h0M826.6 1133.5h0M826.9 1131.1h0M827.1 1135.3h0M827.4 1130.1h0M827.6 1132.6h0M827.9 1123.1h0M828.1 1131.2h0M828.3 1134.5h0M828.5 1132h0M829 1135.7h0M829.2 1139.4h0M829.4 1129h0M829.7 1132.1h0M829.7 1131.7h0M830 1137.1h0M830.4 1133.3h0M830.6 1129.6h0M830.7 1127.9h0M831.1 1139.4h0M831.3 1131.7h0M831.7 1137.6h0M832 1138.6h0M832.1 1133.5h0M832.4 1138.9h0M832.7 1135.3h0M832.8 1130.5h0M833.1 1136.8h0M833.3 1128h0M833.6 1141.9h0M833.9 1133.8h0M834.1 1131.3h0M834.4 1136h0M834.6 1138.1h0M834.9 1127h0M835.2 1139.4h0M835.3 1129.5h0M835.7 1140.5h0M835.8 1128.2h0M836.2 1132.7h0M836.4 1132.4h0M836.7 1127.7h0M836.8 1133.9h0M837 1134.9h0M837.3 1131.3h0M837.7 1136.3h0M837.9 1130.4h0M838.1 1135.7h0M838.3 1137.7h0M838.6 1129.6h0M838.8 1136.7h0M839.1 1135.9h0M839.4 1128.6h0M839.6 1133.3h0M839.9 1135.1h0M840 1121h0M840.4 1138.9h0M840.5 1142.2h0M840.9 1128.7h0M841.1 1132.4h0M841.4 1131.1h0M841.7 1126.9h0M841.8 1138.6h0M842.2 1129.1h0M842.3 1137.3h0M842.5 1133.9h0M842.9 1131.3h0M843.2 1132.5h0M843.4 1132.4h0M843.6 1132.3h0M843.9 1130.7h0M844 1142h0M844.3 1127.3h0M844.5 1129.1h0M844.9 1127.3h0M845.1 1129.7h0M845.4 1140.9h0M845.6 1127h0M845.8 1124.9h0M846 1128.3h0M846.3 1128.1h0M846.6 1128.5h0M846.9 1125.2h0M847 1135.8h0M847.4 1128.7h0M847.6 1130.3h0M847.7 1126.1h0M848 1127.7h0M848.2 1136.3h0M848.6 1134.2h0M848.8 1137h0M849.1 1136.3h0M849.4 1135.1h0M849.5 1125.7h0M849.8 1126.4h0M850.1 1135.1h0M850.3 1138.6h0M850.5 1121.2h0M850.7 1134.2h0M851 1131.3h0M851.2 1131.6h0M851.6 1129.3h0M851.7 1127.2h0M852 1127.6h0M852.3 1133.8h0M852.5 1125.7h0M852.7 1130.8h0M853.2 1132.3h0M853.4 1130.8h0M853.7 1136.2h0M853.8 1133.5h0M854.2 1133.7h0M854.3 1130h0M854.7 1128.2h0M854.8 1131.4h0M855 1132.3h0M855.4 1128.8h0M855.7 1129.8h0M855.8 1130.8h0M856 1126.7h0M856.2 1126.8h0M856.5 1129.4h0M856.7 1137.4h0M857 1127.9h0M857.2 1137.7h0M857.6 1130.7h0M857.8 1131.1h0M858 1129.5h0M858.3 1125.6h0M858.6 1134h0M858.9 1128.7h0M859.1 1125.3h0M859.3 1138.4h0M859.6 1131.4h0M859.9 1125.3h0M859.9 1140.8h0M860.4 1134.9h0M860.5 1133.7h0M860.9 1131.3h0M861.1 1137.3h0M861.2 1136.2h0M861.7 1126.6h0M861.7 1128h0M862 1133.5h0M862.4 1135.5h0M862.5 1131.2h0M862.7 1130.3h0M863.2 1135.7h0M863.3 1132.8h0M863.5 1130.5h0M863.7 1135h0M864 1136.4h0M864.3 1138.5h0M864.4 1140.6h0M864.8 1127.1h0M865 1134.4h0M865.3 1131h0M865.5 1135.7h0M865.9 1133.7h0M866 1130h0M866.3 1135h0M866.6 1137.3h0M866.8 1129.7h0M867 1137.9h0M867.4 1133.9h0M867.6 1126.3h0M867.7 1136.3h0M868.1 1130h0M868.4 1126.3h0M868.5 1128.5h0M868.7 1129.7h0M869 1129.6h0M869.3 1135.8h0M869.6 1132.3h0M869.8 1128.8h0M870 1128.5h0M870.2 1127.5h0M870.5 1138.3h0M870.7 1138.2h0M870.9 1136.1h0M871.3 1133.2h0M871.6 1131.3h0M871.9 1130.4h0M872.1 1143.8h0M872.3 1128.7h0M872.4 1141.4h0M872.8 1130.4h0M872.9 1127.5h0M873.4 1133.7h0M873.5 1130.3h0M873.8 1135.3h0M873.9 1132.7h0M874.2 1132.1h0M874.5 1137.1h0M874.8 1129.9h0M875 1132h0M875.3 1141.6h0M875.4 1133.6h0M875.9 1133h0M876 1136.5h0M876.2 1143.3h0M876.6 1133h0M876.7 1132.3h0M876.9 1126.6h0M877.2 1135.8h0M877.5 1132.4h0M877.7 1119.3h0M878 1133.3h0M878.3 1119.9h0M878.6 1123.1h0M878.8 1132.4h0M879 1128.4h0M879.2 1133.9h0M879.6 1128.6h0M879.7 1133.8h0M880.1 1127.4h0M880.3 1130.4h0M880.5 1131.5h0M880.7 1128.7h0M881 1137.6h0M881.3 1134.5h0M881.5 1123.9h0M881.8 1127.1h0M882.1 1124.5h0M882.3 1125.4h0M882.4 1131.9h0M882.8 1127.1h0M883 1123.4h0M883.3 1127.5h0M883.4 1133.2h0M883.8 1135.8h0M883.9 1127.3h0M884.4 1134.4h0M884.4 1131.5h0M884.9 1130.8h0M885.1 1130.8h0M885.2 1130.5h0M885.5 1127.2h0M885.8 1130h0M886.1 1138.2h0M886.4 1126.6h0M886.6 1127.2h0M886.9 1130.7h0M886.9 1132.8h0M887.3 1130.8h0M887.5 1134.2h0M887.8 1132.5h0M888.1 1136.5h0M888.4 1137.1h0M888.6 1130h0M888.7 1138.3h0M889 1136.9h0M889.2 1139.9h0M889.6 1127.8h0M889.9 1128.5h0M889.9 1140.4h0M890.2 1136.6h0M890.5 1132.9h0M890.7 1131.6h0M890.9 1136.3h0M891.3 1129.5h0M891.5 1134.6h0M891.8 1134.8h0M892.1 1130.6h0M892.3 1132.2h0M892.6 1125.8h0M892.8 1129h0M893 1131.6h0M893.2 1137.3h0M893.6 1123.9h0M893.7 1123.5h0M893.9 1126h0M894.3 1141.1h0M894.5 1135h0M894.7 1142.2h0M895.1 1135h0M895.2 1129.4h0M895.5 1127.3h0M895.7 1132.7h0M895.9 1136.2h0M896.4 1135.7h0M896.5 1125.3h0M896.7 1131.7h0M897.1 1141h0M897.2 1130.5h0M897.5 1131.9h0M897.7 1124h0M898 1134.3h0M898.4 1122.9h0M898.6 1136.8h0M898.9 1132.8h0M899.1 1130.1h0M899.2 1140.9h0M899.4 1132.4h0M899.9 1130.6h0M900.1 1134.8h0M900.2 1136h0M900.4 1127.7h0M900.8 1135.6h0M901.1 1136.5h0M901.3 1135.9h0M901.6 1129.7h0M901.8 1132.6h0M901.9 1124.9h0M902.2 1126.6h0M902.6 1128h0M902.7 1128.4h0M903.1 1127h0M903.2 1132.9h0M903.4 1123.4h0M903.9 1138h0M904.1 1126.4h0M904.2 1117.9h0M904.4 1126h0M904.7 1127.2h0M904.9 1123.4h0M905.3 1133.8h0M905.6 1129.3h0M905.8 1130h0M906 1130.2h0M906.3 1129.5h0M906.6 1129.7h0M906.8 1118h0M907.1 1129.5h0M907.2 1128h0M907.6 1134.1h0M907.9 1129.6h0M908.1 1129.4h0M908.2 1129.2h0M908.5 1128.8h0M908.8 1124.4h0M909.1 1131.8h0M909.3 1125.7h0M909.5 1133.8h0M909.7 1128h0M910.1 1139.7h0M910.3 1127.3h0M910.6 1128.6h0M910.7 1120.4h0M911 1128.2h0M911.2 1135.4h0M911.5 1128.8h0M911.8 1130.4h0M912.1 1133h0M912.3 1140.8h0M912.5 1119.8h0M912.8 1132.7h0M912.9 1133.2h0M913.4 1135.7h0M913.6 1131.4h0M913.7 1129.5h0M913.9 1123h0M914.3 1125.2h0M914.6 1132.7h0M914.9 1136.4h0M915.1 1129.4h0M915.2 1131.8h0M915.6 1138.3h0M915.7 1131.4h0M916.1 1129.4h0M916.2 1141.1h0M916.4 1128.1h0M916.9 1130.3h0M917.1 1132.6h0M917.4 1131.8h0M917.6 1141h0M917.8 1130h0M917.9 1137.9h0M918.2 1128.4h0M918.4 1128.8h0M918.7 1126.8h0M919 1129.3h0M919.2 1125.8h0M919.5 1131.5h0M919.8 1137.8h0M919.9 1130.1h0M920.2 1129.3h0M920.5 1131.1h0M920.8 1133.1h0M921 1127h0M921.3 1127.5h0M921.6 1136.8h0M921.9 1137.4h0M922 1126.4h0M922.3 1138.4h0M922.5 1128.3h0M922.8 1132.9h0M923 1138h0M923.3 1128.2h0M923.6 1139.9h0M923.8 1129.1h0M924.1 1127.6h0M924.2 1133.9h0M924.4 1127.9h0M924.7 1135.8h0M925 1126.9h0M925.3 1135.2h0M925.6 1132.5h0M925.7 1134.1h0M925.9 1130.9h0M926.3 1132.5h0M926.5 1139.3h0M926.7 1132.1h0M927 1131.4h0M927.2 1136.4h0M927.4 1131.3h0M927.9 1122.4h0M928.1 1138.3h0M928.3 1133.7h0M928.4 1144h0M928.7 1128.7h0M929 1130.8h0M929.3 1133.8h0M929.5 1136.2h0M929.8 1132.9h0M930.1 1123.6h0M930.2 1130.2h0M930.4 1128.4h0M930.9 1132.4h0M931 1134h0M931.3 1132.9h0M931.5 1137.7h0M931.7 1135.1h0M932 1135.9h0M932.2 1133.4h0M932.6 1138.3h0M932.8 1133.6h0M933.1 1131.9h0M933.3 1124.6h0M933.5 1127.8h0M933.9 1136h0M934.1 1131.5h0M934.4 1130.4h0M934.5 1131.5h0M934.9 1130.7h0M935.1 1136.8h0M935.3 1133.1h0M935.5 1132h0M935.7 1122.9h0M936 1126.3h0M936.4 1139h0M936.5 1135.4h0M936.8 1140.9h0M937 1130.4h0M937.2 1132.3h0M937.5 1124.8h0M937.7 1131.8h0M937.9 1125.9h0M938.3 1136.6h0M938.6 1130.5h0M938.7 1141.5h0M938.9 1136.6h0M939.3 1137.5h0M939.5 1124h0M939.7 1126.5h0M940 1124.6h0M940.2 1129.7h0M940.5 1125.4h0M940.7 1126.4h0M940.9 1133.2h0M941.3 1127.3h0M941.6 1132.2h0M941.8 1130.8h0M941.9 1129.9h0M942.3 1130.3h0M942.5 1134.7h0M942.8 1127.6h0M943 1131h0M943.3 1134h0M943.6 1129.8h0M943.7 1128.1h0M944 1132.9h0M944.3 1125.6h0M944.5 1131.8h0M944.7 1127.6h0M945 1121.7h0M945.3 1137.2h0M945.6 1126.8h0M945.7 1137.8h0M946.1 1131h0M946.3 1127.6h0M946.4 1123.3h0M946.8 1132.5h0M947 1119.1h0M947.2 1126.1h0M947.5 1128.6h0M947.8 1133h0M948.1 1132.1h0M948.3 1122.9h0M948.4 1129.7h0M948.6 1137.3h0M948.9 1138.7h0M949.2 1137.6h0M949.6 1130.7h0M949.7 1128.6h0M950 1135.5h0M950.3 1131.1h0M950.6 1123h0M950.9 1125.7h0M951.1 1127.1h0M951.3 1119.8h0M951.6 1129.3h0M951.7 1133.1h0M952.1 1137.2h0M952.2 1126.4h0M952.6 1130h0M952.9 1131.3h0M953 1126h0M953.2 1125.8h0M953.5 1125.1h0M953.7 1132.3h0M954 1128.6h0M954.2 1132.6h0M954.4 1131.5h0M954.6 1132.5h0M955.1 1127.5h0M955.3 1130.5h0M955.4 1140.7h0M955.6 1124.5h0M956.1 1128.2h0M956.2 1128.1h0M956.5 1133.4h0M956.8 1132.5h0M956.9 1127.8h0M957.3 1124.4h0M957.5 1129.1h0M957.7 1127.7h0M958 1128.7h0M958.4 1124h0M958.4 1132.2h0M958.7 1126.6h0M958.9 1135.1h0M959.3 1125h0M959.5 1128h0M959.7 1124h0M959.9 1125.1h0M960.4 1136.2h0M960.5 1134.1h0M960.9 1133.7h0M961 1134h0M961.2 1134.2h0M961.4 1128.1h0M961.8 1133.4h0M962 1132.9h0M962.3 1132.7h0M962.5 1137.3h0M962.6 1140.2h0M963 1127.6h0M963.3 1137.8h0M963.5 1138.9h0M963.7 1136.3h0M964 1136.1h0M964.2 1135h0M964.5 1129.2h0M964.8 1143.4h0M965 1134.1h0M965.3 1134h0M965.5 1133.7h0M965.8 1130.8h0M965.9 1135.3h0M966.2 1133.9h0M966.4 1131.6h0M966.8 1142h0M967.1 1139h0M967.2 1130.1h0M967.4 1129.3h0M967.6 1131.4h0M968.1 1121.2h0M968.2 1131.6h0M968.4 1121.5h0M968.8 1128.3h0M969.1 1124.6h0M969.3 1136.1h0M969.4 1120.9h0M969.8 1129.1h0M969.9 1136h0M970.3 1133.7h0M970.4 1125.9h0M970.6 1132.7h0M971 1133.2h0M971.3 1130.5h0M971.6 1125.3h0M971.6 1125.9h0M971.9 1133.3h0M972.3 1127.1h0M972.5 1137.7h0M972.8 1125.8h0M973 1132.6h0M973.2 1134.2h0M973.5 1120.2h0M973.8 1135.5h0M973.9 1136.2h0M974.1 1132.4h0M974.6 1138.1h0M974.7 1128.2h0M974.9 1131h0M975.3 1130.6h0M975.5 1129.9h0M975.8 1135.3h0M976 1128.4h0M976.3 1127.3h0M976.5 1130.3h0M976.8 1138.1h0M976.9 1126.4h0M977.2 1127h0M977.5 1127.9h0M977.7 1120.5h0M978 1125h0M978.1 1127.5h0M978.5 1135.7h0M978.8 1123.8h0M979.1 1129.6h0M979.2 1128.5h0M979.4 1131.5h0M979.7 1127.3h0M980 1130.2h0M980.2 1127.4h0M980.4 1132.9h0M980.7 1128.3h0M981.1 1131.9h0M981.3 1136.4h0M981.6 1131.7h0M981.8 1136.2h0M982.1 1129.8h0M982.2 1120.4h0M982.5 1127h0M982.7 1125.3h0M983 1128.8h0M983.2 1133.4h0M983.5 1117.8h0M983.6 1125.8h0M984.1 1122.9h0M984.3 1128.4h0M984.5 1137.1h0M984.6 1133.4h0M984.9 1127.1h0M985.1 1122.8h0M985.4 1122.6h0M991.1 1136.7h0M991.3 1139.6h0M991.6 1133.1h0M992 1131.7h0M992.2 1133.5h0M992.3 1140h0M992.7 1134.3h0M992.9 1128.3h0M993.1 1133.3h0M993.5 1135.7h0M993.7 1139.4h0M993.8 1136.1h0M994.1 1135.3h0M994.4 1147.1h0M994.6 1142.1h0M994.9 1137.5h0M995 1135.4h0M995.5 1133.5h0M995.6 1129.7h0M995.8 1136.7h0M996 1132.1h0M996.4 1140.1h0M996.7 1135.8h0M996.8 1139.3h0M997 1136.4h0M997.3 1143.2h0M997.6 1134.5h0M997.9 1133.2h0M998.1 1131h0M998.3 1136h0M998.7 1139.5h0M998.9 1139.7h0M999.1 1136.1h0M999.4 1134.1h0M999.5 1133.7h0M999.8 1137h0M1000 1128.7h0M1000.5 1145.6h0M1000.6 1136.6h0M1000.8 1140.5h0M1001.1 1139h0M1001.5 1144.8h0M1001.6 1133.4h0M1001.9 1135.1h0M1002.1 1140.4h0M1002.4 1139.4h0M1002.5 1137h0M1003 1138.5h0M1003.2 1145.4h0M1003.3 1131.5h0M1003.6 1133.2h0M1003.8 1133.9h0M1004.1 1142.1h0M1004.4 1135.7h0M1004.6 1134.9h0M1005 1128.1h0M1005.2 1137.3h0M1005.3 1131.5h0M1005.5 1140.8h0M1005.9 1129.2h0M1006.1 1127.6h0M1006.3 1140.6h0M1006.6 1134.7h0M1006.9 1140.4h0M1007.2 1137.9h0M1007.4 1139.7h0M1007.5 1132.2h0M1007.9 1134.7h0M1008 1135.6h0M1008.5 1139.1h0M1008.6 1133.4h0M1008.9 1139.1h0M1009.2 1133.9h0M1009.5 1129.8h0M1009.6 1128.5h0M1009.8 1137h0M1010 1129.1h0M1010.4 1134.8h0M1010.7 1124.8h0M1010.9 1138.7h0M1011.2 1138.5h0M1011.4 1124.9h0M1011.6 1131.1h0M1011.8 1134.7h0M1012.1 1141.6h0M1012.3 1134h0M1012.7 1133h0M1012.8 1139.5h0M1013.2 1143.1h0M1013.4 1145.6h0M1013.7 1136.1h0M1013.8 1139.2h0M1014.2 1131.5h0M1014.4 1143.4h0M1014.6 1130.1h0M1014.8 1137.2h0M1015.2 1138.3h0M1015.4 1142.8h0M1015.6 1134.2h0M1015.8 1144.7h0M1016.1 1139.5h0M1016.3 1133h0M1016.5 1137.2h0M1016.9 1138.4h0M1017.2 1143.9h0M1017.5 1137.3h0M1017.6 1141.7h0M1017.9 1139.2h0M1018.2 1139.6h0M1018.4 1141.4h0M1018.5 1129.4h0M1019 1136.3h0M1019.1 1132.2h0M1019.5 1137.4h0M1019.6 1135.9h0M1019.9 1138.9h0M1020.1 1142.1h0M1020.3 1144.4h0M1020.6 1138.2h0M1020.9 1142.6h0M1021.1 1136.8h0M1021.4 1136.6h0M1021.6 1136.9h0M1021.9 1135.4h0M1022 1137.8h0M1022.3 1139.1h0M1022.7 1140.5h0M1022.8 1143.5h0M1023 1138.2h0M1023.3 1140.7h0M1023.5 1133.1h0M1023.8 1139.7h0M1024 1129.9h0M1024.3 1133.4h0M1024.7 1132.1h0M1024.9 1138.2h0M1025.2 1139.5h0M1025.3 1139.2h0M1025.5 1132.6h0M1025.9 1144h0M1026.1 1132.7h0M1026.4 1138.8h0M1026.7 1135.8h0M1027 1131.7h0M1027.1 1142.6h0M1027.4 1145h0M1027.7 1142.9h0M1027.9 1140.1h0M1028.1 1141.7h0M1028.3 1142.1h0M1028.6 1140.7h0M1028.9 1138.8h0M1029.2 1138.1h0M1029.4 1129.3h0M1029.6 1139.1h0M1029.8 1146h0M1030.2 1137.6h0M1030.3 1142.8h0M1030.7 1139.9h0M1030.9 1135.2h0M1031 1136.9h0M1031.4 1134.5h0M1031.5 1140.6h0M1032 1139.1h0M1041.2 1130.2h0M1041.4 1120.9h0M1041.6 1124h0M1041.9 1126.3h0M1042 1130.1h0M1042.3 1126.5h0M1042.5 1135.9h0M1043 1128.4h0M1043 1125h0M1043.4 1135.3h0M1043.5 1128.1h0M1043.9 1125.2h0M1044.2 1128h0M1044.4 1125.3h0M1044.5 1129.5h0M1045 1133.7h0M1045.2 1125.6h0M1045.3 1130.6h0M1045.5 1133h0M1046 1129h0M1046 1124.7h0M1046.4 1130.2h0M1046.6 1126.1h0M1046.9 1127.6h0M1047.2 1128h0M1047.3 1128.6h0M1047.6 1131.9h0M1047.8 1133.6h0M1048.2 1129.1h0M1048.3 1124.9h0M1048.6 1120h0M1048.8 1127.8h0M1049 1125h0M1049.5 1124.8h0M1049.5 1124.2h0M1049.9 1123.7h0M1050.2 1123.3h0M1050.4 1129.3h0M1050.6 1119.1h0M1051 1133.1h0M1051.1 1131.1h0M1051.5 1131.9h0M1051.6 1121.7h0M1052 1130.7h0M1052.1 1117.2h0M1052.4 1133.4h0M1052.6 1127.7h0M1052.9 1123.2h0M1053.2 1128.3h0M1053.4 1132h0M1053.5 1123h0M1053.9 1132.1h0M1054.1 1121.7h0M1054.4 1130.2h0M1054.6 1118.4h0M1054.8 1126.6h0M1055.2 1126.2h0M1055.4 1135.9h0M1055.7 1130.4h0M1055.9 1133.9h0M1056.1 1128.2h0M1056.4 1129.6h0M1056.5 1127.8h0M1057 1127.6h0M1057.2 1128.6h0M1057.5 1124.5h0M1057.6 1119.7h0M1057.9 1124.8h0M1058.2 1125.8h0M1058.4 1126h0M1058.6 1127h0M1058.8 1125.3h0M1059.1 1128.2h0M1059.4 1127.4h0M1059.5 1124.1h0M1059.8 1130h0M1060.2 1128.2h0M1060.3 1121.1h0M1060.5 1122.5h0M1060.9 1134.7h0M1061.1 1139.8h0M1061.4 1135.5h0M1061.6 1134.2h0M1062 1136.4h0M1062.2 1129.7h0M1062.3 1121.6h0M1062.5 1130.3h0M1062.8 1132.2h0M1063.1 1128.9h0M1063.4 1132h0M1063.7 1118.5h0M1063.9 1127.1h0M1064.1 1133.8h0M1064.4 1139.9h0M1064.5 1126.1h0M1064.8 1122h0M1065 1133.3h0M1065.3 1129.1h0M1065.6 1121.3h0M1066 1130.7h0M1066.2 1130.1h0M1066.4 1126.1h0M1066.6 1124.8h0M1066.9 1130.2h0M1067.2 1123.3h0M1067.3 1126.9h0M1067.7 1126.2h0M1067.9 1135.7h0M1068 1130h0M1068.3 1127.4h0M1068.7 1133.7h0M1068.8 1132.5h0M1069.1 1127.5h0M1069.5 1136.5h0M1069.7 1134.6h0M1069.9 1130.9h0M1070.1 1127h0M1070.4 1135.1h0M1070.6 1139.8h0M1070.8 1129.1h0M1071 1130h0M1071.3 1128.8h0M1071.7 1127.4h0M1071.8 1118.3h0M1072.2 1133h0M1072.4 1129.1h0M1072.7 1125.4h0M1072.8 1134h0M1073.2 1132.7h0M1073.3 1136.2h0M1073.6 1130h0M1074 1121h0M1074.2 1129.5h0M1074.3 1130.1h0M1074.7 1131.2h0M1074.8 1125.7h0M1084.1 1134.4h0M1084.5 1122.9h0M1084.6 1124.8h0M1084.8 1126.6h0M1085.2 1134h0M1085.4 1139.1h0M1085.6 1132.6h0M1085.9 1122.3h0M1086.1 1132.2h0M1086.4 1140.8h0M1086.7 1132.8h0M1086.9 1133.2h0M1087.1 1138.3h0M1087.3 1125.4h0M1087.7 1129.4h0M1087.9 1131.8h0M1088 1121.3h0M1088.4 1125.5h0M1088.6 1129.7h0M1088.8 1135.1h0M1089.2 1124.8h0M1089.4 1124.7h0M1089.6 1129.1h0M1089.9 1134.2h0M1090.2 1130.6h0M1090.3 1132h0M1090.6 1127.8h0M1090.8 1133.9h0M1091.2 1133h0M1091.4 1132.3h0M1091.6 1122.3h0M1091.9 1127.2h0M1092.2 1135.5h0M1092.4 1132.9h0M1092.5 1123.9h0M1093 1123.6h0M1093.2 1130.1h0M1093.3 1136.3h0M1093.6 1138.6h0M1093.8 1135.9h0M1094.1 1129.8h0M1094.3 1126.5h0M1094.6 1120.7h0M1094.9 1130.8h0M1095 1127.9h0M1095.4 1128h0M1095.7 1131.4h0M1095.8 1134.8h0M1096.1 1131.1h0M1096.3 1129.8h0M1096.6 1125.3h0M1096.8 1132.9h0M1097 1142.3h0M1097.4 1140.2h0M1097.6 1135.8h0M1097.8 1135.5h0M1098.2 1130.2h0M1098.3 1123.8h0M1098.5 1140.5h0M1098.9 1123.5h0M1099 1134.5h0M1099.3 1132.9h0M1099.6 1133.3h0M1100 1137.6h0M1100.2 1141.8h0M1100.3 1138.8h0M1100.5 1132.3h0M1100.8 1133.5h0M1101.1 1128h0M1101.4 1131.4h0M1101.6 1129h0M1101.9 1127.9h0M1102.1 1132.2h0M1102.3 1136h0M1102.7 1130.5h0M1102.9 1130.5h0M1103 1138.3h0M1103.4 1121.8h0M1103.7 1124.6h0M1103.9 1130h0M1104.2 1133h0M1104.3 1131.2h0M1104.6 1132.6h0M1104.9 1123h0M1105.1 1132.7h0M1105.4 1135.3h0M1105.5 1130.6h0M1105.9 1135.5h0M1106.2 1124.4h0M1106.5 1130h0M1106.5 1119.5h0M1107 1130.2h0M1107.1 1128.3h0M1107.3 1134.3h0M1107.6 1127.6h0M1108 1130.3h0M1108.2 1129.5h0M1108.5 1132.2h0M1108.6 1124h0M1109 1120.8h0M1109.1 1126h0M1109.3 1127.6h0M1109.5 1128.2h0M1110 1125h0M1110.1 1133.4h0M1110.3 1123.3h0M1110.7 1120h0M1111 1135.4h0M1111.1 1136.1h0M1111.3 1122.9h0M1111.6 1131.8h0M1111.9 1137.1h0M1112.1 1132.3h0M1112.4 1132.6h0M1112.7 1123.9h0M1112.9 1122.4h0M1113.1 1126.5h0M1113.4 1124h0M1113.7 1129.8h0M1113.9 1130.6h0M1114.2 1140.8h0M1114.4 1122.7h0M1114.7 1132.1h0M1114.9 1133.3h0M1115.1 1129.4h0M1115.4 1131.9h0M1115.5 1125.5h0M1115.9 1132.1h0M1116.6 1134.8h0M1117 1132.6h0M1117.3 1137.9h0M1117.5 1130.8h0M1117.8 1129.2h0M1118 1123.9h0M1118.2 1120.1h0M1118.5 1134.3h0M1118.7 1134.6h0M1118.9 1127.3h0M1119.3 1127h0M1119.4 1135.8h0M1119.7 1140.6h0M1119.9 1135.8h0M1120.2 1126.8h0M1120.6 1123.3h0M1120.8 1127.2h0M1121 1131.4h0M1121.3 1129.3h0M1121.4 1124.9h0M1121.6 1128.3h0M1122 1133.8h0M1122.2 1135.9h0M1122.4 1126.3h0M1122.7 1128.5h0M1122.9 1135.9h0M1123.1 1123.1h0M1123.4 1128.1h0M1123.8 1137.9h0M1124 1129.6h0M1124.1 1129.2h0M1124.4 1128.5h0M1124.7 1128.1h0M1124.9 1127.4h0M1125.3 1129.1h0M1125.3 1131.6h0M1125.6 1133.7h0M1125.9 1137.4h0M1126.1 1131.7h0M1126.4 1131.8h0M1126.7 1128.9h0M1127 1123.5h0M1127.3 1130.4h0M1127.4 1137.3h0M1127.7 1135.8h0M1128 1138.4h0M1128.1 1127.9h0M1128.4 1135.5h0M1128.7 1125.5h0M1129 1127.1h0M1129.1 1136.9h0M1129.5 1138.2h0M1129.8 1141.8h0M1129.9 1122.9h0M1130.1 1124.9h0M1130.4 1128.3h0M1130.8 1129.8h0M1131 1123.1h0M1131.3 1126.6h0M1131.5 1130.3h0M1131.6 1135.8h0M1132 1140.3h0M1132.2 1128.6h0M1132.5 1127.5h0M1132.6 1130.4h0M1132.9 1127.9h0M1133.3 1126.2h0M1133.4 1121.8h0M1133.7 1135.8h0M1133.8 1134.3h0M1134.2 1126.6h0M1134.5 1129.4h0M1134.6 1126.3h0M1135 1126.9h0M1135.2 1130.5h0M1135.4 1133.9h0M1135.7 1134.3h0M1136 1133.6h0M1136.2 1134h0M1136.4 1127.4h0M1136.7 1132.1h0M1137 1129h0M1137.3 1131.3h0M1137.4 1123.9h0M1137.7 1119.7h0M1138 1127.3h0M1138.1 1136.2h0M1138.4 1126.3h0M1138.7 1128.5h0M1138.8 1132.2h0M1139.1 1128.1h0M1139.4 1136.2h0M1139.6 1130.7h0M1140 1137.7h0M1140.2 1126.7h0M1140.5 1123.5h0M1140.7 1122.3h0M1140.9 1129.6h0M1141.1 1134.1h0M1141.5 1128h0M1141.6 1120.6h0M1141.8 1136.1h0M1142.1 1135.5h0M1142.4 1137h0M1142.6 1134.9h0M1143 1131.1h0M1143 1129.4h0M1143.5 1125h0M1143.6 1134.6h0M1144 1124.8h0M1144.1 1130.6h0M1144.5 1126.5h0M1144.5 1129.3h0M1145 1128h0M1153.7 1138.3h0M1153.9 1125.1h0M1154.1 1127.6h0M1154.4 1126.6h0M1154.6 1124.7h0M1154.8 1132h0M1155 1135h0M1155.4 1142.6h0M1155.7 1138.2h0M1156 1127.6h0M1156.1 1136.1h0M1156.3 1132.5h0M1156.7 1130.3h0M1156.9 1138.8h0M1157 1127.6h0M1157.3 1127h0M1157.7 1129.6h0M1157.8 1130.3h0M1158.2 1138.6h0M1158.5 1124.3h0M1158.6 1131.7h0M1159 1127.8h0M1159.1 1134.9h0M1159.3 1128.7h0M1159.6 1130.6h0M1159.8 1131.5h0M1160.1 1135.2h0M1160.3 1130.6h0M1160.6 1130.7h0M1160.8 1129.7h0M1161 1132.7h0M1161.3 1121.5h0M1161.8 1131.9h0M1162 1123.4h0M1162.1 1136.5h0M1162.5 1132h0M1162.6 1125.5h0M1162.8 1126.4h0M1163.1 1118.1h0M1163.4 1122.8h0M1163.7 1127.4h0M1163.8 1129.4h0M1164.1 1130.9h0M1164.5 1130.9h0M1164.5 1132h0M1165 1125.4h0M1165.2 1139.4h0M1165.5 1139.3h0M1165.7 1129.6h0M1165.9 1128.6h0M1166.2 1134.5h0M1166.5 1139h0M1166.6 1131.9h0M1166.8 1131.1h0M1167.3 1118h0M1167.5 1127.2h0M1167.6 1130.2h0M1168 1132.4h0M1168.3 1124.2h0M1168.4 1131.5h0M1168.8 1129.1h0M1169 1131.9h0M1169.1 1127h0M1169.4 1134.4h0M1169.6 1132.1h0M1169.9 1134h0M1170.2 1136.5h0M1170.5 1137.5h0M1170.6 1133.2h0M1170.9 1130.8h0M1171.3 1130.4h0M1171.4 1134.7h0M1171.7 1134.7h0M1172 1134.6h0M1172.1 1134.1h0M1172.4 1132.2h0M1172.7 1139.7h0M1173 1134.7h0M1173.1 1128.9h0M1173.5 1142.2h0M1173.6 1126.9h0M1174 1128.6h0M1174.2 1127.1h0M1174.3 1129.3h0M1174.8 1129.1h0M1175 1133.3h0M1175.1 1130.5h0M1175.3 1142.1h0M1175.6 1135.3h0M1176 1135.2h0M1176.1 1125.5h0M1176.4 1123.3h0M1176.6 1135.2h0M1176.9 1128.8h0M1177.1 1131.6h0M1177.5 1140.8h0M1177.8 1137.6h0M1177.9 1133.2h0M1178.1 1134.2h0M1178.6 1134.9h0M1178.6 1126.1h0M1178.9 1131.6h0M1179.3 1131.3h0M1179.4 1130.8h0M1179.6 1136.6h0M1179.9 1136.7h0M1180.2 1139.7h0M1180.4 1131.5h0M1180.7 1130.2h0M1180.9 1134.4h0M1181.2 1122.6h0M1181.4 1129.9h0M1181.7 1134.4h0M1182.1 1138.1h0M1182.2 1125.2h0M1182.4 1141h0M1182.7 1136.8h0M1182.9 1136.8h0M1183.2 1130.4h0M1183.4 1129.6h0M1183.8 1129.8h0M1184 1134.7h0M1184.3 1130.3h0M1184.6 1134.7h0M1184.8 1133.7h0M1185 1133.5h0M1185.3 1133.8h0M1185.4 1129.1h0M1185.7 1125.5h0M1186 1132h0M1186.2 1140.5h0M1186.6 1128.9h0M1186.8 1130.8h0M1187 1127.9h0M1187.1 1131.3h0M1187.4 1133.8h0M1187.7 1126.7h0M1188.1 1122.1h0M1188.4 1125.9h0M1188.4 1129.9h0M1188.7 1128.8h0M1189 1128.4h0M1189.2 1124.4h0M1189.6 1125.9h0M1189.8 1121.1h0M1190 1129.6h0M1190.4 1121.8h0M1190.5 1130.9h0M1190.7 1128.3h0M1191 1131h0M1191.2 1133h0M1191.4 1140h0M1191.7 1132.9h0M1191.9 1128.8h0M1192.2 1135.4h0M1192.4 1123.7h0M1192.7 1134.5h0M1193.1 1132.6h0M1193.1 1134.5h0M1193.5 1124h0M1193.7 1126.6h0M1194.1 1124.5h0M1194.2 1132.5h0M1194.4 1134h0M1194.7 1124.8h0M1195.1 1125.7h0M1195.3 1130.7h0M1195.5 1127.4h0M1195.8 1130.3h0M1195.9 1123.9h0M1196.3 1125.7h0M1196.6 1125.4h0M1196.6 1122.6h0M1197 1128.7h0M1197.4 1134.1h0M1197.5 1133.1h0M1197.6 1133h0M1198.1 1130.5h0M1198.3 1134.8h0M1198.6 1130.9h0M1198.9 1128.2h0M1199.1 1135.3h0M1199.3 1124.8h0M1199.5 1133.2h0M1199.7 1132.3h0M1200 1130.9h0M1200.2 1131.7h0M1200.5 1131.5h0M1200.8 1124.1h0M1201 1126.3h0M1201.4 1134.5h0M1201.6 1122.7h0M1201.8 1122.2h0M1202.1 1119.5h0M1202.4 1130.3h0M1202.4 1128.7h0M1202.8 1123.3h0M1203.1 1127.7h0M1203.4 1124.6h0M1203.6 1128.7h0M1203.7 1126.2h0M1203.9 1130.5h0M1204.3 1123.8h0M1204.5 1131.6h0M1204.7 1138.9h0M1205 1129.2h0M1205.4 1127.9h0M1205.5 1132.6h0M1205.7 1134.1h0M1205.9 1127.3h0M1206.3 1127.6h0M1206.5 1134.9h0M1206.8 1129h0M1207.1 1137.8h0M1207.2 1132.3h0M1207.6 1136.9h0M1207.9 1121.4h0M1208 1138h0M1208.2 1127.8h0M1208.5 1125.6h0M1208.8 1129.6h0M1209 1137.2h0M1209.4 1136.2h0M1209.6 1128.7h0M1209.8 1126h0M1210.1 1132.1h0M1210.2 1130.4h0M1210.7 1136.1h0M1210.8 1126.5h0M1211.2 1122.2h0M1211.3 1130.9h0M1211.6 1133h0M1211.9 1139.5h0M1212.2 1139.5h0M1212.4 1131.3h0M1212.6 1127.4h0M1212.8 1131.2h0M1213 1135.3h0M1213.3 1126.5h0M1213.5 1142.5h0M1213.9 1130.2h0M1214 1128.1h0M1214.2 1130.5h0M1214.5 1132.8h0M1214.8 1126h0M1215 1122.6h0M1215.4 1126.7h0M1215.4 1131.5h0M1215.8 1127.6h0M1216 1134.4h0M1216.3 1134.5h0M1216.6 1137h0M1216.9 1127.1h0M1217.1 1137.4h0M1217.3 1138.1h0M1217.7 1126.5h0M1217.8 1134.1h0M1218.1 1131.2h0M1218.3 1128.1h0M1218.7 1135.2h0M1218.8 1133.9h0M1219.1 1131.9h0M1219.2 1138.8h0M1219.7 1127.5h0M1219.9 1130.8h0M1220.1 1130.5h0M1220.3 1124.9h0M1220.7 1120.2h0M1220.8 1121.8h0M1220.9 1119h0M1221.2 1132.3h0M1221.5 1134.8h0M1221.9 1137.4h0M1222.1 1130.2h0M1222.2 1124.4h0M1222.6 1135.9h0M1222.8 1125.1h0M1223 1122.8h0M1223.2 1142.7h0M1223.5 1126.1h0M1223.7 1125.3h0M1224 1132.2h0M1224.4 1130.1h0M1224.6 1132.1h0M1224.9 1132.6h0M1225.1 1124.7h0M1225.3 1123.6h0M1225.6 1131.3h0M1225.8 1134.9h0M1226.1 1131.8h0M1226.2 1128.5h0M1226.4 1131.1h0M1226.7 1134.3h0M1227.1 1144.3h0M1227.4 1137.2h0M1227.5 1128.5h0M1227.8 1143.8h0M1228 1130.4h0M1228.3 1139.8h0M1228.6 1130.1h0M1228.7 1129.3h0M1228.9 1121.4h0M1229.2 1130h0M1229.6 1130.7h0M1229.8 1126.8h0M1230 1127.3h0M1230.2 1133h0M1230.5 1137.1h0M1230.8 1142.4h0M1231 1133.1h0M1231.3 1138.4h0M1231.5 1132.3h0M1231.9 1135.8h0M1231.9 1132.4h0M1232.2 1132.3h0M1232.6 1127.1h0M1232.7 1138.9h0M1233 1134.1h0M1233.3 1131.5h0M1233.4 1139.7h0M1233.6 1122.9h0M1234 1141.9h0M1234.3 1136h0M1234.6 1122.9h0M1234.7 1127.6h0M1235 1129.7h0M1235.1 1127.2h0M1235.5 1119h0M1235.8 1126.2h0M1236 1132.6h0M1236.4 1133.7h0M1236.4 1127h0M1236.8 1131.2h0M1237 1139.7h0M1237.3 1132.3h0M1237.4 1130.1h0M1237.7 1132.8h0M1238 1128.6h0M1238.3 1128.5h0M1238.5 1144.9h0M1238.9 1131.4h0M1239.1 1143.5h0M1239.2 1132.9h0M1239.4 1137.6h0M1239.8 1129.5h0M1239.9 1132.6h0M1240.2 1124.5h0M1240.4 1130h0M1240.8 1138.4h0M1241 1142.2h0M1241.1 1132.5h0M1241.5 1129h0M1241.8 1132.9h0M1242 1131.3h0M1242.1 1128h0M1242.4 1132.5h0M1242.6 1142.8h0M1242.9 1128.6h0M1243.1 1132.6h0M1243.5 1137.3h0M1243.8 1131.4h0M1244.1 1128.2h0M1244.3 1124.7h0M1244.5 1123.6h0M1244.8 1129.2h0M1244.9 1136.1h0M1245.2 1129.3h0M1245.4 1124.8h0M1245.8 1134.5h0M1246 1125.1h0M1246.2 1130.2h0M1246.5 1129.4h0M1246.9 1121.4h0M1247.1 1135.5h0M1247.2 1143.3h0M1247.4 1133.4h0M1247.8 1141.3h0M1248 1135.2h0M1248.3 1135.3h0M1248.5 1130.6h0M1248.8 1128.4h0M1249 1129.8h0M1249.1 1139.5h0M1249.6 1133.4h0M1249.6 1133.5h0M1249.9 1134.3h0M1250.2 1134.8h0M1250.4 1133.3h0M1250.7 1134.9h0M1251 1128.8h0M1251.3 1132.6h0M1251.4 1135.5h0M1251.7 1129.7h0M1252.1 1131h0M1252.2 1134.1h0M1252.4 1137.9h0M1252.7 1119.8h0M1253.1 1129.9h0M1253.3 1122.9h0M1253.5 1132h0M1253.8 1136.7h0M1253.9 1136.6h0M1254.3 1132.6h0M1254.6 1127.7h0M1254.6 1132.1h0M1255 1129.2h0M1255.3 1138.4h0M1255.4 1127h0M1255.7 1130.8h0M1256 1129h0M1256.2 1127.3h0M1256.6 1127.2h0M1256.7 1133.1h0M1256.9 1126.9h0M1257.2 1129h0M1257.5 1119.4h0M1257.8 1129.2h0M1257.9 1128.9h0M1258.2 1124.9h0M1258.5 1132h0M1258.9 1121.2h0M1259 1129.7h0M1259.3 1135.6h0M1259.5 1126.6h0M1259.8 1127.3h0M1259.9 1132.2h0M1260.1 1125.1h0M1260.6 1128.6h0M1260.8 1128.5h0M1261.1 1129.8h0M1261.3 1129.1h0M1261.5 1136.6h0M1261.7 1128.6h0M1262 1130.5h0M1262.2 1129.7h0M1262.4 1125.2h0M1262.7 1135h0M1262.9 1126.2h0M1263.3 1129.1h0M1263.5 1130.3h0M1263.6 1125h0M1264.1 1127.5h0M1264.2 1119.3h0M1264.5 1120.8h0M1264.7 1127.8h0M1265.1 1127.5h0M1265.3 1132.9h0M1265.5 1122.7h0M1265.7 1139.4h0M1266 1126.8h0M1266.4 1126.4h0M1266.6 1120.4h0M1266.7 1126.7h0M1267 1125.6h0M1267.2 1127.4h0M1267.5 1121.8h0M1267.8 1116.6h0M1267.9 1119.9h0M1268.4 1128h0M1268.6 1127.1h0M1268.7 1131h0M1269 1125h0M1269.3 1129.7h0M1269.6 1133.7h0M1269.9 1132.3h0M1275 1138.4h0M1275.3 1133.6h0M1275.6 1129h0M1275.8 1134.7h0M1276.1 1132.5h0M1276.3 1134.6h0M1276.7 1129.2h0M1276.8 1134.2h0M1277.2 1142h0M1277.3 1130.8h0M1277.7 1131.9h0M1277.9 1135.5h0M1278 1129.5h0M1278.3 1133.2h0M1278.6 1136.5h0M1279 1131.9h0M1279 1137.7h0M1279.5 1131.1h0M1279.6 1131.5h0M1279.9 1130.9h0M1280.2 1132.1h0M1280.3 1131.8h0M1280.7 1127.5h0M1280.9 1141.7h0M1281.2 1126.4h0M1281.4 1135.3h0M1281.6 1128.7h0M1281.8 1127h0M1282 1132.7h0M1282.5 1123.4h0M1282.6 1135.6h0M1282.9 1136.6h0M1283.1 1134.1h0M1283.3 1136.1h0M1283.7 1123.2h0M1283.9 1137.7h0M1284 1129.3h0M1284.3 1127.6h0M1284.7 1134.4h0M1284.9 1133.7h0M1285.2 1123.6h0M1285.4 1130h0M1285.6 1130.6h0M1285.8 1136.2h0M1286.2 1122.6h0M1286.4 1135.2h0M1286.6 1137.6h0M1286.9 1129.4h0M1287.1 1125.6h0M1287.4 1128.2h0M1287.7 1121.2h0M1287.8 1128h0M1288 1125.1h0M1288.3 1133.7h0M1292.1 1132.3h0M1292.3 1124.3h0M1292.7 1131.7h0M1292.8 1126.9h0M1293.1 1130.7h0M1293.3 1137h0M1293.6 1129.5h0M1293.8 1124.8h0M1294.1 1135.4h0M1294.4 1137.3h0M1294.7 1134.3h0M1294.9 1128.8h0M1295.2 1126.5h0M1295.5 1129.3h0M1295.6 1126h0M1296 1124.8h0M1296.2 1132h0M1296.3 1135.4h0M1296.5 1136.8h0M1296.8 1138.2h0M1297.1 1137.5h0M1297.5 1126.5h0M1297.6 1127h0M1297.8 1140.6h0M1298.1 1126.1h0M1298.5 1139.9h0M1298.6 1133h0M1298.8 1132.4h0M1299.1 1134.1h0M1299.3 1129.4h0M1299.6 1133.8h0M1299.8 1135.1h0M1300.3 1134.6h0M1300.5 1143.7h0M1300.6 1132.2h0M1300.9 1123.4h0M1301.3 1127.1h0M1301.4 1136.7h0M1301.8 1133h0M1301.9 1134.9h0M1302.1 1140.1h0M1302.5 1124.1h0M1302.8 1133.1h0M1302.8 1135.2h0M1303.1 1130.9h0M1303.5 1134h0M1303.7 1140.8h0M1303.9 1135.7h0M1304.1 1139.1h0M1304.5 1134.7h0M1304.7 1133.6h0M1305 1134.8h0M1305.1 1136.8h0M1305.3 1126.7h0M1305.8 1139.5h0M1306 1139.9h0M1306.1 1134h0M1306.5 1127.5h0M1306.6 1138.9h0M1306.9 1132.8h0M1307.3 1129.9h0M1307.4 1140.6h0M1307.7 1129.2h0M1308 1134.6h0M1308.3 1133.7h0M1308.4 1130.4h0M1311.1 1133h0M1311.3 1134.3h0M1311.6 1123.6h0M1311.8 1126.3h0M1312.1 1132.4h0M1312.4 1130.6h0M1312.7 1129.6h0M1312.8 1136.8h0M1313.2 1136.7h0M1313.5 1134.1h0M1313.7 1130.8h0M1313.9 1127.7h0M1314 1128.5h0M1314.4 1132.7h0M1314.7 1132.2h0M1314.9 1131.2h0M1315.2 1127.2h0M1315.3 1130.4h0M1315.7 1135.9h0M1315.9 1132.4h0M1316.1 1134.8h0M1316.4 1127.2h0M1316.6 1122.8h0M1316.9 1131.9h0M1317.2 1127.4h0M1317.3 1130.1h0M1317.6 1129.1h0M1317.9 1126.7h0M1318.1 1125.1h0M1318.5 1128.8h0M1318.6 1126.8h0M1318.9 1123.7h0M1319 1123.4h0M1319.4 1124.3h0M1319.7 1124.6h0M1319.8 1129.2h0M1320.2 1127.1h0M1320.3 1126.2h0M1320.5 1126.3h0M1320.9 1121.1h0M1321.1 1131.8h0M1321.3 1129.1h0M1321.6 1126.3h0M1321.8 1129h0M1322 1120.1h0M1322.4 1128.3h0M1322.7 1128h0M1322.9 1119.4h0M1323.1 1125.7h0M1323.5 1126.4h0M1323.7 1134.2h0M1323.8 1124.4h0M1324.1 1128.1h0M1324.3 1120.6h0M1324.5 1132h0M1324.8 1123.9h0M1325 1124.7h0M1325.3 1123.2h0M1325.7 1133.3h0M1325.9 1120.7h0M1326 1130h0M1326.3 1129.1h0M1326.7 1122h0M1326.9 1127.9h0M1327.2 1126.8h0M1327.4 1123.1h0M1327.6 1128.5h0M1327.9 1130.3h0M1328 1128.8h0M1328.3 1130.3h0M1328.5 1127.5h0M1328.9 1126.2h0M1329.2 1128h0M1329.5 1131.9h0M1329.6 1129h0M1329.9 1129.2h0M1330.2 1123.4h0M1330.4 1124.7h0M1330.5 1122.5h0M1330.9 1119h0M1331.1 1135.2h0M1331.3 1124.9h0M1331.6 1120.2h0M1331.9 1117.5h0M1332 1132.4h0M1332.5 1122.3h0M1332.7 1127.8h0M1332.8 1132h0M1333.1 1125.9h0M1333.3 1130.7h0M1333.7 1125h0M1333.9 1123.2h0M1334.1 1128.4h0M1334.3 1122.5h0M1334.7 1129.4h0M1335 1118.6h0M1335.1 1123.2h0M1335.5 1117.8h0M1335.5 1123.1h0M1335.8 1127.2h0M1336 1123.4h0M1336.3 1130.4h0M1336.7 1128.9h0M1336.8 1128.3h0M1337 1120.4h0M1337.3 1123.1h0M1337.6 1124.3h0M1337.9 1124.4h0M1338 1128.5h0M1338.4 1127.3h0M1338.6 1129.7h0M1338.8 1132.3h0M1339.2 1123.4h0M1339.3 1133.1h0M1339.6 1132.1h0M1339.9 1127.5h0M1340 1126.8h0M1340.3 1126.4h0M1340.7 1123.1h0M1341 1131.7h0M1341.2 1130.7h0M1341.3 1138.6h0M1341.6 1129.6h0M1341.9 1133.5h0M1342.2 1128.1h0M1342.3 1125h0M1342.7 1129.1h0M1343 1131.7h0M1343.2 1134h0M1343.3 1131.1h0M1343.6 1133.5h0M1344 1129.6h0M1344.2 1127.4h0M1344.3 1129.7h0M1344.5 1131.5h0M1344.9 1126.3h0M1345.2 1128.5h0M1345.3 1122.3h0M1345.6 1128.1h0M1345.9 1136.3h0M1346.2 1134.7h0M1346.3 1126.8h0M1346.6 1127.1h0M1347 1128h0M1347 1132.9h0M1347.4 1128.2h0M1347.5 1129.2h0M1347.8 1129h0M1348.2 1136.3h0M1348.4 1133.7h0M1348.6 1128.9h0M1348.9 1121.4h0M1349 1129.1h0M1349.4 1130h0M1349.6 1122.3h0M1350 1124.9h0M1350.1 1125.5h0M1350.4 1125.2h0M1350.7 1124.2h0M1351 1126.9h0M1351.2 1129.5h0M1351.3 1130h0M1351.6 1133.2h0M1351.9 1134.7h0M1352.1 1126.9h0M1352.3 1124.5h0M1352.6 1132.4h0M1352.8 1129.6h0M1353.2 1132.2h0M1353.4 1124.8h0M1353.7 1131.4h0M1353.9 1127.6h0M1354.2 1130.1h0M1354.5 1126.2h0M1354.6 1125.3h0M1354.9 1130.6h0M1355.1 1127.2h0M1355.4 1127.8h0M1355.6 1128.5h0M1356 1128.1h0M1356.2 1123.7h0M1356.5 1129.8h0M1356.6 1134.2h0M1356.9 1131h0M1357.1 1127.6h0M1357.3 1128.6h0M1357.7 1125.6h0M1358 1132.4h0M1358.2 1127.2h0M1358.5 1131.3h0M1358.7 1126.8h0M1358.8 1129.9h0M1359.2 1127.4h0M1359.4 1127.1h0M1359.7 1130.6h0M1359.8 1135.8h0M1360.2 1119.7h0M1360.4 1126.8h0M1360.6 1125.1h0M1360.9 1129.9h0M1361 1119.4h0M1361.4 1128.4h0M1361.7 1127.7h0M1361.8 1126.6h0M1362.2 1127.8h0M1362.3 1129.6h0M1362.6 1128.7h0M1362.9 1125.8h0M1363.1 1119.5h0M1363.5 1130.4h0M1363.6 1129.3h0M1363.9 1124.2h0M665.6 1129.6h0M667.6 1129.1h0M669.3 1127.1h0M669.9 1135.5h0M671.7 1129.6h0M672.9 1129.5h0M723.9 1130.3h0M724.4 1120.6h0M725.1 1127.4h0M726.1 1120.2h0M727.4 1123h0M728 1125.3h0M729.2 1124.4h0M730.5 1123.6h0M149.4 1148.7h0M149.4 1201.5h0M167.6 1151.4h0M167.6 1168h0M300.5 1164.6h0M312 1147h0M315 1146h0M452.7 1184h0M868.8 1040h0M868.8 1048h0M1336 1060.7h0M1336 1069h0M1220 1163h0M1220 1169h0M1169 1177h0M1095 1147h0M1128 1150h0M151.8 1116.9h0M149 1121.7h0M153.4 1123h0M161.6 1109.2h0M173.7 1118.5h0M197.6 1119.9h0M208.1 1122.7h0M220.9 1111.7h0M238.7 1106.4h0M237.1 1116.7h0M244.2 1107.9h0M246.2 1102.1h0M245.3 1112.8h0M256 1113.7h0M253.7 1100.6h0M264.1 1117.5h0M259.4 1117.8h0M269.9 1120.5h0M279.3 1112.4h0M286.6 1108.6h0M281.8 1103.4h0M293.9 1114.3h0M294.3 1099h0M303.2 1119h0M303.6 1122.6h0M306.8 1113.5h0M306.9 1119.2h0M314.9 1108.2h0M316.4 1099.3h0M332.6 1103.7h0M340.6 1099.4h0M340.6 1118.8h0M347.8 1108.5h0M348.5 1122.9h0M355.9 1111.1h0M360.3 1105.5h0M360.4 1116.7h0M370.4 1102.1h0M377.8 1116.7h0M393 1114.8h0M394 1118h0M400.3 1111.9h0M404.8 1099.9h0M409.4 1098.5h0M414 1102.4h0M424.6 1112.4h0M423.9 1105h0M433.4 1112.6h0M446.6 1110h0M451.2 1104.8h0M457.5 1107.2h0M453.9 1123.3h0M463.1 1114.9h0M469.5 1111.6h0M473.5 1118.6h0M485.7 1104h0M488 1107.1h0M504.3 1122.7h0M506.2 1107.2h0M521.7 1117.8h0M530.2 1106.1h0M528.4 1112.9h0M532.2 1099.1h0M543.7 1117.1h0M547.8 1114h0M549.1 1116.2h0M557.4 1106.1h0M559.6 1122.2h0M569.3 1098.4h0M566.9 1108.3h0M572.8 1114.9h0M575 1104.9h0M583 1100.5h0M582.4 1098.3h0M589.5 1119.4h0M599.2 1103h0M598.5 1103.1h0M606 1115.6h0M608.9 1098.9h0M612.8 1101.3h0M616.8 1123.7h0M622.8 1100.6h0M795.4 1099.8h0M795.4 1108.1h0M801.6 1115.6h0M803.5 1117.8h0M818.7 1107.7h0M830.6 1114.6h0M832.8 1113.7h0M836.1 1107.1h0M845.1 1122.9h0M843.2 1106.5h0M852.4 1099.2h0M857.1 1116.8h0M859.3 1116.6h0M861.3 1105.6h0M862.9 1099.1h0M869.7 1109.1h0M873.8 1114.5h0M871.9 1111h0M877 1121.5h0M908.3 1102.9h0M915.8 1121.6h0M927.2 1120.3h0M942.9 1123.1h0M944.5 1119.3h0M945.4 1110.1h0M949 1099.4h0M958.3 1101.3h0M954.4 1119.9h0M963.2 1099.7h0M967 1108.6h0M973.8 1115.7h0M989.1 1107.5h0M989.8 1106.4h0M998 1106.1h0M998.3 1102.4h0M1017.4 1113.7h0M1018.1 1100.1h0M1027.9 1108.1h0M1036.4 1108.9h0M1038.3 1120h0M1048.6 1113.6h0M1064.9 1119.7h0M1063.8 1105.6h0M1078.3 1098.9h0M1087.5 1122.1h0M1088.6 1111h0M1099.7 1119.4h0M1113.3 1101h0M1119.8 1101.9h0M1131.7 1114.1h0M1137.3 1119.6h0M1132.8 1100.1h0M1139.8 1112.9h0M1145.6 1100.5h0M1151.4 1119.4h0M1162.1 1115.3h0M1159.5 1109h0M1169.6 1111.9h0M1176 1100.3h0M1180 1123.6h0M1194.3 1104.8h0M1190.4 1113.7h0M1197.1 1122.9h0M1202.3 1099.2h0M1205.6 1099.1h0M1202.6 1111.6h0M1216.5 1111.4h0M1216.2 1101.7h0M1225.6 1116.3h0M1236.3 1104.1h0M1240.7 1105.9h0M1247 1099.6h0M1247.7 1123.3h0M1253.2 1103.8h0M1260.1 1109.5h0M1258.1 1106.8h0M1266 1108.4h0M1265.8 1099.7h0M1273.7 1123h0M1274 1123.5h0M1282.1 1112.9h0M1284.3 1115.9h0M1289.8 1099.1h0M1298.3 1111.1h0M1296.5 1120h0M1303.8 1099.2h0M1304.1 1121.4h0M1316.6 1121.1h0M1318.3 1109.7h0M1323.9 1103.9h0M1332.5 1112.3h0M1341.3 1110.9h0M1342.3 1098.6h0M1348.1 1101.9h0M1356.9 1116.4h0M1354.4 1118.1h0" stroke="#0000ff" stroke-width="3.0" stroke-linecap="round" fill="none"/>
<path d="M343.3 1163.8h0M343.7 1170.3h0M344 1165h0M344.2 1162.7h0M344.6 1163h0M344.9 1166.2h0M344.9 1166.5h0M345.4 1165.5h0M345.7 1167.9h0M345.9 1167.5h0M346.2 1165.8h0M346.5 1166.5h0M346.6 1169.6h0M347.1 1165.8h0M347.2 1160.9h0M347.5 1166.2h0M347.9 1163h0M348.2 1170.9h0M348.5 1168.2h0M348.7 1162.7h0M349 1169.5h0M349.2 1167.8h0M349.5 1164.4h0M349.9 1166.8h0M350.2 1166.9h0M350.5 1161.6h0M544.1 1161.3h0M544.4 1172.6h0M544.7 1160.9h0M545.1 1164h0M545.3 1162.7h0M545.7 1168.9h0M546.1 1165.2h0M546.5 1161.8h0M546.7 1162.5h0M547.1 1167.8h0M547.3 1156.9h0M547.5 1160.7h0M548 1163.8h0M548.1 1166.4h0M548.5 1168.1h0M548.7 1163.3h0M549.1 1172.6h0M549.6 1166h0M549.7 1169.3h0M550 1164.1h0M550.4 1168.3h0M550.6 1163h0M551.2 1162.5h0M551.5 1165.1h0M551.7 1156.9h0M552 1165h0M552.2 1169.4h0M552.6 1160.8h0M553 1167.1h0M553.3 1164.9h0M553.7 1169h0M553.7 1167h0M574 1166.8h0M574.2 1159.7h0M574.5 1168.4h0M575 1165.3h0M575.2 1165.7h0M575.7 1175.1h0M576 1166.5h0M576.3 1165.5h0M576.6 1166.5h0M576.8 1165.4h0M577.1 1164.7h0M577.4 1165.2h0M577.6 1171.8h0M578.1 1172.5h0M578.3 1163.5h0M578.8 1171.7h0M579 1167.5h0M579.5 1160.7h0M579.6 1167.9h0M580.1 1166.2h0M580.2 1164.7h0M580.5 1163.7h0M581 1165.1h0M581.1 1171.9h0M581.6 1164.9h0M581.9 1162.2h0M706.8 1160.9h0M707.3 1157.2h0M707.5 1149.8h0M708.1 1161.7h0M708.8 1153.5h0M709.5 1156.1h0M709.6 1152.9h0M710.6 1155.3h0M710.7 1155.4h0M711.3 1164.2h0M712.1 1148.9h0M712.4 1153.5h0M713.2 1155.2h0M713.6 1152.7h0M714.2 1148.9h0M714.3 1152h0M715.1 1159h0M715.7 1155.5h0M716 1163.6h0M716.5 1158.2h0M717 1156.6h0M717.8 1155.4h0M717.8 1163.5h0M718.6 1164.1h0M719.1 1151.9h0M719.5 1159.5h0M720.2 1154.7h0M720.5 1160.1h0M721.2 1158.7h0M721.9 1157.5h0M722.2 1156.2h0M723 1158.4h0M709.3 1127.9h0M711.3 1127.2h0M711.5 1119.6h0M712.7 1143h0M714.7 1127.1h0M715.1 1133h0M716.3 1127.7h0M717.7 1125.4h0M719.3 1116.7h0M720.2 1137.6h0M934.5 1164.9h0M934.7 1163.4h0M935.5 1167.9h0M935.9 1169.2h0M936.4 1166.4h0M937 1168h0M937.6 1166.8h0M937.9 1163.8h0M938.4 1166.6h0M938.8 1168.9h0M939.3 1172h0M939.8 1165.6h0M940.5 1164.7h0M941.1 1165.1h0M941.6 1171.5h0M941.9 1169.1h0M942.5 1168.6h0M943.2 1164h0M943.5 1163.7h0M944.1 1170.2h0M1115.1 1169.9h0M1115.9 1170.4h0M1116.5 1174.7h0M1117.4 1172h0M1145.7 1163.4h0M1146.1 1166.8h0M1146.8 1168.9h0M1147 1162.2h0M1147.6 1163.2h0M1147.7 1169h0M1148.4 1168.4h0M1148.9 1166.2h0M1149.2 1166.8h0M1149.5 1168.6h0M1149.8 1169.3h0M1150.2 1165.3h0M1150.9 1169.5h0M1151.4 1169h0M1151.5 1164.6h0M1152.2 1163h0M1152.5 1162.1h0M1152.8 1168.4h0M1153.4 1166.6h0M1153.9 1161.3h0M1309.2 1217.4h0M1309.6 1221.5h0M1310.1 1224.3h0M1310.5 1225.3h0M1310.9 1220.7h0M1311.3 1218h0M1311.8 1219.5h0M1312.3 1223.1h0M1312.7 1229.1h0M1313 1221.3h0M344.5 1149h0M1152.7 1144h0" stroke="#006400" stroke-width="3.0" stroke-linecap="round" fill="none"/>
<path d="M630.3 1091.2h0M630.9 1103.3h0M630.9 1087.6h0M631.6 1086.2h0M632.1 1095.8h0M632.4 1085.4h0M632.9 1094.2h0M633.7 1115.2h0M633.8 1086.3h0M634.4 1094h0M634.7 1101.5h0M635.4 1103.9h0M636 1099.4h0M636.1 1098.1h0M636.7 1093.8h0M637 1090.2h0M637.8 1097.9h0M638.3 1092.5h0M638.7 1102.2h0M639.2 1090.6h0M639.6 1091.9h0M640.2 1095.5h0M640.7 1101.9h0M641.2 1078.3h0M641.6 1095.6h0M642.1 1099.3h0M642.2 1087.5h0M642.7 1088.8h0M643.4 1089.4h0M643.7 1093.1h0M644.1 1096.5h0M644.6 1082h0M666.6 1103.7h0M667.5 1116.5h0M668.2 1112.8h0M668.8 1105.1h0M669.8 1107.9h0M670.2 1109.8h0M670.8 1126.2h0M671.6 1116.2h0M671.7 1096.9h0M672.3 1107.3h0M672.6 1100.1h0M672.9 1111.6h0M673.2 1105.8h0M673.9 1105.8h0M673.9 1113.1h0M674.6 1101.1h0M674.7 1107.8h0M675.4 1102.8h0M675.9 1105.4h0M676.1 1101.6h0M676.5 1105.4h0M677 1102.7h0M677.4 1107.4h0M677.7 1107.4h0M678.1 1103h0M678.5 1109.3h0M678.9 1103h0M679.2 1101.6h0M679.5 1101.9h0M680.2 1099.6h0M680.3 1106.5h0M680.8 1107.3h0M681.3 1104.2h0M681.7 1107.1h0M681.9 1100.6h0M682.7 1103.1h0M683.1 1106.9h0M683.3 1108.2h0M683.6 1105h0M684.3 1107h0M684.5 1104h0M684.8 1104h0M685.2 1098.5h0M685.9 1104.7h0M686.2 1099.8h0M686.4 1108.3h0M686.8 1102.5h0M687.4 1101.6h0M687.9 1102.7h0M688 1105h0M688.5 1106.9h0M689.1 1104.9h0M689.5 1108.2h0M689.6 1099.2h0M690.2 1104.4h0M690.7 1101.3h0M691.1 1109.5h0M691.2 1103.5h0M691.6 1106.5h0M692 1105.3h0M692.7 1108.8h0M692.8 1104.8h0M693.4 1100.3h0M693.8 1108.2h0M694.4 1107.3h0M694.6 1102.7h0M695 1110h0M695.5 1111.4h0M695.6 1101.1h0M696.1 1105.2h0M696.5 1108.7h0M696.9 1108.3h0M697.3 1101.2h0M697.7 1101.8h0M698.3 1104.5h0M698.5 1106.9h0M699 1109h0M699.4 1102.3h0M700 1105h0M700.4 1106.9h0M700.5 1109.5h0M701.1 1108.5h0M701.6 1104.4h0M701.8 1105.7h0M702 1104.5h0M702.4 1110.2h0M703 1104.4h0M703.6 1102.8h0M703.9 1108.2h0M704.3 1104.3h0M704.5 1105.2h0M705.1 1105.5h0M705.5 1103.8h0M705.9 1101.3h0M706.1 1105.2h0M706.4 1103h0M707.2 1108.5h0M707.5 1100.5h0M707.8 1106.7h0M721.8 1096h0M722 1087.4h0M722.4 1112.2h0M722.6 1091.7h0M723.2 1108h0M723.6 1111.3h0M723.9 1105.3h0M724.2 1111.3h0M724.7 1098.1h0M725.1 1106.6h0M725.3 1094.9h0M725.7 1102.9h0M726.3 1109.5h0M726.6 1100.2h0M726.8 1086h0M727.2 1090.7h0M727.7 1112.7h0M728.1 1097.8h0M728.5 1098.2h0M728.7 1109.2h0M729.2 1105.3h0M729.5 1101.7h0M730.2 1107.7h0M730.3 1100.6h0M730.8 1108.6h0M731.2 1091.7h0M731.6 1103.4h0M731.9 1097.5h0M732.5 1113.8h0M732.7 1098.1h0M732.9 1105.8h0M733.6 1104.4h0M733.9 1093.8h0M734 1099.4h0M734.5 1106.8h0M735 1102.8h0M735.4 1083.4h0M735.7 1089.2h0M736 1117.7h0M763.1 1110.6h0M763.4 1113.3h0M763.6 1107h0M764 1092.3h0M764.5 1110.9h0M764.8 1109.6h0M765.1 1092.8h0M765.6 1091h0M766.1 1099.8h0M766.5 1098.3h0M766.8 1102.9h0M767.1 1105.4h0M767.5 1096.1h0M1040.2 1096h0M1041.3 1083.8h0M1041.7 1094h0M1042.4 1110.4h0M1042.9 1099.9h0M1043.7 1099h0M1044.4 1095.3h0M1045.2 1101h0M1045.8 1093.3h0M1046.7 1111.2h0M1047.4 1094.8h0M1047.9 1112.1h0M1048.6 1097.3h0M1049.7 1103.9h0M1049.7 1089.7h0M1050.6 1095h0M1051.6 1097.6h0M1052.3 1107.2h0M1052.9 1088.7h0M1053.4 1103h0M1054 1099.4h0M1055.2 1089.8h0M1055.4 1108.2h0M1056.5 1108.4h0M1056.7 1086.5h0M1057.7 1094.5h0M1058.6 1103.6h0M1058.7 1107.8h0M1059.6 1094.9h0M1060.2 1094.1h0M1061.3 1109.3h0M1061.8 1106.1h0M1062.4 1097.7h0M1063.2 1098.8h0M1063.6 1095.1h0M1064.4 1088h0M1065.5 1099.8h0M1065.7 1085.2h0M1066.7 1087.1h0M1190.2 1103.3h0M1191 1101.6h0M1191.8 1103.2h0M1193.2 1105.8h0M1193.8 1103.2h0M1194.7 1101.2h0M1195.7 1108.9h0M1197 1104h0M1257.8 1105.7h0M1257.9 1101.9h0M1258.8 1103.4h0M1259.2 1108.8h0M1259.7 1109.5h0M1259.9 1103.7h0M1260.4 1102.4h0M1261.2 1105.4h0M1261.5 1100.9h0M1262.1 1103.8h0M1262.6 1107.4h0M1263 1108.5h0M1263.3 1107.8h0M1264.2 1102.6h0M1264.3 1104.9h0M1264.7 1109.1h0M1265.5 1104.2h0M1266.1 1102h0M1266.2 1109h0M1266.8 1100.3h0M1267.2 1108.6h0M1267.8 1104h0M1268.1 1107.9h0M1268.7 1109.5h0M1269.2 1104.5h0M1269.7 1102.8h0M149 1091.2h0M148.4 1106.8h0M148.3 1114.7h0M149 1090.4h0M149.1 1080.4h0M153.6 1094.1h0M152.7 1114.2h0M152.7 1124.8h0M153.3 1120.9h0M152.5 1095.9h0M153.1 1101.4h0M162.1 1109.7h0M161.8 1105.8h0M162.2 1107h0M162 1114h0M167.8 1114.4h0M168.6 1114.9h0M168.1 1111.1h0M172.8 1111.4h0M173.5 1092.1h0M173.3 1104.9h0M173.8 1105.6h0M173.6 1105h0M173 1101.8h0M180.2 1112.1h0M179.2 1106.4h0M180.1 1115.7h0M180.5 1104.4h0M179.4 1112.3h0M180 1114.1h0M187.5 1107.9h0M186.9 1100.2h0M187.3 1084.9h0M187.9 1107.5h0M187.3 1126.3h0M188.1 1095.3h0M194.6 1108.2h0M195 1111.7h0M194.8 1096h0M195.4 1108.9h0M194.4 1119h0M200.9 1110.3h0M200.8 1099.2h0M200.6 1126.2h0M199.8 1119.6h0M199.8 1108.1h0M199.6 1115.7h0M200.2 1104.9h0M206.4 1109.9h0M205.7 1109.6h0M206.6 1106.7h0M205.5 1117.2h0M206.6 1113.6h0M206.2 1114.7h0M212.6 1094.8h0M213.4 1095.1h0M212.7 1111.7h0M212.8 1092.7h0M219.3 1104.9h0M218.8 1125.9h0M219.2 1116.9h0M219.5 1103.8h0M230.4 1113.9h0M230.2 1111.7h0M230.4 1115h0M231.1 1108.4h0M230.4 1110h0M230.5 1109.2h0M237.3 1108.5h0M237.6 1121h0M237.3 1113.2h0M237.3 1114.6h0M245.6 1107.8h0M244.7 1126.7h0M245.2 1100.4h0M245.3 1091.8h0M244.6 1108.1h0M244.8 1117h0M248.2 1109.7h0M248.3 1104.4h0M248.7 1112.3h0M256.7 1115.8h0M256.1 1121.4h0M255.5 1100.4h0M256.5 1118.6h0M256.6 1106.2h0M255.9 1100.7h0M261.8 1115.4h0M261.5 1107.6h0M262.5 1113h0M262 1087.7h0M261.9 1087.2h0M262.2 1102.2h0M261.8 1111.3h0M266.4 1094.3h0M266.4 1095.3h0M267.1 1086.7h0M266.6 1110.9h0M272.7 1123.6h0M272.9 1109.9h0M272.9 1108h0M273 1117h0M272.2 1106.7h0M272.1 1103.5h0M277.1 1113.6h0M278 1113.1h0M277.7 1121.8h0M277.9 1101.8h0M277.8 1119.9h0M285.4 1073.9h0M285.5 1115h0M285.5 1066.3h0M284.5 1080.2h0M291.3 1095.2h0M291.9 1094.2h0M292.3 1113.5h0M291.8 1100h0M291.2 1104.3h0M296.5 1103.4h0M296.4 1116.2h0M296.4 1086.9h0M296.6 1093.3h0M296.1 1104.4h0M303 1102.9h0M301.7 1122.9h0M302.7 1123.1h0M303 1107h0M301.8 1116.7h0M302.9 1092.7h0M308.2 1097.9h0M307.3 1091.1h0M307.7 1119.7h0M307.3 1094.7h0M315.4 1119.6h0M315.7 1095.1h0M315.1 1112.6h0M315.4 1117.7h0M321 1114h0M320.7 1114.3h0M321.1 1107.7h0M320.2 1124.5h0M330 1099.2h0M330.1 1102.2h0M330.7 1098.7h0M329.5 1119.9h0M334.6 1113.1h0M334 1108.8h0M334.6 1106.4h0M333.9 1101.6h0M333.7 1121.9h0M334.4 1109.9h0M334.6 1113.6h0M339.3 1115.5h0M340.3 1109.9h0M340.3 1122.7h0M339.5 1105.3h0M339.3 1108.9h0M349.6 1082.8h0M348.6 1115.6h0M349.2 1093.1h0M349.4 1108.2h0M354.9 1113.6h0M354.9 1115.7h0M355.2 1113.2h0M354.3 1091h0M364.1 1112.3h0M362.8 1102h0M364 1104.5h0M363.1 1103.4h0M363.6 1126.1h0M369.3 1092.8h0M369.3 1114.6h0M368.7 1097.6h0M369.9 1105.9h0M369.5 1114.6h0M369.7 1103.3h0M369.9 1114.7h0M378.4 1109.9h0M377.9 1094.6h0M377.9 1102.3h0M384.9 1106h0M384.5 1100.4h0M385.1 1103.1h0M385 1103.7h0M385 1110.8h0M385.5 1113h0M385.5 1114.6h0M390.7 1127h0M391.4 1109.8h0M391.1 1115.6h0M394.9 1115h0M394.1 1111.1h0M393.7 1117.1h0M394.2 1113.9h0M394 1116.2h0M401.2 1121.7h0M401.8 1087.8h0M401.3 1124.2h0M406.8 1109.4h0M407.1 1128.6h0M407 1108.7h0M406.7 1109.6h0M406.6 1121.2h0M407.6 1126.7h0M406.5 1119.1h0M419.2 1102.2h0M419.2 1114.6h0M419.5 1110.4h0M426 1105.9h0M426.1 1105.5h0M426.5 1119.9h0M430.8 1098.8h0M430.7 1127.2h0M431.2 1095.1h0M435.8 1108.9h0M435.6 1108.5h0M436.1 1117.1h0M435.6 1118h0M440.5 1114.9h0M440.5 1098.9h0M439.7 1116.9h0M448.3 1099.7h0M448.5 1108.8h0M448 1099.6h0M447.6 1099.2h0M448.2 1099.1h0M461.7 1114.2h0M461.9 1105.8h0M461.3 1111.2h0M467 1095.9h0M466.9 1102.2h0M466.7 1097.2h0M467 1089.7h0M466.9 1122.7h0M466.7 1084.8h0M473.9 1125.1h0M473 1104h0M472.8 1096.8h0M473.8 1104.2h0M473.6 1086.4h0M473.2 1090h0M473.2 1108h0M481.3 1090.4h0M480.1 1111.7h0M480.3 1110h0M481.1 1105.3h0M481 1098.9h0M488 1107.7h0M488.5 1108.8h0M488.5 1108.4h0M488.4 1108.1h0M495.6 1108.7h0M496.3 1108.2h0M495.6 1115.4h0M496.4 1116.5h0M496.1 1122.1h0M495.6 1122.6h0M500.4 1092.4h0M500 1088.5h0M500.2 1105.9h0M500.7 1087.1h0M500.1 1087.5h0M501 1108.7h0M514.1 1127.5h0M514.1 1121.9h0M515.2 1111.8h0M515 1110.2h0M515.3 1125.6h0M515.2 1126.8h0M514.9 1108.6h0M521.2 1099.1h0M522.1 1103.6h0M521.2 1117.2h0M529.6 1100.5h0M529.3 1100.1h0M529.7 1114h0M529.5 1099.1h0M529.3 1107.1h0M529.6 1108.3h0M534.4 1107.6h0M534.1 1119.7h0M534.4 1104.9h0M541.4 1102.7h0M541.9 1093.7h0M541.6 1112.5h0M549.3 1116.5h0M550.4 1103h0M550.2 1097.1h0M550.5 1100.4h0M549.2 1088h0M550.2 1101.6h0M555.1 1116.5h0M554.8 1126.7h0M555.1 1102.6h0M555.9 1131.4h0M555.2 1098.2h0M568.8 1112.9h0M568.5 1106.3h0M568.3 1108.3h0M568.5 1106.1h0M596.4 1087.9h0M595.3 1091.2h0M596.3 1086.2h0M595.2 1096.6h0M596.5 1088.4h0M601.6 1107.3h0M601.5 1110.6h0M601.6 1115.1h0M602.3 1115.4h0M602.5 1108.1h0M601.7 1111.1h0M614.2 1094.1h0M614.4 1079.3h0M614.1 1113.9h0M613.6 1097.6h0M614 1088.1h0M614.1 1098.8h0M613.8 1102.7h0M621.7 1114.5h0M621.3 1120.5h0M621.9 1106.8h0M621.5 1109.6h0M621.7 1112.6h0M774.3 1104.5h0M774.2 1103.2h0M774.5 1096.4h0M774 1087.1h0M780.7 1106.4h0M779.7 1107.3h0M780.4 1112.5h0M780.3 1116.1h0M787.3 1103.6h0M786.5 1105.6h0M786.2 1102.3h0M787.3 1110h0M793.5 1119.4h0M794.6 1119.3h0M793.8 1103.5h0M794.3 1119.2h0M836 1106.4h0M835 1087.6h0M836 1117.5h0M835.4 1112.3h0M835.9 1121.6h0M849.7 1092.5h0M849.7 1076.6h0M849.5 1088.6h0M849.5 1078.4h0M849.8 1108.4h0M850 1103.7h0M850.2 1111.6h0M856.9 1108.4h0M857 1114.8h0M857.4 1111.9h0M856.5 1105h0M861.1 1126.4h0M860.3 1114h0M861.1 1122.7h0M860.3 1113.3h0M865.9 1125h0M866 1080.4h0M865.5 1116.5h0M866.3 1092h0M871.9 1091.6h0M871.1 1095.9h0M872.2 1097.5h0M882.9 1116.8h0M883.8 1112.7h0M883.7 1114.7h0M883.2 1112h0M883.2 1111.1h0M884 1110.6h0M883.4 1108.2h0M891.3 1105.3h0M890.5 1095.4h0M891 1112.1h0M891.1 1125.2h0M900.3 1101.9h0M900.2 1100.9h0M899.5 1092.1h0M899.6 1128.6h0M900.3 1070.1h0M900.2 1072.8h0M899.8 1095.2h0M914.3 1103.4h0M915.2 1093.8h0M914.6 1096.7h0M915 1110.7h0M915 1080.4h0M922.3 1123.3h0M921.6 1106.6h0M922.4 1102.2h0M921.8 1109.4h0M928.5 1110.8h0M928.8 1103.6h0M929.5 1117.1h0M928.8 1120.4h0M942.9 1118.4h0M942.5 1113.8h0M942.6 1111.7h0M941.9 1106.3h0M942.3 1100.5h0M942.1 1099.1h0M963.7 1092.4h0M964.2 1094.2h0M964.4 1113.7h0M964 1104.6h0M963.8 1099.2h0M1013 1109.6h0M1011.8 1090.5h0M1012.4 1118.5h0M1047.2 1099.8h0M1046.3 1120.7h0M1047.2 1102h0M1054.1 1098.3h0M1054.5 1083.6h0M1054.2 1113.4h0M1053.9 1097.1h0M1062.9 1103.5h0M1062.4 1116.3h0M1062.5 1098.4h0M1069.6 1114.3h0M1070 1114.7h0M1069.3 1119.3h0M1070 1113.1h0M1070.4 1127.4h0M1105.2 1113.9h0M1104.5 1109.1h0M1104.9 1108.6h0M1105.3 1104.7h0M1105.5 1098h0M1111.8 1071.6h0M1112.3 1124.7h0M1112.5 1114.2h0M1112 1124.6h0M1112.4 1082h0M1122.3 1095.7h0M1122 1111.3h0M1121.5 1121.2h0M1122.1 1097.2h0M1142.9 1119.4h0M1142.3 1107.9h0M1141.6 1119.3h0M1141.9 1127.4h0M1160 1096.6h0M1160.1 1104.1h0M1159.5 1096.4h0M1160.4 1110.6h0M1166 1102.7h0M1166.7 1114.1h0M1166.4 1105.1h0M1166.6 1102.4h0M1167.1 1103.7h0M1172.3 1123.7h0M1172.3 1104.3h0M1173.3 1099.1h0M1173 1105h0M1172.7 1093h0M1180.6 1115.4h0M1180.7 1113h0M1180.4 1120.3h0M1180.9 1113.9h0M1180.1 1096.4h0M1180.3 1098h0M1180.7 1097.1h0M1193.4 1090h0M1192.7 1106.7h0M1193.6 1113.7h0M1193.4 1092.7h0M1193.1 1110.3h0M1192.5 1114h0M1199.5 1106.3h0M1199.8 1110.5h0M1200.5 1105.2h0M1200.5 1106.3h0M1214.1 1110.9h0M1214.7 1106.7h0M1214.7 1125.2h0M1213.8 1106.4h0M1214.8 1112.3h0M1225.9 1128.6h0M1225.8 1088.3h0M1225.7 1130h0M1225.9 1073.9h0M1241.7 1100.4h0M1241.8 1114.1h0M1241.9 1100.8h0M1242.3 1117.1h0M1242.3 1102h0M1252.4 1095.9h0M1251.5 1106.6h0M1251.5 1110.7h0M1259.4 1116.3h0M1259.8 1123.3h0M1259.4 1096.1h0M1260.5 1124.3h0M1259.7 1099h0M1259.5 1101.3h0M1268.3 1123h0M1268.3 1122.3h0M1267.9 1105.3h0M1278 1115.8h0M1277.6 1114.4h0M1277.8 1104h0M1278.4 1106.4h0M1277.3 1112.7h0M1277.5 1104.3h0M1298.6 1107.7h0M1299.4 1106.8h0M1299.2 1118.2h0M1299.2 1105.4h0M1298.9 1115.6h0M1298.2 1122.1h0" stroke="#8b0000" stroke-width="3.0" stroke-linecap="round" fill="none"/>
<path d="M228.2 1078.1h0M228.7 1072.7h0M228.9 1074.1h0M229.2 1073.6h0M229.4 1071.3h0M229.7 1073.1h0M394.5 1040.1h0M394.9 1030h0M395 1024.4h0M395.3 1045h0M395.6 1045.4h0M395.8 1043.8h0M396.1 1038.2h0M396.3 1026.8h0M396.5 1046.7h0M396.9 1028.8h0M635.3 1074.1h0M636 1094.7h0M636.3 1095.3h0M636.8 1099.4h0M637.2 1095.3h0M637.5 1084.3h0M638.3 1084.1h0M639 1081.3h0M639.1 1085.7h0M640 1081.2h0M645.1 1083.3h0M645.5 1085.1h0M645.9 1083.9h0M646 1085.8h0M646.4 1090.1h0M646.7 1084.2h0M647 1081.9h0M647.5 1078.1h0M647.8 1082.8h0M648.2 1078h0M648.4 1078.8h0M648.7 1088.7h0M649.1 1087.6h0M649.6 1082.4h0M649.6 1081h0M650.3 1079.2h0M650.3 1084.1h0M650.9 1082h0M651 1081.2h0M651.5 1079.9h0M651.9 1082.2h0M652.1 1080.4h0M652.3 1087.4h0M652.8 1083.3h0M653.2 1083.4h0M653.6 1085.7h0M653.6 1083.4h0M654.3 1080.7h0M654.5 1086.5h0M654.8 1084h0M655.1 1079h0M655.5 1082h0M655.8 1082.7h0M656.1 1089.5h0M656.4 1080.7h0M656.9 1086.8h0M657 1081.9h0M657.5 1085.8h0M657.8 1084.1h0M657.9 1084.5h0M658.4 1083h0M658.7 1085.7h0M659.1 1085.5h0M659.4 1082.8h0M659.6 1086h0M660.1 1085.2h0M660.3 1082.2h0M660.6 1082.4h0M661.1 1083.9h0M661.4 1086.3h0M661.8 1082.3h0M662 1082.2h0M662.5 1082.4h0M662.7 1086.4h0M662.9 1083.7h0M663.4 1084.2h0M663.6 1085.3h0M664.1 1081.2h0M664.3 1084.8h0M664.5 1078.4h0M665.1 1082.7h0M665.4 1079.1h0M665.7 1088.5h0M665.9 1082.8h0M666.4 1078.7h0M645.6 1051.7h0M645.7 1049.3h0M646.9 1057h0M647.1 1056.8h0M647.7 1045.8h0M648.4 1065h0M649.1 1054.8h0M650.1 1062.5h0M650.4 1048.5h0M651.2 1049.7h0M651.8 1045.8h0M652.4 1052.8h0M653.1 1064.1h0M654.2 1035.1h0M654.2 1052.6h0M655.1 1036.3h0M655.6 1043.5h0M656.2 1043.8h0M657.2 1048.9h0M657.5 1045.1h0M658.5 1057.7h0M659.1 1046.6h0M659.6 1048.9h0M660.4 1042.7h0M660.9 1063.2h0M661.6 1042.7h0M662.5 1039.7h0M663.1 1029.7h0M663.8 1041.8h0M664.3 1054.5h0M664.9 1058.7h0M665.9 1042.6h0M675.6 1066h0M676.4 1066.1h0M676.9 1055.2h0M677.9 1079.5h0M678.5 1073.6h0M679.5 1071.3h0M680.4 1065.4h0M680.8 1061.5h0M681.6 1073.5h0M682.1 1058.7h0M682.9 1069.3h0M683.7 1061.8h0M684.7 1059.5h0M685.3 1072.1h0M686.6 1060.2h0M687.2 1058.8h0M687.7 1069h0M688.3 1076.5h0M689.4 1063.9h0M690.6 1078.4h0M691.2 1066.6h0M691.8 1074.1h0M692.5 1053.5h0M693.1 1074.1h0M694.2 1073.1h0M695.2 1073.9h0M696 1073.1h0M696.8 1045.5h0M697.4 1071.9h0M697.7 1065.7h0M699 1063.5h0M699.6 1070.1h0M734.8 1078.6h0M735.2 1078.6h0M735.6 1084.4h0M735.9 1083.5h0M736.5 1086.9h0M736.8 1085.1h0M737.3 1082.6h0M737.4 1082.6h0M737.8 1083.8h0M738.1 1079.6h0M738.7 1076.3h0M739.2 1083.5h0M739.6 1081.6h0M740 1087.6h0M740.4 1086.5h0M740.7 1074.9h0M740.9 1084.2h0M741.5 1086.2h0M741.6 1078.5h0M742.2 1080h0M742.6 1079.3h0M742.8 1080.9h0M743.2 1080.5h0M743.5 1079.3h0M744.1 1085.2h0M744.3 1076.1h0M743.3 1070.4h0M743.5 1065.9h0M743.8 1062.4h0M744.1 1051.2h0M744.5 1060.1h0M744.8 1061.6h0M745 1058.3h0M745.3 1075.1h0M745.9 1061.7h0M746.1 1060.2h0M746.5 1061.2h0M746.9 1062.8h0M747 1067.4h0M747.6 1071.5h0M747.8 1064.7h0M748.2 1059.8h0M748.3 1071.1h0M748.9 1058.2h0M749.3 1054.7h0M749.5 1065.6h0M749.7 1059.8h0M750.2 1060.2h0M750.5 1067.9h0M750.7 1068.6h0M751.1 1064.3h0M751.3 1059.3h0M751.6 1066.1h0M752.1 1065.6h0M752.3 1062.9h0M752.7 1058.5h0M753.2 1062.9h0M753.4 1062.9h0M753.9 1066.1h0M754.1 1054.9h0M754.5 1067.1h0M754.8 1058.2h0M754.9 1064.4h0M755.3 1060h0M755.6 1056.2h0M756 1056.5h0M756.4 1055.4h0M756.6 1057.6h0M757 1066.8h0M757.3 1067h0M757.8 1066.4h0M758.1 1051.7h0M758.5 1067.6h0M758.7 1068.4h0M759 1062.5h0M759.5 1066.7h0M759.6 1066.6h0M760.1 1059.5h0M760.5 1064.1h0M760.7 1066.3h0M761.1 1060h0M761.3 1053.8h0M761.6 1056h0M762.2 1053.3h0M762.2 1063.1h0M762.6 1058.6h0M763.1 1063.8h0M763.4 1063.7h0M763.8 1073.5h0M763.9 1061.3h0M764.4 1071.4h0M743.5 1034h0M743.9 1048h0M744.3 1006.6h0M745.2 1028.2h0M745.9 1043.3h0M746.5 1025.2h0M746.8 1028.5h0M747.7 1044h0M748.2 1029.9h0M748.8 1028.7h0M749.3 1045h0M749.8 1036.8h0M750.4 1018.8h0M751.4 1051.6h0M751.7 1023.3h0M752.4 1029.4h0M753.1 1060.6h0M753.6 1024.2h0M754.2 1002.6h0M754.4 1043.7h0M755.2 1036.3h0M755.8 1021.2h0M756.3 1067.4h0M757.2 1052.5h0M757.8 1032.2h0M758.3 1031.5h0M758.8 1010.3h0M759.7 1034.8h0M760 1019.5h0M760.9 1051.4h0M761.2 1037.1h0M762 1019.9h0M762.5 1029.7h0M763.3 1056.9h0M763.4 1009.9h0M764.4 1028h0M976.5 1069.4h0M977.5 1070h0M977.9 1066.6h0M978.9 1068.3h0M979.6 1064.3h0M979.9 1072.2h0M980.3 1067.2h0M981 1063.5h0M981.7 1058.2h0M982.3 1067.3h0M983.3 1066.5h0M983.7 1062.7h0M984.1 1063.3h0M984.7 1067.1h0M985.5 1073.1h0M986.3 1061h0M978 1084.5h0M979.5 1080.8h0M980.4 1082.8h0M980.9 1085.9h0M982 1083.9h0M982.7 1090.6h0M984.1 1087.5h0M985 1093.2h0M1182.3 1065.6h0M1182.5 1075.1h0M1182.8 1069.1h0M1183 1071.5h0M1183.3 1063.3h0M1183.7 1063.7h0M1184.1 1063.7h0M1184.3 1030.7h0M1184.4 1051.9h0M1184.7 1053.3h0M1261.8 1082.5h0M1262.1 1089.8h0M1262.4 1070.6h0M1262.9 1081.5h0M1263.3 1093.8h0M1263.9 1065.8h0M1264.1 1084.6h0M1264.6 1074.3h0M1362.2 1073.6h0M1362.4 1071.9h0M1363 1065.4h0M1363.4 1080.4h0M1363.7 1067.5h0M1364.1 1075.9h0M1364.6 1073.8h0M1365 1081.9h0M1365.6 1082h0M1366.1 1076.3h0M1366.3 1071.8h0M1366.6 1073.8h0M1367.1 1069.9h0M1367.4 1062.3h0M1367.9 1078.9h0M1368.3 1077.8h0M1368.7 1073.3h0M1369.3 1078.7h0M1369.8 1072.5h0M1370 1065.5h0M229.5 1010.5h0M230 1030.7h0M228.5 1085h0M228 1089h0M396.5 1018h0M645 1023h0M645.5 1028h0M225.2 1093h0M225.5 1102.3h0M225.3 1096.7h0M411 1109h0M411.1 1117.3h0M411.6 1110.7h0M411.5 1095h0M411 1121h0M410.6 1108.2h0M411.5 1112.2h0M456 1080.9h0M456.6 1113h0M456.3 1088.5h0M455.7 1113.3h0M456.1 1110.1h0M456.3 1100.5h0M456.6 1104h0M507 1116.7h0M507.3 1095.3h0M506.9 1115.7h0M507.3 1096.2h0M560 1124.3h0M560 1120.4h0M560.8 1115.1h0M560.8 1129.2h0M560 1111.6h0M575 1104.6h0M574.6 1121.2h0M574.9 1119.9h0M575.1 1120.8h0M829.2 1104.4h0M829.6 1108.2h0M829.7 1104h0M829.7 1125.8h0M830.2 1106.5h0M829.2 1128.1h0M829.2 1109.8h0M844.2 1116.5h0M843.4 1117.8h0M843.7 1115h0M843 1122.3h0M843.4 1112h0M843.7 1108.2h0M907.6 1127.9h0M908.2 1122.5h0M908.1 1125h0M935.9 1108.1h0M935.9 1111.8h0M936.2 1112.5h0M936.4 1111.5h0M936 1113.2h0M935.3 1109.2h0M1247.4 1124.8h0M1247 1100.3h0M1246.3 1117.7h0M1246.7 1107.5h0" stroke="#ff0000" stroke-width="3.0" stroke-linecap="round" fill="none"/>
<line x1="193.8" y1="1096.6" x2="208.6" y2="1096.6" stroke="#00ff00" stroke-width="3.0"/>
<line x1="666.5" y1="1112.5" x2="671.5" y2="1112.5" stroke="#00ff00" stroke-width="3.0"/>
<line x1="713" y1="1158" x2="722" y2="1158" stroke="#00ff00" stroke-width="3.0"/>
<line x1="1190" y1="1105.7" x2="1197" y2="1105.7" stroke="#00ff00" stroke-width="3.0"/>
<line x1="1249" y1="1108" x2="1261.6" y2="1108" stroke="#00ff00" stroke-width="3.0"/>
<line x1="1309.5" y1="1220" x2="1313" y2="1220" stroke="#00ff00" stroke-width="3.0"/>
<line x1="151.9" y1="1120.4" x2="154.3" y2="1120.4" stroke="#00ff00" stroke-width="3.0"/>
<line x1="178.6" y1="1111.1" x2="181" y2="1111.1" stroke="#00ff00" stroke-width="3.0"/>
<line x1="193.5" y1="1103.8" x2="195.9" y2="1103.8" stroke="#00ff00" stroke-width="3.0"/>
<line x1="199.1" y1="1106.3" x2="201.5" y2="1106.3" stroke="#00ff00" stroke-width="3.0"/>
<line x1="211.6" y1="1112" x2="214" y2="1112" stroke="#00ff00" stroke-width="3.0"/>
<line x1="218" y1="1102.4" x2="220.4" y2="1102.4" stroke="#00ff00" stroke-width="3.0"/>
<line x1="229.5" y1="1111.6" x2="231.9" y2="1111.6" stroke="#00ff00" stroke-width="3.0"/>
<line x1="246.9" y1="1110.6" x2="249.3" y2="1110.6" stroke="#00ff00" stroke-width="3.0"/>
<line x1="260.6" y1="1111.2" x2="263" y2="1111.2" stroke="#00ff00" stroke-width="3.0"/>
<line x1="265.8" y1="1110.4" x2="268.2" y2="1110.4" stroke="#00ff00" stroke-width="3.0"/>
<line x1="276.4" y1="1112.8" x2="278.8" y2="1112.8" stroke="#00ff00" stroke-width="3.0"/>
<line x1="290.6" y1="1109.8" x2="293" y2="1109.8" stroke="#00ff00" stroke-width="3.0"/>
<line x1="295" y1="1100.1" x2="297.4" y2="1100.1" stroke="#00ff00" stroke-width="3.0"/>
<line x1="301.1" y1="1117.8" x2="303.5" y2="1117.8" stroke="#00ff00" stroke-width="3.0"/>
<line x1="306.4" y1="1114.1" x2="308.8" y2="1114.1" stroke="#00ff00" stroke-width="3.0"/>
<line x1="313.9" y1="1101.6" x2="316.3" y2="1101.6" stroke="#00ff00" stroke-width="3.0"/>
<line x1="319.6" y1="1118.6" x2="322" y2="1118.6" stroke="#00ff00" stroke-width="3.0"/>
<line x1="328.8" y1="1107.4" x2="331.2" y2="1107.4" stroke="#00ff00" stroke-width="3.0"/>
<line x1="338.5" y1="1113.8" x2="340.9" y2="1113.8" stroke="#00ff00" stroke-width="3.0"/>
<line x1="347.7" y1="1083.4" x2="350.1" y2="1083.4" stroke="#00ff00" stroke-width="3.0"/>
<line x1="429.6" y1="1115.4" x2="432" y2="1115.4" stroke="#00ff00" stroke-width="3.0"/>
<line x1="439.2" y1="1118.2" x2="441.6" y2="1118.2" stroke="#00ff00" stroke-width="3.0"/>
<line x1="455.1" y1="1093.6" x2="457.5" y2="1093.6" stroke="#00ff00" stroke-width="3.0"/>
<line x1="465.7" y1="1106.1" x2="468.1" y2="1106.1" stroke="#00ff00" stroke-width="3.0"/>
<line x1="494.6" y1="1102.3" x2="497" y2="1102.3" stroke="#00ff00" stroke-width="3.0"/>
<line x1="505.8" y1="1109.2" x2="508.2" y2="1109.2" stroke="#00ff00" stroke-width="3.0"/>
<line x1="513.5" y1="1115" x2="515.9" y2="1115" stroke="#00ff00" stroke-width="3.0"/>
<line x1="528.2" y1="1105.1" x2="530.6" y2="1105.1" stroke="#00ff00" stroke-width="3.0"/>
<line x1="532.9" y1="1111.4" x2="535.3" y2="1111.4" stroke="#00ff00" stroke-width="3.0"/>
<line x1="540.4" y1="1105.2" x2="542.8" y2="1105.2" stroke="#00ff00" stroke-width="3.0"/>
<line x1="548.7" y1="1094.7" x2="551.1" y2="1094.7" stroke="#00ff00" stroke-width="3.0"/>
<line x1="559.3" y1="1125.2" x2="561.7" y2="1125.2" stroke="#00ff00" stroke-width="3.0"/>
<line x1="567.1" y1="1113.2" x2="569.5" y2="1113.2" stroke="#00ff00" stroke-width="3.0"/>
<line x1="573.8" y1="1115" x2="576.2" y2="1115" stroke="#00ff00" stroke-width="3.0"/>
<line x1="600.8" y1="1112.6" x2="603.2" y2="1112.6" stroke="#00ff00" stroke-width="3.0"/>
<line x1="612.9" y1="1110.8" x2="615.3" y2="1110.8" stroke="#00ff00" stroke-width="3.0"/>
<line x1="773" y1="1096.2" x2="775.4" y2="1096.2" stroke="#00ff00" stroke-width="3.0"/>
<line x1="785.5" y1="1105.7" x2="787.9" y2="1105.7" stroke="#00ff00" stroke-width="3.0"/>
<line x1="792.9" y1="1116.5" x2="795.3" y2="1116.5" stroke="#00ff00" stroke-width="3.0"/>
<line x1="828.5" y1="1123.8" x2="830.9" y2="1123.8" stroke="#00ff00" stroke-width="3.0"/>
<line x1="865" y1="1105.2" x2="867.4" y2="1105.2" stroke="#00ff00" stroke-width="3.0"/>
<line x1="882.3" y1="1112.2" x2="884.7" y2="1112.2" stroke="#00ff00" stroke-width="3.0"/>
<line x1="913.7" y1="1079.4" x2="916.1" y2="1079.4" stroke="#00ff00" stroke-width="3.0"/>
<line x1="927.8" y1="1111.5" x2="930.2" y2="1111.5" stroke="#00ff00" stroke-width="3.0"/>
<line x1="962.6" y1="1105.2" x2="965" y2="1105.2" stroke="#00ff00" stroke-width="3.0"/>
<line x1="1011.3" y1="1113.3" x2="1013.7" y2="1113.3" stroke="#00ff00" stroke-width="3.0"/>
<line x1="1141" y1="1093.6" x2="1143.4" y2="1093.6" stroke="#00ff00" stroke-width="3.0"/>
<line x1="1158.7" y1="1104.1" x2="1161.1" y2="1104.1" stroke="#00ff00" stroke-width="3.0"/>
<line x1="1171.5" y1="1096.4" x2="1173.9" y2="1096.4" stroke="#00ff00" stroke-width="3.0"/>
<line x1="1179.3" y1="1108.4" x2="1181.7" y2="1108.4" stroke="#00ff00" stroke-width="3.0"/>
<line x1="1199" y1="1124.4" x2="1201.4" y2="1124.4" stroke="#00ff00" stroke-width="3.0"/>
<line x1="1213" y1="1120.7" x2="1215.4" y2="1120.7" stroke="#00ff00" stroke-width="3.0"/>
<line x1="1240.4" y1="1114.7" x2="1242.8" y2="1114.7" stroke="#00ff00" stroke-width="3.0"/>
<line x1="1250.6" y1="1100.3" x2="1253" y2="1100.3" stroke="#00ff00" stroke-width="3.0"/>
<line x1="1276.7" y1="1112" x2="1279.1" y2="1112" stroke="#00ff00" stroke-width="3.0"/>
<text x="193" y="1319.7" font-size="27" text-anchor="middle">1</text>
<text x="289.2" y="1319.7" font-size="27" text-anchor="middle">2</text>
<text x="385.5" y="1319.7" font-size="27" text-anchor="middle">3</text>
<text x="464.1" y="1319.7" font-size="27" text-anchor="middle">4</text>
<text x="538" y="1319.7" font-size="27" text-anchor="middle">5</text>
<text x="609.2" y="1319.7" font-size="27" text-anchor="middle">6</text>
<text x="676" y="1319.7" font-size="27" text-anchor="middle">7</text>
<text x="740.1" y="1319.7" font-size="27" text-anchor="middle">8</text>
<text x="794.5" y="1319.7" font-size="27" text-anchor="middle">9</text>
<text x="851.5" y="1319.7" font-size="27" text-anchor="middle">10</text>
<text x="907.6" y="1319.7" font-size="27" text-anchor="middle">11</text>
<text x="961.4" y="1319.7" font-size="27" text-anchor="middle">12</text>
<text x="1012.2" y="1319.7" font-size="27" text-anchor="middle">13</text>
<text x="1057.2" y="1319.7" font-size="27" text-anchor="middle">14</text>
<text x="1100.5" y="1319.7" font-size="27" text-anchor="middle">15</text>
<text x="1140.3" y="1319.7" font-size="27" text-anchor="middle">16</text>
<text x="1203.4" y="1319.7" font-size="27" text-anchor="middle">18</text>
<text x="1255" y="1319.7" font-size="27" text-anchor="middle">20</text>
<text x="1300" y="1319.7" font-size="27" text-anchor="middle">22</text>
<text x="1346.5" y="1319.7" font-size="27" text-anchor="middle">X</text>
<line x1="145.6" y1="252.6" x2="1370.1" y2="252.6" stroke="#bebebe" stroke-width="1.7"/>
<line x1="145.6" y1="89.8" x2="145.6" y2="415.4" stroke="#3a3a3a" stroke-width="1.1" stroke-dasharray="2.2 2.3"/>
<line x1="246.4" y1="89.8" x2="246.4" y2="415.4" stroke="#3a3a3a" stroke-width="1.1" stroke-dasharray="2.2 2.3"/>
<line x1="344" y1="89.8" x2="344" y2="415.4" stroke="#3a3a3a" stroke-width="1.1" stroke-dasharray="2.2 2.3"/>
<line x1="424.7" y1="89.8" x2="424.7" y2="415.4" stroke="#3a3a3a" stroke-width="1.1" stroke-dasharray="2.2 2.3"/>
<line x1="501.4" y1="89.8" x2="501.4" y2="415.4" stroke="#3a3a3a" stroke-width="1.1" stroke-dasharray="2.2 2.3"/>
<line x1="575.2" y1="89.8" x2="575.2" y2="415.4" stroke="#3a3a3a" stroke-width="1.1" stroke-dasharray="2.2 2.3"/>
<line x1="644.2" y1="89.8" x2="644.2" y2="415.4" stroke="#3a3a3a" stroke-width="1.1" stroke-dasharray="2.2 2.3"/>
<line x1="708.4" y1="89.8" x2="708.4" y2="415.4" stroke="#3a3a3a" stroke-width="1.1" stroke-dasharray="2.2 2.3"/>
<line x1="767.5" y1="89.8" x2="767.5" y2="415.4" stroke="#3a3a3a" stroke-width="1.1" stroke-dasharray="2.2 2.3"/>
<line x1="823.5" y1="89.8" x2="823.5" y2="415.4" stroke="#3a3a3a" stroke-width="1.1" stroke-dasharray="2.2 2.3"/>
<line x1="877.5" y1="89.8" x2="877.5" y2="415.4" stroke="#3a3a3a" stroke-width="1.1" stroke-dasharray="2.2 2.3"/>
<line x1="932.3" y1="89.8" x2="932.3" y2="415.4" stroke="#3a3a3a" stroke-width="1.1" stroke-dasharray="2.2 2.3"/>
<line x1="985.8" y1="89.8" x2="985.8" y2="415.4" stroke="#3a3a3a" stroke-width="1.1" stroke-dasharray="2.2 2.3"/>
<line x1="1032.5" y1="89.8" x2="1032.5" y2="415.4" stroke="#3a3a3a" stroke-width="1.1" stroke-dasharray="2.2 2.3"/>
<line x1="1075.5" y1="89.8" x2="1075.5" y2="415.4" stroke="#3a3a3a" stroke-width="1.1" stroke-dasharray="2.2 2.3"/>
<line x1="1116.6" y1="89.8" x2="1116.6" y2="415.4" stroke="#3a3a3a" stroke-width="1.1" stroke-dasharray="2.2 2.3"/>
<line x1="1153.5" y1="89.8" x2="1153.5" y2="415.4" stroke="#3a3a3a" stroke-width="1.1" stroke-dasharray="2.2 2.3"/>
<line x1="1187.2" y1="89.8" x2="1187.2" y2="415.4" stroke="#3a3a3a" stroke-width="1.1" stroke-dasharray="2.2 2.3"/>
<line x1="1219.5" y1="89.8" x2="1219.5" y2="415.4" stroke="#3a3a3a" stroke-width="1.1" stroke-dasharray="2.2 2.3"/>
<line x1="1243.2" y1="89.8" x2="1243.2" y2="415.4" stroke="#3a3a3a" stroke-width="1.1" stroke-dasharray="2.2 2.3"/>
<line x1="1269.5" y1="89.8" x2="1269.5" y2="415.4" stroke="#3a3a3a" stroke-width="1.1" stroke-dasharray="2.2 2.3"/>
<line x1="1288.1" y1="89.8" x2="1288.1" y2="415.4" stroke="#3a3a3a" stroke-width="1.1" stroke-dasharray="2.2 2.3"/>
<line x1="1308.4" y1="89.8" x2="1308.4" y2="415.4" stroke="#3a3a3a" stroke-width="1.1" stroke-dasharray="2.2 2.3"/>
<line x1="1370.1" y1="89.8" x2="1370.1" y2="415.4" stroke="#3a3a3a" stroke-width="1.1" stroke-dasharray="2.2 2.3"/>
<line x1="145.6" y1="698.7" x2="1370.1" y2="698.7" stroke="#bebebe" stroke-width="1.7"/>
<line x1="145.6" y1="536" x2="145.6" y2="861.4" stroke="#3a3a3a" stroke-width="1.1" stroke-dasharray="2.2 2.3"/>
<line x1="246.4" y1="536" x2="246.4" y2="861.4" stroke="#3a3a3a" stroke-width="1.1" stroke-dasharray="2.2 2.3"/>
<line x1="344" y1="536" x2="344" y2="861.4" stroke="#3a3a3a" stroke-width="1.1" stroke-dasharray="2.2 2.3"/>
<line x1="424.7" y1="536" x2="424.7" y2="861.4" stroke="#3a3a3a" stroke-width="1.1" stroke-dasharray="2.2 2.3"/>
<line x1="501.4" y1="536" x2="501.4" y2="861.4" stroke="#3a3a3a" stroke-width="1.1" stroke-dasharray="2.2 2.3"/>
<line x1="575.2" y1="536" x2="575.2" y2="861.4" stroke="#3a3a3a" stroke-width="1.1" stroke-dasharray="2.2 2.3"/>
<line x1="644.2" y1="536" x2="644.2" y2="861.4" stroke="#3a3a3a" stroke-width="1.1" stroke-dasharray="2.2 2.3"/>
<line x1="708.4" y1="536" x2="708.4" y2="861.4" stroke="#3a3a3a" stroke-width="1.1" stroke-dasharray="2.2 2.3"/>
<line x1="767.5" y1="536" x2="767.5" y2="861.4" stroke="#3a3a3a" stroke-width="1.1" stroke-dasharray="2.2 2.3"/>
<line x1="823.5" y1="536" x2="823.5" y2="861.4" stroke="#3a3a3a" stroke-width="1.1" stroke-dasharray="2.2 2.3"/>
<line x1="877.5" y1="536" x2="877.5" y2="861.4" stroke="#3a3a3a" stroke-width="1.1" stroke-dasharray="2.2 2.3"/>
<line x1="932.3" y1="536" x2="932.3" y2="861.4" stroke="#3a3a3a" stroke-width="1.1" stroke-dasharray="2.2 2.3"/>
<line x1="985.8" y1="536" x2="985.8" y2="861.4" stroke="#3a3a3a" stroke-width="1.1" stroke-dasharray="2.2 2.3"/>
<line x1="1032.5" y1="536" x2="1032.5" y2="861.4" stroke="#3a3a3a" stroke-width="1.1" stroke-dasharray="2.2 2.3"/>
<line x1="1075.5" y1="536" x2="1075.5" y2="861.4" stroke="#3a3a3a" stroke-width="1.1" stroke-dasharray="2.2 2.3"/>
<line x1="1116.6" y1="536" x2="1116.6" y2="861.4" stroke="#3a3a3a" stroke-width="1.1" stroke-dasharray="2.2 2.3"/>
<line x1="1153.5" y1="536" x2="1153.5" y2="861.4" stroke="#3a3a3a" stroke-width="1.1" stroke-dasharray="2.2 2.3"/>
<line x1="1187.2" y1="536" x2="1187.2" y2="861.4" stroke="#3a3a3a" stroke-width="1.1" stroke-dasharray="2.2 2.3"/>
<line x1="1219.5" y1="536" x2="1219.5" y2="861.4" stroke="#3a3a3a" stroke-width="1.1" stroke-dasharray="2.2 2.3"/>
<line x1="1243.2" y1="536" x2="1243.2" y2="861.4" stroke="#3a3a3a" stroke-width="1.1" stroke-dasharray="2.2 2.3"/>
<line x1="1269.5" y1="536" x2="1269.5" y2="861.4" stroke="#3a3a3a" stroke-width="1.1" stroke-dasharray="2.2 2.3"/>
<line x1="1288.1" y1="536" x2="1288.1" y2="861.4" stroke="#3a3a3a" stroke-width="1.1" stroke-dasharray="2.2 2.3"/>
<line x1="1308.4" y1="536" x2="1308.4" y2="861.4" stroke="#3a3a3a" stroke-width="1.1" stroke-dasharray="2.2 2.3"/>
<line x1="1370.1" y1="536" x2="1370.1" y2="861.4" stroke="#3a3a3a" stroke-width="1.1" stroke-dasharray="2.2 2.3"/>
<line x1="145.6" y1="1130.7" x2="1370.1" y2="1130.7" stroke="#bebebe" stroke-width="1.7"/>
<line x1="145.6" y1="979.6" x2="145.6" y2="1281.8" stroke="#3a3a3a" stroke-width="1.1" stroke-dasharray="2.2 2.3"/>
<line x1="246.4" y1="979.6" x2="246.4" y2="1281.8" stroke="#3a3a3a" stroke-width="1.1" stroke-dasharray="2.2 2.3"/>
<line x1="344" y1="979.6" x2="344" y2="1281.8" stroke="#3a3a3a" stroke-width="1.1" stroke-dasharray="2.2 2.3"/>
<line x1="424.7" y1="979.6" x2="424.7" y2="1281.8" stroke="#3a3a3a" stroke-width="1.1" stroke-dasharray="2.2 2.3"/>
<line x1="501.4" y1="979.6" x2="501.4" y2="1281.8" stroke="#3a3a3a" stroke-width="1.1" stroke-dasharray="2.2 2.3"/>
<line x1="575.2" y1="979.6" x2="575.2" y2="1281.8" stroke="#3a3a3a" stroke-width="1.1" stroke-dasharray="2.2 2.3"/>
<line x1="644.2" y1="979.6" x2="644.2" y2="1281.8" stroke="#3a3a3a" stroke-width="1.1" stroke-dasharray="2.2 2.3"/>
<line x1="708.4" y1="979.6" x2="708.4" y2="1281.8" stroke="#3a3a3a" stroke-width="1.1" stroke-dasharray="2.2 2.3"/>
<line x1="767.5" y1="979.6" x2="767.5" y2="1281.8" stroke="#3a3a3a" stroke-width="1.1" stroke-dasharray="2.2 2.3"/>
<line x1="823.5" y1="979.6" x2="823.5" y2="1281.8" stroke="#3a3a3a" stroke-width="1.1" stroke-dasharray="2.2 2.3"/>
<line x1="877.5" y1="979.6" x2="877.5" y2="1281.8" stroke="#3a3a3a" stroke-width="1.1" stroke-dasharray="2.2 2.3"/>
<line x1="932.3" y1="979.6" x2="932.3" y2="1281.8" stroke="#3a3a3a" stroke-width="1.1" stroke-dasharray="2.2 2.3"/>
<line x1="985.8" y1="979.6" x2="985.8" y2="1281.8" stroke="#3a3a3a" stroke-width="1.1" stroke-dasharray="2.2 2.3"/>
<line x1="1032.5" y1="979.6" x2="1032.5" y2="1281.8" stroke="#3a3a3a" stroke-width="1.1" stroke-dasharray="2.2 2.3"/>
<line x1="1075.5" y1="979.6" x2="1075.5" y2="1281.8" stroke="#3a3a3a" stroke-width="1.1" stroke-dasharray="2.2 2.3"/>
<line x1="1116.6" y1="979.6" x2="1116.6" y2="1281.8" stroke="#3a3a3a" stroke-width="1.1" stroke-dasharray="2.2 2.3"/>
<line x1="1153.5" y1="979.6" x2="1153.5" y2="1281.8" stroke="#3a3a3a" stroke-width="1.1" stroke-dasharray="2.2 2.3"/>
<line x1="1187.2" y1="979.6" x2="1187.2" y2="1281.8" stroke="#3a3a3a" stroke-width="1.1" stroke-dasharray="2.2 2.3"/>
<line x1="1219.5" y1="979.6" x2="1219.5" y2="1281.8" stroke="#3a3a3a" stroke-width="1.1" stroke-dasharray="2.2 2.3"/>
<line x1="1243.2" y1="979.6" x2="1243.2" y2="1281.8" stroke="#3a3a3a" stroke-width="1.1" stroke-dasharray="2.2 2.3"/>
<line x1="1269.5" y1="979.6" x2="1269.5" y2="1281.8" stroke="#3a3a3a" stroke-width="1.1" stroke-dasharray="2.2 2.3"/>
<line x1="1288.1" y1="979.6" x2="1288.1" y2="1281.8" stroke="#3a3a3a" stroke-width="1.1" stroke-dasharray="2.2 2.3"/>
<line x1="1308.4" y1="979.6" x2="1308.4" y2="1281.8" stroke="#3a3a3a" stroke-width="1.1" stroke-dasharray="2.2 2.3"/>
<line x1="1370.1" y1="979.6" x2="1370.1" y2="1281.8" stroke="#3a3a3a" stroke-width="1.1" stroke-dasharray="2.2 2.3"/>
<circle cx="1565.9" cy="94" r="4.6" fill="#e41a1c"/>
<circle cx="1572.7" cy="97.1" r="4.6" fill="#e41a1c"/>
<circle cx="1566.6" cy="205.5" r="4.6" fill="#e41a1c"/>
<circle cx="1573.8" cy="206.8" r="4.6" fill="#e41a1c"/>
<circle cx="1562.5" cy="224.5" r="4.6" fill="#e41a1c"/>
<circle cx="1567.3" cy="278.7" r="4.6" fill="#e41a1c"/>
<circle cx="1568.7" cy="297.4" r="4.6" fill="#e41a1c"/>
<circle cx="1563.5" cy="346.2" r="4.6" fill="#e41a1c"/>
<circle cx="1577.2" cy="364.9" r="4.6" fill="#e41a1c"/>
<circle cx="1577.5" cy="371.7" r="4.6" fill="#e41a1c"/>
<circle cx="1568.3" cy="390.8" r="4.6" fill="#e41a1c"/>
<circle cx="1575.8" cy="413.3" r="4.6" fill="#e41a1c"/>
<circle cx="1562.2" cy="425.6" r="4.6" fill="#e41a1c"/>
<circle cx="1561.5" cy="441.9" r="4.6" fill="#e41a1c"/>
<circle cx="1660" cy="202.7" r="4.6" fill="#ff7f00"/>
<circle cx="1666.4" cy="251.4" r="4.6" fill="#ff7f00"/>
<circle cx="1667.1" cy="267.5" r="4.6" fill="#ff7f00"/>
<circle cx="1661.7" cy="293" r="4.6" fill="#ff7f00"/>
<circle cx="1662.4" cy="361.5" r="4.6" fill="#ff7f00"/>
<circle cx="1661.3" cy="406.5" r="4.6" fill="#ff7f00"/>
<circle cx="1661.7" cy="441.9" r="4.6" fill="#ff7f00"/>
<circle cx="1756.4" cy="70.9" r="4.6" fill="#4daf4a"/>
<circle cx="1745.8" cy="175.5" r="4.6" fill="#4daf4a"/>
<circle cx="1746.8" cy="200.3" r="4.6" fill="#4daf4a"/>
<circle cx="1757.8" cy="206.5" r="4.6" fill="#4daf4a"/>
<circle cx="1847" cy="112.4" r="4.6" fill="#984ea3"/>
<circle cx="1846" cy="124.4" r="4.6" fill="#984ea3"/>
<circle cx="1848" cy="140" r="4.6" fill="#984ea3"/>
<circle cx="1841.2" cy="147.2" r="4.6" fill="#984ea3"/>
<circle cx="1841.2" cy="165.2" r="4.6" fill="#984ea3"/>
<circle cx="1846.7" cy="183.3" r="4.6" fill="#984ea3"/>
<circle cx="1852.8" cy="184.3" r="4.6" fill="#984ea3"/>
<circle cx="1845.7" cy="192.8" r="4.6" fill="#984ea3"/>
<circle cx="1847.4" cy="196.6" r="4.6" fill="#984ea3"/>
<circle cx="1846.7" cy="212.3" r="4.6" fill="#984ea3"/>
<circle cx="1855.2" cy="222.5" r="4.6" fill="#984ea3"/>
<circle cx="1847.7" cy="223.9" r="4.6" fill="#984ea3"/>
<circle cx="1850.4" cy="229.6" r="4.6" fill="#984ea3"/>
<circle cx="1839.9" cy="240.2" r="4.6" fill="#984ea3"/>
<circle cx="1853.8" cy="253.8" r="4.6" fill="#984ea3"/>
<circle cx="1852.8" cy="254.5" r="4.6" fill="#984ea3"/>
<circle cx="1839.2" cy="271.2" r="4.6" fill="#984ea3"/>
<circle cx="1852.1" cy="277.7" r="4.6" fill="#984ea3"/>
<circle cx="1842.2" cy="281.8" r="4.6" fill="#984ea3"/>
<circle cx="1854.2" cy="289.3" r="4.6" fill="#984ea3"/>
<circle cx="1847" cy="297.4" r="4.6" fill="#984ea3"/>
<circle cx="1849.7" cy="297.4" r="4.6" fill="#984ea3"/>
<circle cx="1839.5" cy="307.3" r="4.6" fill="#984ea3"/>
<circle cx="1850.4" cy="316.5" r="4.6" fill="#984ea3"/>
<circle cx="1845" cy="326.7" r="4.6" fill="#984ea3"/>
<circle cx="1851.4" cy="326.1" r="4.6" fill="#984ea3"/>
<circle cx="1848.7" cy="330.5" r="4.6" fill="#984ea3"/>
<circle cx="1844.3" cy="354.3" r="4.6" fill="#984ea3"/>
<circle cx="1841.6" cy="358.8" r="4.6" fill="#984ea3"/>
<circle cx="1853.5" cy="370.4" r="4.6" fill="#984ea3"/>
<circle cx="1838.2" cy="376.5" r="4.6" fill="#984ea3"/>
<circle cx="1843.6" cy="379.9" r="4.6" fill="#984ea3"/>
<circle cx="1854.5" cy="383" r="4.6" fill="#984ea3"/>
<circle cx="1845" cy="384.7" r="4.6" fill="#984ea3"/>
<circle cx="1856.9" cy="416.4" r="4.6" fill="#984ea3"/>
<circle cx="1852.8" cy="423.9" r="4.6" fill="#984ea3"/>
<circle cx="1848.4" cy="426.6" r="4.6" fill="#984ea3"/>
<circle cx="1856.6" cy="422.5" r="4.6" fill="#984ea3"/>
<circle cx="1933.9" cy="69.2" r="4.6" fill="#377eb8"/>
<circle cx="1934.6" cy="80.1" r="4.6" fill="#377eb8"/>
<circle cx="1940.7" cy="117.9" r="4.6" fill="#377eb8"/>
<circle cx="1933.2" cy="159.1" r="4.6" fill="#377eb8"/>
<circle cx="1947.5" cy="169" r="4.6" fill="#377eb8"/>
<circle cx="1944.5" cy="183" r="4.6" fill="#377eb8"/>
<circle cx="1935.9" cy="189.4" r="4.6" fill="#377eb8"/>
<circle cx="1943.1" cy="210.9" r="4.6" fill="#377eb8"/>
<circle cx="1945.8" cy="215.7" r="4.6" fill="#377eb8"/>
<circle cx="1945.5" cy="221.8" r="4.6" fill="#377eb8"/>
<circle cx="1943.4" cy="260.6" r="4.6" fill="#377eb8"/>
<circle cx="1948.9" cy="266.1" r="4.6" fill="#377eb8"/>
<circle cx="1942.4" cy="276" r="4.6" fill="#377eb8"/>
<circle cx="1941.4" cy="299.8" r="4.6" fill="#377eb8"/>
<circle cx="1941.4" cy="303.6" r="4.6" fill="#377eb8"/>
<circle cx="1936.3" cy="316.2" r="4.6" fill="#377eb8"/>
<circle cx="1941.4" cy="317.2" r="4.6" fill="#377eb8"/>
<circle cx="1938" cy="324.7" r="4.6" fill="#377eb8"/>
<circle cx="1944.5" cy="329.5" r="4.6" fill="#377eb8"/>
<circle cx="1941.7" cy="332.9" r="4.6" fill="#377eb8"/>
<circle cx="1943.8" cy="344.1" r="4.6" fill="#377eb8"/>
<circle cx="1944.8" cy="347.5" r="4.6" fill="#377eb8"/>
<circle cx="1935.3" cy="358.4" r="4.6" fill="#377eb8"/>
<circle cx="1939" cy="361.2" r="4.6" fill="#377eb8"/>
<circle cx="1946.8" cy="358.8" r="4.6" fill="#377eb8"/>
<circle cx="1935.6" cy="386.4" r="4.6" fill="#377eb8"/>
<circle cx="1948.2" cy="387.7" r="4.6" fill="#377eb8"/>
<circle cx="1937" cy="405.8" r="4.6" fill="#377eb8"/>
<circle cx="1937" cy="411.2" r="4.6" fill="#377eb8"/>
<circle cx="1949.2" cy="407.8" r="4.6" fill="#377eb8"/>
<circle cx="1933.6" cy="412.6" r="4.6" fill="#377eb8"/>
<circle cx="1948.9" cy="414.7" r="4.6" fill="#377eb8"/>
<circle cx="1931.5" cy="418.7" r="4.6" fill="#377eb8"/>
<circle cx="1936.6" cy="426.6" r="4.6" fill="#377eb8"/>
<circle cx="1944.8" cy="425.2" r="4.6" fill="#377eb8"/>
<circle cx="1932.2" cy="439.9" r="4.6" fill="#377eb8"/>
<circle cx="1939.4" cy="442.2" r="4.6" fill="#377eb8"/>
<circle cx="1947.2" cy="439.2" r="4.6" fill="#377eb8"/>
<line x1="1546.5" y1="321.6" x2="1592.8" y2="321.6" stroke="#000" stroke-width="1.5"/>
<line x1="1639.5" y1="293" x2="1685.5" y2="293" stroke="#000" stroke-width="1.5"/>
<line x1="1732.2" y1="187.7" x2="1778.2" y2="187.7" stroke="#000" stroke-width="1.5"/>
<line x1="1825.2" y1="292.7" x2="1870.9" y2="292.7" stroke="#000" stroke-width="1.5"/>
<line x1="1917.2" y1="332.5" x2="1963.5" y2="332.5" stroke="#000" stroke-width="1.5"/>
<line x1="1525.6" y1="348.7" x2="1984.5" y2="348.7" stroke="#000" stroke-width="1.3" stroke-dasharray="3.5 1.8"/>
<rect x="1525.6" y="50.6" width="458.9" height="410.1" fill="none" stroke="#333" stroke-width="1.4"/>
<line x1="1522" y1="441.3" x2="1525.6" y2="441.3" stroke="#333" stroke-width="1.3"/>
<text x="1508.5" y="451.6" font-size="28.8" text-anchor="end">0</text>
<line x1="1522" y1="395" x2="1525.6" y2="395" stroke="#333" stroke-width="1.3"/>
<text x="1508.5" y="405.3" font-size="28.8" text-anchor="end">10</text>
<line x1="1522" y1="348.7" x2="1525.6" y2="348.7" stroke="#333" stroke-width="1.3"/>
<text x="1508.5" y="359" font-size="28.8" text-anchor="end">20</text>
<line x1="1522" y1="302.4" x2="1525.6" y2="302.4" stroke="#333" stroke-width="1.3"/>
<text x="1508.5" y="312.7" font-size="28.8" text-anchor="end">30</text>
<line x1="1522" y1="256.1" x2="1525.6" y2="256.1" stroke="#333" stroke-width="1.3"/>
<text x="1508.5" y="266.4" font-size="28.8" text-anchor="end">40</text>
<line x1="1522" y1="209.8" x2="1525.6" y2="209.8" stroke="#333" stroke-width="1.3"/>
<text x="1508.5" y="220.1" font-size="28.8" text-anchor="end">50</text>
<line x1="1522" y1="163.5" x2="1525.6" y2="163.5" stroke="#333" stroke-width="1.3"/>
<text x="1508.5" y="173.8" font-size="28.8" text-anchor="end">60</text>
<line x1="1522" y1="117.2" x2="1525.6" y2="117.2" stroke="#333" stroke-width="1.3"/>
<text x="1508.5" y="127.5" font-size="28.8" text-anchor="end">70</text>
<line x1="1522" y1="70.9" x2="1525.6" y2="70.9" stroke="#333" stroke-width="1.3"/>
<text x="1508.5" y="81.2" font-size="28.8" text-anchor="end">80</text>
<line x1="1569.7" y1="460.7" x2="1569.7" y2="464.3" stroke="#333" stroke-width="1.3"/>
<text font-size="29.5" font-style="italic" text-anchor="end" transform="translate(1582.2 488.2) rotate(-45)">BRCA1/2 PALB2</text>
<line x1="1662.3" y1="460.7" x2="1662.3" y2="464.3" stroke="#333" stroke-width="1.3"/>
<text font-size="29.5" font-style="italic" text-anchor="end" transform="translate(1674.8 488.2) rotate(-45)">HRR</text>
<line x1="1755" y1="460.7" x2="1755" y2="464.3" stroke="#333" stroke-width="1.3"/>
<text font-size="29.5" font-style="italic" text-anchor="end" transform="translate(1767.5 488.2) rotate(-45)">CDK12</text>
<line x1="1847.7" y1="460.7" x2="1847.7" y2="464.3" stroke="#333" stroke-width="1.3"/>
<text font-size="29.5" font-style="italic" text-anchor="end" transform="translate(1860.2 488.2) rotate(-45)">TP53 PTEN RB1</text>
<line x1="1940.3" y1="460.7" x2="1940.3" y2="464.3" stroke="#333" stroke-width="1.3"/>
<text font-size="29.5" font-style="italic" text-anchor="end" transform="translate(1952.8 488.2) rotate(-45)">No pathogenic</text>
<text x="0" y="0" font-size="29.6" text-anchor="middle" transform="translate(1449 256) rotate(-90)">Tumor Fraction (%)</text>
<text x="1422.3" y="29.8" font-size="43" font-weight="bold">d</text>
<circle cx="1562.2" cy="758.8" r="4.6" fill="#e41a1c"/>
<circle cx="1560.8" cy="809.4" r="4.6" fill="#e41a1c"/>
<circle cx="1560.8" cy="849.8" r="4.6" fill="#e41a1c"/>
<circle cx="1558.7" cy="860" r="4.6" fill="#e41a1c"/>
<circle cx="1566.1" cy="870.2" r="4.6" fill="#e41a1c"/>
<circle cx="1563.6" cy="941.4" r="4.6" fill="#e41a1c"/>
<circle cx="1557.3" cy="972" r="4.6" fill="#e41a1c"/>
<circle cx="1634.2" cy="870.5" r="4.6" fill="#ff7f00"/>
<circle cx="1636.3" cy="972" r="4.6" fill="#ff7f00"/>
<circle cx="1643" cy="1053.4" r="4.6" fill="#ff7f00"/>
<circle cx="1637.7" cy="1093.8" r="4.6" fill="#ff7f00"/>
<circle cx="1709.7" cy="981.8" r="4.6" fill="#4daf4a"/>
<circle cx="1710" cy="992" r="4.6" fill="#4daf4a"/>
<circle cx="1719.2" cy="992" r="4.6" fill="#4daf4a"/>
<circle cx="1712.5" cy="1032.7" r="4.6" fill="#4daf4a"/>
<circle cx="1790.4" cy="819.2" r="4.6" fill="#984ea3"/>
<circle cx="1786.9" cy="880.7" r="4.6" fill="#984ea3"/>
<circle cx="1783.8" cy="890.9" r="4.6" fill="#984ea3"/>
<circle cx="1795" cy="900.7" r="4.6" fill="#984ea3"/>
<circle cx="1795" cy="921.1" r="4.6" fill="#984ea3"/>
<circle cx="1798.2" cy="921.1" r="4.6" fill="#984ea3"/>
<circle cx="1787.6" cy="931.2" r="4.6" fill="#984ea3"/>
<circle cx="1795.4" cy="961.4" r="4.6" fill="#984ea3"/>
<circle cx="1790.8" cy="971.6" r="4.6" fill="#984ea3"/>
<circle cx="1796.8" cy="981.8" r="4.6" fill="#984ea3"/>
<circle cx="1783.8" cy="992" r="4.6" fill="#984ea3"/>
<circle cx="1788.3" cy="992" r="4.6" fill="#984ea3"/>
<circle cx="1784.8" cy="1002.2" r="4.6" fill="#984ea3"/>
<circle cx="1794.7" cy="1002.2" r="4.6" fill="#984ea3"/>
<circle cx="1783.8" cy="1012.4" r="4.6" fill="#984ea3"/>
<circle cx="1789.7" cy="1012.4" r="4.6" fill="#984ea3"/>
<circle cx="1793.3" cy="1012.4" r="4.6" fill="#984ea3"/>
<circle cx="1798.5" cy="1012.4" r="4.6" fill="#984ea3"/>
<circle cx="1787.6" cy="1022.5" r="4.6" fill="#984ea3"/>
<circle cx="1792.6" cy="1022.5" r="4.6" fill="#984ea3"/>
<circle cx="1789.7" cy="1053.4" r="4.6" fill="#984ea3"/>
<circle cx="1786.9" cy="1063.6" r="4.6" fill="#984ea3"/>
<circle cx="1783.8" cy="1073.5" r="4.6" fill="#984ea3"/>
<circle cx="1796.8" cy="1084" r="4.6" fill="#984ea3"/>
<circle cx="1861.7" cy="860.3" r="4.6" fill="#377eb8"/>
<circle cx="1868" cy="870.5" r="4.6" fill="#377eb8"/>
<circle cx="1865.2" cy="880.7" r="4.6" fill="#377eb8"/>
<circle cx="1872.3" cy="880.7" r="4.6" fill="#377eb8"/>
<circle cx="1869.1" cy="880.7" r="4.6" fill="#377eb8"/>
<circle cx="1872.3" cy="890.9" r="4.6" fill="#377eb8"/>
<circle cx="1865.2" cy="900.7" r="4.6" fill="#377eb8"/>
<circle cx="1874.7" cy="900.7" r="4.6" fill="#377eb8"/>
<circle cx="1867" cy="941.4" r="4.6" fill="#377eb8"/>
<circle cx="1873" cy="941.4" r="4.6" fill="#377eb8"/>
<circle cx="1864.2" cy="951.6" r="4.6" fill="#377eb8"/>
<circle cx="1873" cy="961.8" r="4.6" fill="#377eb8"/>
<circle cx="1864.2" cy="971.6" r="4.6" fill="#377eb8"/>
<circle cx="1868.4" cy="981.8" r="4.6" fill="#377eb8"/>
<circle cx="1873.7" cy="981.8" r="4.6" fill="#377eb8"/>
<circle cx="1865.9" cy="1002.2" r="4.6" fill="#377eb8"/>
<circle cx="1867" cy="1022.5" r="4.6" fill="#377eb8"/>
<circle cx="1860.3" cy="1043.3" r="4.6" fill="#377eb8"/>
<circle cx="1874.7" cy="1063.6" r="4.6" fill="#377eb8"/>
<circle cx="1867" cy="1104" r="4.6" fill="#377eb8"/>
<line x1="1543.3" y1="855.1" x2="1580.8" y2="855.1" stroke="#000" stroke-width="1.5"/>
<line x1="1619.5" y1="1012.4" x2="1657.4" y2="1012.4" stroke="#000" stroke-width="1.5"/>
<line x1="1695.3" y1="992" x2="1733.6" y2="992" stroke="#000" stroke-width="1.5"/>
<line x1="1771.5" y1="1002.2" x2="1810.1" y2="1002.2" stroke="#000" stroke-width="1.5"/>
<line x1="1848.4" y1="951.6" x2="1886.3" y2="951.6" stroke="#000" stroke-width="1.5"/>
<line x1="1525.6" y1="911.1" x2="1903.9" y2="911.1" stroke="#000" stroke-width="1.3" stroke-dasharray="3.5 1.8"/>
<line x1="1525.6" y1="961.9" x2="1903.9" y2="961.9" stroke="#000" stroke-width="1.3" stroke-dasharray="3.5 1.8"/>
<rect x="1525.6" y="741.7" width="378.3" height="379.2" fill="none" stroke="#333" stroke-width="1.4"/>
<line x1="1522" y1="1114.2" x2="1525.6" y2="1114.2" stroke="#333" stroke-width="1.3"/>
<text x="1508.5" y="1124.5" font-size="28.8" text-anchor="end">0</text>
<line x1="1522" y1="1063.4" x2="1525.6" y2="1063.4" stroke="#333" stroke-width="1.3"/>
<text x="1508.5" y="1073.7" font-size="28.8" text-anchor="end">5</text>
<line x1="1522" y1="1012.7" x2="1525.6" y2="1012.7" stroke="#333" stroke-width="1.3"/>
<text x="1508.5" y="1023" font-size="28.8" text-anchor="end">10</text>
<line x1="1522" y1="961.9" x2="1525.6" y2="961.9" stroke="#333" stroke-width="1.3"/>
<text x="1508.5" y="972.2" font-size="28.8" text-anchor="end">15</text>
<line x1="1522" y1="911.1" x2="1525.6" y2="911.1" stroke="#333" stroke-width="1.3"/>
<text x="1508.5" y="921.4" font-size="28.8" text-anchor="end">20</text>
<line x1="1522" y1="860.4" x2="1525.6" y2="860.4" stroke="#333" stroke-width="1.3"/>
<text x="1508.5" y="870.6" font-size="28.8" text-anchor="end">25</text>
<line x1="1522" y1="809.6" x2="1525.6" y2="809.6" stroke="#333" stroke-width="1.3"/>
<text x="1508.5" y="819.9" font-size="28.8" text-anchor="end">30</text>
<line x1="1522" y1="758.8" x2="1525.6" y2="758.8" stroke="#333" stroke-width="1.3"/>
<text x="1508.5" y="769.1" font-size="28.8" text-anchor="end">35</text>
<line x1="1561.9" y1="1120.9" x2="1561.9" y2="1124.5" stroke="#333" stroke-width="1.3"/>
<text font-size="29.5" font-style="italic" text-anchor="end" transform="translate(1576.9 1150.9) rotate(-45)">BRCA1/2 PALB2</text>
<line x1="1638.4" y1="1120.9" x2="1638.4" y2="1124.5" stroke="#333" stroke-width="1.3"/>
<text font-size="29.5" font-style="italic" text-anchor="end" transform="translate(1653.4 1150.9) rotate(-45)">HRR</text>
<line x1="1714.3" y1="1120.9" x2="1714.3" y2="1124.5" stroke="#333" stroke-width="1.3"/>
<text font-size="29.5" font-style="italic" text-anchor="end" transform="translate(1729.3 1150.9) rotate(-45)">CDK12</text>
<line x1="1790.8" y1="1120.9" x2="1790.8" y2="1124.5" stroke="#333" stroke-width="1.3"/>
<text font-size="29.5" font-style="italic" text-anchor="end" transform="translate(1805.8 1150.9) rotate(-45)">TP53 PTEN RB1</text>
<line x1="1867" y1="1120.9" x2="1867" y2="1124.5" stroke="#333" stroke-width="1.3"/>
<text font-size="29.5" font-style="italic" text-anchor="end" transform="translate(1882 1150.9) rotate(-45)">No pathogenic</text>
<text x="0" y="0" font-size="29" text-anchor="middle" transform="translate(1456 932) rotate(-90)">sHRD score</text>
<text x="1714.5" y="728" font-size="28.8" text-anchor="middle">TF &gt; 20%</text>
<text x="1911.6" y="919.9" font-size="28.8">HRD</text>
<text x="1911.6" y="971.1" font-size="28.8">Borderline</text>
<text x="1422.3" y="741.3" font-size="43" font-weight="bold">e</text>
<clipPath id="cf0"><rect x="151.4" y="1421.2" width="415.6" height="513.1"/></clipPath>
<g clip-path="url(#cf0)">
<polygon points="151.6,1777.7 177.9,1765.3 206.4,1749.3 227.8,1735 249.1,1722.6 270.5,1708.3 295.4,1692.3 309.6,1674.5 341.6,1624.7 366.5,1592.7 391.5,1560.6 419.9,1519.7 444.8,1478.8 478.6,1421.1 540.2,1421.1 540.2,1638.9 512.5,1653.2 480.4,1678.1 427,1703 391.5,1722.6 355.9,1749.3 327.4,1767 302.5,1784.8 277.6,1806.2 249.1,1838.2 213.5,1870.2 188.6,1895.2 161.9,1934 151.6,1934" fill="#fadbdc"/>
<line x1="255.3" y1="1421.2" x2="255.3" y2="1934.3" stroke="#000" stroke-width="1.3" stroke-dasharray="3.7 1.6"/>
<line x1="151.4" y1="1677.8" x2="567" y2="1677.8" stroke="#000" stroke-width="1.3" stroke-dasharray="3.7 1.6"/>
<line x1="151.6" y1="1869.2" x2="540.9" y2="1538.6" stroke="#e02020" stroke-width="2.6"/>
<circle cx="170.1" cy="1793" r="2.5" fill="#e41a1c"/>
<circle cx="183.6" cy="1921.1" r="2.5" fill="#e41a1c"/>
<circle cx="208.9" cy="1895.5" r="2.5" fill="#e41a1c"/>
<circle cx="230.2" cy="1908.3" r="2.5" fill="#e41a1c"/>
<circle cx="237.7" cy="1831.5" r="2.5" fill="#e41a1c"/>
<circle cx="258.7" cy="1626.5" r="2.5" fill="#e41a1c"/>
<circle cx="313.2" cy="1600.9" r="2.5" fill="#e41a1c"/>
<circle cx="334.2" cy="1754.6" r="2.5" fill="#e41a1c"/>
<circle cx="394.3" cy="1613.7" r="2.5" fill="#e41a1c"/>
<circle cx="413.9" cy="1549.6" r="2.5" fill="#e41a1c"/>
<circle cx="416" cy="1485.2" r="2.5" fill="#e41a1c"/>
<circle cx="537.4" cy="1716.2" r="2.5" fill="#e41a1c"/>
<circle cx="540.2" cy="1600.9" r="2.5" fill="#e41a1c"/>
<circle cx="152.3" cy="1934" r="2.5" fill="#e41a1c"/>
</g>
<rect x="151.4" y="1421.2" width="415.6" height="513.1" fill="none" stroke="#222" stroke-width="1.4"/>
<rect x="166.5" y="1441.6" width="260" height="26.8" rx="5" fill="#fff" stroke="#888" stroke-width="1.3"/>
<text x="175.9" y="1459" font-size="16.3" textLength="242.1" lengthAdjust="spacingAndGlyphs">Spearman ρ = 0.82 (p = 3.2e-04)</text>
<line x1="147.9" y1="1934.3" x2="151.4" y2="1934.3" stroke="#222" stroke-width="1.3"/>
<text x="134.5" y="1944.6" font-size="28.8" text-anchor="end">0</text>
<line x1="147.9" y1="1870.2" x2="151.4" y2="1870.2" stroke="#222" stroke-width="1.3"/>
<text x="134.5" y="1880.5" font-size="28.8" text-anchor="end">5</text>
<line x1="147.9" y1="1806" x2="151.4" y2="1806" stroke="#222" stroke-width="1.3"/>
<text x="134.5" y="1816.3" font-size="28.8" text-anchor="end">10</text>
<line x1="147.9" y1="1741.9" x2="151.4" y2="1741.9" stroke="#222" stroke-width="1.3"/>
<text x="134.5" y="1752.2" font-size="28.8" text-anchor="end">15</text>
<line x1="147.9" y1="1677.8" x2="151.4" y2="1677.8" stroke="#222" stroke-width="1.3"/>
<text x="134.5" y="1688" font-size="28.8" text-anchor="end">20</text>
<line x1="147.9" y1="1613.6" x2="151.4" y2="1613.6" stroke="#222" stroke-width="1.3"/>
<text x="134.5" y="1623.9" font-size="28.8" text-anchor="end">25</text>
<line x1="147.9" y1="1549.5" x2="151.4" y2="1549.5" stroke="#222" stroke-width="1.3"/>
<text x="134.5" y="1559.8" font-size="28.8" text-anchor="end">30</text>
<line x1="147.9" y1="1485.3" x2="151.4" y2="1485.3" stroke="#222" stroke-width="1.3"/>
<text x="134.5" y="1495.6" font-size="28.8" text-anchor="end">35</text>
<line x1="147.9" y1="1421.2" x2="151.4" y2="1421.2" stroke="#222" stroke-width="1.3"/>
<text x="134.5" y="1431.5" font-size="28.8" text-anchor="end">40</text>
<line x1="151.4" y1="1934.3" x2="151.4" y2="1937.8" stroke="#222" stroke-width="1.3"/>
<text x="151.4" y="1971.4" font-size="28.8" text-anchor="middle">0</text>
<line x1="203.4" y1="1934.3" x2="203.4" y2="1937.8" stroke="#222" stroke-width="1.3"/>
<text x="203.4" y="1971.4" font-size="28.8" text-anchor="middle">10</text>
<line x1="255.3" y1="1934.3" x2="255.3" y2="1937.8" stroke="#222" stroke-width="1.3"/>
<text x="255.3" y="1971.4" font-size="28.8" text-anchor="middle">20</text>
<line x1="307.2" y1="1934.3" x2="307.2" y2="1937.8" stroke="#222" stroke-width="1.3"/>
<text x="307.2" y="1971.4" font-size="28.8" text-anchor="middle">30</text>
<line x1="359.2" y1="1934.3" x2="359.2" y2="1937.8" stroke="#222" stroke-width="1.3"/>
<text x="359.2" y="1971.4" font-size="28.8" text-anchor="middle">40</text>
<line x1="411.1" y1="1934.3" x2="411.1" y2="1937.8" stroke="#222" stroke-width="1.3"/>
<text x="411.1" y="1971.4" font-size="28.8" text-anchor="middle">50</text>
<line x1="463.1" y1="1934.3" x2="463.1" y2="1937.8" stroke="#222" stroke-width="1.3"/>
<text x="463.1" y="1971.4" font-size="28.8" text-anchor="middle">60</text>
<line x1="515" y1="1934.3" x2="515" y2="1937.8" stroke="#222" stroke-width="1.3"/>
<text x="515" y="1971.4" font-size="28.8" text-anchor="middle">70</text>
<line x1="567" y1="1934.3" x2="567" y2="1937.8" stroke="#222" stroke-width="1.3"/>
<text x="567" y="1971.4" font-size="28.8" text-anchor="middle">80</text>
<text x="359.2" y="2012.6" font-size="28.2" text-anchor="middle">TF (%)</text>
<text x="359.2" y="1405.8" font-size="28.8" text-anchor="middle" font-style="italic">BRCA1/2 PALB2</text>
<clipPath id="cf1"><rect x="615.4" y="1421.2" width="415.6" height="513.1"/></clipPath>
<g clip-path="url(#cf1)">
<polygon points="615.2,1799.2 718.4,1782.5 723.8,1772.5 734.4,1754.7 741.6,1745.8 752.2,1744.1 773.6,1713.8 784.3,1704.9 795,1701.3 809.2,1681.8 818.1,1672.9 830.6,1660.4 855.5,1628.4 882.9,1599.9 882.9,1883.6 844.8,1890 773.6,1898.9 718.4,1909.6 677.5,1920.3 656.1,1934.2 615.2,1934.2" fill="#fadbdc"/>
<line x1="719.3" y1="1421.2" x2="719.3" y2="1934.3" stroke="#000" stroke-width="1.3" stroke-dasharray="3.7 1.6"/>
<line x1="615.4" y1="1677.8" x2="1031" y2="1677.8" stroke="#000" stroke-width="1.3" stroke-dasharray="3.7 1.6"/>
<line x1="615.2" y1="1913.9" x2="884" y2="1765.4" stroke="#e02020" stroke-width="2.6"/>
<circle cx="655.1" cy="1882.9" r="2.5" fill="#ff7f00"/>
<circle cx="705.2" cy="1895.7" r="2.5" fill="#ff7f00"/>
<circle cx="781.4" cy="1626.6" r="2.5" fill="#ff7f00"/>
<circle cx="810.6" cy="1908.5" r="2.5" fill="#ff7f00"/>
<circle cx="828.4" cy="1857.3" r="2.5" fill="#ff7f00"/>
<circle cx="882.9" cy="1754.7" r="2.5" fill="#ff7f00"/>
<circle cx="615.2" cy="1934.2" r="2.5" fill="#ff7f00"/>
</g>
<rect x="615.4" y="1421.2" width="415.6" height="513.1" fill="none" stroke="#222" stroke-width="1.4"/>
<rect x="630.4" y="1441.6" width="260" height="26.8" rx="5" fill="#fff" stroke="#888" stroke-width="1.3"/>
<text x="637.8" y="1459" font-size="16.3" textLength="248.9" lengthAdjust="spacingAndGlyphs">Spearman ρ = 0.57 (p = 1.8e-01)</text>
<line x1="611.9" y1="1934.3" x2="615.4" y2="1934.3" stroke="#222" stroke-width="1.3"/>
<line x1="611.9" y1="1870.2" x2="615.4" y2="1870.2" stroke="#222" stroke-width="1.3"/>
<line x1="611.9" y1="1806" x2="615.4" y2="1806" stroke="#222" stroke-width="1.3"/>
<line x1="611.9" y1="1741.9" x2="615.4" y2="1741.9" stroke="#222" stroke-width="1.3"/>
<line x1="611.9" y1="1677.8" x2="615.4" y2="1677.8" stroke="#222" stroke-width="1.3"/>
<line x1="611.9" y1="1613.6" x2="615.4" y2="1613.6" stroke="#222" stroke-width="1.3"/>
<line x1="611.9" y1="1549.5" x2="615.4" y2="1549.5" stroke="#222" stroke-width="1.3"/>
<line x1="611.9" y1="1485.3" x2="615.4" y2="1485.3" stroke="#222" stroke-width="1.3"/>
<line x1="611.9" y1="1421.2" x2="615.4" y2="1421.2" stroke="#222" stroke-width="1.3"/>
<line x1="615.4" y1="1934.3" x2="615.4" y2="1937.8" stroke="#222" stroke-width="1.3"/>
<text x="615.4" y="1971.4" font-size="28.8" text-anchor="middle">0</text>
<line x1="667.4" y1="1934.3" x2="667.4" y2="1937.8" stroke="#222" stroke-width="1.3"/>
<text x="667.4" y="1971.4" font-size="28.8" text-anchor="middle">10</text>
<line x1="719.3" y1="1934.3" x2="719.3" y2="1937.8" stroke="#222" stroke-width="1.3"/>
<text x="719.3" y="1971.4" font-size="28.8" text-anchor="middle">20</text>
<line x1="771.2" y1="1934.3" x2="771.2" y2="1937.8" stroke="#222" stroke-width="1.3"/>
<text x="771.2" y="1971.4" font-size="28.8" text-anchor="middle">30</text>
<line x1="823.2" y1="1934.3" x2="823.2" y2="1937.8" stroke="#222" stroke-width="1.3"/>
<text x="823.2" y="1971.4" font-size="28.8" text-anchor="middle">40</text>
<line x1="875.1" y1="1934.3" x2="875.1" y2="1937.8" stroke="#222" stroke-width="1.3"/>
<text x="875.1" y="1971.4" font-size="28.8" text-anchor="middle">50</text>
<line x1="927.1" y1="1934.3" x2="927.1" y2="1937.8" stroke="#222" stroke-width="1.3"/>
<text x="927.1" y="1971.4" font-size="28.8" text-anchor="middle">60</text>
<line x1="979" y1="1934.3" x2="979" y2="1937.8" stroke="#222" stroke-width="1.3"/>
<text x="979" y="1971.4" font-size="28.8" text-anchor="middle">70</text>
<line x1="1031" y1="1934.3" x2="1031" y2="1937.8" stroke="#222" stroke-width="1.3"/>
<text x="1031" y="1971.4" font-size="28.8" text-anchor="middle">80</text>
<text x="823.2" y="2012.6" font-size="28.2" text-anchor="middle">TF (%)</text>
<text x="823.2" y="1405.8" font-size="28.8" text-anchor="middle" font-style="italic">HRR</text>
<clipPath id="cf2"><rect x="1082.5" y="1421.2" width="415.6" height="513.1"/></clipPath>
<g clip-path="url(#cf2)">
<polygon points="1099.8,1771.3 1182.3,1770.6 1210.8,1771.3 1239.3,1768.8 1267.8,1761.7 1289.1,1752.8 1317.6,1740.4 1342.5,1727.9 1367.4,1717.2 1395.9,1703 1424.3,1688.8 1451,1678.1 1451,1803.7 1431.5,1802.6 1395.9,1801.6 1360.3,1802.6 1324.7,1804.4 1296.2,1806.2 1267.8,1811.5 1239.3,1818.6 1210.8,1827.5 1182.3,1836.4 1146.8,1850.7 1099.8,1870.2" fill="#fadbdc"/>
<line x1="1186.4" y1="1421.2" x2="1186.4" y2="1934.3" stroke="#000" stroke-width="1.3" stroke-dasharray="3.7 1.6"/>
<line x1="1082.5" y1="1677.8" x2="1498.1" y2="1677.8" stroke="#000" stroke-width="1.3" stroke-dasharray="3.7 1.6"/>
<line x1="1099.8" y1="1822.9" x2="1451.7" y2="1750" stroke="#e02020" stroke-width="2.6"/>
<circle cx="1392" cy="1562.4" r="2.5" fill="#984ea3"/>
<circle cx="1308.3" cy="1639.3" r="2.5" fill="#984ea3"/>
<circle cx="1261.4" cy="1652.1" r="2.5" fill="#984ea3"/>
<circle cx="1222.6" cy="1664.9" r="2.5" fill="#984ea3"/>
<circle cx="1146.8" cy="1690.5" r="2.5" fill="#984ea3"/>
<circle cx="1232.9" cy="1690.5" r="2.5" fill="#984ea3"/>
<circle cx="1244.3" cy="1690.5" r="2.5" fill="#984ea3"/>
<circle cx="1155.7" cy="1703.3" r="2.5" fill="#984ea3"/>
<circle cx="1266" cy="1703.3" r="2.5" fill="#984ea3"/>
<circle cx="1371" cy="1741.8" r="2.5" fill="#984ea3"/>
<circle cx="1150" cy="1754.6" r="2.5" fill="#984ea3"/>
<circle cx="1320.1" cy="1754.6" r="2.5" fill="#984ea3"/>
<circle cx="1292" cy="1767.4" r="2.5" fill="#984ea3"/>
<circle cx="1252.8" cy="1780.2" r="2.5" fill="#984ea3"/>
<circle cx="1328.3" cy="1780.2" r="2.5" fill="#984ea3"/>
<circle cx="1180.9" cy="1793" r="2.5" fill="#984ea3"/>
<circle cx="1244.3" cy="1793" r="2.5" fill="#984ea3"/>
<circle cx="1328.3" cy="1793" r="2.5" fill="#984ea3"/>
<circle cx="1356.7" cy="1793" r="2.5" fill="#984ea3"/>
<circle cx="1207.3" cy="1805.8" r="2.5" fill="#984ea3"/>
<circle cx="1245.7" cy="1805.8" r="2.5" fill="#984ea3"/>
<circle cx="1274.2" cy="1805.8" r="2.5" fill="#984ea3"/>
<circle cx="1292.7" cy="1805.8" r="2.5" fill="#984ea3"/>
<circle cx="1371.7" cy="1805.8" r="2.5" fill="#984ea3"/>
<circle cx="1437.9" cy="1805.8" r="2.5" fill="#984ea3"/>
<circle cx="1162.4" cy="1818.6" r="2.5" fill="#984ea3"/>
<circle cx="1339.6" cy="1818.6" r="2.5" fill="#984ea3"/>
<circle cx="1412.2" cy="1818.6" r="2.5" fill="#984ea3"/>
<circle cx="1420.4" cy="1818.6" r="2.5" fill="#984ea3"/>
<circle cx="1153.5" cy="1831.5" r="2.5" fill="#984ea3"/>
<circle cx="1148.2" cy="1844.3" r="2.5" fill="#984ea3"/>
<circle cx="1211.5" cy="1857.1" r="2.5" fill="#984ea3"/>
<circle cx="1451.4" cy="1869.9" r="2.5" fill="#984ea3"/>
<circle cx="1102.6" cy="1882.7" r="2.5" fill="#984ea3"/>
<circle cx="1360.3" cy="1882.7" r="2.5" fill="#984ea3"/>
<circle cx="1175.2" cy="1895.5" r="2.5" fill="#984ea3"/>
<circle cx="1212.6" cy="1895.5" r="2.5" fill="#984ea3"/>
<circle cx="1099.8" cy="1921.1" r="2.5" fill="#984ea3"/>
<circle cx="1104.4" cy="1921.1" r="2.5" fill="#984ea3"/>
<circle cx="1111.2" cy="1934" r="2.5" fill="#984ea3"/>
</g>
<rect x="1082.5" y="1421.2" width="415.6" height="513.1" fill="none" stroke="#222" stroke-width="1.4"/>
<rect x="1098" y="1441.6" width="260" height="26.8" rx="5" fill="#fff" stroke="#888" stroke-width="1.3"/>
<text x="1106.6" y="1459" font-size="16.3" textLength="242.9" lengthAdjust="spacingAndGlyphs">Spearman ρ = 0.24 (p = 1.3e-01)</text>
<line x1="1079" y1="1934.3" x2="1082.5" y2="1934.3" stroke="#222" stroke-width="1.3"/>
<line x1="1079" y1="1870.2" x2="1082.5" y2="1870.2" stroke="#222" stroke-width="1.3"/>
<line x1="1079" y1="1806" x2="1082.5" y2="1806" stroke="#222" stroke-width="1.3"/>
<line x1="1079" y1="1741.9" x2="1082.5" y2="1741.9" stroke="#222" stroke-width="1.3"/>
<line x1="1079" y1="1677.8" x2="1082.5" y2="1677.8" stroke="#222" stroke-width="1.3"/>
<line x1="1079" y1="1613.6" x2="1082.5" y2="1613.6" stroke="#222" stroke-width="1.3"/>
<line x1="1079" y1="1549.5" x2="1082.5" y2="1549.5" stroke="#222" stroke-width="1.3"/>
<line x1="1079" y1="1485.3" x2="1082.5" y2="1485.3" stroke="#222" stroke-width="1.3"/>
<line x1="1079" y1="1421.2" x2="1082.5" y2="1421.2" stroke="#222" stroke-width="1.3"/>
<line x1="1082.5" y1="1934.3" x2="1082.5" y2="1937.8" stroke="#222" stroke-width="1.3"/>
<text x="1082.5" y="1971.4" font-size="28.8" text-anchor="middle">0</text>
<line x1="1134.5" y1="1934.3" x2="1134.5" y2="1937.8" stroke="#222" stroke-width="1.3"/>
<text x="1134.5" y="1971.4" font-size="28.8" text-anchor="middle">10</text>
<line x1="1186.4" y1="1934.3" x2="1186.4" y2="1937.8" stroke="#222" stroke-width="1.3"/>
<text x="1186.4" y="1971.4" font-size="28.8" text-anchor="middle">20</text>
<line x1="1238.3" y1="1934.3" x2="1238.3" y2="1937.8" stroke="#222" stroke-width="1.3"/>
<text x="1238.3" y="1971.4" font-size="28.8" text-anchor="middle">30</text>
<line x1="1290.3" y1="1934.3" x2="1290.3" y2="1937.8" stroke="#222" stroke-width="1.3"/>
<text x="1290.3" y="1971.4" font-size="28.8" text-anchor="middle">40</text>
<line x1="1342.2" y1="1934.3" x2="1342.2" y2="1937.8" stroke="#222" stroke-width="1.3"/>
<text x="1342.2" y="1971.4" font-size="28.8" text-anchor="middle">50</text>
<line x1="1394.2" y1="1934.3" x2="1394.2" y2="1937.8" stroke="#222" stroke-width="1.3"/>
<text x="1394.2" y="1971.4" font-size="28.8" text-anchor="middle">60</text>
<line x1="1446.2" y1="1934.3" x2="1446.2" y2="1937.8" stroke="#222" stroke-width="1.3"/>
<text x="1446.2" y="1971.4" font-size="28.8" text-anchor="middle">70</text>
<line x1="1498.1" y1="1934.3" x2="1498.1" y2="1937.8" stroke="#222" stroke-width="1.3"/>
<text x="1498.1" y="1971.4" font-size="28.8" text-anchor="middle">80</text>
<text x="1290.3" y="2012.6" font-size="28.2" text-anchor="middle">TF (%)</text>
<text x="1290.3" y="1405.8" font-size="28.8" text-anchor="middle" font-style="italic">TP53 PTEN RB1</text>
<clipPath id="cf3"><rect x="1541.3" y="1421.2" width="415.6" height="513.1"/></clipPath>
<g clip-path="url(#cf3)">
<polygon points="1804.5,1780.1 1813.1,1780.1 1857.5,1421.1 1956.1,1421.1 1956.1,1780.1 1926.9,1780.1 1804.5,1830.9" fill="#fadbdc"/>
<line x1="1645.2" y1="1421.2" x2="1645.2" y2="1934.3" stroke="#000" stroke-width="1.3" stroke-dasharray="3.7 1.6"/>
<line x1="1541.3" y1="1677.8" x2="1956.9" y2="1677.8" stroke="#000" stroke-width="1.3" stroke-dasharray="3.7 1.6"/>
<line x1="1804.5" y1="1802.5" x2="1956.1" y2="1763.3" stroke="#e02020" stroke-width="2.6"/>
<circle cx="1811.3" cy="1780.1" r="2.5" fill="#4daf4a"/>
<circle cx="1839" cy="1780.1" r="2.5" fill="#4daf4a"/>
<circle cx="1804.5" cy="1831.3" r="2.5" fill="#4daf4a"/>
<circle cx="1956.1" cy="1766.9" r="2.5" fill="#4daf4a"/>
</g>
<rect x="1541.3" y="1421.2" width="415.6" height="513.1" fill="none" stroke="#222" stroke-width="1.4"/>
<rect x="1556.5" y="1441.6" width="260" height="26.8" rx="5" fill="#fff" stroke="#888" stroke-width="1.3"/>
<text x="1565.9" y="1459" font-size="16.3" textLength="242.6" lengthAdjust="spacingAndGlyphs">Spearman ρ = 0.95 (p = 5.1e-02)</text>
<line x1="1537.8" y1="1934.3" x2="1541.3" y2="1934.3" stroke="#222" stroke-width="1.3"/>
<line x1="1537.8" y1="1870.2" x2="1541.3" y2="1870.2" stroke="#222" stroke-width="1.3"/>
<line x1="1537.8" y1="1806" x2="1541.3" y2="1806" stroke="#222" stroke-width="1.3"/>
<line x1="1537.8" y1="1741.9" x2="1541.3" y2="1741.9" stroke="#222" stroke-width="1.3"/>
<line x1="1537.8" y1="1677.8" x2="1541.3" y2="1677.8" stroke="#222" stroke-width="1.3"/>
<line x1="1537.8" y1="1613.6" x2="1541.3" y2="1613.6" stroke="#222" stroke-width="1.3"/>
<line x1="1537.8" y1="1549.5" x2="1541.3" y2="1549.5" stroke="#222" stroke-width="1.3"/>
<line x1="1537.8" y1="1485.3" x2="1541.3" y2="1485.3" stroke="#222" stroke-width="1.3"/>
<line x1="1537.8" y1="1421.2" x2="1541.3" y2="1421.2" stroke="#222" stroke-width="1.3"/>
<line x1="1541.3" y1="1934.3" x2="1541.3" y2="1937.8" stroke="#222" stroke-width="1.3"/>
<text x="1541.3" y="1971.4" font-size="28.8" text-anchor="middle">0</text>
<line x1="1593.2" y1="1934.3" x2="1593.2" y2="1937.8" stroke="#222" stroke-width="1.3"/>
<text x="1593.2" y="1971.4" font-size="28.8" text-anchor="middle">10</text>
<line x1="1645.2" y1="1934.3" x2="1645.2" y2="1937.8" stroke="#222" stroke-width="1.3"/>
<text x="1645.2" y="1971.4" font-size="28.8" text-anchor="middle">20</text>
<line x1="1697.1" y1="1934.3" x2="1697.1" y2="1937.8" stroke="#222" stroke-width="1.3"/>
<text x="1697.1" y="1971.4" font-size="28.8" text-anchor="middle">30</text>
<line x1="1749.1" y1="1934.3" x2="1749.1" y2="1937.8" stroke="#222" stroke-width="1.3"/>
<text x="1749.1" y="1971.4" font-size="28.8" text-anchor="middle">40</text>
<line x1="1801" y1="1934.3" x2="1801" y2="1937.8" stroke="#222" stroke-width="1.3"/>
<text x="1801" y="1971.4" font-size="28.8" text-anchor="middle">50</text>
<line x1="1853" y1="1934.3" x2="1853" y2="1937.8" stroke="#222" stroke-width="1.3"/>
<text x="1853" y="1971.4" font-size="28.8" text-anchor="middle">60</text>
<line x1="1904.9" y1="1934.3" x2="1904.9" y2="1937.8" stroke="#222" stroke-width="1.3"/>
<text x="1904.9" y="1971.4" font-size="28.8" text-anchor="middle">70</text>
<line x1="1956.9" y1="1934.3" x2="1956.9" y2="1937.8" stroke="#222" stroke-width="1.3"/>
<text x="1956.9" y="1971.4" font-size="28.8" text-anchor="middle">80</text>
<text x="1749.1" y="2012.6" font-size="28.2" text-anchor="middle">TF (%)</text>
<text x="1749.1" y="1405.8" font-size="28.8" text-anchor="middle" font-style="italic">CDK12</text>
<text x="0" y="0" font-size="29" text-anchor="middle" transform="translate(83.4 1678) rotate(-90)">sHRD score</text>
<text x="0.3" y="1402.9" font-size="43" font-weight="bold">f</text>
</svg>
</body></html>
